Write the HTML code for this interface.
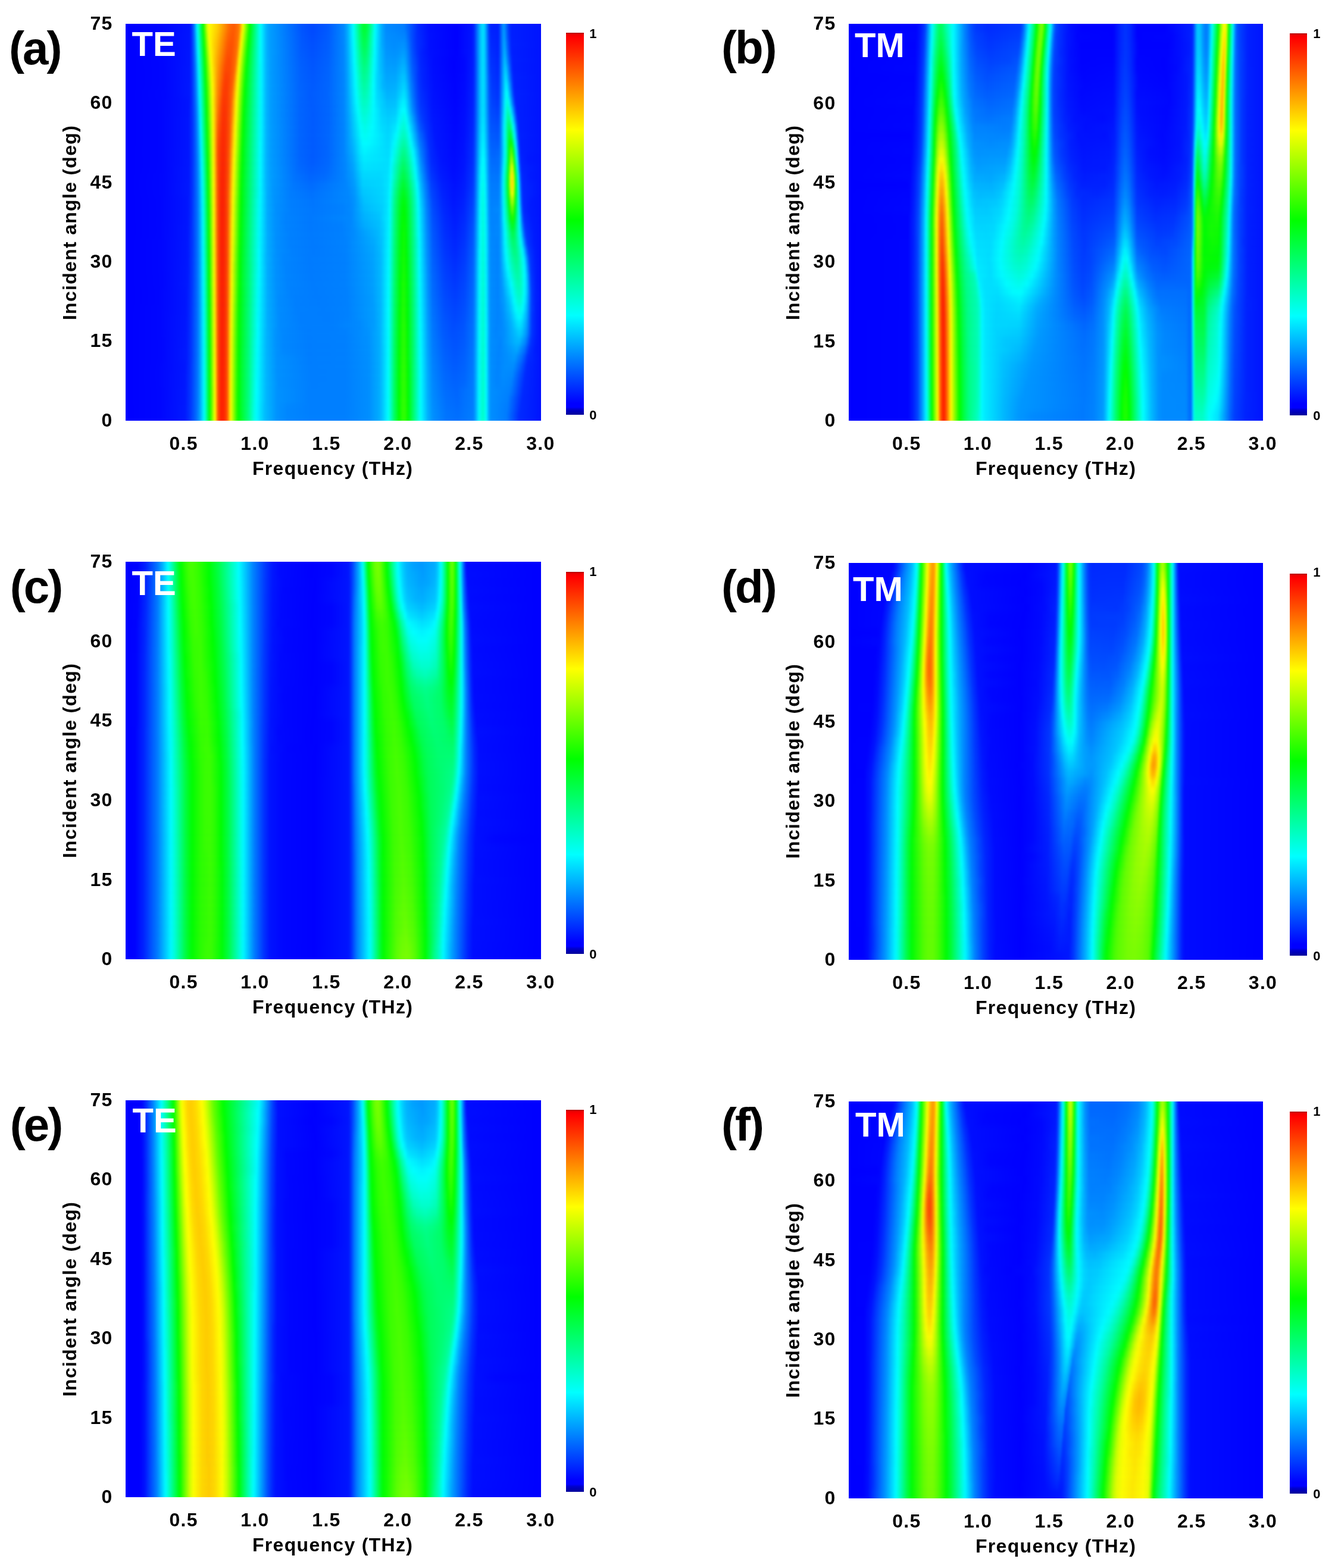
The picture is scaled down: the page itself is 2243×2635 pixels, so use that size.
<!DOCTYPE html>
<html lang="en"><head><meta charset="utf-8"><title>Absorption spectra versus incident angle</title>
<style>
html,body{margin:0;padding:0;background:#fff}
body{width:2243px;height:2635px;position:relative;overflow:hidden;font-family:"Liberation Sans",Arial,sans-serif;font-weight:bold;color:#000}
.p{position:absolute;left:0;top:0}
.h{position:absolute;width:696.8px;height:667.8px;overflow:hidden;background:#00f}
.g{position:absolute;left:0;width:697px;transform-origin:0 0;filter:url(#vb);}
.g i{display:block;width:697px;height:13.912px}
.t{position:absolute;white-space:nowrap;line-height:1;transform:translate(-50%,-50%)}
.yt,.xt,.xl,.yl{letter-spacing:1.3px}
.yt{position:absolute;white-space:nowrap;line-height:1;font-size:32px;transform:translate(-100%,-50%)}
.xt{position:absolute;white-space:nowrap;line-height:1;font-size:32px;transform:translate(-50%,-50%)}
.xl{position:absolute;white-space:nowrap;line-height:1;font-size:32px;transform:translate(-50%,-50%)}
.yl{position:absolute;white-space:nowrap;line-height:1;font-size:32px;transform:translate(-50%,-50%) rotate(-90deg)}
.pl{position:absolute;white-space:nowrap;line-height:1;letter-spacing:-3px;font-size:78px;transform:translate(0,-50%)}
.m{position:absolute;white-space:nowrap;line-height:1;font-size:58px;color:#fff;transform:translate(0,-50%)}
.cb{position:absolute;width:29.3px;height:641.5px;background:linear-gradient(180deg,#a00 0,#e00 3px,#f00 8px,#ff0 25.4%,#0f0 49%,#0ff 74%,#00f 97%,#00f 98%,#00c 98.6%,#009 100%)}
.ct{position:absolute;white-space:nowrap;line-height:1;font-size:22px;transform:translate(0,-50%)}
</style></head><body>
<svg width="0" height="0" style="position:absolute"><defs><filter id="vb" x="0" y="0" width="100%" height="100%" color-interpolation-filters="sRGB"><feGaussianBlur stdDeviation="1.5 5"/></filter></defs></svg>
<div class="h" style="left:211.1px;top:39.9px;width:697.7px;height:666.9px">
<div class="g" style="top:-27.8px;transform:scale(1.00129,0.99865)">
<i style="background:linear-gradient(90deg,#00f 0,#0005ff 62px,#0014ff 108px,#02f 110px,#0063ff 114px,#008dff 116px,#00f8ff 120px,#00ffd3 122px,#0f0 130px,#baff00 136px,#e9ff00 138px,#fffd00 140px,#ffcf00 154px,#ff6800 174px,#ff5a00 182px,#ff7800 190px,#ff9300 192px,#fff300 196px,#e0ff00 198px,#58ff00 204px,#07ff00 208px,#00ff1a 210px,#00ffe0 224px,#00fff7 226px,#00f4ff 228px,#00b4ff 236px,#009fff 242px,#0054ff 296px,#0049ff 314px,#005aff 340px,#08f 366px,#0af 372px,#00fffe 382px,#00ffcf 386px,#00ff60 394px,#00ff3a 398px,#00ff32 400px,#0f3 402px,#00ff4d 406px,#00ff7e 410px,#00fff2 418px,#00f4ff 420px,#00a9ff 430px,#008bff 437px,#007eff 467px,#0028ff 491px,#000fff 509px,#00f 555px,#0013ff 581px,#0029ff 585px,#00beff 595px,#00dfff 599px,#00dcff 601px,#00c4ff 603px,#004bff 609px,#002dff 611px,#0021ff 613px,#001fff 625px,#0030ff 627px,#008dff 633px,#09f 635px,#0036ff 643px,#001fff 647px,#0014ff 697px)"></i>
<i style="background:linear-gradient(90deg,#00f 0,#0005ff 62px,#0014ff 108px,#02f 110px,#0063ff 114px,#008dff 116px,#00f8ff 120px,#00ffd3 122px,#0f0 130px,#baff00 136px,#e9ff00 138px,#fffd00 140px,#ffcf00 154px,#ff6800 174px,#ff5a00 182px,#ff7800 190px,#ff9300 192px,#fff300 196px,#e0ff00 198px,#58ff00 204px,#07ff00 208px,#00ff1a 210px,#00ffe0 224px,#00fff7 226px,#00f4ff 228px,#00b4ff 236px,#009fff 242px,#0054ff 296px,#0049ff 314px,#005aff 340px,#08f 366px,#0af 372px,#00fffe 382px,#00ffcf 386px,#00ff60 394px,#00ff3a 398px,#00ff32 400px,#0f3 402px,#00ff4d 406px,#00ff7e 410px,#00fff2 418px,#00f4ff 420px,#00a9ff 430px,#008bff 437px,#007eff 467px,#0028ff 491px,#000fff 509px,#00f 555px,#0013ff 581px,#0029ff 585px,#00beff 595px,#00dfff 599px,#00dcff 601px,#00c4ff 603px,#004bff 609px,#002dff 611px,#0021ff 613px,#001fff 625px,#0030ff 627px,#008dff 633px,#09f 635px,#0036ff 643px,#001fff 647px,#0014ff 697px)"></i>
<i style="background:linear-gradient(90deg,#00f 0,#0005ff 62px,#0014ff 108px,#02f 110px,#0063ff 114px,#008dff 116px,#00f8ff 120px,#00ffd3 122px,#0f0 130px,#baff00 136px,#e9ff00 138px,#fffd00 140px,#ffcf00 154px,#ff6800 174px,#ff5a00 182px,#ff7800 190px,#ff9300 192px,#fff300 196px,#e0ff00 198px,#58ff00 204px,#07ff00 208px,#00ff1a 210px,#00ffe0 224px,#00fff7 226px,#00f4ff 228px,#00b4ff 236px,#009fff 242px,#0054ff 296px,#0049ff 314px,#005aff 340px,#08f 366px,#0af 372px,#00fffe 382px,#00ffcf 386px,#00ff60 394px,#00ff3a 398px,#00ff32 400px,#0f3 402px,#00ff4d 406px,#00ff7e 410px,#00fff2 418px,#00f4ff 420px,#00a9ff 430px,#008bff 437px,#007eff 467px,#0028ff 491px,#000fff 509px,#00f 555px,#0013ff 581px,#0029ff 585px,#00beff 595px,#00dfff 599px,#00dcff 601px,#00c4ff 603px,#004bff 609px,#002dff 611px,#0021ff 613px,#001fff 625px,#0030ff 627px,#008dff 633px,#09f 635px,#0036ff 643px,#001fff 647px,#0014ff 697px)"></i>
<i style="background:linear-gradient(90deg,#00f 0,#0005ff 62px,#0015ff 108px,#02f 110px,#005eff 114px,#0083ff 116px,#00eaff 120px,#00ffe2 122px,#00ff13 130px,#23ff00 132px,#d3ff00 138px,#f8ff00 140px,#fff500 142px,#ffc300 154px,#ff6300 172px,#f50 180px,#ff7100 188px,#ff8700 190px,#ffe500 194px,#ecff00 196px,#3aff00 204px,#14ff00 206px,#00ff0d 208px,#00ffe1 224px,#00fff7 226px,#00f4ff 228px,#00b4ff 236px,#009fff 242px,#0057ff 296px,#004cff 314px,#005cff 340px,#08f 366px,#00a9ff 372px,#00fcff 382px,#00ffd6 386px,#00ff6d 394px,#00ff4a 398px,#00ff42 400px,#00ff43 402px,#00ff5c 406px,#00fff8 418px,#00f0ff 420px,#0af 430px,#008fff 437px,#0085ff 469px,#0052ff 479px,#002eff 489px,#0010ff 509px,#00f 555px,#0014ff 581px,#0029ff 585px,#00beff 595px,#00dfff 599px,#00dcff 601px,#00c5ff 603px,#0050ff 609px,#0031ff 611px,#0025ff 613px,#0020ff 625px,#0030ff 627px,#008dff 633px,#009dff 635px,#008dff 637px,#006cff 639px,#003dff 643px,#001fff 647px,#0014ff 697px)"></i>
<i style="background:linear-gradient(90deg,#00f 0,#0005ff 62px,#0015ff 108px,#02f 110px,#0059ff 114px,#007bff 116px,#00dcff 120px,#00fff0 122px,#00ff26 130px,#0dff00 132px,#baff00 138px,#e7ff00 140px,#fffc00 142px,#ffde00 146px,#ffb800 154px,#ff5f00 170px,#ff5000 176px,#ff5400 180px,#ff6a00 186px,#ff7b00 188px,#f9ff00 194px,#48ff00 202px,#00ff01 206px,#00ffe2 224px,#00fff8 226px,#00f4ff 228px,#00b5ff 236px,#009fff 242px,#0059ff 296px,#0050ff 314px,#005eff 340px,#0087ff 366px,#00a7ff 372px,#00f7ff 382px,#00fff4 384px,#00ff7b 394px,#00ff5a 398px,#00ff53 400px,#00ff53 402px,#00ff6b 406px,#00fffd 418px,#00ecff 420px,#00acff 430px,#0093ff 437px,#008dff 451px,#0093ff 467px,#0087ff 471px,#004dff 481px,#0030ff 489px,#000eff 511px,#00f 555px,#0014ff 581px,#0029ff 585px,#00beff 595px,#00dfff 599px,#00dcff 601px,#00c6ff 603px,#0054ff 609px,#0036ff 611px,#0029ff 613px,#0021ff 625px,#0032ff 627px,#008fff 633px,#00a4ff 635px,#009bff 637px,#005eff 641px,#0021ff 647px,#0014ff 697px)"></i>
<i style="background:linear-gradient(90deg,#00f 0,#0005ff 62px,#0016ff 108px,#0039ff 112px,#0074ff 116px,#00fffd 122px,#00ff05 132px,#30ff00 134px,#a1ff00 138px,#d3ff00 140px,#f7ff00 142px,#fff100 144px,#ffaf00 154px,#ff5400 170px,#ff4f00 178px,#ff7100 186px,#ff9500 188px,#fff700 192px,#dcff00 194px,#2fff00 202px,#0cff00 204px,#00ff12 206px,#00ffe4 224px,#00fff8 226px,#00f5ff 228px,#00b5ff 236px,#00a0ff 242px,#005dff 294px,#0052ff 314px,#0060ff 340px,#0087ff 366px,#00a6ff 372px,#00f2ff 382px,#00fffa 384px,#00ff76 396px,#00ff63 400px,#00ff63 402px,#00ff79 406px,#00fcff 418px,#00c3ff 426px,#0097ff 437px,#0092ff 453px,#009eff 467px,#0091ff 471px,#0052ff 481px,#0032ff 489px,#001fff 497px,#000fff 511px,#0001ff 555px,#0015ff 581px,#002aff 585px,#00beff 595px,#00dfff 599px,#00dcff 601px,#00c7ff 603px,#0057ff 609px,#003aff 611px,#002dff 613px,#0023ff 625px,#03f 627px,#00abff 635px,#00abff 637px,#006cff 641px,#003aff 645px,#0026ff 647px,#001eff 649px,#0014ff 697px)"></i>
<i style="background:linear-gradient(90deg,#00f 0,#0005ff 62px,#0016ff 108px,#0038ff 112px,#006eff 116px,#0095ff 118px,#00f5ff 122px,#00ffda 124px,#00ff16 132px,#1cff00 134px,#beff00 140px,#e8ff00 142px,#fff900 144px,#ffd100 148px,#ffa600 154px,#ff5200 168px,#ff4800 172px,#ff4a00 176px,#ff6900 184px,#ff8700 186px,#ffe700 190px,#ecff00 192px,#3fff00 200px,#00ff05 204px,#00ffe5 224px,#00fff8 226px,#00f5ff 228px,#00b6ff 236px,#009cff 244px,#005fff 294px,#05f 314px,#0062ff 340px,#0087ff 366px,#00a4ff 372px,#00feff 384px,#00ff95 394px,#00ff72 400px,#00ff73 402px,#00ff87 406px,#00fff1 416px,#00f8ff 418px,#00c4ff 426px,#009cff 437px,#0098ff 453px,#0af 465px,#00a6ff 469px,#0058ff 481px,#0024ff 495px,#000dff 515px,#0001ff 551px,#0008ff 569px,#001bff 583px,#0043ff 587px,#00beff 595px,#00dfff 599px,#00dcff 601px,#00c8ff 603px,#005bff 609px,#003fff 611px,#0031ff 613px,#0026ff 625px,#0036ff 627px,#00b2ff 635px,#00bcff 637px,#0048ff 645px,#0020ff 649px,#0014ff 697px)"></i>
<i style="background:linear-gradient(90deg,#00f 0,#0005ff 64px,#0017ff 108px,#0036ff 112px,#0069ff 116px,#008cff 118px,#00e9ff 122px,#00ffe7 124px,#00ff25 132px,#0bff00 134px,#a9ff00 140px,#fbff00 144px,#ff9f00 154px,#ff5b00 164px,#ff4800 168px,#ff4a00 176px,#ff6300 182px,#ff7c00 184px,#fcff00 190px,#2aff00 200px,#08ff00 202px,#00ff13 204px,#00ffe5 224px,#00f5ff 228px,#00b6ff 236px,#009cff 244px,#0061ff 294px,#0057ff 314px,#0064ff 340px,#0087ff 366px,#00a3ff 372px,#00f8ff 384px,#00fff3 386px,#00ffa2 394px,#00ff82 400px,#00ff95 406px,#00fff6 416px,#00f5ff 418px,#00c5ff 426px,#00a1ff 437px,#00a0ff 453px,#00b7ff 465px,#00b3ff 469px,#005fff 481px,#0027ff 495px,#000eff 515px,#0001ff 551px,#0008ff 569px,#001cff 583px,#04f 587px,#00bfff 595px,#00dfff 599px,#0df 601px,#00c8ff 603px,#005fff 609px,#0043ff 611px,#0035ff 613px,#0029ff 625px,#0038ff 627px,#00baff 635px,#00cbff 637px,#00beff 639px,#003dff 647px,#0026ff 649px,#001eff 651px,#0014ff 697px)"></i>
<i style="background:linear-gradient(90deg,#00f 0,#0005ff 64px,#0017ff 108px,#0035ff 112px,#0065ff 116px,#0085ff 118px,#00deff 122px,#00fff2 124px,#00ff03 134px,#97ff00 140px,#efff00 144px,#fff100 146px,#f90 154px,#ff4500 166px,#ff3e00 170px,#ff4500 174px,#ff5e00 180px,#ff7300 182px,#fff000 188px,#e6ff00 190px,#3cff00 198px,#00ff05 202px,#00ffe6 224px,#00f5ff 228px,#00b6ff 236px,#009cff 244px,#0062ff 294px,#0059ff 314px,#0065ff 340px,#0086ff 366px,#00a1ff 372px,#00f2ff 384px,#00fffa 386px,#00ffa1 396px,#00ff91 400px,#00ffa2 406px,#00fffb 416px,#00d8ff 422px,#00a7ff 437px,#00a8ff 453px,#00c5ff 465px,#00c1ff 469px,#0067ff 481px,#0036ff 491px,#0025ff 497px,#000fff 515px,#0002ff 551px,#0009ff 569px,#001dff 583px,#0045ff 587px,#00bfff 595px,#00dfff 599px,#0df 601px,#00c9ff 603px,#0047ff 611px,#0036ff 615px,#002cff 625px,#003bff 627px,#00c0ff 635px,#00d9ff 637px,#00d8ff 639px,#004fff 647px,#0021ff 651px,#0014ff 697px)"></i>
<i style="background:linear-gradient(90deg,#00f 0,#0005ff 64px,#0018ff 108px,#0034ff 112px,#007eff 118px,#00fffd 124px,#00ff10 134px,#20ff00 136px,#e3ff00 144px,#fff900 146px,#ff9300 154px,#ff4500 164px,#ff3a00 168px,#ff4000 172px,#ff5900 178px,#ff6b00 180px,#faff00 188px,#2bff00 198px,#0aff00 200px,#00ff10 202px,#00ffe7 224px,#00f5ff 228px,#00b6ff 236px,#009dff 244px,#0065ff 292px,#005bff 314px,#06f 340px,#0086ff 366px,#00a0ff 372px,#00fdff 386px,#00ffbc 394px,#00ffa0 400px,#00ffb0 406px,#00fffe 416px,#00d9ff 422px,#00b6ff 432px,#00acff 439px,#00b0ff 453px,#00d4ff 467px,#00c3ff 471px,#007eff 479px,#004eff 487px,#0032ff 493px,#0024ff 499px,#000fff 517px,#0003ff 553px,#000aff 569px,#001eff 583px,#0046ff 587px,#00bfff 595px,#00dfff 599px,#0df 601px,#00caff 603px,#004bff 611px,#003aff 615px,#0030ff 625px,#003eff 627px,#00e4ff 637px,#00efff 639px,#00d8ff 641px,#04f 649px,#0029ff 651px,#001fff 653px,#0014ff 697px)"></i>
<i style="background:linear-gradient(90deg,#00f 0,#0006ff 66px,#0018ff 108px,#0034ff 112px,#0079ff 118px,#00f8ff 124px,#00ffda 126px,#00ff1b 134px,#14ff00 136px,#abff00 142px,#feff00 146px,#ff8e00 154px,#ff3c00 164px,#ff3b00 170px,#ff6200 178px,#ff7d00 180px,#fff000 186px,#e9ff00 188px,#41ff00 196px,#00ff01 200px,#00ffe7 224px,#00f5ff 228px,#00b7ff 236px,#009dff 244px,#0068ff 290px,#005cff 310px,#0065ff 338px,#0086ff 366px,#009eff 372px,#00f6ff 386px,#00fff8 388px,#00ffc9 394px,#00ffaf 400px,#00ffbd 406px,#00feff 416px,#0df 422px,#00b4ff 439px,#00b9ff 453px,#00e3ff 467px,#00d1ff 471px,#0079ff 481px,#0049ff 489px,#0030ff 495px,#0012ff 515px,#0003ff 553px,#000bff 569px,#0020ff 583px,#0048ff 587px,#00bfff 595px,#00dfff 599px,#0df 601px,#00caff 603px,#004fff 611px,#003eff 615px,#0034ff 625px,#0041ff 627px,#0ef 637px,#00fffc 639px,#00f8ff 641px,#005cff 649px,#0039ff 651px,#02f 653px,#0014ff 697px)"></i>
<i style="background:linear-gradient(90deg,#00f 0,#0005ff 60px,#0014ff 106px,#0023ff 110px,#005cff 116px,#0097ff 120px,#00efff 124px,#00ffe4 126px,#00ff25 134px,#0aff00 136px,#a1ff00 142px,#f8ff00 146px,#f80 154px,#ff4f00 160px,#ff3600 164px,#ff3b00 170px,#ff5700 176px,#ff6c00 178px,#fffe00 186px,#34ff00 196px,#12ff00 198px,#00ff09 200px,#00ffe8 224px,#00f5ff 228px,#00b7ff 236px,#009dff 244px,#06f 292px,#005cff 312px,#0067ff 340px,#0086ff 366px,#00a8ff 374px,#00fdff 388px,#00ffcb 396px,#00ffbf 400px,#00ffca 406px,#00fdff 416px,#00e1ff 422px,#00beff 439px,#00c2ff 453px,#00ecff 463px,#00f3ff 467px,#00e0ff 471px,#0084ff 481px,#004fff 489px,#0034ff 495px,#0013ff 515px,#0004ff 553px,#000cff 569px,#0021ff 583px,#0049ff 587px,#00c0ff 595px,#00dfff 599px,#0df 601px,#00cbff 603px,#0053ff 611px,#0043ff 615px,#0039ff 625px,#0046ff 627px,#0065ff 629px,#00f9ff 637px,#00ffe8 639px,#00ffe1 641px,#00fffd 643px,#0057ff 651px,#0034ff 653px,#0020ff 655px,#0014ff 697px)"></i>
<i style="background:linear-gradient(90deg,#00f 0,#0005ff 60px,#0014ff 106px,#0032ff 112px,#0070ff 118px,#0091ff 120px,#00e6ff 124px,#00ffed 126px,#02ff00 136px,#9f0 142px,#f4ff00 146px,#ffe500 148px,#ff8100 154px,#ff6900 156px,#ff3a00 162px,#ff3100 166px,#ff3b00 170px,#ff5b00 176px,#ff9700 180px,#ffe500 184px,#f4ff00 186px,#28ff00 196px,#09ff00 198px,#00ff10 200px,#00ffe8 224px,#00f5ff 228px,#00b7ff 236px,#009dff 244px,#06f 292px,#005cff 314px,#0067ff 340px,#0086ff 366px,#00a6ff 374px,#00fffb 390px,#00ffd8 396px,#00ffcd 400px,#00ffd6 406px,#00fcff 416px,#00d3ff 430px,#00c7ff 441px,#0cf 453px,#00fcff 463px,#0ff 469px,#0091ff 481px,#0058ff 489px,#003aff 495px,#0015ff 515px,#0005ff 553px,#000dff 569px,#0023ff 583px,#004bff 587px,#00c1ff 595px,#00e0ff 599px,#00deff 601px,#0cf 603px,#0057ff 611px,#004cff 613px,#0040ff 625px,#004dff 627px,#006bff 629px,#00fff8 637px,#00ffd2 639px,#00ffbc 641px,#00ffc6 643px,#00ffed 645px,#00e0ff 647px,#03f 655px,#001fff 657px,#0014ff 697px)"></i>
<i style="background:linear-gradient(90deg,#00f 0,#0005ff 60px,#0015ff 106px,#0032ff 112px,#006dff 118px,#008bff 120px,#0df 124px,#00fff6 126px,#00ff07 136px,#efff00 146px,#ffe700 148px,#ff7900 154px,#ff5f00 156px,#ff3500 162px,#ff3000 166px,#ff3b00 170px,#ff6100 176px,#ff7e00 178px,#fff100 184px,#e8ff00 186px,#1eff00 196px,#01ff00 198px,#00ff15 200px,#00ffe9 224px,#00f5ff 228px,#00b7ff 236px,#009dff 244px,#06f 292px,#005cff 314px,#0067ff 340px,#0086ff 366px,#00a3ff 374px,#00fff9 392px,#00ffde 398px,#00ffdb 402px,#00fbff 416px,#00d9ff 430px,#00cfff 441px,#00d9ff 453px,#00f7ff 459px,#00ffe6 467px,#00fff9 471px,#0067ff 489px,#004dff 493px,#0037ff 499px,#0017ff 515px,#0006ff 553px,#000eff 569px,#0025ff 583px,#004dff 587px,#00c3ff 595px,#00e3ff 599px,#00e0ff 601px,#00cfff 603px,#005cff 611px,#0051ff 613px,#0048ff 625px,#0054ff 627px,#0071ff 629px,#00e7ff 635px,#00ffed 637px,#00ff9b 641px,#00ff90 643px,#00ffa9 645px,#00ffda 647px,#00efff 649px,#005aff 655px,#0032ff 657px,#001fff 659px,#0014ff 697px)"></i>
<i style="background:linear-gradient(90deg,#00f 0,#0005ff 60px,#0015ff 106px,#0032ff 112px,#006aff 118px,#00abff 122px,#0ff 126px,#00ff0f 136px,#2f0 138px,#ebff00 146px,#ffe800 148px,#ff6f00 154px,#f50 156px,#ff3100 162px,#ff2e00 166px,#ff3b00 170px,#ff5100 174px,#ff6800 176px,#fffc00 184px,#38ff00 194px,#16ff00 196px,#00ff05 198px,#00ffea 224px,#00f5ff 228px,#00b7ff 236px,#009eff 244px,#06f 292px,#005cff 314px,#0067ff 340px,#0085ff 366px,#00a1ff 374px,#00fff9 394px,#00ffe7 402px,#00feff 414px,#00deff 430px,#00d5ff 441px,#00e8ff 453px,#00fdff 457px,#00ffdc 463px,#00ffd2 467px,#00fff4 473px,#00f6ff 475px,#006aff 491px,#0052ff 495px,#0035ff 503px,#0017ff 517px,#0007ff 553px,#000fff 569px,#0027ff 583px,#004fff 587px,#00c7ff 595px,#00e7ff 599px,#00e4ff 601px,#00d3ff 603px,#0061ff 611px,#0056ff 613px,#0050ff 625px,#005aff 627px,#0075ff 629px,#00efff 635px,#00ffe6 637px,#00ff82 641px,#00ff64 643px,#00ff68 645px,#00ff92 647px,#00ffcd 649px,#00faff 651px,#0053ff 657px,#002bff 659px,#001eff 661px,#0014ff 697px)"></i>
<i style="background:linear-gradient(90deg,#00f 0,#0005ff 60px,#0015ff 106px,#0032ff 112px,#0068ff 118px,#00a4ff 122px,#00f6ff 126px,#0fd 128px,#00ff17 136px,#1bff00 138px,#e7ff00 146px,#ffea00 148px,#ff6700 154px,#ff4c00 156px,#ff2d00 162px,#ff2d00 166px,#ff3b00 170px,#f50 174px,#ff6f00 176px,#ffe200 182px,#f7ff00 184px,#2eff00 194px,#0eff00 196px,#00ff0b 198px,#00ffeb 224px,#00f4ff 228px,#00b7ff 236px,#009eff 244px,#06f 292px,#005cff 314px,#0068ff 340px,#0085ff 366px,#009fff 374px,#00fffb 396px,#00fff3 402px,#00fdff 412px,#00d9ff 439px,#00dfff 445px,#00f9ff 453px,#00fffb 455px,#00ffc6 463px,#00ffbd 467px,#00ffcd 471px,#00ffef 475px,#00fbff 477px,#006eff 493px,#002fff 507px,#0017ff 519px,#0008ff 553px,#0010ff 569px,#0029ff 583px,#0052ff 587px,#00cbff 595px,#00ecff 599px,#00e9ff 601px,#00d8ff 603px,#0067ff 611px,#005cff 613px,#0056ff 625px,#005fff 627px,#0078ff 629px,#00efff 635px,#00ffe6 637px,#00ff40 643px,#00ff2b 645px,#00ff45 647px,#00ffcb 651px,#00f7ff 653px,#0075ff 657px,#003fff 659px,#0021ff 661px,#0014ff 697px)"></i>
<i style="background:linear-gradient(90deg,#00f 0,#0005ff 60px,#0015ff 106px,#0032ff 112px,#06f 118px,#009fff 122px,#0ef 126px,#00ffe7 128px,#00ff1f 136px,#13ff00 138px,#e3ff00 146px,#ffed00 148px,#ff6000 154px,#ff4500 156px,#ff2a00 162px,#ff2c00 166px,#ff3c00 170px,#ff5900 174px,#f70 176px,#ffec00 182px,#edff00 184px,#26ff00 194px,#08ff00 196px,#00ff10 198px,#00ffec 224px,#00fffc 226px,#00f3ff 228px,#00b7ff 236px,#009eff 244px,#06f 292px,#005cff 314px,#06f 338px,#0085ff 366px,#00b9ff 382px,#00feff 398px,#00feff 406px,#00dcff 439px,#00dfff 443px,#00f7ff 449px,#00fff4 453px,#00ffaf 463px,#00ffa5 467px,#00ffb4 471px,#00fffc 479px,#007fff 493px,#002eff 509px,#0017ff 521px,#0009ff 551px,#0010ff 567px,#002bff 583px,#05f 587px,#00d1ff 595px,#00f2ff 599px,#00efff 601px,#00deff 603px,#006cff 611px,#0062ff 613px,#005dff 625px,#0065ff 627px,#007aff 629px,#00ebff 635px,#00ffe9 637px,#00ffb4 639px,#00ff26 643px,#0bff00 645px,#12ff00 647px,#00ff23 649px,#00ffd1 653px,#00e8ff 655px,#0059ff 659px,#002aff 661px,#001eff 663px,#0014ff 697px)"></i>
<i style="background:linear-gradient(90deg,#00f 0,#0005ff 60px,#0016ff 106px,#0032ff 112px,#0064ff 118px,#009aff 122px,#00e6ff 126px,#00ffef 128px,#00ff27 136px,#0cff00 138px,#dfff00 146px,#ffef00 148px,#ff5d00 154px,#ff4100 156px,#ff2800 162px,#ff2b00 166px,#ff3d00 170px,#ff5f00 174px,#fff600 182px,#e3ff00 184px,#1eff00 194px,#02ff00 196px,#00ff14 198px,#00ffed 224px,#00fffd 226px,#00f2ff 228px,#00b7ff 236px,#009eff 244px,#06f 292px,#005cff 314px,#06f 338px,#0085ff 366px,#00b3ff 382px,#00e8ff 394px,#00f6ff 400px,#00deff 439px,#00e3ff 443px,#00f7ff 447px,#00ffe3 453px,#00ff96 463px,#00ff8b 467px,#00ff9b 471px,#00fff5 481px,#00f7ff 483px,#0080ff 495px,#002bff 511px,#0016ff 525px,#000aff 551px,#01f 567px,#002dff 583px,#0058ff 587px,#00d6ff 595px,#00f8ff 599px,#00f6ff 601px,#00e4ff 603px,#0072ff 611px,#0068ff 613px,#0064ff 619px,#006aff 627px,#009cff 631px,#00eaff 635px,#00ffe9 637px,#00ffb9 639px,#00ff17 643px,#3f0 645px,#59ff00 647px,#40ff00 649px,#00ff1b 651px,#00ff8a 653px,#00ffe3 655px,#00c9ff 657px,#0078ff 659px,#0039ff 661px,#001fff 663px,#0014ff 697px)"></i>
<i style="background:linear-gradient(90deg,#00f 0,#0005ff 60px,#0016ff 106px,#0032ff 112px,#0063ff 118px,#0095ff 122px,#00dfff 126px,#00fff8 128px,#00ff9a 132px,#00ff2f 136px,#05ff00 138px,#dcff00 146px,#fff100 148px,#ff5d00 154px,#ff4100 156px,#ff2600 162px,#ff2b00 166px,#ff3e00 170px,#ff6400 174px,#ff0 182px,#38ff00 192px,#00ff03 196px,#00ffef 224px,#00fffe 226px,#00f1ff 228px,#00b7ff 236px,#009eff 244px,#0067ff 292px,#005cff 314px,#0069ff 340px,#08f 368px,#00acff 382px,#00deff 394px,#00edff 400px,#00e1ff 441px,#0ff 447px,#00ff7e 463px,#00ff72 467px,#00ff92 473px,#00fff3 483px,#00f5ff 485px,#008eff 495px,#004dff 505px,#0029ff 513px,#0013ff 531px,#000bff 553px,#0015ff 569px,#002fff 583px,#005bff 587px,#00dcff 595px,#0ff 599px,#00fdff 601px,#00ebff 603px,#0078ff 611px,#006eff 613px,#006bff 619px,#0070ff 627px,#00a2ff 631px,#00f2ff 635px,#00ffdf 637px,#00ffb0 639px,#00ff63 641px,#00ff03 643px,#58ff00 645px,#92ff00 647px,#90ff00 649px,#3bff00 651px,#00ff42 653px,#00ffb3 655px,#00f5ff 657px,#009bff 659px,#0050ff 661px,#0024ff 663px,#0018ff 675px,#0014ff 697px)"></i>
<i style="background:linear-gradient(90deg,#00f 0,#0005ff 60px,#0017ff 106px,#0032ff 112px,#0076ff 120px,#00b3ff 124px,#0ff 128px,#00ffa2 132px,#00ff01 138px,#d9ff00 146px,#fff400 148px,#ff5f00 154px,#ff4100 156px,#ff2400 162px,#ff2a00 166px,#ff3e00 170px,#ff4e00 172px,#ff6a00 174px,#ffe200 180px,#f7ff00 182px,#31ff00 192px,#1f0 194px,#00ff07 196px,#0ff 226px,#00b7ff 236px,#009fff 244px,#006bff 290px,#0060ff 312px,#006aff 338px,#0087ff 368px,#00a5ff 382px,#00d6ff 394px,#00e4ff 400px,#00e0ff 434px,#00e4ff 441px,#00faff 445px,#00ff75 461px,#00ff5d 465px,#00ff5b 467px,#00ff7b 473px,#00fff4 485px,#00f2ff 487px,#009dff 495px,#0057ff 505px,#002fff 513px,#0018ff 529px,#000cff 551px,#0014ff 567px,#0032ff 583px,#005fff 587px,#00e3ff 595px,#00f9ff 597px,#00fff8 599px,#00fffb 601px,#00f1ff 603px,#0095ff 609px,#007dff 611px,#0073ff 613px,#0070ff 625px,#0078ff 627px,#008dff 629px,#00d7ff 633px,#00fff8 635px,#00ff94 639px,#00ff49 641px,#1eff00 643px,#86ff00 645px,#d1ff00 647px,#e4ff00 649px,#98ff00 651px,#10ff00 653px,#00ff75 655px,#00ffd4 657px,#00c8ff 659px,#0071ff 661px,#0034ff 663px,#0023ff 665px,#0014ff 697px)"></i>
<i style="background:linear-gradient(90deg,#00f 0,#0006ff 62px,#0017ff 106px,#03f 112px,#0074ff 120px,#00aeff 124px,#00f8ff 128px,#00ffdc 130px,#00ffab 132px,#00ff08 138px,#2fff00 140px,#d6ff00 146px,#fff600 148px,#ff6000 154px,#ff4100 156px,#ff2700 160px,#ff2400 164px,#ff3400 168px,#ff5100 172px,#ff7000 174px,#ffea00 180px,#efff00 182px,#2aff00 192px,#0cff00 194px,#00ff0b 196px,#00feff 226px,#00b7ff 236px,#009fff 244px,#0074ff 284px,#06f 310px,#006cff 334px,#0084ff 366px,#009fff 382px,#00d9ff 398px,#00daff 428px,#00e3ff 439px,#00f1ff 443px,#00fffc 445px,#00ff5f 461px,#00ff48 465px,#00ff45 467px,#00ff65 473px,#00fff8 487px,#00c0ff 493px,#008eff 499px,#05f 507px,#0037ff 513px,#001cff 529px,#000eff 551px,#0017ff 567px,#0035ff 583px,#0063ff 587px,#00caff 593px,#00fffe 597px,#00fff2 599px,#00f7ff 603px,#09f 609px,#0082ff 611px,#0078ff 613px,#07f 625px,#007fff 627px,#0096ff 629px,#00e5ff 633px,#00ffe6 635px,#00ff79 639px,#00ff30 641px,#3bff00 643px,#af0 645px,#fffd00 647px,#ffdb00 649px,#e2ff00 651px,#58ff00 653px,#00ff3a 655px,#00f5ff 659px,#0095ff 661px,#004cff 663px,#0028ff 665px,#001aff 679px,#0014ff 697px)"></i>
<i style="background:linear-gradient(90deg,#00f 0,#0006ff 62px,#0018ff 106px,#03f 112px,#0073ff 120px,#0af 124px,#00f2ff 128px,#00ffe3 130px,#00ffb3 132px,#00ff0e 138px,#29ff00 140px,#d3ff00 146px,#fff800 148px,#ff6100 154px,#ff4200 156px,#ff2600 160px,#ff2300 164px,#ff3400 168px,#f50 172px,#ff7500 174px,#fff100 180px,#e7ff00 182px,#25ff00 192px,#08ff00 194px,#00ff0f 196px,#00fcff 226px,#00b7ff 236px,#009bff 246px,#0079ff 282px,#006dff 312px,#0087ff 370px,#009eff 384px,#00d1ff 398px,#00d9ff 430px,#00e9ff 441px,#00f6ff 443px,#00fff4 445px,#0fa 451px,#00ff49 461px,#00ff31 465px,#00ff2f 467px,#00ff4f 473px,#00ffb4 483px,#00fffe 489px,#00bdff 495px,#008cff 501px,#0040ff 513px,#001fff 531px,#01f 553px,#001cff 569px,#0039ff 583px,#0067ff 587px,#0ef 595px,#00fff9 597px,#00ffec 599px,#0fe 601px,#00fdff 603px,#009eff 609px,#0086ff 611px,#007dff 613px,#007cff 625px,#0084ff 627px,#009bff 629px,#00ebff 633px,#00ffe0 635px,#00ff72 639px,#00ff2a 641px,#40ff00 643px,#b1ff00 645px,#fff400 647px,#ffd000 649px,#f6ff00 651px,#74ff00 653px,#00ff1d 655px,#00ffeb 659px,#00b2ff 661px,#0062ff 663px,#0031ff 665px,#0027ff 667px,#0014ff 697px)"></i>
<i style="background:linear-gradient(90deg,#00f 0,#0006ff 62px,#0018ff 106px,#0034ff 112px,#0072ff 120px,#00a7ff 124px,#00edff 128px,#00ffe9 130px,#00ffba 132px,#00ff13 138px,#24ff00 140px,#d0ff00 146px,#fffa00 148px,#ff6100 154px,#ff4200 156px,#ff2500 160px,#ff2300 164px,#ff3500 168px,#ff5800 172px,#fff800 180px,#e1ff00 182px,#1fff00 192px,#04ff00 194px,#00ff12 196px,#00fbff 226px,#00aeff 238px,#0098ff 248px,#007fff 276px,#0073ff 312px,#008aff 374px,#09f 384px,#00c8ff 398px,#00d7ff 430px,#00e5ff 439px,#00faff 443px,#00ffec 445px,#00ff9a 451px,#00ff46 459px,#00ff25 463px,#00ff1a 467px,#00ff3b 473px,#00ffa3 483px,#00ffef 489px,#00f6ff 491px,#00caff 495px,#08f 503px,#0048ff 513px,#0023ff 531px,#0014ff 551px,#001cff 567px,#003eff 583px,#006cff 587px,#00f3ff 595px,#00fff4 597px,#00ffe7 599px,#00ffea 601px,#00fffd 603px,#00a2ff 609px,#008aff 611px,#0080ff 613px,#0080ff 625px,#08f 627px,#009eff 629px,#00eaff 633px,#00ffe4 635px,#00ff7d 639px,#00ff3b 641px,#25ff00 643px,#8bff00 645px,#dbff00 647px,#fbff00 649px,#cdff00 651px,#60ff00 653px,#00ff1e 655px,#00ffdc 659px,#00c6ff 661px,#0074ff 663px,#003cff 665px,#0028ff 667px,#0014ff 697px)"></i>
<i style="background:linear-gradient(90deg,#00f 0,#0005ff 58px,#0015ff 104px,#0029ff 110px,#0071ff 120px,#00a4ff 124px,#00e9ff 128px,#00ffef 130px,#00ff8b 134px,#00ff18 138px,#1fff00 140px,#cdff00 146px,#fffc00 148px,#ff6200 154px,#ff4200 156px,#ff2400 160px,#f20 164px,#ff3500 168px,#ff5b00 172px,#fffe00 180px,#3bff00 190px,#0f0 194px,#00ffe7 222px,#00faff 226px,#00aeff 238px,#0095ff 250px,#0081ff 276px,#0078ff 314px,#008aff 376px,#0095ff 384px,#00c3ff 400px,#00d7ff 432px,#00edff 441px,#00feff 443px,#00ff8e 451px,#00ff37 459px,#00ff15 463px,#00ff09 467px,#00ff1a 471px,#00ff40 475px,#00ff96 483px,#00fffd 491px,#00d5ff 495px,#0081ff 505px,#0048ff 515px,#0025ff 533px,#0016ff 551px,#0020ff 567px,#0043ff 583px,#0071ff 587px,#00f7ff 595px,#00fff0 597px,#00ffe4 599px,#00ffe6 601px,#00fff9 603px,#00e7ff 605px,#00a4ff 609px,#008cff 611px,#0083ff 613px,#0083ff 625px,#008bff 627px,#00a0ff 629px,#00e6ff 633px,#00ffec 635px,#00ff8f 639px,#00ff57 641px,#00ff06 643px,#8fff00 647px,#a9ff00 649px,#87ff00 651px,#34ff00 653px,#00ff30 655px,#00ffd4 659px,#00d5ff 661px,#0086ff 663px,#0049ff 665px,#002aff 667px,#001aff 681px,#0014ff 697px)"></i>
<i style="background:linear-gradient(90deg,#00f 0,#0005ff 58px,#0015ff 104px,#0029ff 110px,#0071ff 120px,#00a3ff 124px,#00e5ff 128px,#00fff3 130px,#00ff90 134px,#00ff1d 138px,#1bff00 140px,#fffe00 148px,#ff6300 154px,#ff4200 156px,#ff2300 160px,#f20 164px,#ff3500 168px,#ff4300 170px,#ff5d00 172px,#fbff00 180px,#36ff00 190px,#00ff03 194px,#00ffe8 222px,#00f9ff 226px,#00aeff 238px,#0092ff 252px,#0081ff 278px,#007aff 316px,#0082ff 364px,#008dff 380px,#0bf 400px,#00d1ff 430px,#00e6ff 439px,#00fffd 443px,#0f8 451px,#00ff2e 459px,#00ff0c 463px,#0f0 467px,#00ff05 469px,#00ff23 473px,#00ff90 483px,#00fff8 491px,#00efff 493px,#0087ff 505px,#004eff 515px,#0029ff 533px,#0019ff 551px,#0023ff 567px,#0048ff 583px,#0076ff 587px,#00faff 595px,#0fe 597px,#00ffe1 599px,#00ffe4 601px,#00fff7 603px,#00e9ff 605px,#00a6ff 609px,#008eff 611px,#0085ff 613px,#008cff 627px,#009fff 629px,#00dfff 633px,#00fff6 635px,#00ffa3 639px,#00ff72 641px,#00ff30 643px,#15ff00 645px,#4aff00 647px,#60ff00 649px,#47ff00 651px,#0aff00 653px,#00ff43 655px,#00ffcd 659px,#00e6ff 661px,#005dff 665px,#03f 667px,#0028ff 669px,#001dff 677px,#0014ff 697px)"></i>
<i style="background:linear-gradient(90deg,#00f 0,#0005ff 58px,#0015ff 104px,#002aff 110px,#0070ff 120px,#00a1ff 124px,#00e2ff 128px,#00fff7 130px,#00ff95 134px,#00ff21 138px,#17ff00 140px,#fdff00 148px,#ff6400 154px,#ff4200 156px,#ff2300 160px,#f20 164px,#ff3600 168px,#f40 170px,#ff5f00 172px,#ffe000 178px,#f7ff00 180px,#32ff00 190px,#13ff00 192px,#00ff06 194px,#00ffea 222px,#00f8ff 226px,#00aeff 238px,#0095ff 250px,#0085ff 268px,#007bff 310px,#008aff 378px,#00b3ff 400px,#00c6ff 426px,#00f0ff 441px,#00fffb 443px,#00ff85 451px,#00ff2a 459px,#00ff07 463px,#03ff00 465px,#0f0 469px,#00ff1e 473px,#00ff8d 483px,#00fff4 491px,#00f2ff 493px,#008bff 505px,#0052ff 515px,#002aff 535px,#001cff 553px,#002aff 569px,#004dff 583px,#007aff 587px,#00fcff 595px,#00ffe0 599px,#00ffe2 601px,#00fff5 603px,#00ebff 605px,#00a8ff 609px,#0090ff 611px,#0086ff 613px,#0085ff 625px,#009dff 629px,#00feff 635px,#00ff8c 641px,#00ff1f 645px,#0bff00 647px,#1eff00 649px,#0fff00 651px,#00ff1c 653px,#00ff94 657px,#00f9ff 661px,#007aff 665px,#0049ff 667px,#002eff 669px,#001cff 681px,#0014ff 697px)"></i>
<i style="background:linear-gradient(90deg,#00f 0,#0005ff 58px,#0016ff 104px,#002bff 110px,#0070ff 120px,#00a0ff 124px,#00e0ff 128px,#00fffa 130px,#0f9 134px,#00ff25 138px,#14ff00 140px,#fbff00 148px,#ff6400 154px,#ff4200 156px,#ff2300 160px,#f20 164px,#ff3600 168px,#f40 170px,#ff6100 172px,#ffe400 178px,#f3ff00 180px,#2eff00 190px,#0fff00 192px,#00ff08 194px,#00ffeb 222px,#00f6ff 226px,#00aeff 238px,#0095ff 250px,#0085ff 268px,#007bff 310px,#0081ff 362px,#008cff 380px,#00acff 400px,#00c2ff 426px,#00d7ff 434px,#00f2ff 441px,#00fff8 443px,#00ff82 451px,#00ff26 459px,#00ff03 463px,#07ff00 465px,#04ff00 469px,#00ff1b 473px,#00ff89 483px,#00fff1 491px,#00f5ff 493px,#008eff 505px,#0056ff 515px,#002dff 535px,#001fff 553px,#002eff 569px,#0052ff 583px,#007fff 587px,#00feff 595px,#00ffdf 599px,#00ffe1 601px,#00fff4 603px,#00edff 605px,#0091ff 611px,#0087ff 613px,#0086ff 617px,#008bff 627px,#00b4ff 631px,#00f3ff 635px,#00ffeb 637px,#00ffcd 639px,#0f3 647px,#0f2 649px,#00ff27 651px,#00ff43 653px,#00fff7 661px,#0068ff 667px,#0043ff 669px,#0030ff 671px,#001cff 683px,#0014ff 697px)"></i>
<i style="background:linear-gradient(90deg,#00f 0,#0005ff 58px,#0016ff 104px,#0037ff 112px,#0070ff 120px,#009fff 124px,#00fffc 130px,#00ff9d 134px,#00ff29 138px,#10ff00 140px,#f8ff00 148px,#ff6500 154px,#ff4200 156px,#ff2300 160px,#ff1f00 162px,#ff2a00 166px,#ff4500 170px,#ff6200 172px,#ffe800 178px,#ef0 180px,#29ff00 190px,#0cff00 192px,#00ff0b 194px,#00ffed 222px,#00f5ff 226px,#00afff 238px,#0092ff 252px,#0083ff 274px,#007cff 312px,#0082ff 364px,#008dff 382px,#00baff 424px,#00ceff 432px,#00f4ff 441px,#00fff6 443px,#00ff7f 451px,#00ff23 459px,#0f0 463px,#0cff00 467px,#00ff06 471px,#00ff86 483px,#00ffef 491px,#00f8ff 493px,#0092ff 505px,#005aff 515px,#0030ff 535px,#02f 553px,#0031ff 569px,#0056ff 583px,#0083ff 587px,#00fffe 595px,#0fd 599px,#00ffe0 601px,#00fff2 603px,#0ef 605px,#0093ff 611px,#0087ff 615px,#008aff 627px,#00b1ff 631px,#00e9ff 635px,#00fff9 637px,#00ffdf 639px,#00ff62 647px,#00ff51 649px,#00ff50 651px,#00ff61 653px,#00ff7e 655px,#00ffec 661px,#00ebff 663px,#0060ff 669px,#0041ff 671px,#03f 673px,#001cff 685px,#0014ff 697px)"></i>
<i style="background:linear-gradient(90deg,#00f 0,#0006ff 60px,#0017ff 104px,#0037ff 112px,#0070ff 120px,#009eff 124px,#00fffe 130px,#00ffa0 134px,#00ff2c 138px,#0dff00 140px,#f6ff00 148px,#ffd100 150px,#ff6500 154px,#ff4200 156px,#ff2300 160px,#ff1f00 162px,#ff2b00 166px,#ff4500 170px,#ff6400 172px,#ffec00 178px,#eaff00 180px,#26ff00 190px,#09ff00 192px,#00ff0d 194px,#0fe 222px,#00f4ff 226px,#00afff 238px,#0092ff 252px,#0083ff 274px,#007cff 314px,#0084ff 370px,#00aeff 418px,#00c5ff 430px,#00f5ff 441px,#00fff4 443px,#00ff7c 451px,#00ff20 459px,#03ff00 463px,#0fff00 467px,#00ff03 471px,#00ff83 483px,#00fbff 493px,#0095ff 505px,#005dff 515px,#0034ff 535px,#0026ff 553px,#0035ff 569px,#005aff 583px,#0086ff 587px,#00fffc 595px,#00ffdc 599px,#00ffde 601px,#00fff1 603px,#00f0ff 605px,#0094ff 611px,#008aff 613px,#0085ff 625px,#09f 629px,#00fdff 637px,#00ff80 647px,#00ff68 651px,#00ff7f 655px,#00fff4 663px,#00e6ff 665px,#0063ff 671px,#0043ff 673px,#03f 675px,#001dff 685px,#0014ff 697px)"></i>
<i style="background:linear-gradient(90deg,#00f 0,#0006ff 60px,#0017ff 104px,#0038ff 112px,#0070ff 120px,#009dff 124px,#00fdff 130px,#00ffa4 134px,#00ff30 138px,#09ff00 140px,#f3ff00 148px,#ffd400 150px,#f60 154px,#ff4200 156px,#ff2300 160px,#ff1f00 162px,#ff2b00 166px,#ff4600 170px,#f60 172px,#fff000 178px,#e6ff00 180px,#6aff00 186px,#2f0 190px,#06ff00 192px,#00ff10 194px,#00fff0 222px,#00fffe 224px,#00f3ff 226px,#00afff 238px,#0090ff 254px,#0082ff 280px,#007cff 316px,#0083ff 368px,#00a8ff 416px,#00bdff 428px,#00f7ff 441px,#00fff2 443px,#00ff79 451px,#00ff1e 459px,#05ff00 463px,#1f0 467px,#00ff01 471px,#00ff81 483px,#00fdff 493px,#0098ff 505px,#0060ff 515px,#0037ff 535px,#0029ff 553px,#0039ff 569px,#005eff 583px,#0089ff 587px,#00e8ff 593px,#00fffa 595px,#00ffdb 599px,#0fd 601px,#00fff0 603px,#00f1ff 605px,#0096ff 611px,#008bff 613px,#0085ff 625px,#0098ff 629px,#00f5ff 637px,#00fff5 639px,#00ff8a 649px,#00ff7a 653px,#00ff8f 657px,#00fff2 665px,#0ef 667px,#0070ff 673px,#004dff 675px,#0037ff 677px,#001dff 687px,#0014ff 697px)"></i>
<i style="background:linear-gradient(90deg,#00f 0,#0006ff 60px,#0017ff 104px,#0039ff 112px,#0070ff 120px,#009cff 124px,#00fbff 130px,#00ffda 132px,#00ffa7 134px,#0f3 138px,#06ff00 140px,#f1ff00 148px,#ffd600 150px,#f60 154px,#ff4200 156px,#ff2300 160px,#f20 164px,#ff3600 168px,#ff4600 170px,#ff6700 172px,#fff400 178px,#e2ff00 180px,#65ff00 186px,#1eff00 190px,#03ff00 192px,#00ff12 194px,#0ff 224px,#00b7ff 236px,#0096ff 250px,#08f 264px,#007dff 308px,#0082ff 368px,#00a4ff 414px,#0bf 428px,#00f8ff 441px,#00fff0 443px,#0f7 451px,#00ff1b 459px,#08ff00 463px,#14ff00 467px,#01ff00 471px,#00ff10 473px,#00ff7e 483px,#00fffe 493px,#009aff 505px,#0063ff 515px,#003bff 535px,#002dff 553px,#003cff 569px,#0061ff 583px,#008cff 587px,#00eaff 593px,#00fff9 595px,#00ffd9 599px,#00ffdc 601px,#0fe 603px,#00f2ff 605px,#00b0ff 609px,#0097ff 611px,#008cff 613px,#0085ff 625px,#0096ff 629px,#0ff 639px,#00ffa2 649px,#00ff8a 655px,#00ff9d 659px,#00fff5 667px,#00efff 669px,#0074ff 675px,#004fff 677px,#0038ff 679px,#001fff 687px,#0014ff 697px)"></i>
<i style="background:linear-gradient(90deg,#00f 0,#0006ff 60px,#0018ff 104px,#0039ff 112px,#0070ff 120px,#009cff 124px,#00f9ff 130px,#0fd 132px,#00ffab 134px,#03ff00 140px,#ef0 148px,#ffd800 150px,#ff6700 154px,#ff4200 156px,#ff2300 160px,#f20 164px,#ff3700 168px,#ff4700 170px,#ff6900 172px,#fff800 178px,#3bff00 188px,#0f0 192px,#00ff26 196px,#00ff7d 208px,#00feff 224px,#00afff 238px,#0093ff 252px,#0085ff 270px,#007dff 310px,#0082ff 368px,#00a2ff 414px,#0bf 428px,#00f9ff 441px,#00ffef 443px,#00ff74 451px,#00ff19 459px,#00ff05 461px,#16ff00 467px,#04ff00 471px,#00ff0e 473px,#00ff7c 483px,#00fffc 493px,#0ef 495px,#008fff 507px,#06f 515px,#003fff 535px,#0031ff 553px,#0040ff 569px,#0063ff 583px,#008eff 587px,#00ebff 593px,#00fff8 595px,#00ffd8 599px,#00ffdb 601px,#00f3ff 605px,#00b1ff 609px,#0098ff 611px,#008cff 613px,#0085ff 625px,#0093ff 629px,#00fffe 641px,#00ffb9 649px,#00ff9a 655px,#00ff9a 657px,#00ffae 661px,#00ffeb 667px,#00fcff 669px,#00dfff 671px,#0062ff 677px,#0042ff 679px,#0032ff 681px,#0021ff 687px,#0014ff 697px)"></i>
<i style="background:linear-gradient(90deg,#00f 0,#0006ff 62px,#0018ff 104px,#003aff 112px,#0070ff 120px,#009bff 124px,#00f7ff 130px,#00ffe0 132px,#00ffae 134px,#0f0 140px,#ebff00 148px,#ffda00 150px,#ff6800 154px,#ff4200 156px,#ff2300 160px,#f20 164px,#ff3700 168px,#ff4800 170px,#ff6b00 172px,#fffb00 178px,#37ff00 188px,#00ff02 192px,#00ff28 196px,#00ff6f 206px,#00ffe5 220px,#00fcff 224px,#00afff 238px,#0093ff 252px,#0086ff 270px,#007dff 312px,#0082ff 368px,#00a1ff 414px,#00baff 428px,#00faff 441px,#00ffed 443px,#00ff72 451px,#00ff17 459px,#00ff03 461px,#18ff00 467px,#06ff00 471px,#00ff0c 473px,#00ff79 483px,#00fffa 493px,#00f0ff 495px,#0092ff 507px,#0069ff 515px,#0042ff 535px,#0035ff 553px,#0043ff 569px,#0065ff 583px,#0090ff 587px,#00ecff 593px,#00fff6 595px,#00ffd7 599px,#00ffd9 601px,#00f5ff 605px,#00b2ff 609px,#09f 611px,#008dff 613px,#0085ff 625px,#009cff 631px,#00faff 643px,#00ffb6 653px,#00ffa7 657px,#00ffa7 659px,#00ffbd 663px,#00fffc 669px,#00ebff 671px,#00caff 673px,#004eff 679px,#0036ff 681px,#001dff 689px,#0014ff 697px)"></i>
<i style="background:linear-gradient(90deg,#00f 0,#0006ff 62px,#0019ff 104px,#003aff 112px,#0070ff 120px,#009aff 124px,#00f5ff 130px,#00ffe2 132px,#00ffb1 134px,#00ff03 140px,#e9ff00 148px,#fd0 150px,#ff6800 154px,#ff4200 156px,#ff2300 160px,#f20 164px,#ff3700 168px,#ff4800 170px,#ff6c00 172px,#ff0 178px,#3f0 188px,#00ff05 192px,#00ff2a 196px,#00ff80 208px,#00ffe7 220px,#00fbff 224px,#00afff 238px,#0093ff 252px,#0085ff 272px,#007eff 314px,#0082ff 368px,#00a0ff 414px,#00baff 428px,#00fcff 441px,#00ffec 443px,#00ff70 451px,#00ff14 459px,#00ff01 461px,#18ff00 465px,#1aff00 467px,#08ff00 471px,#00ff09 473px,#0f7 483px,#00fff8 493px,#00f2ff 495px,#0094ff 507px,#006cff 515px,#0046ff 535px,#0039ff 553px,#0047ff 569px,#0067ff 583px,#0091ff 587px,#0ef 593px,#00fff5 595px,#00ffd6 599px,#00ffd8 601px,#00f6ff 605px,#00b3ff 609px,#09f 611px,#008eff 613px,#0085ff 625px,#0096ff 631px,#00fffe 647px,#00ffc0 655px,#00ffb2 659px,#00ffbe 663px,#00fff9 669px,#00d4ff 673px,#0059ff 679px,#003bff 681px,#001eff 689px,#0014ff 697px)"></i>
<i style="background:linear-gradient(90deg,#00f 0,#0005ff 56px,#0016ff 102px,#0030ff 110px,#0070ff 120px,#009aff 124px,#00f4ff 130px,#00ffe5 132px,#00ffb4 134px,#00ff06 140px,#3f0 142px,#e6ff00 148px,#ffdf00 150px,#ff6900 154px,#ff4200 156px,#ff2300 160px,#f20 164px,#ff3700 168px,#ff4900 170px,#ff6e00 172px,#fcff00 178px,#30ff00 188px,#1f0 190px,#00ff07 192px,#00ff81 208px,#00ffe9 220px,#00f9ff 224px,#00b0ff 238px,#0091ff 254px,#0083ff 278px,#007eff 318px,#0082ff 370px,#009fff 414px,#00b9ff 428px,#00fdff 441px,#00ffea 443px,#00ff6e 451px,#01ff00 461px,#1aff00 465px,#1cff00 467px,#00ff07 473px,#00ff75 483px,#00fff6 493px,#00f4ff 495px,#0096ff 507px,#006eff 515px,#0049ff 535px,#003dff 553px,#004aff 569px,#006aff 583px,#0093ff 587px,#00efff 593px,#00fff4 595px,#00ffd5 599px,#00ffd7 601px,#00f6ff 605px,#00b3ff 609px,#009aff 611px,#008eff 613px,#0085ff 625px,#009aff 633px,#00f9ff 649px,#00ffc9 657px,#00ffc0 661px,#00ffd3 665px,#00fffb 669px,#00d3ff 673px,#003fff 681px,#0024ff 687px,#0014ff 697px)"></i>
<i style="background:linear-gradient(90deg,#00f 0,#0005ff 56px,#0016ff 102px,#0031ff 110px,#0070ff 120px,#09f 124px,#00f2ff 130px,#00ffe7 132px,#00ffb7 134px,#00ff09 140px,#30ff00 142px,#e4ff00 148px,#ffe100 150px,#ff6a00 154px,#ff4300 156px,#ff2300 160px,#f20 164px,#ff3700 168px,#ff4900 170px,#ff7000 172px,#ffd800 176px,#f8ff00 178px,#2cff00 188px,#0eff00 190px,#00ff09 192px,#00ff82 208px,#00ffeb 220px,#00f8ff 224px,#00b0ff 238px,#008eff 256px,#0081ff 286px,#007eff 324px,#0082ff 370px,#009dff 414px,#00b9ff 428px,#00feff 441px,#00ffe9 443px,#00ff6c 451px,#03ff00 461px,#1cff00 465px,#1fff00 467px,#00ff05 473px,#00ff74 483px,#00fff4 493px,#00f6ff 495px,#09f 507px,#0071ff 515px,#004dff 535px,#0041ff 553px,#004dff 569px,#006cff 583px,#0095ff 587px,#00f0ff 593px,#00fff3 595px,#00ffd4 599px,#00ffd6 601px,#00f7ff 605px,#00b4ff 609px,#009aff 611px,#008fff 613px,#0085ff 625px,#009eff 635px,#00cdff 645px,#00f8ff 651px,#00fff6 653px,#00ffdb 657px,#00ffd0 661px,#00ffd4 663px,#00fff2 667px,#00f7ff 669px,#00c9ff 673px,#0040ff 681px,#0024ff 687px,#0014ff 697px)"></i>
<i style="background:linear-gradient(90deg,#00f 0,#0006ff 58px,#0016ff 102px,#0032ff 110px,#0070ff 120px,#09f 124px,#00f0ff 130px,#00ffe9 132px,#00ffb9 134px,#00ff0c 140px,#2dff00 142px,#e1ff00 148px,#ffe400 150px,#ff6a00 154px,#ff4300 156px,#ff2300 160px,#f20 164px,#ff3700 168px,#ff4a00 170px,#ff7100 172px,#ffdc00 176px,#f5ff00 178px,#74ff00 184px,#29ff00 188px,#0bff00 190px,#00ff0b 192px,#00ff84 208px,#00ffed 220px,#00f7ff 224px,#00b0ff 238px,#008fff 256px,#0081ff 288px,#007fff 332px,#0083ff 372px,#009fff 416px,#00b8ff 428px,#0ff 441px,#00ffe8 443px,#00ff6b 451px,#00ff0e 459px,#05ff00 461px,#1eff00 465px,#21ff00 467px,#00ff03 473px,#00ff72 483px,#00fff2 493px,#00f8ff 495px,#009bff 507px,#0074ff 515px,#0050ff 535px,#0045ff 553px,#0050ff 569px,#006eff 583px,#0096ff 587px,#00f1ff 593px,#00fff2 595px,#00ffd3 599px,#00ffd6 601px,#00f8ff 605px,#00b4ff 609px,#009bff 611px,#008fff 613px,#0085ff 625px,#0093ff 633px,#00c1ff 645px,#00fffc 655px,#00ffe7 661px,#00fff5 665px,#00f9ff 667px,#00bcff 673px,#003fff 681px,#001fff 689px,#0014ff 697px)"></i>
<i style="background:linear-gradient(90deg,#00f 0,#0006ff 58px,#0017ff 102px,#03f 110px,#0070ff 120px,#0098ff 124px,#00efff 130px,#00ffeb 132px,#00ffbc 134px,#00ff0f 140px,#2bff00 142px,#deff00 148px,#ffe600 150px,#ff6b00 154px,#ff4300 156px,#ff2300 160px,#f20 164px,#ff3700 168px,#ff4a00 170px,#ff7300 172px,#ffdf00 176px,#f2ff00 178px,#70ff00 184px,#26ff00 188px,#09ff00 190px,#00ff0d 192px,#00ff75 206px,#00ffef 220px,#00f5ff 224px,#00b0ff 238px,#008dff 258px,#0080ff 294px,#007fff 340px,#0083ff 372px,#009eff 416px,#00b8ff 428px,#00fffe 441px,#00ffe7 443px,#00ff69 451px,#00ff0c 459px,#07ff00 461px,#20ff00 465px,#23ff00 467px,#00ff01 473px,#00ff70 483px,#00fff1 493px,#00f9ff 495px,#009dff 507px,#0076ff 515px,#0054ff 535px,#0048ff 553px,#0053ff 569px,#0070ff 583px,#0098ff 587px,#00f2ff 593px,#00fff1 595px,#00ffd2 599px,#00ffd5 601px,#00f8ff 605px,#00b5ff 609px,#009bff 611px,#008fff 613px,#0085ff 625px,#0090ff 633px,#00b5ff 645px,#00f4ff 657px,#00fdff 661px,#00f0ff 665px,#00aeff 673px,#003eff 681px,#0031ff 683px,#001aff 691px,#0014ff 697px)"></i>
<i style="background:linear-gradient(90deg,#00f 0,#0006ff 58px,#0017ff 102px,#03f 110px,#0070ff 120px,#0098ff 124px,#0ef 130px,#00ffed 132px,#00ffbe 134px,#0f1 140px,#28ff00 142px,#dcff00 148px,#ffe800 150px,#ff6c00 154px,#ff4300 156px,#ff2300 160px,#ff1f00 162px,#ff2b00 166px,#ff4b00 170px,#ff7400 172px,#ffe200 176px,#efff00 178px,#6dff00 184px,#23ff00 188px,#07ff00 190px,#00ff0f 192px,#00ff76 206px,#00fff0 220px,#00fffe 222px,#00f4ff 224px,#00b0ff 238px,#008dff 258px,#0080ff 296px,#0080ff 348px,#008cff 394px,#00a0ff 418px,#00b8ff 428px,#00fffd 441px,#00ffe6 443px,#00ff68 451px,#00ff0b 459px,#09ff00 461px,#2f0 465px,#25ff00 467px,#1fff00 469px,#0f0 473px,#00ff6f 483px,#00ffef 493px,#00fbff 495px,#009fff 507px,#0079ff 515px,#0059ff 533px,#004cff 551px,#0054ff 567px,#0072ff 583px,#009aff 587px,#00f3ff 593px,#00fff0 595px,#00ffd1 599px,#00ffd4 601px,#00f9ff 605px,#009bff 611px,#008fff 613px,#0085ff 623px,#008aff 631px,#009bff 639px,#00b1ff 647px,#0df 657px,#00e4ff 661px,#00d9ff 665px,#00a1ff 673px,#003eff 681px,#0032ff 683px,#001aff 691px,#0014ff 697px)"></i>
<i style="background:linear-gradient(90deg,#00f 0,#0006ff 58px,#0018ff 102px,#0034ff 110px,#0070ff 120px,#0098ff 124px,#00edff 130px,#0fe 132px,#00ffc0 134px,#00ff13 140px,#26ff00 142px,#d9ff00 148px,#ffea00 150px,#ff6d00 154px,#ff4300 156px,#ff2300 160px,#ff1f00 162px,#ff2b00 166px,#ff4b00 170px,#ff7600 172px,#ffe500 176px,#ecff00 178px,#69ff00 184px,#20ff00 188px,#05ff00 190px,#0f1 192px,#0f7 206px,#00feff 222px,#00b7ff 236px,#0094ff 252px,#0089ff 264px,#007fff 306px,#0081ff 368px,#0094ff 408px,#00b0ff 426px,#00f2ff 439px,#00fffc 441px,#00ffe5 443px,#0f6 451px,#00ff09 459px,#0bff00 461px,#24ff00 465px,#26ff00 467px,#21ff00 469px,#02ff00 473px,#00ff6e 483px,#0fe 493px,#00fcff 495px,#00a1ff 507px,#007bff 515px,#005cff 533px,#0050ff 549px,#0057ff 567px,#0073ff 583px,#009bff 587px,#00f4ff 593px,#00ffef 595px,#00ffd1 599px,#00ffd3 601px,#00f9ff 605px,#009bff 611px,#008fff 613px,#0086ff 621px,#008fff 635px,#00cfff 661px,#00c5ff 665px,#0093ff 673px,#003bff 681px,#0031ff 683px,#001aff 691px,#0014ff 697px)"></i>
<i style="background:linear-gradient(90deg,#00f 0,#0006ff 60px,#0018ff 102px,#0035ff 110px,#0071ff 120px,#0098ff 124px,#00ecff 130px,#00fff0 132px,#00ffc2 134px,#00ff16 140px,#24ff00 142px,#d7ff00 148px,#ffed00 150px,#ff6d00 154px,#ff4300 156px,#ff2300 160px,#ff1f00 162px,#ff2b00 166px,#ff4c00 170px,#f70 172px,#ffe800 176px,#e9ff00 178px,#6f0 184px,#1eff00 188px,#03ff00 190px,#00ff12 192px,#00ff78 206px,#00ffe5 218px,#00fdff 222px,#00b7ff 236px,#0094ff 252px,#0089ff 264px,#007fff 306px,#0081ff 368px,#0093ff 408px,#00afff 426px,#00f2ff 439px,#00fffc 441px,#00ffe4 443px,#00ff65 451px,#00ff08 459px,#0cff00 461px,#26ff00 465px,#28ff00 467px,#2f0 469px,#04ff00 473px,#00ff6d 483px,#00ffd6 491px,#00fdff 495px,#00a3ff 507px,#007eff 515px,#005dff 535px,#0053ff 553px,#005cff 569px,#0075ff 583px,#009cff 587px,#00f5ff 593px,#00ffef 595px,#00ffd0 599px,#00ffd3 601px,#00ffe6 603px,#00faff 605px,#00b5ff 609px,#009bff 611px,#008fff 613px,#0086ff 629px,#00b7ff 655px,#00b8ff 661px,#0087ff 671px,#003cff 679px,#0031ff 681px,#001cff 689px,#0014ff 697px)"></i>
<i style="background:linear-gradient(90deg,#00f 0,#0006ff 60px,#0019ff 102px,#0036ff 110px,#0071ff 120px,#0098ff 124px,#00ebff 130px,#00fff1 132px,#00ffc4 134px,#00ff18 140px,#2f0 142px,#d5ff00 148px,#ffef00 150px,#ff6e00 154px,#ff4300 156px,#ff2300 160px,#ff1f00 162px,#ff2b00 166px,#ff4c00 170px,#ff7900 172px,#ffea00 176px,#e6ff00 178px,#3dff00 186px,#01ff00 190px,#00ff35 196px,#00ff79 206px,#00ffe7 218px,#00fbff 222px,#00b7ff 236px,#0095ff 252px,#0089ff 264px,#007fff 308px,#0081ff 368px,#0092ff 408px,#00afff 426px,#00cbff 432px,#00f3ff 439px,#00fffb 441px,#00ffe3 443px,#00ff64 451px,#00ff06 459px,#0eff00 461px,#27ff00 465px,#2aff00 467px,#24ff00 469px,#05ff00 473px,#00ff6c 483px,#00ffd5 491px,#00feff 495px,#00a5ff 507px,#0080ff 515px,#0060ff 535px,#0056ff 553px,#005fff 569px,#07f 583px,#009eff 587px,#00f6ff 593px,#0fe 595px,#00ffcf 599px,#00ffd2 601px,#00ffe5 603px,#00faff 605px,#00b5ff 609px,#009bff 611px,#008fff 613px,#0085ff 627px,#00a7ff 657px,#0072ff 669px,#03f 677px,#001cff 687px,#0014ff 697px)"></i>
<i style="background:linear-gradient(90deg,#00f 0,#0006ff 60px,#0019ff 102px,#0036ff 110px,#0071ff 120px,#0098ff 124px,#00eaff 130px,#00fff2 132px,#00ffc6 134px,#00ff19 140px,#20ff00 142px,#d2ff00 148px,#fff100 150px,#ff6f00 154px,#ff4300 156px,#ff2300 160px,#ff1f00 162px,#ff2b00 166px,#ff4d00 170px,#ff7a00 172px,#ffed00 176px,#e4ff00 178px,#3aff00 186px,#00ff01 190px,#00ff26 194px,#00ff7a 206px,#00ffe9 218px,#00faff 222px,#00b7ff 236px,#0092ff 254px,#007fff 308px,#0081ff 368px,#0091ff 408px,#00afff 426px,#00cbff 432px,#00f3ff 439px,#00fffa 441px,#00ffe2 443px,#00ff63 451px,#00ff1c 457px,#00ff05 459px,#0fff00 461px,#29ff00 465px,#2bff00 467px,#25ff00 469px,#06ff00 473px,#00ff6b 483px,#00ffd4 491px,#0ff 495px,#00a7ff 507px,#0083ff 515px,#0063ff 535px,#0059ff 553px,#0062ff 569px,#0078ff 583px,#009fff 587px,#00f7ff 593px,#00ffcf 599px,#00ffd2 601px,#00ffe5 603px,#00fbff 605px,#00b5ff 609px,#009bff 611px,#008fff 613px,#0085ff 625px,#09f 653px,#006bff 665px,#002cff 675px,#0014ff 697px)"></i>
<i style="background:linear-gradient(90deg,#00f 0,#0006ff 56px,#0016ff 100px,#002eff 108px,#0072ff 120px,#0098ff 124px,#00e9ff 130px,#00fff4 132px,#00ffc7 134px,#00ff1b 140px,#1eff00 142px,#d0ff00 148px,#fff300 150px,#ff7000 154px,#ff4300 156px,#ff2300 160px,#ff1f00 162px,#ff2b00 166px,#ff4d00 170px,#ff7b00 172px,#ffef00 176px,#e2ff00 178px,#38ff00 186px,#00ff02 190px,#00ff27 194px,#00ff7b 206px,#00ffeb 218px,#00f8ff 222px,#00b7ff 236px,#0092ff 254px,#007fff 310px,#0081ff 368px,#0090ff 408px,#00aeff 426px,#00cbff 432px,#00f4ff 439px,#00fffa 441px,#00ffe1 443px,#00ff63 451px,#00ff1b 457px,#00ff04 459px,#10ff00 461px,#2aff00 465px,#2dff00 467px,#27ff00 469px,#08ff00 473px,#00ff0e 475px,#00fffe 495px,#00a9ff 507px,#0085ff 515px,#06f 535px,#005cff 553px,#0064ff 569px,#0079ff 583px,#00a0ff 587px,#00f7ff 593px,#00ffce 599px,#00ffd1 601px,#00ffe4 603px,#00fbff 605px,#00b5ff 609px,#009bff 611px,#008fff 613px,#0085ff 625px,#008fff 637px,#008eff 651px,#0067ff 661px,#0029ff 673px,#0014ff 697px)"></i>
<i style="background:linear-gradient(90deg,#00f 0,#0006ff 56px,#0017ff 100px,#0038ff 110px,#0072ff 120px,#0098ff 124px,#00e9ff 130px,#00fff4 132px,#00ffc9 134px,#00ff1c 140px,#1dff00 142px,#ceff00 148px,#fff500 150px,#ff7000 154px,#ff4300 156px,#ff2300 160px,#ff1f00 162px,#ff2b00 166px,#ff4d00 170px,#ff7c00 172px,#fff100 176px,#e0ff00 178px,#36ff00 186px,#00ff03 190px,#00ff28 194px,#00ff7d 206px,#00ffed 218px,#00f7ff 222px,#00b7ff 236px,#0092ff 254px,#007fff 310px,#0080ff 368px,#0090ff 408px,#00aeff 426px,#00cbff 432px,#00f4ff 439px,#00fff9 441px,#00ffe1 443px,#00ff62 451px,#00ff1a 457px,#00ff03 459px,#12ff00 461px,#2cff00 465px,#2eff00 467px,#28ff00 469px,#09ff00 473px,#00ff0d 475px,#00fffd 495px,#00abff 507px,#0087ff 515px,#0069ff 535px,#0060ff 553px,#0067ff 569px,#007bff 583px,#00a0ff 587px,#00f8ff 593px,#00ffce 599px,#00ffd1 601px,#00ffe4 603px,#00fbff 605px,#00b5ff 609px,#009bff 611px,#008fff 613px,#0085ff 623px,#008cff 635px,#08f 649px,#0029ff 671px,#0014ff 697px)"></i>
<i style="background:linear-gradient(90deg,#00f 0,#0006ff 56px,#0017ff 100px,#0039ff 110px,#0073ff 120px,#0098ff 124px,#00e8ff 130px,#00fff5 132px,#00ffca 134px,#00ff1e 140px,#1bff00 142px,#cf0 148px,#fff700 150px,#ff7100 154px,#ff4300 156px,#ff2300 160px,#ff1f00 162px,#ff2b00 166px,#ff4e00 170px,#ff7d00 172px,#fff200 176px,#deff00 178px,#35ff00 186px,#00ff04 190px,#00ff29 194px,#00ff7d 206px,#00fff0 218px,#00fffe 220px,#00f5ff 222px,#00b7ff 236px,#0090ff 256px,#007fff 312px,#0080ff 368px,#008fff 408px,#00aeff 426px,#00cbff 432px,#00f5ff 439px,#00fff9 441px,#00ffe0 443px,#00ff62 451px,#00ff02 459px,#13ff00 461px,#2dff00 465px,#2fff00 467px,#29ff00 469px,#0aff00 473px,#00ff0d 475px,#00fffd 495px,#00acff 507px,#008aff 515px,#006cff 535px,#0063ff 553px,#0069ff 569px,#007cff 583px,#00a1ff 587px,#00f8ff 593px,#00ffce 599px,#00ffd0 601px,#00ffe4 603px,#00fbff 605px,#00b6ff 609px,#009bff 611px,#008fff 613px,#0085ff 623px,#008aff 635px,#0083ff 647px,#0029ff 669px,#0014ff 697px)"></i>
<i style="background:linear-gradient(90deg,#00f 0,#0006ff 58px,#0018ff 100px,#003aff 110px,#0074ff 120px,#09f 124px,#00e8ff 130px,#00fff6 132px,#00ffcb 134px,#00ff1f 140px,#1aff00 142px,#fff900 150px,#ff7200 154px,#ff4300 156px,#ff2300 160px,#ff1f00 162px,#ff2b00 166px,#ff4e00 170px,#ff7e00 172px,#fff400 176px,#df0 178px,#3f0 186px,#13ff00 188px,#00ff05 190px,#00ff2a 194px,#00ff7e 206px,#00ffe1 216px,#0ff 220px,#00b7ff 236px,#0093ff 254px,#0080ff 308px,#0080ff 368px,#008fff 408px,#00aeff 426px,#00cbff 432px,#00f5ff 439px,#00fff8 441px,#00ffe0 443px,#00ff61 451px,#00ff01 459px,#2eff00 465px,#2aff00 469px,#0aff00 473px,#00ff0c 475px,#00ffe9 493px,#00fffc 495px,#00f2ff 497px,#00aeff 507px,#008cff 515px,#006fff 535px,#06f 555px,#007cff 583px,#00a1ff 587px,#00f8ff 593px,#00ffcd 599px,#00ffd0 601px,#00ffe4 603px,#00fcff 605px,#00b6ff 609px,#009bff 611px,#008fff 613px,#0082ff 643px,#0079ff 647px,#0029ff 667px,#0014ff 697px)"></i>
<i style="background:linear-gradient(90deg,#00f 0,#0006ff 58px,#0018ff 100px,#003bff 110px,#0074ff 120px,#09f 124px,#00e8ff 130px,#00fff6 132px,#00ffcb 134px,#00ff1f 140px,#19ff00 142px,#fffb00 150px,#ff7300 154px,#ff4300 156px,#ff2300 160px,#ff1f00 162px,#ff2b00 166px,#ff4e00 170px,#ff7e00 172px,#fff500 176px,#dcff00 178px,#32ff00 186px,#12ff00 188px,#00ff06 190px,#00ff2a 194px,#00ff7f 206px,#00ffe3 216px,#00fdff 220px,#00b7ff 236px,#0093ff 254px,#0080ff 308px,#0080ff 368px,#008fff 408px,#00aeff 426px,#00cbff 432px,#00f5ff 439px,#00fff8 441px,#00ffe0 443px,#00ff61 451px,#0f0 459px,#14ff00 461px,#2fff00 465px,#31ff00 467px,#2bff00 469px,#0bff00 473px,#00ff0b 475px,#00ffe9 493px,#00fffc 495px,#00f2ff 497px,#00afff 507px,#008eff 515px,#0070ff 537px,#0069ff 557px,#007dff 583px,#00a2ff 587px,#00f9ff 593px,#00ffd8 597px,#00ffcd 599px,#00ffd0 601px,#00ffe3 603px,#00fcff 605px,#00b6ff 609px,#009bff 611px,#008fff 613px,#0080ff 641px,#0029ff 665px,#0014ff 697px)"></i>
<i style="background:linear-gradient(90deg,#00f 0,#0006ff 58px,#0019ff 100px,#003cff 110px,#0075ff 120px,#009aff 124px,#00e7ff 130px,#00fff7 132px,#0fc 134px,#00ff20 140px,#19ff00 142px,#fffd00 150px,#ff7300 154px,#ff4300 156px,#ff2300 160px,#ff1f00 162px,#ff2b00 166px,#ff4e00 170px,#ff7f00 172px,#fff500 176px,#dbff00 178px,#31ff00 186px,#12ff00 188px,#00ff07 190px,#00ff2b 194px,#00ff70 204px,#00ffe6 216px,#00fbff 220px,#00bdff 234px,#0093ff 254px,#0087ff 272px,#0080ff 310px,#0080ff 368px,#008fff 408px,#00aeff 426px,#00cbff 432px,#00f5ff 439px,#00fff8 441px,#00ffdf 443px,#00ff61 451px,#0f0 459px,#25ff00 463px,#32ff00 467px,#2cff00 469px,#0cff00 473px,#00ff0b 475px,#00ffe9 493px,#00fffc 495px,#00f3ff 497px,#00b1ff 507px,#0090ff 515px,#0073ff 537px,#006cff 557px,#007dff 583px,#00a2ff 587px,#00f9ff 593px,#00ffd8 597px,#00ffcd 599px,#00ffd0 601px,#00ffe3 603px,#00fcff 605px,#00b6ff 609px,#009bff 611px,#008fff 613px,#007cff 641px,#002aff 663px,#0014ff 697px)"></i>
<i style="background:linear-gradient(90deg,#00f 0,#0006ff 58px,#0019ff 100px,#03f 108px,#0068ff 118px,#009aff 124px,#00e7ff 130px,#00fff7 132px,#0fc 134px,#00ff20 140px,#19ff00 142px,#fffe00 150px,#ff7400 154px,#ff4300 156px,#ff2300 160px,#ff1f00 162px,#ff2b00 166px,#ff4e00 170px,#ff7f00 172px,#fff600 176px,#dbff00 178px,#31ff00 186px,#1f0 188px,#00ff07 190px,#00ff81 206px,#00ffe8 216px,#00faff 220px,#00bdff 234px,#0093ff 254px,#0087ff 272px,#0080ff 310px,#0080ff 368px,#008fff 408px,#00aeff 426px,#00cbff 432px,#00f5ff 439px,#00fff8 441px,#00ffdf 443px,#00ff61 451px,#01ff00 459px,#30ff00 465px,#2cff00 469px,#0cff00 473px,#00ff0b 475px,#00ffe9 493px,#00fffc 495px,#00f3ff 497px,#00b2ff 507px,#0092ff 515px,#0075ff 537px,#006fff 557px,#007eff 583px,#00a2ff 587px,#00f8ff 593px,#00ffd8 597px,#00ffcd 599px,#00ffd0 601px,#00ffe3 603px,#00fcff 605px,#00b6ff 609px,#009bff 611px,#008fff 613px,#007cff 639px,#002aff 661px,#0014ff 697px)"></i>
<i style="background:linear-gradient(90deg,#00f 0,#0006ff 58px,#0019ff 100px,#03f 108px,#0068ff 118px,#009aff 124px,#00e7ff 130px,#00fff7 132px,#0fc 134px,#00ff20 140px,#19ff00 142px,#fffe00 150px,#ff7400 154px,#ff4300 156px,#ff2300 160px,#ff1f00 162px,#ff2b00 166px,#ff4e00 170px,#ff7f00 172px,#fff600 176px,#dbff00 178px,#31ff00 186px,#1f0 188px,#00ff07 190px,#00ff81 206px,#00ffe8 216px,#00faff 220px,#00bdff 234px,#0093ff 254px,#0087ff 272px,#0080ff 310px,#0080ff 368px,#008fff 408px,#00aeff 426px,#00cbff 432px,#00f5ff 439px,#00fff8 441px,#00ffdf 443px,#00ff61 451px,#01ff00 459px,#30ff00 465px,#2cff00 469px,#0cff00 473px,#00ff0b 475px,#00ffe9 493px,#00fffc 495px,#00f3ff 497px,#00b2ff 507px,#0092ff 515px,#0075ff 537px,#006fff 557px,#007eff 583px,#00a2ff 587px,#00f8ff 593px,#00ffd8 597px,#00ffcd 599px,#00ffd0 601px,#00ffe3 603px,#00fcff 605px,#00b6ff 609px,#009bff 611px,#008fff 613px,#007cff 639px,#002aff 661px,#0014ff 697px)"></i>
<i style="background:linear-gradient(90deg,#00f 0,#0006ff 58px,#0019ff 100px,#03f 108px,#0068ff 118px,#009aff 124px,#00e7ff 130px,#00fff7 132px,#0fc 134px,#00ff20 140px,#19ff00 142px,#fffe00 150px,#ff7400 154px,#ff4300 156px,#ff2300 160px,#ff1f00 162px,#ff2b00 166px,#ff4e00 170px,#ff7f00 172px,#fff600 176px,#dbff00 178px,#31ff00 186px,#1f0 188px,#00ff07 190px,#00ff81 206px,#00ffe8 216px,#00faff 220px,#00bdff 234px,#0093ff 254px,#0087ff 272px,#0080ff 310px,#0080ff 368px,#008fff 408px,#00aeff 426px,#00cbff 432px,#00f5ff 439px,#00fff8 441px,#00ffdf 443px,#00ff61 451px,#01ff00 459px,#30ff00 465px,#2cff00 469px,#0cff00 473px,#00ff0b 475px,#00ffe9 493px,#00fffc 495px,#00f3ff 497px,#00b2ff 507px,#0092ff 515px,#0075ff 537px,#006fff 557px,#007eff 583px,#00a2ff 587px,#00f8ff 593px,#00ffd8 597px,#00ffcd 599px,#00ffd0 601px,#00ffe3 603px,#00fcff 605px,#00b6ff 609px,#009bff 611px,#008fff 613px,#007cff 639px,#002aff 661px,#0014ff 697px)"></i>
</div></div>
<div class="m" style="left:221.6px;top:74.4px">TE</div>
<div class="pl" style="left:15.1px;top:81.2px">(a)</div>
<div class="yt" style="left:189.6px;top:705.8px">0</div>
<div class="yt" style="left:189.6px;top:572.4px">15</div>
<div class="yt" style="left:189.6px;top:439px">30</div>
<div class="yt" style="left:189.6px;top:305.7px">45</div>
<div class="yt" style="left:189.6px;top:172.3px">60</div>
<div class="yt" style="left:189.6px;top:38.9px">75</div>
<div class="xt" style="left:308.6px;top:744.8px">0.5</div>
<div class="xt" style="left:428.5px;top:744.8px">1.0</div>
<div class="xt" style="left:548.5px;top:744.8px">1.5</div>
<div class="xt" style="left:668.5px;top:744.8px">2.0</div>
<div class="xt" style="left:788.4px;top:744.8px">2.5</div>
<div class="xt" style="left:908.4px;top:744.8px">3.0</div>
<div class="xl" style="left:559.1px;top:786.8px">Frequency (THz)</div>
<div class="yl" style="left:117.1px;top:373.7px">Incident angle (deg)</div>
<div class="cb" style="left:951.3px;top:55.2px"></div>
<div class="ct" style="left:990.3px;top:56.9px">1</div>
<div class="ct" style="left:990.3px;top:697.7px">0</div>
<div class="h" style="left:1426px;top:40.1px;width:696.1px;height:666.8px">
<div class="g" style="top:-27.8px;transform:scale(0.99900,0.99850)">
<i style="background:linear-gradient(90deg,#00f 0,#0003ff 114px,#001bff 122px,#003cff 128px,#05f 130px,#00fcff 140px,#00ff75 150px,#00ff57 154px,#00ff6d 158px,#00ffd8 170px,#00faff 176px,#08f 194px,#004dff 206px,#0038ff 214px,#002cff 234px,#0037ff 288px,#003fff 290px,#06f 294px,#00e8ff 302px,#00fff1 304px,#00ff89 310px,#00ff04 316px,#4fff00 320px,#6bff00 322px,#79ff00 324px,#72ff00 326px,#4bff00 328px,#0fff00 330px,#00ff35 332px,#00ff76 334px,#00ffa8 336px,#00ffda 338px,#00efff 340px,#008dff 344px,#004aff 348px,#002dff 356px,#000fff 372px,#00f 392px,#00f 445px,#0020ff 455px,#03f 465px,#0027ff 473px,#0001ff 485px,#00f 531px,#001fff 577px,#0031ff 579px,#00b0ff 585px,#00caff 587px,#00c0ff 591px,#008dff 597px,#007bff 601px,#0082ff 603px,#0096ff 605px,#00daff 609px,#00fff8 611px,#0f4 619px,#00ff0d 621px,#32ff00 623px,#acff00 627px,#dcff00 629px,#fdff00 631px,#fff600 633px,#deff00 635px,#81ff00 637px,#12ff00 639px,#00ff4f 641px,#00ffdb 645px,#00dfff 647px,#00a3ff 649px,#0074ff 651px,#0058ff 653px,#0043ff 657px,#0020ff 671px,#0014ff 697px)"></i>
<i style="background:linear-gradient(90deg,#00f 0,#0003ff 114px,#001bff 122px,#003cff 128px,#05f 130px,#00fcff 140px,#00ff75 150px,#00ff57 154px,#00ff6d 158px,#00ffd8 170px,#00faff 176px,#08f 194px,#004dff 206px,#0038ff 214px,#002cff 234px,#0037ff 288px,#003fff 290px,#06f 294px,#00e8ff 302px,#00fff1 304px,#00ff89 310px,#00ff04 316px,#4fff00 320px,#6bff00 322px,#79ff00 324px,#72ff00 326px,#4bff00 328px,#0fff00 330px,#00ff35 332px,#00ff76 334px,#00ffa8 336px,#00ffda 338px,#00efff 340px,#008dff 344px,#004aff 348px,#002dff 356px,#000fff 372px,#00f 392px,#00f 445px,#0020ff 455px,#03f 465px,#0027ff 473px,#0001ff 485px,#00f 531px,#001fff 577px,#0031ff 579px,#00b0ff 585px,#00caff 587px,#00c0ff 591px,#008dff 597px,#007bff 601px,#0082ff 603px,#0096ff 605px,#00daff 609px,#00fff8 611px,#0f4 619px,#00ff0d 621px,#32ff00 623px,#acff00 627px,#dcff00 629px,#fdff00 631px,#fff600 633px,#deff00 635px,#81ff00 637px,#12ff00 639px,#00ff4f 641px,#00ffdb 645px,#00dfff 647px,#00a3ff 649px,#0074ff 651px,#0058ff 653px,#0043ff 657px,#0020ff 671px,#0014ff 697px)"></i>
<i style="background:linear-gradient(90deg,#00f 0,#0003ff 114px,#001bff 122px,#003cff 128px,#05f 130px,#00fcff 140px,#00ff75 150px,#00ff57 154px,#00ff6d 158px,#00ffd8 170px,#00faff 176px,#08f 194px,#004dff 206px,#0038ff 214px,#002cff 234px,#0037ff 288px,#003fff 290px,#06f 294px,#00e8ff 302px,#00fff1 304px,#00ff89 310px,#00ff04 316px,#4fff00 320px,#6bff00 322px,#79ff00 324px,#72ff00 326px,#4bff00 328px,#0fff00 330px,#00ff35 332px,#00ff76 334px,#00ffa8 336px,#00ffda 338px,#00efff 340px,#008dff 344px,#004aff 348px,#002dff 356px,#000fff 372px,#00f 392px,#00f 445px,#0020ff 455px,#03f 465px,#0027ff 473px,#0001ff 485px,#00f 531px,#001fff 577px,#0031ff 579px,#00b0ff 585px,#00caff 587px,#00c0ff 591px,#008dff 597px,#007bff 601px,#0082ff 603px,#0096ff 605px,#00daff 609px,#00fff8 611px,#0f4 619px,#00ff0d 621px,#32ff00 623px,#acff00 627px,#dcff00 629px,#fdff00 631px,#fff600 633px,#deff00 635px,#81ff00 637px,#12ff00 639px,#00ff4f 641px,#00ffdb 645px,#00dfff 647px,#00a3ff 649px,#0074ff 651px,#0058ff 653px,#0043ff 657px,#0020ff 671px,#0014ff 697px)"></i>
<i style="background:linear-gradient(90deg,#00f 0,#0004ff 114px,#001eff 122px,#0043ff 128px,#00fffa 140px,#00ff81 148px,#00ff4b 154px,#00ff6f 160px,#00fff5 174px,#00faff 176px,#007eff 196px,#0059ff 204px,#0042ff 212px,#0031ff 236px,#003cff 286px,#0041ff 288px,#0062ff 292px,#0098ff 296px,#0ff 302px,#00ff73 310px,#00ff17 314px,#18ff00 316px,#63ff00 320px,#76ff00 322px,#76ff00 324px,#58ff00 326px,#2f0 328px,#00ff1f 330px,#00ff98 334px,#00fffa 338px,#07f 344px,#0056ff 346px,#0042ff 348px,#003aff 350px,#0017ff 366px,#0004ff 384px,#00f 445px,#0020ff 455px,#0034ff 465px,#0027ff 473px,#0001ff 485px,#0004ff 543px,#0020ff 577px,#0032ff 579px,#00b2ff 585px,#00cbff 587px,#00c1ff 591px,#008eff 597px,#007cff 601px,#0084ff 603px,#09f 605px,#00e1ff 609px,#00fff0 611px,#00ff34 619px,#08ff00 621px,#8bff00 625px,#c6ff00 627px,#f5ff00 629px,#ffed00 631px,#ffeb00 633px,#d5ff00 635px,#00ff05 639px,#00ff5c 641px,#00ffe8 645px,#00d5ff 647px,#009cff 649px,#0071ff 651px,#0058ff 653px,#003cff 659px,#0020ff 671px,#0014ff 697px)"></i>
<i style="background:linear-gradient(90deg,#00f 0,#0002ff 112px,#01f 118px,#0036ff 126px,#06f 130px,#00e9ff 138px,#00fff2 140px,#00ff73 148px,#00ff3e 154px,#00ff43 156px,#00ff5f 160px,#00fff3 174px,#00fbff 176px,#0095ff 192px,#0057ff 206px,#0042ff 216px,#0036ff 236px,#0045ff 286px,#004fff 288px,#07f 292px,#00f2ff 300px,#00ffe9 302px,#00ff84 308px,#06ff00 314px,#3f0 316px,#58ff00 318px,#71ff00 320px,#78ff00 322px,#63ff00 324px,#00ff09 328px,#00ff85 332px,#00ffe4 336px,#00e8ff 338px,#008bff 342px,#004bff 346px,#03f 352px,#0014ff 368px,#0001ff 390px,#0001ff 445px,#0021ff 455px,#0035ff 465px,#002dff 471px,#0001ff 487px,#0001ff 537px,#0018ff 571px,#0021ff 577px,#0034ff 579px,#00b4ff 585px,#00cdff 587px,#00c4ff 591px,#0091ff 597px,#0080ff 601px,#08f 603px,#009eff 605px,#00e9ff 609px,#00ffe6 611px,#0f2 619px,#1dff00 621px,#deff00 627px,#fff400 629px,#ffdc00 631px,#ffe900 633px,#c6ff00 635px,#54ff00 637px,#00ff1b 639px,#00fff4 645px,#00cbff 647px,#0095ff 649px,#006eff 651px,#0058ff 653px,#003dff 659px,#0020ff 671px,#0014ff 697px)"></i>
<i style="background:linear-gradient(90deg,#00f 0,#0003ff 112px,#0013ff 118px,#003bff 126px,#006dff 130px,#00f1ff 138px,#00ffea 140px,#00ffa0 144px,#00ff65 148px,#00ff30 154px,#00ff32 156px,#00ff61 162px,#00ffef 174px,#00fdff 176px,#00a1ff 190px,#0062ff 204px,#004aff 214px,#003cff 236px,#0049ff 284px,#0051ff 286px,#0073ff 290px,#00e7ff 298px,#00fff5 300px,#00ff94 306px,#00ff6e 308px,#00ff0f 312px,#21ff00 314px,#4aff00 316px,#68ff00 318px,#76ff00 320px,#6cff00 322px,#46ff00 324px,#0fff00 326px,#00ff31 328px,#00ff6e 330px,#00fffe 336px,#007aff 342px,#04f 346px,#0028ff 356px,#000eff 372px,#0002ff 392px,#0002ff 445px,#02f 455px,#0036ff 465px,#002fff 471px,#0002ff 487px,#0002ff 537px,#0018ff 571px,#02f 577px,#0036ff 579px,#00b7ff 585px,#00d1ff 587px,#00c8ff 591px,#0096ff 597px,#0085ff 601px,#008dff 603px,#00a4ff 605px,#00f3ff 609px,#00ffda 611px,#00ff10 619px,#3f0 621px,#bf0 625px,#f4ff00 627px,#ffd000 631px,#ffef00 633px,#b1ff00 635px,#3aff00 637px,#00ff2f 639px,#0ff 645px,#0090ff 649px,#006cff 651px,#0045ff 657px,#0020ff 671px,#0014ff 697px)"></i>
<i style="background:linear-gradient(90deg,#00f 0,#0004ff 112px,#001dff 120px,#0040ff 126px,#0093ff 132px,#00f8ff 138px,#00ff72 146px,#00ff40 150px,#00ff20 154px,#00ff21 156px,#00ff50 162px,#00ff7c 166px,#0ff 176px,#00a4ff 190px,#0067ff 204px,#004eff 216px,#0042ff 238px,#0048ff 270px,#0054ff 284px,#08f 290px,#00fdff 298px,#00ff7f 306px,#00ff24 310px,#0cff00 312px,#5bff00 316px,#70ff00 318px,#71ff00 320px,#56ff00 322px,#27ff00 324px,#00ff15 326px,#00ff89 330px,#00ffe3 334px,#00ebff 336px,#006dff 342px,#0040ff 346px,#01f 370px,#0002ff 392px,#0003ff 445px,#0029ff 457px,#0038ff 465px,#002bff 473px,#0004ff 485px,#0001ff 531px,#000dff 557px,#0024ff 577px,#0038ff 579px,#00bcff 585px,#00d5ff 587px,#00cdff 591px,#009cff 597px,#008bff 601px,#0094ff 603px,#00acff 605px,#00feff 609px,#03ff00 619px,#d1ff00 625px,#fff700 627px,#ffd300 629px,#ffc800 631px,#fffc00 633px,#98ff00 635px,#20ff00 637px,#00ff3e 639px,#00ffc8 643px,#00f5ff 645px,#008bff 649px,#006aff 651px,#0046ff 657px,#0020ff 671px,#0014ff 697px)"></i>
<i style="background:linear-gradient(90deg,#00f 0,#0005ff 112px,#0020ff 120px,#0045ff 126px,#009aff 132px,#00fffe 138px,#00ff85 144px,#00ff47 148px,#00ff1e 152px,#00ff10 154px,#00ff0f 156px,#00ff2b 160px,#00ff54 164px,#00fffc 176px,#00a6ff 190px,#006cff 204px,#0057ff 214px,#0049ff 236px,#0058ff 282px,#0085ff 288px,#00f3ff 296px,#00ffeb 298px,#00ff8f 304px,#00ff0a 310px,#24ff00 312px,#6f0 316px,#71ff00 318px,#63ff00 320px,#3eff00 322px,#09ff00 324px,#00ff6c 328px,#00fff4 334px,#00dbff 336px,#0086ff 340px,#004bff 344px,#003eff 346px,#002fff 352px,#000fff 372px,#0003ff 392px,#0005ff 445px,#0031ff 459px,#003bff 465px,#002dff 473px,#0005ff 485px,#0001ff 531px,#000aff 553px,#0026ff 577px,#003aff 579px,#00c1ff 585px,#00dbff 587px,#00d3ff 591px,#00a3ff 597px,#0092ff 601px,#009bff 603px,#00b5ff 605px,#00dbff 607px,#00fff5 609px,#00ff29 617px,#17ff00 619px,#e5ff00 625px,#ffe600 627px,#ffc800 629px,#ffc800 631px,#f0ff00 633px,#09ff00 637px,#00ff4b 639px,#00ffd3 643px,#00ecff 645px,#08f 649px,#0069ff 651px,#003eff 659px,#0021ff 671px,#0014ff 697px)"></i>
<i style="background:linear-gradient(90deg,#00f 0,#0002ff 110px,#0012ff 116px,#0038ff 124px,#0065ff 128px,#00e3ff 136px,#00fff6 138px,#0f7 144px,#00ff38 148px,#00ff0c 152px,#02ff00 154px,#00ff07 158px,#00ff2c 162px,#00ff78 168px,#00fff8 176px,#00f6ff 178px,#00a9ff 190px,#07f 202px,#005dff 214px,#0050ff 232px,#005dff 280px,#0084ff 286px,#00ebff 294px,#00fff5 296px,#00ff9b 302px,#00ff7a 304px,#0f2 308px,#0dff00 310px,#57ff00 314px,#6aff00 316px,#6aff00 318px,#51ff00 320px,#27ff00 322px,#00ff0f 324px,#00ff7d 328px,#00feff 334px,#007eff 340px,#0048ff 344px,#003dff 346px,#0014ff 368px,#0004ff 394px,#0007ff 445px,#03f 459px,#003dff 465px,#0035ff 471px,#0006ff 487px,#0002ff 535px,#0018ff 569px,#0028ff 577px,#003dff 579px,#00c7ff 585px,#00e2ff 587px,#00daff 591px,#0af 597px,#009aff 601px,#00a4ff 603px,#00bfff 605px,#00e6ff 607px,#00ffe8 609px,#00ff17 617px,#2bff00 619px,#f7ff00 625px,#ffd900 627px,#ffc000 629px,#ffcf00 631px,#dcff00 633px,#6f0 635px,#00ff0a 637px,#00ffdc 643px,#00e5ff 645px,#0085ff 649px,#0069ff 651px,#003eff 659px,#0021ff 671px,#0014ff 697px)"></i>
<i style="background:linear-gradient(90deg,#00f 0,#0003ff 110px,#0014ff 116px,#003bff 124px,#006bff 128px,#00eaff 136px,#0fe 138px,#00ff6a 144px,#00ff28 148px,#06ff00 152px,#14ff00 154px,#17ff00 156px,#00ff04 160px,#00ff18 162px,#00ff68 168px,#00fff2 176px,#00f9ff 178px,#00adff 190px,#007cff 202px,#0063ff 214px,#0057ff 234px,#0062ff 278px,#0083ff 284px,#00afff 288px,#00fffd 294px,#00ff8a 302px,#00ff0b 308px,#20ff00 310px,#5eff00 314px,#69ff00 316px,#5fff00 318px,#41ff00 320px,#14ff00 322px,#00ff20 324px,#00ff87 328px,#00f7ff 334px,#007aff 340px,#0046ff 344px,#003cff 346px,#0013ff 370px,#0006ff 396px,#0008ff 445px,#0036ff 459px,#0041ff 465px,#0038ff 471px,#0008ff 487px,#0003ff 535px,#0018ff 569px,#002aff 577px,#0040ff 579px,#00ceff 585px,#00e9ff 587px,#00e1ff 591px,#00b3ff 597px,#00a3ff 601px,#00adff 603px,#00c9ff 605px,#00f2ff 607px,#00ffda 609px,#00ff05 617px,#cbff00 623px,#fff800 625px,#ffcd00 627px,#fb0 629px,#ffda00 631px,#c6ff00 633px,#50ff00 635px,#00ff1a 637px,#00ffe4 643px,#00dfff 645px,#0083ff 649px,#0069ff 651px,#003fff 659px,#0021ff 671px,#0014ff 697px)"></i>
<i style="background:linear-gradient(90deg,#00f 0,#0004ff 110px,#001eff 118px,#003fff 124px,#00acff 132px,#00f1ff 136px,#00ffe5 138px,#00ff5c 144px,#00ff17 148px,#03ff00 150px,#28ff00 154px,#2bff00 156px,#2f0 158px,#00ff04 162px,#00ff57 168px,#00ffea 176px,#00fdff 178px,#00b1ff 190px,#007bff 204px,#0069ff 214px,#005eff 232px,#0067ff 276px,#0076ff 280px,#0096ff 284px,#00f9ff 292px,#00ff96 300px,#00ff76 302px,#00ff24 306px,#07ff00 308px,#2eff00 310px,#60ff00 314px,#64ff00 316px,#54ff00 318px,#08ff00 322px,#00ff89 328px,#00f7ff 334px,#0079ff 340px,#0045ff 344px,#002fff 352px,#0016ff 368px,#0007ff 392px,#000bff 445px,#0039ff 459px,#04f 465px,#003bff 471px,#000bff 485px,#0005ff 539px,#0017ff 567px,#002cff 577px,#0043ff 579px,#00d5ff 585px,#00f2ff 587px,#00eaff 591px,#00bdff 597px,#00adff 601px,#00b7ff 603px,#00d4ff 605px,#0ff 607px,#00ff2f 615px,#0dff00 617px,#df0 623px,#ffea00 625px,#ffc500 627px,#ffb900 629px,#ffe900 631px,#b2ff00 633px,#3dff00 635px,#00ff25 637px,#00ffea 643px,#00daff 645px,#0082ff 649px,#0069ff 651px,#003fff 659px,#0021ff 671px,#0014ff 697px)"></i>
<i style="background:linear-gradient(90deg,#00f 0,#0006ff 110px,#0020ff 118px,#0043ff 124px,#00b2ff 132px,#00f8ff 136px,#00ffdc 138px,#00ff4c 144px,#00ff05 148px,#2fff00 152px,#3eff00 154px,#42ff00 156px,#39ff00 158px,#00ff07 164px,#00ff65 170px,#00fff8 178px,#00a4ff 194px,#0074ff 210px,#0065ff 236px,#0070ff 276px,#0095ff 282px,#00f1ff 290px,#00fff2 292px,#0f8 300px,#00ff15 306px,#13ff00 308px,#35ff00 310px,#5dff00 314px,#5bff00 316px,#48ff00 318px,#00ff03 322px,#00ff8d 328px,#00f7ff 334px,#007aff 340px,#0047ff 344px,#0030ff 352px,#0018ff 368px,#0009ff 392px,#000cff 443px,#01f 447px,#0031ff 455px,#0048ff 465px,#003fff 471px,#000eff 485px,#0006ff 541px,#001aff 569px,#002eff 577px,#0046ff 579px,#00deff 585px,#00fbff 587px,#00f4ff 591px,#00c6ff 597px,#00b7ff 601px,#00c2ff 603px,#00e0ff 605px,#00fff2 607px,#00ff1f 615px,#1fff00 617px,#ecff00 623px,#ffde00 625px,#ffbf00 627px,#ffbd00 629px,#fff800 631px,#9fff00 633px,#2eff00 635px,#00ff2d 637px,#0fe 643px,#00d7ff 645px,#0081ff 649px,#0069ff 651px,#0038ff 661px,#0021ff 671px,#0014ff 697px)"></i>
<i style="background:linear-gradient(90deg,#00f 0,#0003ff 108px,#02f 118px,#0047ff 124px,#00b7ff 132px,#0ff 136px,#00ff3b 144px,#00ff13 146px,#1f0 148px,#48ff00 152px,#56ff00 154px,#52ff00 158px,#42ff00 160px,#10ff00 164px,#00ff0d 166px,#00ff6e 172px,#00ffe0 178px,#00fffd 180px,#00a3ff 196px,#007aff 210px,#006dff 236px,#0075ff 274px,#0095ff 280px,#00fffd 290px,#00ff7c 300px,#00ff0c 306px,#17ff00 308px,#4aff00 312px,#54ff00 314px,#4fff00 316px,#19ff00 320px,#00ff10 322px,#00ff93 328px,#00ffde 332px,#00f6ff 334px,#007dff 340px,#0049ff 344px,#003fff 346px,#0019ff 368px,#000aff 394px,#000fff 445px,#0040ff 459px,#004cff 465px,#0043ff 471px,#0010ff 485px,#000dff 491px,#0005ff 535px,#0019ff 567px,#0031ff 577px,#004aff 579px,#00e7ff 585px,#00fff9 587px,#00feff 591px,#00d1ff 597px,#00c1ff 601px,#00cdff 603px,#00ecff 605px,#00ffe4 607px,#00ff0e 615px,#32ff00 617px,#fbff00 623px,#ffd400 625px,#ffba00 627px,#ffc400 629px,#f7ff00 631px,#24ff00 635px,#00ff31 637px,#00fff0 643px,#00d6ff 645px,#0080ff 649px,#0069ff 651px,#0038ff 661px,#0021ff 671px,#0014ff 697px)"></i>
<i style="background:linear-gradient(90deg,#00f 0,#0004ff 108px,#0014ff 114px,#0038ff 122px,#0064ff 126px,#00e0ff 134px,#00fff8 136px,#00ff2a 144px,#01ff00 146px,#47ff00 150px,#62ff00 152px,#70ff00 154px,#74ff00 156px,#5eff00 160px,#0bff00 166px,#00ff15 168px,#00ff72 174px,#00ffe3 180px,#00fffe 182px,#00b5ff 194px,#0089ff 206px,#007bff 214px,#0075ff 234px,#007fff 274px,#00a4ff 280px,#00f7ff 288px,#00fff0 290px,#00ff92 298px,#00ff09 306px,#2fff00 310px,#47ff00 314px,#3fff00 316px,#09ff00 320px,#00ff1f 322px,#00ff75 326px,#00ffe2 332px,#00f3ff 334px,#0081ff 340px,#004eff 344px,#0042ff 346px,#0024ff 362px,#01f 380px,#000bff 428px,#0012ff 445px,#04f 459px,#0050ff 465px,#0047ff 471px,#0013ff 485px,#000eff 493px,#0006ff 535px,#0019ff 567px,#03f 577px,#004dff 579px,#00f0ff 585px,#0fe 587px,#00ffec 589px,#00fbff 593px,#00dbff 597px,#0cf 601px,#00d8ff 603px,#00f9ff 605px,#00ffd6 607px,#0f3 613px,#03ff00 615px,#ceff00 621px,#fff600 623px,#fc0 625px,#ffb800 627px,#ffcd00 629px,#e9ff00 631px,#1eff00 635px,#0f3 637px,#00ffef 643px,#00d6ff 645px,#0080ff 649px,#0069ff 651px,#0038ff 661px,#0021ff 671px,#0014ff 697px)"></i>
<i style="background:linear-gradient(90deg,#00f 0,#0005ff 108px,#001dff 116px,#003aff 122px,#0069ff 126px,#00e6ff 134px,#00fff0 136px,#00ff1a 144px,#14ff00 146px,#61ff00 150px,#7dff00 152px,#8bff00 154px,#8fff00 156px,#7aff00 160px,#01ff00 168px,#00ff75 176px,#00ffe3 182px,#00fffd 184px,#00f2ff 186px,#00adff 198px,#0087ff 210px,#007fff 260px,#0080ff 270px,#008bff 274px,#00b3ff 280px,#00fffb 288px,#00ff8c 298px,#00ff0b 306px,#27ff00 310px,#38ff00 314px,#2eff00 316px,#00ff09 320px,#00ffa5 328px,#00ffe8 332px,#00f1ff 334px,#0085ff 340px,#0053ff 344px,#0046ff 346px,#001cff 370px,#000eff 398px,#0015ff 445px,#0048ff 459px,#05f 465px,#004bff 471px,#0016ff 485px,#0010ff 493px,#0007ff 533px,#001aff 567px,#0036ff 577px,#0052ff 579px,#00fffc 585px,#00ffdc 587px,#00ffdb 589px,#00f8ff 595px,#00dcff 599px,#00d8ff 601px,#00e7ff 603px,#00fff4 605px,#00ff24 613px,#13ff00 615px,#d4ff00 621px,#fff600 623px,#ffd200 625px,#ffc400 627px,#ffe100 629px,#d4ff00 631px,#16ff00 635px,#00ff36 637px,#00ffef 643px,#00d7ff 645px,#0081ff 649px,#0069ff 651px,#0038ff 661px,#0021ff 671px,#0014ff 697px)"></i>
<i style="background:linear-gradient(90deg,#00f 0,#00f 102px,#0007ff 108px,#001fff 116px,#003dff 122px,#006eff 126px,#00edff 134px,#00ffe7 136px,#00ff0c 144px,#25ff00 146px,#7aff00 150px,#98ff00 152px,#a6ff00 154px,#abff00 156px,#96ff00 160px,#5cff00 164px,#16ff00 168px,#00ff0b 170px,#00ff79 178px,#00ffe4 184px,#00fffd 186px,#00f3ff 188px,#00adff 200px,#008aff 212px,#0086ff 262px,#0089ff 270px,#0097ff 274px,#00c1ff 280px,#00f9ff 286px,#00ffa1 296px,#00ff0f 306px,#09ff00 308px,#1cff00 310px,#27ff00 314px,#05ff00 318px,#00ff1b 320px,#00ffae 328px,#00ffed 332px,#0ef 334px,#0089ff 340px,#0059ff 344px,#004bff 346px,#0034ff 356px,#0012ff 386px,#0010ff 432px,#001cff 447px,#004dff 459px,#005aff 465px,#004fff 471px,#0019ff 485px,#0015ff 489px,#0007ff 527px,#0014ff 559px,#02f 571px,#0039ff 577px,#0059ff 579px,#00e1ff 583px,#00ffde 585px,#00ffbd 587px,#00ffbf 589px,#00fff5 595px,#00f7ff 597px,#00e9ff 601px,#00fcff 603px,#0fd 605px,#00ff16 613px,#1eff00 615px,#c9ff00 621px,#f4ff00 623px,#ffe700 627px,#f6ff00 629px,#b2ff00 631px,#08ff00 635px,#00ff3d 637px,#00fff0 643px,#00d6ff 645px,#0081ff 649px,#0069ff 651px,#0038ff 661px,#0021ff 671px,#0014ff 697px)"></i>
<i style="background:linear-gradient(90deg,#00f 0,#0004ff 106px,#0019ff 114px,#0041ff 122px,#00afff 130px,#00f5ff 134px,#0fd 136px,#00ff02 144px,#6aff00 148px,#92ff00 150px,#b2ff00 152px,#c1ff00 154px,#c6ff00 156px,#b2ff00 160px,#74ff00 164px,#04ff00 170px,#00ff83 180px,#00ffe8 186px,#0ff 188px,#00b6ff 200px,#0094ff 210px,#008dff 238px,#0093ff 270px,#00b0ff 276px,#00fffb 286px,#00ffb4 294px,#0f0 308px,#17ff00 312px,#08ff00 316px,#00ff0f 318px,#00ff2d 320px,#00ff98 326px,#00fff2 332px,#00ecff 334px,#0074ff 342px,#0051ff 346px,#001fff 372px,#0012ff 392px,#0015ff 439px,#001fff 447px,#0051ff 459px,#005eff 465px,#0054ff 471px,#001bff 485px,#0008ff 529px,#0013ff 557px,#002aff 573px,#003dff 577px,#0062ff 579px,#00fffe 583px,#00ffb8 585px,#00ff97 587px,#00ff9d 589px,#00ffaf 591px,#00fff8 597px,#00feff 601px,#00ffe8 603px,#00ffc1 605px,#00ff0a 613px,#24ff00 615px,#b1ff00 621px,#d3ff00 623px,#e7ff00 625px,#e7ff00 627px,#c5ff00 629px,#89ff00 631px,#40ff00 633px,#00ff0a 635px,#00fff2 643px,#00d6ff 645px,#0080ff 649px,#0069ff 651px,#0038ff 661px,#0021ff 671px,#0014ff 697px)"></i>
<i style="background:linear-gradient(90deg,#00f 0,#0005ff 106px,#0024ff 116px,#0047ff 122px,#00b7ff 130px,#0ff 134px,#00ffd3 136px,#00ff2f 142px,#08ff00 144px,#7eff00 148px,#af0 150px,#cbff00 152px,#dcff00 154px,#e1ff00 156px,#ceff00 160px,#8dff00 164px,#1f0 170px,#00ff10 172px,#00ff76 180px,#00fff1 188px,#00fcff 190px,#00adff 204px,#009aff 210px,#0094ff 216px,#0096ff 266px,#00b2ff 274px,#00fbff 284px,#00ffc2 292px,#00ff1b 306px,#03ff00 310px,#04ff00 314px,#00ff0b 316px,#00ff3f 320px,#00ffa2 326px,#00fff5 332px,#00ebff 334px,#007aff 342px,#0057ff 346px,#0038ff 358px,#0020ff 374px,#0014ff 394px,#0018ff 439px,#02f 447px,#0056ff 459px,#0063ff 465px,#0058ff 471px,#001eff 485px,#000eff 507px,#000aff 531px,#0016ff 559px,#002cff 573px,#0040ff 577px,#006cff 579px,#00c1ff 581px,#00ffdc 583px,#00ff8e 585px,#00ff70 587px,#00ff7b 589px,#00ffe7 597px,#00fff2 599px,#00ffe8 601px,#00ffcd 603px,#00ff4b 609px,#00ff01 613px,#4eff00 617px,#94ff00 621px,#acff00 623px,#b9ff00 625px,#b5ff00 627px,#94ff00 629px,#2f0 633px,#00ff1d 635px,#00fff4 643px,#00d4ff 645px,#0080ff 649px,#0069ff 651px,#0038ff 661px,#0021ff 671px,#0014ff 697px)"></i>
<i style="background:linear-gradient(90deg,#00f 0,#0003ff 104px,#0018ff 112px,#003cff 120px,#0068ff 124px,#00e3ff 132px,#00fff4 134px,#00ff91 138px,#00ff21 142px,#18ff00 144px,#95ff00 148px,#c3ff00 150px,#e7ff00 152px,#f8ff00 154px,#feff00 156px,#ebff00 160px,#a8ff00 164px,#21ff00 170px,#00ff04 172px,#00ff86 182px,#00ffe1 188px,#00fff8 190px,#00f7ff 192px,#00adff 206px,#009dff 212px,#009aff 218px,#009eff 264px,#00b7ff 272px,#00f8ff 282px,#00fff8 284px,#0fb 292px,#00ff21 306px,#00ff0a 310px,#00ff08 312px,#00ff0f 314px,#00ff34 318px,#00ffc5 328px,#00fff7 332px,#00ecff 334px,#0081ff 342px,#005eff 346px,#003dff 358px,#0023ff 374px,#0016ff 394px,#001aff 439px,#0025ff 447px,#005aff 459px,#0069ff 465px,#005dff 471px,#0021ff 485px,#01f 505px,#000bff 529px,#0016ff 557px,#02f 569px,#002eff 573px,#04f 577px,#0076ff 579px,#00d6ff 581px,#0fb 583px,#00ff67 585px,#00ff4c 587px,#00ff5a 589px,#00ffd5 597px,#0fd 599px,#00ffd0 601px,#00ffb3 603px,#00ff38 609px,#06ff00 613px,#78ff00 621px,#91ff00 625px,#8f0 627px,#6aff00 629px,#07ff00 633px,#00ff8d 639px,#00fff7 643px,#00d3ff 645px,#0080ff 649px,#0069ff 651px,#0038ff 661px,#0021ff 671px,#0014ff 697px)"></i>
<i style="background:linear-gradient(90deg,#00f 0,#0004ff 104px,#001cff 112px,#04f 120px,#008dff 126px,#0ef 132px,#00ffe7 134px,#00ff81 138px,#00ff10 142px,#2dff00 144px,#adff00 148px,#dcff00 150px,#fffc00 152px,#ffea00 154px,#ffe300 156px,#fff700 160px,#e8ff00 162px,#97ff00 166px,#0bff00 172px,#00ff16 174px,#00ffd2 188px,#00fffe 192px,#00b4ff 206px,#00a0ff 216px,#00a8ff 262px,#00beff 270px,#00f6ff 280px,#00fffb 282px,#00ffc7 290px,#00ff39 304px,#00ff1a 310px,#00ff1b 312px,#00ff34 316px,#00fff8 332px,#00edff 334px,#008cff 342px,#005eff 348px,#002dff 370px,#0018ff 394px,#0019ff 430px,#0023ff 445px,#0060ff 459px,#006fff 465px,#0063ff 471px,#0025ff 485px,#0019ff 497px,#000eff 533px,#02f 567px,#0031ff 573px,#0048ff 577px,#007dff 579px,#00e6ff 581px,#00ffa3 583px,#00ff48 585px,#00ff2d 587px,#00ff3d 589px,#00ffa6 595px,#00ffbf 597px,#00ffc6 599px,#00ffb9 601px,#00ff9c 603px,#00ff29 609px,#00ff0d 611px,#0cff00 613px,#6f0 621px,#76ff00 625px,#6aff00 627px,#23ff00 631px,#00ff0c 633px,#00ff93 639px,#00fffa 643px,#00a4ff 647px,#0080ff 649px,#0069ff 651px,#0048ff 657px,#0021ff 671px,#0014ff 697px)"></i>
<i style="background:linear-gradient(90deg,#00f 0,#0006ff 104px,#0020ff 112px,#004bff 120px,#00b1ff 128px,#00f9ff 132px,#00ffda 134px,#00ffa8 136px,#01ff00 142px,#c1ff00 148px,#f1ff00 150px,#ffe400 152px,#ffd000 154px,#ffc800 156px,#ffcf00 158px,#ffde00 160px,#fffd00 162px,#b0ff00 166px,#1cff00 172px,#00ff09 174px,#00ffde 190px,#00fcff 194px,#00c5ff 204px,#00acff 212px,#00a8ff 238px,#00b6ff 262px,#00cfff 270px,#00fffd 280px,#00ffc1 290px,#00ff41 304px,#00ff2b 310px,#00ff2f 312px,#00ff4a 316px,#00fff9 332px,#0ef 334px,#0097ff 342px,#006aff 348px,#003fff 364px,#0025ff 380px,#001cff 396px,#0023ff 441px,#002dff 447px,#06f 459px,#07f 465px,#006aff 471px,#0029ff 485px,#0018ff 505px,#01f 529px,#001cff 557px,#0029ff 569px,#0036ff 573px,#004dff 577px,#0085ff 579px,#00f5ff 581px,#00ff8c 583px,#00ff2b 585px,#00ff0e 587px,#00ff1e 589px,#0f8 595px,#00ffa2 597px,#00ffa9 599px,#00ff9c 601px,#00ff81 603px,#00ff1a 609px,#00ff03 611px,#12ff00 613px,#4cff00 619px,#61ff00 623px,#60ff00 625px,#50ff00 627px,#0cff00 631px,#00ff1f 633px,#00ff9d 639px,#00feff 643px,#00a0ff 647px,#007dff 649px,#0067ff 651px,#0048ff 657px,#0021ff 671px,#0014ff 697px)"></i>
<i style="background:linear-gradient(90deg,#00f 0,#00f 98px,#0007ff 104px,#02f 112px,#0051ff 120px,#009bff 126px,#00fffc 132px,#00ff9c 136px,#00ff2a 140px,#10ff00 142px,#d0ff00 148px,#fffc00 150px,#ffd300 152px,#ffbc00 154px,#ffb100 156px,#ffb900 158px,#ffca00 160px,#ffe900 162px,#ef0 164px,#04ff00 174px,#00ff1c 176px,#00ffe8 192px,#00fffa 194px,#00f8ff 196px,#00cfff 204px,#00b6ff 212px,#00b2ff 238px,#00c1ff 260px,#00fffd 278px,#00ffcb 288px,#00ff57 302px,#00ff3e 308px,#00ff46 312px,#00ff61 316px,#00fffb 332px,#0091ff 344px,#006dff 350px,#0037ff 372px,#0020ff 392px,#0021ff 430px,#002bff 445px,#006eff 459px,#007fff 465px,#0072ff 471px,#0034ff 483px,#002aff 487px,#0018ff 517px,#001cff 549px,#002bff 567px,#003bff 573px,#0053ff 577px,#008eff 579px,#00fff9 581px,#00ff74 583px,#00ff0d 585px,#12ff00 587px,#03ff00 589px,#00ff64 595px,#00ff7e 597px,#00ff85 599px,#00ff79 601px,#00ff61 603px,#00ff0b 609px,#06ff00 611px,#43ff00 619px,#50ff00 623px,#4aff00 625px,#19ff00 629px,#00ff0c 631px,#00ff80 637px,#00ffda 641px,#00f2ff 643px,#0098ff 647px,#0078ff 649px,#0065ff 651px,#0047ff 657px,#0021ff 671px,#0014ff 697px)"></i>
<i style="background:linear-gradient(90deg,#00f 0,#0004ff 102px,#001cff 110px,#04f 118px,#0086ff 124px,#00e3ff 130px,#00fff3 132px,#00ff8f 136px,#00ff1d 140px,#1fff00 142px,#deff00 148px,#ffed00 150px,#ffc300 152px,#ffa900 154px,#ff9b00 156px,#ffa500 158px,#ffb900 160px,#fffe00 164px,#d6ff00 166px,#1f0 174px,#0f1 176px,#00ffdb 192px,#00fffe 196px,#00c4ff 210px,#00bcff 220px,#00bdff 242px,#00c9ff 256px,#00fffd 276px,#00ffd2 286px,#00ff60 302px,#00ff51 308px,#00ff69 314px,#00fffe 332px,#009cff 344px,#0078ff 350px,#0046ff 368px,#002bff 384px,#0025ff 418px,#0030ff 445px,#07f 459px,#0089ff 465px,#007aff 471px,#0032ff 485px,#0021ff 505px,#001cff 529px,#02f 549px,#0035ff 569px,#0058ff 577px,#0097ff 579px,#00ffea 581px,#00ff5c 583px,#12ff00 585px,#3f0 587px,#24ff00 589px,#07ff00 591px,#00ff57 597px,#00ff5e 599px,#00ff54 601px,#01ff00 609px,#31ff00 617px,#3fff00 623px,#34ff00 625px,#0f0 629px,#00ff8f 637px,#00ffe9 641px,#00e4ff 643px,#008fff 647px,#0072ff 649px,#003dff 659px,#0021ff 671px,#0014ff 697px)"></i>
<i style="background:linear-gradient(90deg,#00f 0,#0005ff 102px,#001fff 110px,#0049ff 118px,#00a8ff 126px,#00ebff 130px,#00ffea 132px,#00ff83 136px,#00ff0f 140px,#2eff00 142px,#edff00 148px,#ffde00 150px,#ffb400 152px,#ff9700 154px,#ff8700 156px,#ff9100 158px,#ffc700 162px,#ffed00 164px,#e8ff00 166px,#20ff00 174px,#00ff06 176px,#00ffce 192px,#00fff6 196px,#00fcff 198px,#00d2ff 208px,#00c5ff 216px,#00cbff 248px,#00dbff 260px,#00fcff 272px,#00ffd8 284px,#00ff73 300px,#00ff62 306px,#00ff69 310px,#00ff7e 314px,#00feff 332px,#00a3ff 344px,#0079ff 352px,#003cff 376px,#0029ff 394px,#0036ff 445px,#0080ff 459px,#0094ff 465px,#0084ff 471px,#003fff 483px,#0034ff 487px,#0023ff 517px,#0028ff 549px,#0039ff 567px,#0047ff 573px,#005eff 577px,#009eff 579px,#00ffdc 581px,#00ff47 583px,#2dff00 585px,#50ff00 587px,#42ff00 589px,#05ff00 593px,#0f3 597px,#00ff39 599px,#00ff32 601px,#00ff01 607px,#24ff00 615px,#31ff00 621px,#2eff00 623px,#08ff00 627px,#00ff16 629px,#00ff9f 637px,#00fff8 641px,#00d6ff 643px,#0086ff 647px,#006cff 649px,#003cff 659px,#0020ff 671px,#0014ff 697px)"></i>
<i style="background:linear-gradient(90deg,#00f 0,#0006ff 102px,#0021ff 110px,#004dff 118px,#00aeff 126px,#00f2ff 130px,#00ffe1 132px,#00ffaf 134px,#00ff03 140px,#f9ff00 148px,#ffa700 152px,#f80 154px,#ff7500 156px,#ff7f00 158px,#ffb800 162px,#f9ff00 166px,#2fff00 174px,#06ff00 176px,#00ff19 178px,#00ffd7 194px,#00fffa 198px,#00faff 200px,#00cfff 212px,#0cf 232px,#00d9ff 254px,#00fdff 270px,#00ffdc 282px,#00ff82 298px,#00ff72 304px,#00ff86 312px,#00fff7 330px,#00f9ff 332px,#09f 346px,#007dff 352px,#0041ff 376px,#002dff 394px,#003bff 445px,#0095ff 461px,#00a0ff 465px,#008fff 471px,#003dff 485px,#0029ff 517px,#002fff 549px,#0040ff 567px,#004eff 573px,#0062ff 577px,#00a4ff 579px,#00ffd1 581px,#00ff36 583px,#43ff00 585px,#67ff00 587px,#5aff00 589px,#02ff00 595px,#00ff14 597px,#00ff1a 599px,#0f0 605px,#1f0 609px,#24ff00 619px,#1eff00 623px,#0dff00 625px,#00ff0b 627px,#00ff29 629px,#00ffad 637px,#00f8ff 641px,#00a0ff 645px,#007eff 647px,#0069ff 649px,#004bff 655px,#0023ff 669px,#0014ff 697px)"></i>
<i style="background:linear-gradient(90deg,#00f 0,#0003ff 100px,#0023ff 110px,#0050ff 118px,#00b2ff 126px,#00f7ff 130px,#00ffdb 132px,#00ff35 138px,#06ff00 140px,#c7ff00 146px,#fffd00 148px,#ff9c00 152px,#ff7b00 154px,#f60 156px,#ff6f00 158px,#ffab00 162px,#fff800 166px,#daff00 168px,#12ff00 176px,#00ff0f 178px,#00ffdf 196px,#00fffd 200px,#00f7ff 202px,#00d3ff 214px,#00d3ff 238px,#00e0ff 254px,#0ff 268px,#00ffdc 280px,#00ff95 294px,#00ff80 302px,#00ff91 310px,#0ff 330px,#00a5ff 344px,#0080ff 352px,#04f 376px,#0030ff 394px,#0042ff 445px,#00a1ff 461px,#00acff 465px,#009aff 471px,#0043ff 485px,#0030ff 515px,#0034ff 547px,#0053ff 573px,#0065ff 577px,#00a8ff 579px,#00ffcb 581px,#00ff2c 583px,#50ff00 585px,#76ff00 587px,#69ff00 589px,#0f0 597px,#1bff00 619px,#1aff00 621px,#00ff01 625px,#00ff97 635px,#00ffe4 639px,#00edff 641px,#09f 645px,#007aff 647px,#0067ff 649px,#0042ff 657px,#0020ff 671px,#0014ff 697px)"></i>
<i style="background:linear-gradient(90deg,#00f 0,#0003ff 100px,#0024ff 110px,#0052ff 118px,#00b4ff 126px,#00f9ff 130px,#00ffda 132px,#00ff31 138px,#0aff00 140px,#c9ff00 146px,#fffb00 148px,#ff9500 152px,#ff7200 154px,#ff5b00 156px,#ff6300 158px,#ffa000 162px,#ffed00 166px,#e6ff00 168px,#4dff00 174px,#20ff00 176px,#00ff04 178px,#00ff3a 182px,#00ffd2 196px,#0ff 202px,#00dbff 212px,#00d7ff 224px,#00dbff 244px,#00fdff 264px,#00ffe0 276px,#00ff95 294px,#00ff8d 300px,#00ffa6 310px,#00fffd 328px,#00a4ff 344px,#0082ff 352px,#0048ff 376px,#0034ff 394px,#0049ff 445px,#00adff 461px,#00baff 465px,#00a7ff 471px,#004aff 485px,#0035ff 521px,#0039ff 545px,#0054ff 571px,#06f 577px,#00a8ff 579px,#00ffca 581px,#00ff29 583px,#54ff00 585px,#7aff00 587px,#6eff00 589px,#06ff00 597px,#0f0 599px,#14ff00 609px,#12ff00 621px,#08ff00 623px,#00ff0b 625px,#00ff25 627px,#00ffa1 635px,#00ffec 639px,#00e6ff 641px,#0096ff 645px,#0078ff 647px,#06f 649px,#0042ff 657px,#0020ff 671px,#0014ff 697px)"></i>
<i style="background:linear-gradient(90deg,#00f 0,#0003ff 100px,#0024ff 110px,#0053ff 118px,#00b5ff 126px,#00f9ff 130px,#00ffda 132px,#00ff30 138px,#0bff00 140px,#fffb00 148px,#ff9000 152px,#ff6c00 154px,#ff5300 156px,#ff5900 158px,#ff9500 162px,#ffe200 166px,#f2ff00 168px,#2eff00 176px,#07ff00 178px,#00ff16 180px,#00ffd6 198px,#0ff 204px,#00deff 214px,#00daff 232px,#00dfff 244px,#00fcff 260px,#0fd 274px,#00ffa2 290px,#0f9 296px,#00ffab 306px,#00fffd 326px,#00a3ff 344px,#0084ff 352px,#004bff 376px,#0037ff 394px,#0052ff 445px,#0059ff 447px,#00bdff 461px,#00cbff 465px,#00b6ff 471px,#0053ff 485px,#003bff 521px,#003fff 543px,#005dff 573px,#006aff 577px,#00b8ff 579px,#00ffba 581px,#00ff20 583px,#5f0 585px,#78ff00 587px,#6cff00 589px,#06ff00 597px,#0f0 599px,#13ff00 609px,#0dff00 621px,#02ff00 623px,#00ff2d 627px,#0fa 635px,#00fff4 639px,#00e0ff 641px,#0094ff 645px,#07f 647px,#06f 649px,#0042ff 657px,#0020ff 671px,#0014ff 697px)"></i>
<i style="background:linear-gradient(90deg,#00f 0,#0004ff 100px,#001cff 108px,#04f 116px,#009aff 124px,#00f9ff 130px,#00ffda 132px,#00ff2f 138px,#0cff00 140px,#fffd00 148px,#ff8c00 152px,#ff6700 154px,#ff4c00 156px,#ff4e00 158px,#ff8a00 162px,#fdff00 168px,#3dff00 176px,#14ff00 178px,#00ff0b 180px,#00ff52 186px,#00ffc5 198px,#00fff3 204px,#00f8ff 208px,#00e1ff 216px,#0df 238px,#0ff 258px,#00ffae 286px,#00ffa5 294px,#00ffb7 304px,#0ff 324px,#00a2ff 344px,#0085ff 352px,#004aff 378px,#0039ff 396px,#005dff 445px,#0064ff 447px,#00d0ff 461px,#00dfff 465px,#00d5ff 469px,#009eff 477px,#006aff 483px,#005bff 487px,#0043ff 519px,#004dff 551px,#0064ff 575px,#0079ff 577px,#00d6ff 579px,#00ff9f 581px,#00ff13 583px,#56ff00 585px,#74ff00 587px,#68ff00 589px,#06ff00 597px,#0f0 599px,#0eff00 613px,#09ff00 621px,#00ff02 623px,#0f3 627px,#00fffd 639px,#00b3ff 643px,#07f 647px,#004aff 655px,#002fff 663px,#0020ff 671px,#0014ff 697px)"></i>
<i style="background:linear-gradient(90deg,#00f 0,#0004ff 100px,#001cff 108px,#04f 116px,#009bff 124px,#00f9ff 130px,#00ffda 132px,#00ff2e 138px,#0dff00 140px,#ff0 148px,#ff8900 152px,#ff6300 154px,#ff4600 156px,#f40 158px,#ffa100 164px,#fff600 168px,#df0 170px,#4dff00 176px,#0f0 180px,#00ff48 186px,#00ffa3 196px,#00ffe2 204px,#00faff 210px,#00e5ff 216px,#00dfff 238px,#00fffe 256px,#0fb 282px,#00ffb1 290px,#00ffbd 300px,#00fffb 320px,#0086ff 352px,#004cff 378px,#003bff 396px,#0069ff 445px,#0072ff 447px,#00e5ff 461px,#00f5ff 465px,#0df 471px,#006bff 485px,#005fff 493px,#004eff 511px,#0049ff 531px,#06f 575px,#008eff 577px,#00f3ff 579px,#00ff09 583px,#54ff00 585px,#6fff00 587px,#63ff00 589px,#18ff00 595px,#05ff00 597px,#0f0 599px,#09ff00 609px,#00ff06 623px,#00ff3a 627px,#00ffa3 633px,#00f8ff 639px,#00afff 643px,#0076ff 647px,#004aff 655px,#0020ff 671px,#0014ff 697px)"></i>
<i style="background:linear-gradient(90deg,#00f 0,#0004ff 100px,#001dff 108px,#0045ff 116px,#009cff 124px,#00f9ff 130px,#00ffda 132px,#00ff2d 138px,#0eff00 140px,#fcff00 148px,#f80 152px,#ff6000 154px,#ff4100 156px,#ff3b00 158px,#ff5100 160px,#ff9500 164px,#ffea00 168px,#eaff00 170px,#5cff00 176px,#0cff00 180px,#00ff10 182px,#00ff52 188px,#00ff96 196px,#00feff 212px,#00e9ff 216px,#00e0ff 236px,#00feff 254px,#00ffc6 280px,#00ffbe 288px,#00ffc9 298px,#0ff 318px,#0086ff 352px,#004eff 378px,#003eff 394px,#04f 406px,#0076ff 445px,#0080ff 447px,#00fbff 461px,#00fff7 463px,#00fff2 465px,#00fffe 469px,#0079ff 485px,#0059ff 507px,#0050ff 533px,#0068ff 575px,#009bff 577px,#00fffd 579px,#00ff07 583px,#4fff00 585px,#68ff00 587px,#5dff00 589px,#05ff00 597px,#01ff00 621px,#00ff23 625px,#00ffed 637px,#0ef 639px,#0af 643px,#0075ff 647px,#0042ff 657px,#0020ff 671px,#0014ff 697px)"></i>
<i style="background:linear-gradient(90deg,#00f 0,#0004ff 100px,#001dff 108px,#0045ff 116px,#009cff 124px,#00f9ff 130px,#00ffda 132px,#00ff2c 138px,#0eff00 140px,#f9ff00 148px,#ff8700 152px,#ff5e00 154px,#ff3d00 156px,#f30 158px,#ff4600 160px,#ff8900 164px,#ffde00 168px,#f5ff00 170px,#3fff00 178px,#19ff00 180px,#00ff05 182px,#00ff49 188px,#00ff8c 196px,#00fffb 214px,#00edff 216px,#00e0ff 238px,#00fffe 256px,#00ffd4 278px,#0fc 288px,#00ffd8 298px,#00feff 314px,#0086ff 352px,#0050ff 378px,#0040ff 394px,#0047ff 406px,#0085ff 445px,#0090ff 447px,#00fffd 459px,#00ffda 465px,#00ffdc 467px,#00f6ff 473px,#08f 485px,#005eff 511px,#0056ff 531px,#0068ff 575px,#009bff 577px,#00fffd 579px,#00ff0c 583px,#47ff00 585px,#5dff00 587px,#54ff00 589px,#15ff00 595px,#00ff02 599px,#00ff0c 621px,#00ff32 625px,#00ffbf 633px,#00fffb 637px,#00a4ff 643px,#0074ff 647px,#004aff 655px,#0020ff 671px,#0014ff 697px)"></i>
<i style="background:linear-gradient(90deg,#00f 0,#0004ff 100px,#001dff 108px,#0046ff 116px,#009dff 124px,#00f9ff 130px,#00ffda 132px,#00ff2b 138px,#0fff00 140px,#f6ff00 148px,#f80 152px,#ff5d00 154px,#ff3b00 156px,#ff2c00 158px,#ff3c00 160px,#ff7e00 164px,#fffe00 170px,#25ff00 180px,#05ff00 182px,#00ff15 184px,#00ff53 190px,#00ff83 196px,#00ffb3 210px,#00ffd5 214px,#00fff1 216px,#0ef 218px,#00e0ff 238px,#00fdff 258px,#00ffdb 286px,#00ffe2 294px,#00fdff 308px,#008bff 350px,#0053ff 378px,#0043ff 394px,#004dff 408px,#0091ff 443px,#00a5ff 447px,#00e5ff 453px,#00fff5 457px,#00ffd1 461px,#00ffbe 465px,#00ffcb 469px,#00feff 475px,#00aeff 483px,#0095ff 487px,#0076ff 501px,#0064ff 515px,#005eff 531px,#0068ff 575px,#009bff 577px,#00fffc 579px,#00ff0f 583px,#3cff00 585px,#49ff00 587px,#40ff00 589px,#0f0 597px,#00ff19 605px,#00ff2a 621px,#00ff51 625px,#00fff3 635px,#00efff 637px,#009bff 643px,#0070ff 647px,#0041ff 657px,#0020ff 671px,#0014ff 697px)"></i>
<i style="background:linear-gradient(90deg,#00f 0,#0004ff 100px,#001dff 108px,#0046ff 116px,#009dff 124px,#00f9ff 130px,#00ffda 132px,#00ff2b 138px,#0fff00 140px,#f2ff00 148px,#ffcb00 150px,#ff8900 152px,#ff5c00 154px,#ff3900 156px,#ff2800 158px,#f30 160px,#ff7400 164px,#fff400 170px,#dfff00 172px,#31ff00 180px,#0fff00 182px,#00ff0c 184px,#00ff4b 190px,#00ff7b 196px,#00ff91 200px,#00ffb3 212px,#00ffd3 216px,#00ffec 218px,#00f2ff 220px,#00e3ff 228px,#00e1ff 240px,#00e6ff 250px,#0ff 266px,#00ffec 286px,#00feff 300px,#008aff 350px,#05f 378px,#0046ff 394px,#0051ff 408px,#0096ff 439px,#00aeff 445px,#00fffd 453px,#00ffb3 461px,#00ffa0 465px,#00ffad 469px,#00fff6 477px,#00f5ff 479px,#00caff 483px,#00acff 487px,#0081ff 503px,#0069ff 519px,#0068ff 575px,#009dff 577px,#00fffa 579px,#00ff80 581px,#00ff14 583px,#2aff00 585px,#27ff00 589px,#02ff00 595px,#00ff39 607px,#00ff53 621px,#00ff7b 625px,#00fff3 633px,#00f3ff 635px,#007cff 645px,#0060ff 649px,#0047ff 655px,#0020ff 671px,#0014ff 697px)"></i>
<i style="background:linear-gradient(90deg,#00f 0,#0004ff 100px,#001dff 108px,#0047ff 116px,#009eff 124px,#00f9ff 130px,#00ffda 132px,#00ff2a 138px,#0fff00 140px,#efff00 148px,#ffcf00 150px,#ff8b00 152px,#ff5c00 154px,#ff3800 156px,#ff2400 158px,#ff2d00 160px,#ff9200 166px,#ffeb00 170px,#e9ff00 172px,#3bff00 180px,#00ff04 184px,#00ff45 190px,#00ff83 198px,#00ffb5 214px,#00ffec 220px,#00f4ff 222px,#00e3ff 230px,#00e0ff 250px,#00feff 276px,#0ff 290px,#0093ff 344px,#0059ff 378px,#004aff 394px,#0059ff 410px,#0096ff 434px,#00c6ff 445px,#00f1ff 449px,#00fff5 451px,#00ff95 461px,#00ff83 465px,#00ff90 469px,#00feff 481px,#00d4ff 485px,#0bf 489px,#008bff 505px,#0072ff 519px,#0070ff 567px,#0068ff 575px,#009eff 577px,#00fff7 579px,#00ff80 581px,#00ff1c 583px,#10ff00 585px,#00ff04 593px,#0f2 599px,#00ff59 607px,#00ff7f 621px,#00ffa6 625px,#00fff6 631px,#00f1ff 633px,#0074ff 645px,#0045ff 655px,#0020ff 671px,#0014ff 697px)"></i>
<i style="background:linear-gradient(90deg,#00f 0,#0004ff 100px,#001dff 108px,#0047ff 116px,#009eff 124px,#00f9ff 130px,#00ffda 132px,#00ff2a 138px,#0fff00 140px,#ecff00 148px,#ffd200 150px,#ff8d00 152px,#ff5d00 154px,#ff3800 156px,#f20 158px,#ff2700 160px,#ff8a00 166px,#ffe400 170px,#f0ff00 172px,#6dff00 178px,#20ff00 182px,#02ff00 184px,#00ff16 186px,#00ff51 192px,#00ff7d 198px,#00ff91 202px,#00ffae 214px,#00ffc7 218px,#00fff3 222px,#00f4ff 224px,#00e5ff 230px,#00dbff 250px,#00f1ff 288px,#00afff 322px,#005bff 380px,#0050ff 396px,#005eff 410px,#0091ff 430px,#00c0ff 441px,#00f2ff 447px,#00fff3 449px,#00ff8b 459px,#00ff68 465px,#00ff75 469px,#00fffb 483px,#00efff 485px,#00d0ff 489px,#00a4ff 501px,#0085ff 513px,#07f 523px,#0073ff 567px,#0068ff 575px,#009fff 577px,#00fff6 579px,#00ff82 581px,#00ff28 583px,#00ff0d 585px,#00ff23 597px,#00ff6e 605px,#00ffa8 621px,#00fff9 629px,#0ef 631px,#006dff 645px,#0049ff 653px,#0023ff 669px,#0014ff 697px)"></i>
<i style="background:linear-gradient(90deg,#00f 0,#0004ff 100px,#001dff 108px,#0047ff 116px,#009eff 124px,#00f9ff 130px,#00ffda 132px,#00ff2a 138px,#0fff00 140px,#e9ff00 148px,#ffd600 150px,#ff8f00 152px,#ff5e00 154px,#ff3900 156px,#ff2100 158px,#ff2400 160px,#ff8500 166px,#ffdf00 170px,#f5ff00 172px,#26ff00 182px,#08ff00 184px,#0f1 186px,#00ff4c 192px,#00ff79 198px,#00ff8f 202px,#00ffb4 216px,#00ffd1 220px,#00f9ff 224px,#00e6ff 230px,#00d8ff 250px,#00e6ff 286px,#00adff 316px,#0062ff 380px,#0058ff 396px,#0065ff 410px,#008fff 428px,#00b4ff 437px,#00efff 445px,#00fff7 447px,#00ffc5 451px,#00ff74 459px,#00ff53 465px,#0f5 467px,#00ff6e 471px,#00fffa 485px,#00f1ff 487px,#00d8ff 491px,#00a4ff 505px,#007eff 525px,#0076ff 567px,#0068ff 575px,#009fff 577px,#00fff8 579px,#00ff89 581px,#00ff38 583px,#00ff26 585px,#00ff2e 597px,#00ff3e 599px,#0f8 605px,#0fb 619px,#00ffd4 623px,#00fffa 627px,#00f0ff 629px,#0076ff 643px,#005cff 647px,#0046ff 653px,#0023ff 669px,#0014ff 697px)"></i>
<i style="background:linear-gradient(90deg,#00f 0,#0004ff 100px,#001dff 108px,#0047ff 116px,#009eff 124px,#00f9ff 130px,#00ffda 132px,#00ff2a 138px,#0fff00 140px,#e7ff00 148px,#ffd800 150px,#ff9100 152px,#ff5f00 154px,#ff3a00 156px,#f20 158px,#ff2300 160px,#ff3d00 162px,#ff8200 166px,#ffdc00 170px,#f7ff00 172px,#2aff00 182px,#0bff00 184px,#00ff0d 186px,#00ff49 192px,#00ff84 200px,#00ffb3 216px,#00ffcf 220px,#00faff 224px,#00e7ff 230px,#00d7ff 248px,#0df 286px,#00a5ff 318px,#0068ff 380px,#0060ff 396px,#006bff 410px,#0092ff 428px,#00b9ff 437px,#00fbff 445px,#00ffb6 451px,#00ff65 459px,#0f4 465px,#00ff46 467px,#00ff5f 471px,#00fdff 487px,#00e1ff 491px,#00b9ff 501px,#008bff 519px,#0081ff 531px,#0078ff 567px,#0068ff 575px,#009dff 577px,#00fffe 579px,#00ff93 581px,#00ff47 583px,#00ff37 585px,#00ff36 595px,#00ff38 597px,#00ff48 599px,#00ff97 605px,#00ffc9 619px,#00faff 627px,#0081ff 641px,#0051ff 649px,#02f 669px,#0014ff 697px)"></i>
<i style="background:linear-gradient(90deg,#00f 0,#0004ff 100px,#001dff 108px,#0047ff 116px,#009eff 124px,#00f9ff 130px,#00ffda 132px,#00ff2a 138px,#0fff00 140px,#e5ff00 148px,#ffda00 150px,#ff9300 152px,#ff6000 154px,#ff3b00 156px,#f20 158px,#f20 160px,#ff3b00 162px,#ff8100 166px,#f9ff00 172px,#2eff00 182px,#0fff00 184px,#00ff0a 186px,#00ff47 192px,#00ff82 200px,#00ffb2 216px,#00ffcf 220px,#00faff 224px,#00e7ff 230px,#00d8ff 246px,#00d5ff 286px,#00a1ff 318px,#0067ff 396px,#0073ff 412px,#0093ff 428px,#00b0ff 434px,#0ef 443px,#00fff9 445px,#0fa 451px,#00ff58 459px,#00ff37 465px,#00ff3a 467px,#00ff53 471px,#00fff7 487px,#00f4ff 489px,#00b8ff 503px,#0091ff 519px,#0085ff 531px,#007bff 567px,#0068ff 575px,#009bff 577px,#00faff 579px,#00ff9e 581px,#00ff54 583px,#0f4 585px,#00ff40 595px,#00ff42 597px,#00ff52 599px,#00ffa1 605px,#00ffd0 619px,#00fff7 625px,#00f5ff 627px,#007eff 641px,#004fff 649px,#02f 669px,#0014ff 697px)"></i>
<i style="background:linear-gradient(90deg,#00f 0,#0004ff 100px,#001dff 108px,#0047ff 116px,#009eff 124px,#00f8ff 130px,#00ffda 132px,#00ff2a 138px,#0fff00 140px,#e3ff00 148px,#fd0 150px,#ff9500 152px,#ff6100 154px,#ff2300 158px,#f20 160px,#ff3a00 162px,#ff7f00 166px,#fbff00 172px,#31ff00 182px,#12ff00 184px,#00ff08 186px,#0f4 192px,#00ff80 200px,#00ff93 204px,#00ffb2 216px,#00ffce 220px,#00faff 224px,#00e7ff 230px,#00d5ff 248px,#0cf 286px,#009bff 320px,#006dff 396px,#0078ff 412px,#0094ff 428px,#00b3ff 434px,#00f6ff 443px,#00ffef 445px,#00ff9f 451px,#00ff4c 459px,#00ff2b 465px,#00ff2d 467px,#00ff47 471px,#00fdff 489px,#00e4ff 493px,#00bdff 503px,#0094ff 519px,#08f 531px,#007dff 567px,#0068ff 575px,#09f 577px,#00f4ff 579px,#00ffa6 581px,#00ff5f 583px,#00ff4f 585px,#00ff4b 595px,#00ff4c 597px,#00ff5c 599px,#0fa 605px,#00ffd5 619px,#00fffb 625px,#00f1ff 627px,#007cff 641px,#004dff 649px,#02f 669px,#0014ff 697px)"></i>
<i style="background:linear-gradient(90deg,#00f 0,#0004ff 100px,#001dff 108px,#0047ff 116px,#009eff 124px,#00f8ff 130px,#00ffdb 132px,#00ff2a 138px,#0eff00 140px,#e2ff00 148px,#ffdf00 150px,#ff9700 152px,#ff6200 154px,#ff2300 158px,#ff2100 160px,#ff3800 162px,#ff7d00 166px,#fdff00 172px,#35ff00 182px,#00ff05 186px,#00ff42 192px,#00ff7e 200px,#00ff92 204px,#00ffb1 216px,#00ffce 220px,#00faff 224px,#00e8ff 230px,#00d6ff 246px,#00c9ff 262px,#00c4ff 286px,#009bff 316px,#0070ff 396px,#007aff 412px,#0095ff 428px,#00b7ff 434px,#0ff 443px,#00ffad 449px,#00ff54 457px,#00ff30 461px,#00ff1f 465px,#0f2 467px,#00ff3b 471px,#00fff9 489px,#00f5ff 491px,#00baff 505px,#0095ff 519px,#0089ff 531px,#007fff 567px,#0068ff 575px,#0097ff 577px,#00f0ff 579px,#00ffae 581px,#00ff69 583px,#00ff5a 585px,#00ff56 595px,#00ff57 597px,#00ff67 599px,#00ffb1 605px,#00ffd9 619px,#00fffe 625px,#007aff 641px,#004cff 649px,#02f 669px,#0014ff 697px)"></i>
<i style="background:linear-gradient(90deg,#00f 0,#0004ff 100px,#001dff 108px,#0047ff 116px,#009eff 124px,#00f8ff 130px,#00ffdb 132px,#00ff2b 138px,#0eff00 140px,#e0ff00 148px,#ffe100 150px,#f90 152px,#ff6300 154px,#ff2400 158px,#ff2100 160px,#ff3700 162px,#ff7c00 166px,#ff0 172px,#5cff00 180px,#18ff00 184px,#00ff03 186px,#00ff40 192px,#00ff7d 200px,#00ff91 204px,#00ffb1 216px,#00ffce 220px,#00faff 224px,#00e8ff 230px,#00d3ff 248px,#00bcff 286px,#009bff 312px,#0072ff 394px,#0079ff 410px,#0097ff 428px,#00abff 432px,#00f1ff 441px,#00fff7 443px,#00ffa2 449px,#00ff35 459px,#00ff14 465px,#00ff17 467px,#00ff30 471px,#00fff0 489px,#00fcff 491px,#00bdff 505px,#0095ff 519px,#008aff 529px,#0081ff 567px,#0068ff 575px,#0096ff 577px,#00ecff 579px,#00ffb5 581px,#00ff72 583px,#00ff64 585px,#00ff61 595px,#00ff63 597px,#00ff72 599px,#00ffb9 605px,#0fd 619px,#00fdff 625px,#0078ff 641px,#004bff 649px,#02f 669px,#0014ff 697px)"></i>
<i style="background:linear-gradient(90deg,#00f 0,#0004ff 100px,#001dff 108px,#0047ff 116px,#009eff 124px,#00f7ff 130px,#00ffdc 132px,#00ff2c 138px,#0dff00 140px,#deff00 148px,#ffe300 150px,#ff9b00 152px,#ff6400 154px,#ff2500 158px,#ff2000 160px,#ff3600 162px,#ff7a00 166px,#fffe00 172px,#5eff00 180px,#0f0 186px,#00ff3e 192px,#00ff7b 200px,#00ff90 204px,#00ffb1 216px,#00ffce 220px,#00faff 224px,#00e8ff 230px,#00c6ff 258px,#00b4ff 286px,#09f 310px,#0074ff 396px,#007dff 412px,#0098ff 428px,#00aeff 432px,#00f8ff 441px,#0fe 443px,#00ff98 449px,#00ff3f 457px,#00ff1b 461px,#00ff0a 465px,#00ff0d 467px,#00ff26 471px,#00ffe8 489px,#00fffb 491px,#00f5ff 493px,#00b8ff 507px,#0092ff 521px,#0083ff 567px,#0068ff 575px,#0094ff 577px,#00e8ff 579px,#00ffbc 581px,#00ff7b 583px,#00ff6e 585px,#00ff6f 597px,#00ff7d 599px,#00ffc0 605px,#00ffe1 619px,#00fff4 623px,#00faff 625px,#0068ff 643px,#0049ff 649px,#02f 669px,#0014ff 697px)"></i>
<i style="background:linear-gradient(90deg,#00f 0,#0004ff 100px,#001dff 108px,#0047ff 116px,#009eff 124px,#00f6ff 130px,#0fd 132px,#00ff2d 138px,#0cff00 140px,#df0 148px,#ffe500 150px,#ff9d00 152px,#ff6500 154px,#ff2500 158px,#ff2000 160px,#ff3500 162px,#ff7900 166px,#fffd00 172px,#61ff00 180px,#1dff00 184px,#02ff00 186px,#00ff15 188px,#00ff4d 194px,#00ff86 202px,#00ffa8 214px,#00ffbd 218px,#00faff 224px,#00e8ff 230px,#00c1ff 260px,#0097ff 308px,#0075ff 396px,#007eff 412px,#0098ff 428px,#00b0ff 432px,#0ff 441px,#00ff8f 449px,#00ff36 457px,#0f1 461px,#00ff01 465px,#00ff03 467px,#00ff1c 471px,#00ffe1 489px,#00faff 493px,#00baff 507px,#0092ff 521px,#0085ff 567px,#0067ff 575px,#0093ff 577px,#00e4ff 579px,#00ffc4 581px,#00ff86 583px,#00ff79 585px,#00ff7b 597px,#00ffc7 605px,#00ffe6 619px,#00fff9 623px,#00f6ff 625px,#0065ff 643px,#0048ff 649px,#02f 669px,#0014ff 697px)"></i>
<i style="background:linear-gradient(90deg,#00f 0,#0004ff 100px,#001dff 108px,#0047ff 116px,#009eff 124px,#00f6ff 130px,#00ffde 132px,#00ff2e 138px,#0bff00 140px,#dbff00 148px,#ffe700 150px,#ff9e00 152px,#ff6500 154px,#ff2600 158px,#ff2000 160px,#ff3400 162px,#ff7800 166px,#fffc00 172px,#63ff00 180px,#1fff00 184px,#04ff00 186px,#00ff13 188px,#00ff4b 194px,#00ff85 202px,#00ffa8 214px,#00ffbd 218px,#00faff 224px,#00e8ff 230px,#00bdff 262px,#0095ff 306px,#07f 394px,#007fff 412px,#09f 428px,#00b3ff 432px,#00f0ff 439px,#00fff8 441px,#00ff87 449px,#00ff19 459px,#02ff00 463px,#05ff00 467px,#00ff05 469px,#00ff27 473px,#00ffda 489px,#0ff 493px,#00bcff 507px,#0092ff 521px,#008aff 529px,#0086ff 567px,#0067ff 575px,#0091ff 577px,#00dfff 579px,#0fc 581px,#00ff90 583px,#00ff85 585px,#00ff87 597px,#00ffcf 605px,#00ffed 619px,#00fffe 623px,#0071ff 641px,#0046ff 649px,#02f 669px,#0014ff 697px)"></i>
<i style="background:linear-gradient(90deg,#00f 0,#0004ff 100px,#001dff 108px,#0047ff 116px,#009eff 124px,#00f5ff 130px,#00ffe0 132px,#00ff30 138px,#09ff00 140px,#d9ff00 148px,#ffe900 150px,#ffa000 152px,#f60 154px,#ff2600 158px,#ff2000 160px,#ff3400 162px,#f70 166px,#fffb00 172px,#65ff00 180px,#21ff00 184px,#05ff00 186px,#00ff12 188px,#00ff4a 194px,#00ff84 202px,#00ffa9 214px,#00ffbe 218px,#00faff 224px,#00e8ff 230px,#00baff 262px,#0096ff 300px,#0078ff 396px,#0080ff 412px,#009aff 428px,#00b5ff 432px,#00f6ff 439px,#00fff1 441px,#00ff80 449px,#00ff12 459px,#00ff02 461px,#0fff00 465px,#0cff00 467px,#03ff00 469px,#00ff0d 471px,#00ffe9 491px,#00fffa 493px,#00f7ff 495px,#00b5ff 509px,#0092ff 521px,#008aff 529px,#0087ff 567px,#0067ff 575px,#0090ff 577px,#00dcff 579px,#00ffd2 581px,#00ff9b 583px,#00ff92 585px,#00ff92 595px,#00ffa0 599px,#00ffd8 605px,#00fffa 621px,#00f9ff 623px,#0061ff 643px,#04f 649px,#02f 669px,#0014ff 697px)"></i>
<i style="background:linear-gradient(90deg,#00f 0,#0004ff 100px,#001dff 108px,#0047ff 116px,#009eff 124px,#00f4ff 130px,#00ffe1 132px,#00ff31 138px,#08ff00 140px,#d8ff00 148px,#ffeb00 150px,#ffa100 152px,#ff6700 154px,#ff2600 158px,#ff1f00 160px,#f30 162px,#ff7600 166px,#fffa00 172px,#2f0 184px,#07ff00 186px,#00ff10 188px,#00ff49 194px,#00ff84 202px,#00ffa9 214px,#00ffbf 218px,#00faff 224px,#00ecff 228px,#00b9ff 262px,#0096ff 296px,#0079ff 396px,#0081ff 412px,#009bff 428px,#00b8ff 432px,#00fbff 439px,#00ffeb 441px,#00ff7a 449px,#00ff0c 459px,#04ff00 461px,#15ff00 465px,#12ff00 467px,#00ff06 471px,#00ffe4 491px,#00fbff 495px,#00b7ff 509px,#0092ff 521px,#008aff 529px,#08f 567px,#0067ff 575px,#008fff 577px,#00d9ff 579px,#00ffd7 581px,#00ffa4 583px,#00ff9e 595px,#00ffae 599px,#00ffe0 605px,#00fffb 619px,#00f2ff 623px,#006cff 641px,#0043ff 649px,#02f 669px,#0014ff 697px)"></i>
<i style="background:linear-gradient(90deg,#00f 0,#0004ff 100px,#001dff 108px,#0047ff 116px,#009eff 124px,#00f3ff 130px,#00ffe2 132px,#0f3 138px,#07ff00 140px,#d6ff00 148px,#ffec00 150px,#ffa200 152px,#ff6700 154px,#ff2700 158px,#ff1f00 160px,#ff3200 162px,#ff7600 166px,#fff900 172px,#23ff00 184px,#08ff00 186px,#00ff0f 188px,#00ff48 194px,#00ff83 202px,#0fa 214px,#00ffc0 218px,#00fbff 224px,#00ecff 228px,#00b7ff 262px,#0097ff 290px,#007aff 396px,#0081ff 412px,#009bff 428px,#00baff 432px,#00fffd 439px,#00ff75 449px,#00ff07 459px,#14ff00 463px,#17ff00 467px,#00ff02 471px,#00ff81 483px,#00ffe0 491px,#00fdff 495px,#00b8ff 509px,#0092ff 521px,#008aff 529px,#0089ff 567px,#0067ff 575px,#008fff 577px,#00d7ff 579px,#00ffdc 581px,#00ffaf 583px,#00ffab 595px,#0fb 599px,#00ffe8 605px,#0ff 617px,#00eaff 623px,#0069ff 641px,#0041ff 649px,#0024ff 667px,#0014ff 697px)"></i>
<i style="background:linear-gradient(90deg,#00f 0,#0004ff 100px,#001dff 108px,#0047ff 116px,#009eff 124px,#00f2ff 130px,#00ffe4 132px,#00ff35 138px,#05ff00 140px,#d5ff00 148px,#fe0 150px,#ffa300 152px,#ff6700 154px,#ff2700 158px,#ff1f00 160px,#ff3200 162px,#ff7500 166px,#fff900 172px,#24ff00 184px,#08ff00 186px,#00ff0f 188px,#00ff47 194px,#00ff82 202px,#00ffb6 216px,#00ffd4 220px,#00fbff 224px,#00ecff 228px,#00b6ff 262px,#0097ff 288px,#007aff 394px,#0082ff 412px,#009bff 428px,#00bdff 432px,#0ef 437px,#00fff8 439px,#00ff71 449px,#00ff04 459px,#17ff00 463px,#1aff00 467px,#02ff00 471px,#0f1 473px,#0fd 491px,#0ff 495px,#00b9ff 509px,#0092ff 521px,#008aff 529px,#0089ff 567px,#0067ff 575px,#008fff 577px,#00d6ff 579px,#00ffe1 581px,#00ffb9 583px,#00ffb8 595px,#00fff0 605px,#00fdff 613px,#00e2ff 623px,#06f 641px,#0040ff 649px,#0023ff 667px,#0014ff 697px)"></i>
<i style="background:linear-gradient(90deg,#00f 0,#0004ff 100px,#001dff 108px,#0047ff 116px,#009eff 124px,#00f1ff 130px,#00ffe5 132px,#03ff00 140px,#d4ff00 148px,#ffef00 150px,#ffa400 152px,#ff6800 154px,#ff2700 158px,#ff1f00 160px,#ff3200 162px,#ff7500 166px,#fff900 172px,#24ff00 184px,#09ff00 186px,#00ff0e 188px,#00ff47 194px,#00ff82 202px,#00ffbe 216px,#00fbff 224px,#00edff 228px,#00b6ff 262px,#0097ff 286px,#008aff 310px,#007aff 394px,#0082ff 412px,#009cff 428px,#00bfff 432px,#00f3ff 437px,#00fff3 439px,#00ff6f 449px,#00ff02 459px,#19ff00 463px,#1cff00 467px,#03ff00 471px,#00ff10 473px,#00ffda 491px,#00fffd 495px,#00baff 509px,#0092ff 521px,#008aff 529px,#008aff 567px,#0067ff 575px,#008fff 577px,#00d4ff 579px,#00ffe6 581px,#00ffc5 583px,#00ffc6 595px,#00fffe 607px,#00e2ff 621px,#0057ff 643px,#003eff 649px,#0023ff 667px,#0014ff 697px)"></i>
<i style="background:linear-gradient(90deg,#00f 0,#0004ff 100px,#001dff 108px,#0047ff 116px,#009eff 124px,#00f1ff 130px,#00ffe5 132px,#03ff00 140px,#d4ff00 148px,#ffef00 150px,#ffa400 152px,#ff6800 154px,#ff2700 158px,#ff1f00 160px,#ff3200 162px,#ff7500 166px,#fff900 172px,#24ff00 184px,#09ff00 186px,#00ff0e 188px,#00ff47 194px,#00ff82 202px,#00ffbe 216px,#00fbff 224px,#00edff 228px,#00b6ff 262px,#0097ff 286px,#008aff 310px,#007aff 394px,#0082ff 412px,#009cff 428px,#00bfff 432px,#00f3ff 437px,#00fff3 439px,#00ff6f 449px,#00ff02 459px,#19ff00 463px,#1cff00 467px,#03ff00 471px,#00ff10 473px,#00ffda 491px,#00fffd 495px,#00baff 509px,#0092ff 521px,#008aff 529px,#008aff 567px,#0067ff 575px,#008fff 577px,#00d4ff 579px,#00ffe6 581px,#00ffc5 583px,#00ffc6 595px,#00fffe 607px,#00e2ff 621px,#0057ff 643px,#003eff 649px,#0023ff 667px,#0014ff 697px)"></i>
<i style="background:linear-gradient(90deg,#00f 0,#0004ff 100px,#001dff 108px,#0047ff 116px,#009eff 124px,#00f1ff 130px,#00ffe5 132px,#03ff00 140px,#d4ff00 148px,#ffef00 150px,#ffa400 152px,#ff6800 154px,#ff2700 158px,#ff1f00 160px,#ff3200 162px,#ff7500 166px,#fff900 172px,#24ff00 184px,#09ff00 186px,#00ff0e 188px,#00ff47 194px,#00ff82 202px,#00ffbe 216px,#00fbff 224px,#00edff 228px,#00b6ff 262px,#0097ff 286px,#008aff 310px,#007aff 394px,#0082ff 412px,#009cff 428px,#00bfff 432px,#00f3ff 437px,#00fff3 439px,#00ff6f 449px,#00ff02 459px,#19ff00 463px,#1cff00 467px,#03ff00 471px,#00ff10 473px,#00ffda 491px,#00fffd 495px,#00baff 509px,#0092ff 521px,#008aff 529px,#008aff 567px,#0067ff 575px,#008fff 577px,#00d4ff 579px,#00ffe6 581px,#00ffc5 583px,#00ffc6 595px,#00fffe 607px,#00e2ff 621px,#0057ff 643px,#003eff 649px,#0023ff 667px,#0014ff 697px)"></i>
</div></div>
<div class="m" style="left:1436px;top:75.9px">TM</div>
<div class="pl" style="left:1212px;top:80.3px">(b)</div>
<div class="yt" style="left:1404.5px;top:705.9px">0</div>
<div class="yt" style="left:1404.5px;top:572.5px">15</div>
<div class="yt" style="left:1404.5px;top:439.2px">30</div>
<div class="yt" style="left:1404.5px;top:305.8px">45</div>
<div class="yt" style="left:1404.5px;top:172.5px">60</div>
<div class="yt" style="left:1404.5px;top:39.1px">75</div>
<div class="xt" style="left:1523.3px;top:744.9px">0.5</div>
<div class="xt" style="left:1642.9px;top:744.9px">1.0</div>
<div class="xt" style="left:1762.6px;top:744.9px">1.5</div>
<div class="xt" style="left:1882.3px;top:744.9px">2.0</div>
<div class="xt" style="left:2002px;top:744.9px">2.5</div>
<div class="xt" style="left:2121.7px;top:744.9px">3.0</div>
<div class="xl" style="left:1774px;top:786.9px">Frequency (THz)</div>
<div class="yl" style="left:1332px;top:373.9px">Incident angle (deg)</div>
<div class="cb" style="left:2167.2px;top:56px"></div>
<div class="ct" style="left:2206.2px;top:57px">1</div>
<div class="ct" style="left:2206.2px;top:698.5px">0</div>
<div class="h" style="left:211.1px;top:944.2px;width:697.7px;height:668px">
<div class="g" style="top:-27.8px;transform:scale(1.00129,1.00030)">
<i style="background:linear-gradient(90deg,#00f 0,#0002ff 20px,#02f 34px,#0079ff 54px,#00b1ff 62px,#00f5ff 70px,#00fff7 72px,#00ffe1 74px,#0f4 86px,#00ff17 90px,#07ff00 94px,#20ff00 98px,#4f0 106px,#45ff00 112px,#38ff00 120px,#00ff05 140px,#00ff49 156px,#00fdff 190px,#0082ff 214px,#0039ff 234px,#0018ff 246px,#000aff 258px,#00f 314px,#0005ff 346px,#0015ff 374px,#003aff 380px,#00b5ff 392px,#00e8ff 396px,#00fff7 398px,#00ffc8 400px,#00ff1d 406px,#04ff00 408px,#3f0 412px,#69ff00 418px,#79ff00 424px,#63ff00 428px,#0bff00 437px,#00ff0b 439px,#0fb 451px,#00fffe 457px,#00cdff 465px,#00b4ff 471px,#00a1ff 483px,#09f 497px,#00adff 519px,#00c2ff 523px,#0ff 529px,#0fb 533px,#06ff00 541px,#4fff00 545px,#61ff00 547px,#61ff00 549px,#47ff00 551px,#16ff00 553px,#00ff2a 555px,#00fff7 561px,#00d0ff 563px,#003aff 569px,#0015ff 571px,#000aff 573px,#00f 697px)"></i>
<i style="background:linear-gradient(90deg,#00f 0,#0002ff 20px,#02f 34px,#0079ff 54px,#00b1ff 62px,#00f5ff 70px,#00fff7 72px,#00ffe1 74px,#0f4 86px,#00ff17 90px,#07ff00 94px,#20ff00 98px,#4f0 106px,#45ff00 112px,#38ff00 120px,#00ff05 140px,#00ff49 156px,#00fdff 190px,#0082ff 214px,#0039ff 234px,#0018ff 246px,#000aff 258px,#00f 314px,#0005ff 346px,#0015ff 374px,#003aff 380px,#00b5ff 392px,#00e8ff 396px,#00fff7 398px,#00ffc8 400px,#00ff1d 406px,#04ff00 408px,#3f0 412px,#69ff00 418px,#79ff00 424px,#63ff00 428px,#0bff00 437px,#00ff0b 439px,#0fb 451px,#00fffe 457px,#00cdff 465px,#00b4ff 471px,#00a1ff 483px,#09f 497px,#00adff 519px,#00c2ff 523px,#0ff 529px,#0fb 533px,#06ff00 541px,#4fff00 545px,#61ff00 547px,#61ff00 549px,#47ff00 551px,#16ff00 553px,#00ff2a 555px,#00fff7 561px,#00d0ff 563px,#003aff 569px,#0015ff 571px,#000aff 573px,#00f 697px)"></i>
<i style="background:linear-gradient(90deg,#00f 0,#0002ff 20px,#02f 34px,#0079ff 54px,#00b1ff 62px,#00f5ff 70px,#00fff7 72px,#00ffe1 74px,#0f4 86px,#00ff17 90px,#07ff00 94px,#20ff00 98px,#4f0 106px,#45ff00 112px,#38ff00 120px,#00ff05 140px,#00ff49 156px,#00fdff 190px,#0082ff 214px,#0039ff 234px,#0018ff 246px,#000aff 258px,#00f 314px,#0005ff 346px,#0015ff 374px,#003aff 380px,#00b5ff 392px,#00e8ff 396px,#00fff7 398px,#00ffc8 400px,#00ff1d 406px,#04ff00 408px,#3f0 412px,#69ff00 418px,#79ff00 424px,#63ff00 428px,#0bff00 437px,#00ff0b 439px,#0fb 451px,#00fffe 457px,#00cdff 465px,#00b4ff 471px,#00a1ff 483px,#09f 497px,#00adff 519px,#00c2ff 523px,#0ff 529px,#0fb 533px,#06ff00 541px,#4fff00 545px,#61ff00 547px,#61ff00 549px,#47ff00 551px,#16ff00 553px,#00ff2a 555px,#00fff7 561px,#00d0ff 563px,#003aff 569px,#0015ff 571px,#000aff 573px,#00f 697px)"></i>
<i style="background:linear-gradient(90deg,#00f 0,#0002ff 20px,#0024ff 34px,#007aff 54px,#00b1ff 62px,#00f4ff 70px,#00fff8 72px,#00ffe3 74px,#00ff1c 90px,#03ff00 94px,#1bff00 98px,#40ff00 106px,#45ff00 112px,#35ff00 122px,#00ff02 140px,#00ff46 156px,#00feff 190px,#0082ff 214px,#0039ff 234px,#0017ff 246px,#000aff 258px,#00f 312px,#0005ff 346px,#0015ff 374px,#003cff 380px,#00b3ff 392px,#00fdff 398px,#00ffd9 400px,#00ff2d 406px,#00ff05 408px,#2bff00 412px,#62ff00 418px,#76ff00 424px,#65ff00 428px,#00ff03 439px,#00ff36 443px,#00ffce 453px,#00fff9 457px,#00f7ff 459px,#00c7ff 467px,#00b2ff 473px,#009cff 499px,#00b1ff 519px,#00c6ff 523px,#00fffc 529px,#00ffba 533px,#04ff00 541px,#4bff00 545px,#5dff00 547px,#5dff00 549px,#4f0 551px,#16ff00 553px,#00ff27 555px,#0fe 561px,#00d7ff 563px,#009dff 565px,#04f 569px,#0020ff 571px,#000cff 573px,#00f 697px)"></i>
<i style="background:linear-gradient(90deg,#00f 0,#0002ff 20px,#0025ff 34px,#007bff 54px,#00f3ff 70px,#00fff9 72px,#00ffe5 74px,#00ff21 90px,#00ff01 94px,#17ff00 98px,#3cff00 106px,#4f0 114px,#32ff00 124px,#0f0 140px,#00ff38 154px,#00fff3 188px,#00f6ff 192px,#0082ff 214px,#0038ff 234px,#0017ff 246px,#0008ff 264px,#00f 318px,#0015ff 374px,#002aff 378px,#00c5ff 394px,#00f5ff 398px,#00ffe7 400px,#00ff3e 406px,#00ff10 408px,#0bff00 410px,#37ff00 414px,#6f0 420px,#6fff00 426px,#59ff00 430px,#08ff00 439px,#00ff0d 441px,#00ff26 443px,#00ffda 455px,#0ff 459px,#0cf 467px,#00b6ff 473px,#00a1ff 495px,#00a5ff 507px,#00b6ff 519px,#0cf 523px,#00f1ff 527px,#00fff8 529px,#0fd 531px,#00ffb7 533px,#04ff00 541px,#48ff00 545px,#59ff00 547px,#58ff00 549px,#40ff00 551px,#14ff00 553px,#00ff25 555px,#00ffe5 561px,#00e1ff 563px,#00a4ff 565px,#004eff 569px,#0012ff 573px,#000aff 575px,#00f 697px)"></i>
<i style="background:linear-gradient(90deg,#00f 0,#0003ff 20px,#0026ff 34px,#007cff 54px,#00fffb 72px,#00ff26 90px,#00ff04 94px,#12ff00 98px,#38ff00 106px,#4f0 114px,#34ff00 124px,#00ff03 142px,#00ff3e 156px,#00fff1 188px,#00f8ff 192px,#0082ff 214px,#0038ff 234px,#0016ff 246px,#0007ff 264px,#00f 318px,#0015ff 374px,#002cff 378px,#00efff 398px,#00fff1 400px,#00ffc3 402px,#00ff1d 408px,#03ff00 410px,#2dff00 414px,#5dff00 420px,#6cff00 426px,#4dff00 432px,#01ff00 441px,#00ff2f 445px,#00ffca 455px,#00fff4 459px,#00fbff 461px,#00d4ff 467px,#00bcff 473px,#00a7ff 497px,#00bdff 519px,#00d3ff 523px,#00f8ff 527px,#00fff2 529px,#00ffd7 531px,#00ffb2 533px,#04ff00 541px,#46ff00 545px,#5f0 547px,#53ff00 549px,#3bff00 551px,#12ff00 553px,#00ff24 555px,#00ffdc 561px,#00ebff 563px,#007bff 567px,#0035ff 571px,#000cff 575px,#00f 697px)"></i>
<i style="background:linear-gradient(90deg,#00f 0,#0003ff 20px,#0027ff 34px,#007dff 54px,#00fffc 72px,#00ffd4 76px,#00ff2b 90px,#00ff08 94px,#0eff00 98px,#3aff00 108px,#43ff00 114px,#36ff00 124px,#0f0 142px,#00ff45 158px,#00ffef 188px,#00f9ff 192px,#0082ff 214px,#0037ff 234px,#0016ff 246px,#0008ff 262px,#00f 316px,#0015ff 374px,#002dff 378px,#006fff 384px,#00ebff 398px,#00fff9 400px,#00ffd0 402px,#00ff2a 408px,#00ff05 410px,#24ff00 414px,#5dff00 422px,#63ff00 428px,#43ff00 434px,#00ff03 443px,#00ff36 447px,#00ffd2 457px,#00fff7 461px,#00f8ff 463px,#00d2ff 469px,#00c4ff 473px,#00b2ff 487px,#00aeff 499px,#00c4ff 519px,#00dbff 523px,#0ff 527px,#00ffd0 531px,#00ffac 533px,#04ff00 541px,#43ff00 545px,#50ff00 547px,#4dff00 549px,#36ff00 551px,#0fff00 553px,#00ff23 555px,#00ffd4 561px,#00f5ff 563px,#0082ff 567px,#005fff 569px,#0024ff 573px,#000aff 577px,#00f 697px)"></i>
<i style="background:linear-gradient(90deg,#00f 0,#0004ff 20px,#0028ff 34px,#007eff 54px,#00fffe 72px,#00ffc0 78px,#00ff30 90px,#0f0 96px,#0aff00 98px,#37ff00 108px,#42ff00 116px,#3f0 126px,#00ff04 144px,#00ff41 158px,#00fbff 192px,#0083ff 214px,#0037ff 234px,#0015ff 246px,#0008ff 262px,#00f 314px,#0005ff 346px,#0015ff 374px,#002fff 378px,#0072ff 384px,#00d3ff 396px,#0ff 400px,#00ffdb 402px,#00ff37 408px,#00ff0e 410px,#09ff00 412px,#1bff00 414px,#50ff00 422px,#5bff00 428px,#46ff00 434px,#00ff02 445px,#00ff32 449px,#00ffcb 459px,#0ff 465px,#00d1ff 473px,#00baff 497px,#00d1ff 519px,#00fcff 525px,#00ffbf 531px,#00ff1d 539px,#0aff00 541px,#42ff00 545px,#4cff00 547px,#46ff00 549px,#2fff00 551px,#0bff00 553px,#00ff24 555px,#00fffe 563px,#008eff 567px,#0069ff 569px,#002fff 573px,#000dff 577px,#00f 697px)"></i>
<i style="background:linear-gradient(90deg,#00f 0,#0004ff 20px,#002aff 34px,#007eff 54px,#0ff 72px,#00ffc3 78px,#00ff35 90px,#00ff03 96px,#07ff00 98px,#3f0 108px,#41ff00 116px,#35ff00 126px,#00ff02 144px,#00ff48 160px,#00fdff 192px,#0083ff 214px,#0036ff 234px,#0015ff 246px,#0008ff 262px,#00f 314px,#0005ff 346px,#0015ff 374px,#0031ff 378px,#0076ff 384px,#00d1ff 396px,#00faff 400px,#00ffe4 402px,#0f4 408px,#00ff17 410px,#02ff00 412px,#12ff00 414px,#40ff00 422px,#4cff00 430px,#3cff00 437px,#03ff00 447px,#00ff24 451px,#00ffb4 461px,#00fffe 469px,#00e9ff 473px,#00dfff 477px,#0cf 497px,#00e1ff 517px,#00fffd 523px,#00ffa2 531px,#00ff0e 539px,#14ff00 541px,#42ff00 545px,#48ff00 547px,#3eff00 549px,#04ff00 553px,#00ff27 555px,#00fff3 563px,#00d8ff 565px,#009fff 567px,#0057ff 571px,#0025ff 575px,#000bff 579px,#00f 697px)"></i>
<i style="background:linear-gradient(90deg,#00f 0,#0002ff 18px,#002bff 34px,#007fff 54px,#00feff 72px,#00ffc6 78px,#00ff26 92px,#03ff00 98px,#35ff00 110px,#41ff00 118px,#32ff00 128px,#01ff00 144px,#0f4 160px,#00feff 192px,#0083ff 214px,#003dff 232px,#0019ff 244px,#000aff 256px,#00f 312px,#0005ff 346px,#0015ff 374px,#0032ff 378px,#0079ff 384px,#00d0ff 396px,#00f7ff 400px,#00ffeb 402px,#00ff20 410px,#00ff02 412px,#0bff00 414px,#3f0 422px,#41ff00 430px,#3f0 439px,#00ff05 451px,#00ff30 455px,#00ff9d 463px,#00ffec 471px,#00fbff 475px,#00e1ff 497px,#00e9ff 509px,#00fcff 519px,#00ffe3 523px,#00ff86 531px,#00ff02 539px,#31ff00 543px,#3fff00 545px,#42ff00 547px,#36ff00 549px,#00ff03 553px,#00ffeb 563px,#00e5ff 565px,#0080ff 569px,#0063ff 571px,#001cff 577px,#000aff 581px,#00f 697px)"></i>
<i style="background:linear-gradient(90deg,#00f 0,#0003ff 18px,#0024ff 32px,#0080ff 54px,#00fcff 72px,#00ffc9 78px,#00ff2b 92px,#0f0 98px,#32ff00 110px,#40ff00 118px,#34ff00 128px,#00ff03 146px,#00ff41 160px,#00fffe 192px,#00f5ff 194px,#0083ff 214px,#0035ff 234px,#0014ff 246px,#0006ff 266px,#00f 318px,#0015ff 374px,#03f 378px,#007aff 384px,#00d1ff 396px,#00f6ff 400px,#00ffed 402px,#00ffc2 404px,#00ff29 410px,#00ff08 412px,#07ff00 414px,#38ff00 426px,#3dff00 432px,#35ff00 439px,#00ff03 453px,#00ff2b 457px,#00ff7d 463px,#00ffd0 471px,#00ffed 475px,#0ff 483px,#00f3ff 497px,#00fdff 511px,#00ffef 519px,#00ffd0 523px,#00ff75 531px,#01ff00 539px,#2eff00 543px,#3aff00 545px,#3bff00 547px,#18ff00 551px,#00ff09 553px,#00ffe9 563px,#00eaff 565px,#0089ff 569px,#006bff 571px,#0023ff 577px,#000bff 581px,#00f 697px)"></i>
<i style="background:linear-gradient(90deg,#00f 0,#0003ff 18px,#0025ff 32px,#0080ff 54px,#00fbff 72px,#0fc 78px,#00ff30 92px,#00ff03 98px,#39ff00 114px,#3aff00 126px,#0f0 146px,#00ff07 148px,#00ff3d 160px,#00fff1 190px,#00f7ff 194px,#0083ff 214px,#0035ff 234px,#0014ff 246px,#0006ff 268px,#00f 318px,#0015ff 374px,#03f 378px,#007aff 384px,#00d1ff 396px,#00f6ff 400px,#0fe 402px,#00ffc5 404px,#00ff31 410px,#00ff0e 412px,#03ff00 414px,#36ff00 426px,#3dff00 432px,#38ff00 439px,#00ff04 455px,#00ff2c 459px,#00ff7a 465px,#00ffd6 475px,#00ffe6 479px,#00fff9 491px,#00fffa 505px,#00ffe2 519px,#00ffc5 523px,#00ff6e 531px,#00ff02 539px,#28ff00 543px,#32ff00 545px,#3f0 547px,#1f0 551px,#00ff0f 553px,#00ffea 563px,#00ebff 565px,#008eff 569px,#006fff 571px,#0028ff 577px,#000dff 581px,#00f 697px)"></i>
<i style="background:linear-gradient(90deg,#00f 0,#0003ff 18px,#0026ff 32px,#0081ff 54px,#00faff 72px,#00ffce 78px,#00ff35 92px,#00ff07 98px,#36ff00 114px,#3bff00 126px,#03ff00 146px,#00ff0b 150px,#0f4 162px,#00ffef 190px,#00f8ff 194px,#0083ff 214px,#0034ff 234px,#0013ff 246px,#0006ff 266px,#00f 316px,#0015ff 374px,#03f 378px,#007aff 384px,#00f6ff 400px,#0fe 402px,#00ffc7 404px,#00ff38 410px,#00ff14 412px,#0f0 414px,#3f0 426px,#3dff00 432px,#3aff00 439px,#00ff06 457px,#00ff75 467px,#00ffca 477px,#00ffd9 481px,#00ffec 493px,#00ffed 505px,#00ffd7 519px,#0fa 525px,#0f5 533px,#00ff08 539px,#2aff00 545px,#2bff00 547px,#09ff00 551px,#00ff16 553px,#00ff3c 555px,#00ffeb 563px,#00ebff 565px,#0092ff 569px,#0059ff 573px,#001bff 579px,#000aff 583px,#00f 697px)"></i>
<i style="background:linear-gradient(90deg,#00f 0,#0004ff 18px,#0027ff 32px,#0081ff 54px,#00f9ff 72px,#00fff6 74px,#00ffd1 78px,#00ff28 94px,#0f0 100px,#34ff00 114px,#3cff00 126px,#05ff00 146px,#00ff08 150px,#00ff4c 164px,#00faff 194px,#0083ff 214px,#003aff 232px,#0017ff 244px,#0008ff 260px,#00f 316px,#0015ff 374px,#03f 378px,#007aff 384px,#00f6ff 400px,#00ffef 402px,#00ffca 404px,#00ff40 410px,#00ff1b 412px,#00ff03 414px,#35ff00 428px,#3cff00 439px,#2aff00 447px,#02ff00 457px,#00ff1a 461px,#00ff81 471px,#00ffbc 479px,#00ffcb 483px,#00ffde 495px,#00ffdc 509px,#00ffc3 521px,#00ff6a 531px,#06ff00 541px,#20ff00 545px,#21ff00 547px,#0f0 551px,#00ff43 555px,#00ffeb 563px,#00ecff 565px,#0095ff 569px,#005dff 573px,#001eff 579px,#000bff 583px,#00f 697px)"></i>
<i style="background:linear-gradient(90deg,#00f 0,#0004ff 18px,#0027ff 32px,#0081ff 54px,#00f7ff 72px,#00fff8 74px,#00ffd4 78px,#00ff2d 94px,#00ff03 100px,#36ff00 116px,#3dff00 126px,#00ff05 150px,#00ff48 164px,#00fcff 194px,#0083ff 214px,#003aff 232px,#0016ff 244px,#0009ff 258px,#00f 314px,#0005ff 346px,#0015ff 374px,#03f 378px,#007aff 384px,#00f6ff 400px,#00ffef 402px,#0fc 404px,#00ff47 410px,#00ff08 414px,#05ff00 416px,#3f0 428px,#3dff00 439px,#2eff00 447px,#0f0 459px,#00ff1c 463px,#00ff6b 471px,#00ffad 481px,#00ffbc 485px,#00ffcf 497px,#00ffce 509px,#00ffb7 521px,#00ff58 533px,#00ff03 541px,#16ff00 545px,#0cff00 549px,#00ff09 551px,#00ff26 553px,#00ffec 563px,#00edff 565px,#09f 569px,#0079ff 571px,#03f 577px,#000cff 583px,#00f 697px)"></i>
<i style="background:linear-gradient(90deg,#00f 0,#0004ff 18px,#0028ff 32px,#0081ff 54px,#00f6ff 72px,#00ffe9 76px,#0f4 92px,#00ff07 100px,#3f0 116px,#3dff00 126px,#30ff00 134px,#04ff00 148px,#00ff0a 152px,#00ff50 166px,#00fdff 194px,#0083ff 214px,#0039ff 232px,#0016ff 244px,#0008ff 260px,#00f 314px,#0005ff 346px,#0015ff 374px,#03f 378px,#007aff 384px,#00f7ff 400px,#00fff0 402px,#00ffce 404px,#00ff2a 412px,#00ff0e 414px,#02ff00 416px,#30ff00 428px,#3dff00 439px,#32ff00 447px,#00ff03 461px,#00ff67 473px,#00ff94 481px,#00ffad 489px,#00ffbc 503px,#00ffa4 521px,#00ff58 533px,#00ff0c 541px,#02ff00 543px,#0bff00 547px,#01ff00 549px,#00ff30 553px,#00ffed 563px,#0ef 565px,#007eff 571px,#0025ff 579px,#000dff 583px,#00f 697px)"></i>
<i style="background:linear-gradient(90deg,#00f 0,#0004ff 18px,#0028ff 32px,#0082ff 54px,#00f5ff 72px,#00fffb 74px,#00ffd9 78px,#00ff36 94px,#0f0 102px,#30ff00 116px,#3dff00 126px,#3f0 134px,#0f0 150px,#00ff07 152px,#00ff4c 166px,#0ff 194px,#0083ff 214px,#0039ff 232px,#0015ff 244px,#0008ff 260px,#00f 312px,#0005ff 346px,#0015ff 374px,#03f 378px,#007aff 384px,#00f7ff 400px,#00fff0 402px,#0f3 412px,#00ff02 416px,#2cff00 428px,#3dff00 439px,#31ff00 449px,#04ff00 461px,#00ff12 465px,#00ff61 475px,#00ff75 479px,#00ff91 489px,#00ffa0 503px,#0f9 513px,#00ff84 523px,#00ff61 531px,#00ff08 543px,#00ff02 547px,#00ff0d 549px,#00ff3c 553px,#0fe 563px,#00efff 565px,#0084ff 571px,#0054ff 575px,#0019ff 581px,#000aff 585px,#00f 697px)"></i>
<i style="background:linear-gradient(90deg,#00f 0,#0004ff 18px,#0028ff 32px,#0081ff 54px,#00fffc 74px,#00ffc8 80px,#00ff3b 94px,#00ff04 102px,#2eff00 116px,#3dff00 126px,#30ff00 136px,#00ff04 152px,#00ff3d 164px,#00fffd 194px,#00f4ff 196px,#0084ff 214px,#0038ff 232px,#0014ff 244px,#0006ff 266px,#00f 320px,#0015ff 374px,#03f 378px,#007aff 384px,#00f7ff 400px,#00fff1 402px,#00ffd2 404px,#00ff1e 414px,#00ff08 416px,#0cff00 420px,#32ff00 432px,#3dff00 443px,#30ff00 451px,#01ff00 463px,#0f6 479px,#00ff7b 489px,#00ff8a 503px,#00ff7e 517px,#0f6 529px,#00ff1d 541px,#00ff10 547px,#00ff1b 549px,#00ff47 553px,#00ffef 563px,#00f0ff 565px,#0089ff 571px,#0042ff 577px,#001cff 581px,#000aff 585px,#00f 697px)"></i>
<i style="background:linear-gradient(90deg,#00f 0,#0004ff 18px,#0028ff 32px,#0081ff 54px,#00fffd 74px,#00ffcb 80px,#00ff40 94px,#00ff07 102px,#02ff00 104px,#30ff00 118px,#3dff00 126px,#3f0 136px,#00ff01 152px,#00ff3a 164px,#00fffc 194px,#00f6ff 196px,#0084ff 214px,#0038ff 232px,#0014ff 244px,#0006ff 264px,#00f 318px,#0015ff 374px,#03f 378px,#007aff 384px,#00f7ff 400px,#00fff1 402px,#00ffd4 404px,#00ff25 414px,#0f0 418px,#09ff00 420px,#2fff00 432px,#3dff00 445px,#2fff00 453px,#01ff00 465px,#00ff60 481px,#00ff82 505px,#0f6 529px,#00ff28 541px,#00ff1d 547px,#00ff27 549px,#00ff51 553px,#00fff0 563px,#00f0ff 565px,#008aff 571px,#005bff 575px,#001fff 581px,#000bff 585px,#00f 697px)"></i>
<i style="background:linear-gradient(90deg,#00f 0,#0004ff 18px,#0028ff 32px,#0081ff 54px,#0ff 74px,#00ffce 80px,#00ff46 94px,#00ff0b 102px,#06ff00 106px,#2dff00 118px,#3cff00 126px,#35ff00 136px,#00ff06 154px,#00ff41 166px,#00fffa 194px,#00f8ff 196px,#0084ff 214px,#0037ff 232px,#0013ff 244px,#0006ff 266px,#00f 318px,#0015ff 374px,#03f 378px,#007aff 384px,#00f7ff 400px,#00fff1 402px,#00ffd6 404px,#00ff2d 414px,#00ff04 418px,#05ff00 420px,#32ff00 434px,#3eff00 447px,#2fff00 455px,#02ff00 467px,#00ff60 485px,#00ff7e 507px,#00ff68 529px,#00ff2d 543px,#00ff29 547px,#0f3 549px,#00ff5a 553px,#00fff3 563px,#0ef 565px,#0089ff 571px,#0048ff 577px,#0017ff 583px,#000aff 587px,#00f 697px)"></i>
<i style="background:linear-gradient(90deg,#00f 0,#0004ff 18px,#0028ff 32px,#0081ff 54px,#00fdff 74px,#00ffd2 80px,#00ff3b 96px,#00ff06 104px,#3aff00 126px,#38ff00 136px,#00ff02 154px,#00ff3d 166px,#00faff 196px,#0084ff 214px,#0037ff 232px,#0013ff 244px,#0006ff 266px,#00f 316px,#0015ff 374px,#03f 378px,#007aff 384px,#00f7ff 400px,#00fff2 402px,#00ffd7 404px,#00ff34 414px,#00ff08 418px,#02ff00 420px,#30ff00 434px,#3fff00 447px,#35ff00 455px,#05ff00 469px,#00ff0c 473px,#00ff58 487px,#00ff7a 511px,#00ff68 531px,#00ff3b 543px,#00ff37 547px,#00ff3e 549px,#00ff64 553px,#00fff7 563px,#00eaff 565px,#00a6ff 569px,#0073ff 573px,#002aff 581px,#000cff 587px,#00f 697px)"></i>
<i style="background:linear-gradient(90deg,#00f 0,#0004ff 18px,#0028ff 32px,#0081ff 54px,#00fcff 74px,#00ffd5 80px,#00ff42 96px,#00ff0b 104px,#06ff00 108px,#39ff00 126px,#37ff00 138px,#00ff06 156px,#00ff45 168px,#00fcff 196px,#007bff 216px,#0036ff 232px,#0012ff 244px,#0006ff 266px,#00f 314px,#0005ff 346px,#0015ff 374px,#03f 378px,#007aff 384px,#00f7ff 400px,#00fff2 402px,#00ffd8 404px,#00ff3b 414px,#00ff0d 418px,#00ff01 420px,#16ff00 426px,#37ff00 439px,#3fff00 451px,#31ff00 459px,#01ff00 473px,#00ff57 491px,#00ff76 513px,#00ff6a 533px,#0f4 547px,#00ff4a 549px,#00ff6e 553px,#00fffd 563px,#0087ff 571px,#0073ff 573px,#0023ff 583px,#000bff 589px,#00f 697px)"></i>
<i style="background:linear-gradient(90deg,#00f 0,#0002ff 16px,#02f 30px,#0081ff 54px,#00faff 74px,#00ffd8 80px,#00ff38 98px,#00ff06 106px,#36ff00 126px,#39ff00 138px,#00ff03 156px,#00ff4d 170px,#00feff 196px,#0086ff 214px,#003dff 230px,#0016ff 242px,#0008ff 256px,#00f 312px,#0005ff 346px,#0015ff 374px,#03f 378px,#007aff 384px,#00f7ff 400px,#00fff2 402px,#00ffd9 404px,#00ff42 414px,#00ff13 418px,#00ff04 420px,#14ff00 426px,#36ff00 439px,#42ff00 451px,#32ff00 461px,#04ff00 475px,#00ff0b 479px,#00ff56 495px,#00ff74 517px,#00ff6c 535px,#00ff52 547px,#00ff56 549px,#00ff78 553px,#00ffe9 561px,#00fbff 563px,#00a0ff 569px,#0074ff 573px,#0029ff 583px,#000fff 589px,#00f 697px)"></i>
<i style="background:linear-gradient(90deg,#00f 0,#0002ff 16px,#02f 30px,#0080ff 54px,#00f8ff 74px,#00ffeb 78px,#00ff3f 98px,#00ff0b 106px,#05ff00 110px,#34ff00 126px,#3bff00 138px,#01ff00 156px,#00ff07 158px,#00ff49 170px,#00fffe 196px,#0086ff 214px,#0035ff 232px,#0015ff 242px,#0008ff 258px,#00f 312px,#0005ff 346px,#0015ff 374px,#03f 378px,#007aff 384px,#00f8ff 400px,#00ffdb 404px,#00ff2f 416px,#00ff08 420px,#02ff00 422px,#30ff00 437px,#43ff00 451px,#38ff00 461px,#0f0 479px,#00ff49 495px,#00ff60 505px,#00ff72 523px,#00ff61 549px,#00ff82 553px,#00fff1 561px,#00f4ff 563px,#009dff 569px,#0074ff 573px,#002eff 583px,#000dff 591px,#00f 697px)"></i>
<i style="background:linear-gradient(90deg,#00f 0,#0002ff 16px,#02f 30px,#0080ff 54px,#00f7ff 74px,#00ffed 78px,#0f4 98px,#00ff0f 106px,#02ff00 110px,#32ff00 126px,#3dff00 134px,#3aff00 140px,#00ff04 158px,#00ff38 168px,#00fffc 196px,#00f4ff 198px,#007dff 216px,#0034ff 232px,#0010ff 244px,#0004ff 272px,#00f 320px,#0015ff 374px,#03f 378px,#007aff 384px,#00f8ff 400px,#00ffdc 404px,#00ff4f 414px,#00ff1f 418px,#00ff01 422px,#07ff00 424px,#34ff00 439px,#45ff00 453px,#38ff00 463px,#00ff04 483px,#00ff4c 499px,#00ff5d 507px,#00ff71 525px,#00ff6c 549px,#00ff8c 553px,#00fffa 561px,#009bff 569px,#0074ff 573px,#0027ff 585px,#000cff 593px,#00f 697px)"></i>
<i style="background:linear-gradient(90deg,#00f 0,#0002ff 16px,#02f 30px,#0080ff 54px,#00fffc 76px,#00ff49 98px,#00ff13 106px,#00ff01 110px,#2fff00 126px,#3cff00 140px,#2eff00 146px,#00ff01 158px,#00ff41 170px,#00fffb 196px,#00f6ff 198px,#007dff 216px,#0034ff 232px,#0014ff 242px,#0006ff 264px,#00f 318px,#0015ff 374px,#03f 378px,#007aff 384px,#00f8ff 400px,#00ffdc 404px,#00ff25 418px,#00ff05 422px,#04ff00 424px,#37ff00 441px,#46ff00 453px,#39ff00 465px,#00ff02 485px,#00ff42 499px,#00ff59 507px,#00ff6f 525px,#00ff75 549px,#00ff95 553px,#00fcff 561px,#0098ff 569px,#0075ff 573px,#0029ff 585px,#000dff 593px,#00f 697px)"></i>
<i style="background:linear-gradient(90deg,#00f 0,#0002ff 16px,#02f 30px,#0080ff 54px,#00fffe 76px,#00ff3e 100px,#00ff0d 108px,#03ff00 112px,#2dff00 126px,#3bff00 134px,#3aff00 142px,#00ff06 160px,#00ff3e 170px,#00ffec 194px,#00f7ff 198px,#007dff 216px,#03f 232px,#0013ff 242px,#0006ff 264px,#00f 318px,#0015ff 374px,#03f 378px,#007aff 384px,#00f8ff 400px,#0fd 404px,#00ff2b 418px,#01ff00 424px,#36ff00 441px,#48ff00 455px,#38ff00 467px,#00ff03 487px,#0f4 501px,#00ff5a 509px,#00ff6d 523px,#00ff7e 549px,#00ffa0 553px,#00fff2 559px,#00f4ff 561px,#0096ff 569px,#0075ff 573px,#002aff 585px,#000eff 593px,#00f 697px)"></i>
<i style="background:linear-gradient(90deg,#00f 0,#0002ff 16px,#02f 30px,#0080ff 54px,#0ff 76px,#00ff41 100px,#00ff0f 108px,#01ff00 112px,#2cff00 126px,#3aff00 134px,#3bff00 142px,#00ff04 160px,#00ff3b 170px,#00ffeb 194px,#00f8ff 198px,#007eff 216px,#03f 232px,#0013ff 242px,#0006ff 264px,#00f 318px,#0015ff 374px,#03f 378px,#007aff 384px,#00f6ff 400px,#00ffe0 404px,#00ff49 416px,#00ff1f 420px,#00ff02 424px,#06ff00 426px,#39ff00 443px,#49ff00 455px,#3cff00 467px,#02ff00 487px,#00ff47 503px,#00ff58 509px,#00ff87 549px,#00ffae 553px,#00fffe 559px,#0081ff 571px,#0034ff 583px,#000eff 593px,#00f 697px)"></i>
<i style="background:linear-gradient(90deg,#00f 0,#0002ff 16px,#02f 30px,#0080ff 54px,#0ff 76px,#00ff43 100px,#00ff10 108px,#01ff00 112px,#2bff00 126px,#3aff00 134px,#3cff00 142px,#00ff03 160px,#00ff47 172px,#00ffea 194px,#00f8ff 198px,#007eff 216px,#03f 232px,#0013ff 242px,#0006ff 264px,#00f 316px,#0015ff 374px,#0032ff 378px,#0079ff 384px,#00f3ff 400px,#00fff9 402px,#00ffe5 404px,#00ff26 420px,#02ff00 426px,#38ff00 443px,#49ff00 457px,#3bff00 469px,#01ff00 489px,#00ff56 509px,#0f8 547px,#00ffa8 551px,#00fff7 557px,#00f1ff 559px,#009cff 567px,#007bff 571px,#0032ff 583px,#000dff 593px,#00f 697px)"></i>
<i style="background:linear-gradient(90deg,#00f 0,#0002ff 16px,#02f 30px,#0080ff 54px,#00feff 76px,#00ffd6 82px,#00ff43 100px,#00ff10 108px,#01ff00 112px,#2bff00 126px,#3aff00 134px,#3cff00 142px,#2eff00 148px,#00ff02 160px,#00ff46 172px,#00ffea 194px,#00f8ff 198px,#007eff 216px,#03f 232px,#0013ff 242px,#0006ff 264px,#00f 316px,#0015ff 374px,#0031ff 378px,#0087ff 386px,#0ff 402px,#00ff2f 420px,#00ff0d 424px,#06ff00 428px,#3bff00 445px,#4aff00 459px,#3aff00 471px,#0f0 491px,#00ff45 505px,#00ff59 511px,#00ff73 533px,#00ff8b 545px,#00ffa6 549px,#00fff3 555px,#00f5ff 557px,#00a3ff 565px,#0075ff 571px,#002eff 583px,#000cff 593px,#00f 697px)"></i>
<i style="background:linear-gradient(90deg,#00f 0,#0002ff 16px,#02f 30px,#0080ff 54px,#00feff 76px,#00ffd6 82px,#00ff43 100px,#00ff10 108px,#01ff00 112px,#2bff00 126px,#3aff00 134px,#3cff00 142px,#2eff00 148px,#00ff02 160px,#00ff45 172px,#00ffea 194px,#00f8ff 198px,#007eff 216px,#03f 232px,#0013ff 242px,#0006ff 264px,#00f 316px,#0015ff 374px,#0030ff 378px,#0085ff 386px,#00f9ff 402px,#00ffdf 406px,#00ff25 422px,#02ff00 428px,#39ff00 445px,#4bff00 459px,#39ff00 473px,#00ff02 493px,#00ff57 511px,#0f7 533px,#00ff8f 543px,#00ffa7 547px,#00fff2 553px,#00f7ff 555px,#00a7ff 563px,#0079ff 569px,#0034ff 581px,#000fff 591px,#00f 697px)"></i>
<i style="background:linear-gradient(90deg,#00f 0,#0002ff 16px,#02f 30px,#0080ff 54px,#00feff 76px,#00ffd7 82px,#00ff43 100px,#00ff10 108px,#01ff00 112px,#2bff00 126px,#3aff00 134px,#3cff00 142px,#2eff00 148px,#00ff01 160px,#00ff45 172px,#00ffea 194px,#00f8ff 198px,#007eff 216px,#03f 232px,#0013ff 242px,#0006ff 264px,#00f 316px,#0015ff 374px,#002fff 378px,#0083ff 386px,#00fffb 404px,#00ff2e 422px,#00ff0d 426px,#06ff00 430px,#3cff00 447px,#4cff00 459px,#3cff00 473px,#02ff00 493px,#0f5 511px,#0f7 531px,#00ff92 541px,#0fa 545px,#00fff2 551px,#00f7ff 553px,#0af 561px,#007dff 567px,#002fff 581px,#000eff 591px,#00f 697px)"></i>
<i style="background:linear-gradient(90deg,#00f 0,#0002ff 16px,#02f 30px,#0080ff 54px,#00fdff 76px,#00ffd7 82px,#00ff43 100px,#00ff10 108px,#01ff00 112px,#2bff00 126px,#3aff00 134px,#3cff00 142px,#2fff00 148px,#00ff01 160px,#0f4 172px,#00ffea 194px,#00f8ff 198px,#007eff 216px,#03f 232px,#0013ff 242px,#0006ff 264px,#00f 316px,#0015ff 374px,#002eff 378px,#0080ff 386px,#00fcff 404px,#00ffdc 408px,#00ff38 422px,#00ff14 426px,#03ff00 430px,#3bff00 447px,#4dff00 461px,#3aff00 475px,#0f0 495px,#00ff53 511px,#00ff7b 531px,#00ff94 539px,#00ffad 543px,#00fff3 549px,#00f7ff 551px,#00acff 559px,#007fff 565px,#002bff 581px,#000dff 591px,#00f 697px)"></i>
<i style="background:linear-gradient(90deg,#00f 0,#0002ff 16px,#02f 30px,#0080ff 54px,#00fdff 76px,#00ffd8 82px,#00ff43 100px,#00ff10 108px,#01ff00 112px,#2aff00 126px,#39ff00 134px,#3cff00 142px,#2fff00 148px,#0f0 160px,#0f4 172px,#00ffea 194px,#00f8ff 198px,#007eff 216px,#03f 232px,#0013ff 242px,#0006ff 264px,#00f 316px,#0015ff 374px,#002dff 378px,#007eff 386px,#00f6ff 404px,#00ffe5 408px,#00ff2d 424px,#00ff0c 428px,#08ff00 432px,#3eff00 449px,#4dff00 461px,#3dff00 475px,#00ff03 497px,#00ff51 511px,#00ff7b 529px,#00ff96 537px,#00ffb0 541px,#00fff4 547px,#00f7ff 549px,#0082ff 563px,#002fff 579px,#000fff 589px,#00f 697px)"></i>
<i style="background:linear-gradient(90deg,#00f 0,#0002ff 16px,#02f 30px,#0080ff 54px,#00fdff 76px,#00ffd8 82px,#00ff43 100px,#00ff10 108px,#01ff00 112px,#2aff00 126px,#39ff00 134px,#3cff00 142px,#29ff00 150px,#0f0 160px,#00ff43 172px,#00ffea 194px,#00f8ff 198px,#007eff 216px,#03f 232px,#0013ff 242px,#0006ff 264px,#00f 316px,#0015ff 374px,#002cff 378px,#007bff 386px,#00fffe 406px,#00ffc2 412px,#00ff34 424px,#0f1 428px,#05ff00 432px,#3dff00 449px,#4eff00 461px,#3cff00 477px,#0f0 497px,#00ff4f 511px,#00ff98 535px,#00ffb2 539px,#00fff3 545px,#00f8ff 547px,#00a1ff 557px,#007aff 563px,#002bff 579px,#000eff 589px,#00f 697px)"></i>
<i style="background:linear-gradient(90deg,#00f 0,#0002ff 16px,#02f 30px,#007fff 54px,#00fcff 76px,#00ffd8 82px,#0f4 100px,#00ff10 108px,#01ff00 112px,#2aff00 126px,#39ff00 134px,#3cff00 142px,#29ff00 150px,#01ff00 160px,#00ff43 172px,#00ffea 194px,#00f8ff 198px,#007eff 216px,#03f 232px,#0013ff 242px,#0006ff 264px,#00f 316px,#0015ff 374px,#002bff 378px,#007aff 386px,#00fbff 406px,#00ffdf 410px,#00ff27 426px,#02ff00 432px,#3cff00 449px,#4fff00 463px,#3eff00 477px,#00ff04 499px,#00ff4d 511px,#00ff97 533px,#00ffb2 537px,#00fbff 545px,#00a6ff 555px,#007eff 561px,#002fff 577px,#0010ff 587px,#0005ff 621px,#00f 697px)"></i>
<i style="background:linear-gradient(90deg,#00f 0,#0002ff 16px,#02f 30px,#007fff 54px,#00fcff 76px,#00ffd9 82px,#0f4 100px,#00ff10 108px,#01ff00 112px,#2aff00 126px,#39ff00 134px,#3cff00 142px,#29ff00 150px,#01ff00 160px,#00ff35 170px,#00ffea 194px,#00f8ff 198px,#007eff 216px,#03f 232px,#0013ff 242px,#0006ff 264px,#00f 316px,#0015ff 374px,#002bff 378px,#0078ff 386px,#00f7ff 406px,#00ffe4 410px,#00ff2b 426px,#01ff00 432px,#3cff00 449px,#51ff00 463px,#3cff00 479px,#00ff01 499px,#00ff4c 511px,#00ff95 531px,#00ffaf 535px,#0ff 543px,#0084ff 559px,#0035ff 575px,#000fff 587px,#00f 697px)"></i>
<i style="background:linear-gradient(90deg,#00f 0,#0002ff 16px,#02f 30px,#007fff 54px,#00fcff 76px,#00ffd9 82px,#0f4 100px,#00ff10 108px,#01ff00 112px,#2aff00 126px,#3cff00 142px,#2aff00 150px,#01ff00 160px,#00ff34 170px,#00ffea 194px,#00f8ff 198px,#007eff 216px,#03f 232px,#0013ff 242px,#0006ff 264px,#00f 316px,#0015ff 374px,#002aff 378px,#0085ff 388px,#00f5ff 406px,#00fffa 408px,#00ffe7 410px,#00ff42 424px,#00ff1a 428px,#0f0 432px,#08ff00 434px,#41ff00 451px,#52ff00 465px,#3fff00 479px,#01ff00 499px,#00ff4c 511px,#00ff90 529px,#0fb 535px,#00fff7 541px,#00f6ff 543px,#00a6ff 553px,#0080ff 559px,#0032ff 575px,#000eff 587px,#00f 697px)"></i>
<i style="background:linear-gradient(90deg,#00f 0,#0002ff 16px,#02f 30px,#007fff 54px,#00fbff 76px,#00ffd9 82px,#0f4 100px,#00ff10 108px,#01ff00 112px,#2aff00 126px,#3cff00 142px,#2aff00 150px,#02ff00 160px,#00ff07 162px,#00ff41 172px,#00ffe9 194px,#00f8ff 198px,#007eff 216px,#03f 232px,#0013ff 242px,#0006ff 264px,#00f 316px,#0015ff 374px,#002aff 378px,#0084ff 388px,#00fffc 408px,#00ffd5 412px,#00ff2e 426px,#00ff0c 430px,#08ff00 434px,#41ff00 451px,#54ff00 465px,#42ff00 479px,#02ff00 499px,#00ff13 503px,#00ff4c 511px,#00ff96 529px,#00feff 541px,#00afff 551px,#007dff 559px,#0031ff 575px,#000dff 587px,#00f 697px)"></i>
<i style="background:linear-gradient(90deg,#00f 0,#0002ff 16px,#02f 30px,#007fff 54px,#00fbff 76px,#00ffda 82px,#0f4 100px,#00ff10 108px,#01ff00 112px,#2aff00 126px,#3cff00 142px,#30ff00 148px,#00ff07 162px,#00ff41 172px,#00ffe9 194px,#00f8ff 198px,#007eff 216px,#03f 232px,#0013ff 242px,#0006ff 264px,#00f 316px,#0015ff 374px,#002aff 378px,#0084ff 388px,#00fffe 408px,#00ffc1 414px,#00ff2f 426px,#00ff0d 430px,#08ff00 434px,#42ff00 451px,#56ff00 465px,#45ff00 479px,#00ff04 501px,#00ff4b 511px,#00ff9d 529px,#00fff8 539px,#00f5ff 541px,#00a9ff 551px,#007aff 559px,#002fff 575px,#000dff 587px,#00f 697px)"></i>
<i style="background:linear-gradient(90deg,#00f 0,#0002ff 16px,#02f 30px,#007fff 54px,#00fbff 76px,#00ffda 82px,#0f4 100px,#00ff10 108px,#01ff00 112px,#2aff00 126px,#3cff00 142px,#31ff00 148px,#00ff06 162px,#00ff41 172px,#00ffe9 194px,#00f8ff 198px,#007eff 216px,#03f 232px,#0013ff 242px,#0006ff 264px,#00f 316px,#0015ff 374px,#0029ff 378px,#0083ff 388px,#0ff 408px,#00ffc3 414px,#00ff31 426px,#00ff0d 430px,#07ff00 434px,#48ff00 453px,#58ff00 467px,#43ff00 481px,#00ff02 501px,#00ff4b 511px,#00ff96 527px,#00feff 539px,#00b2ff 549px,#0081ff 557px,#002dff 575px,#000fff 585px,#00f 697px)"></i>
<i style="background:linear-gradient(90deg,#00f 0,#0002ff 16px,#02f 30px,#007fff 54px,#00fbff 76px,#00ffda 82px,#0f4 100px,#00ff10 108px,#01ff00 112px,#2aff00 126px,#3cff00 142px,#31ff00 148px,#00ff06 162px,#00ff40 172px,#00ffe9 194px,#00f8ff 198px,#007eff 216px,#03f 232px,#0013ff 242px,#0006ff 264px,#00f 316px,#0015ff 374px,#0029ff 378px,#0082ff 388px,#00fdff 408px,#00ffdc 412px,#00ff1e 428px,#00ff02 432px,#07ff00 434px,#49ff00 453px,#5bff00 467px,#47ff00 481px,#00ff01 501px,#00ff4b 511px,#00ff9d 527px,#00fff8 537px,#00f6ff 539px,#00adff 549px,#007fff 557px,#002bff 575px,#000eff 585px,#00f 697px)"></i>
<i style="background:linear-gradient(90deg,#00f 0,#0002ff 16px,#02f 30px,#007fff 54px,#00fbff 76px,#00ffda 82px,#0f4 100px,#00ff10 108px,#01ff00 112px,#2aff00 126px,#3dff00 142px,#31ff00 148px,#00ff06 162px,#00ff40 172px,#00ffe9 194px,#00f8ff 198px,#007eff 216px,#03f 232px,#0013ff 242px,#0006ff 264px,#00f 316px,#0015ff 374px,#0029ff 378px,#0081ff 388px,#00fcff 408px,#00ffde 412px,#00ff1f 428px,#00ff02 432px,#07ff00 434px,#4aff00 453px,#5eff00 467px,#4aff00 481px,#01ff00 501px,#00ff4a 511px,#00ff70 519px,#00ffa3 527px,#0ff 537px,#0086ff 555px,#0031ff 573px,#000eff 585px,#00f 697px)"></i>
<i style="background:linear-gradient(90deg,#00f 0,#0002ff 16px,#02f 30px,#007fff 54px,#00fbff 76px,#00ffda 82px,#0f4 100px,#00ff10 108px,#01ff00 112px,#2aff00 126px,#3dff00 142px,#31ff00 148px,#00ff06 162px,#00ff40 172px,#00ffe9 194px,#00f8ff 198px,#007eff 216px,#03f 232px,#0013ff 242px,#0006ff 264px,#00f 316px,#0015ff 374px,#0029ff 378px,#0081ff 388px,#00faff 408px,#00ffe0 412px,#00ff20 428px,#00ff03 432px,#07ff00 434px,#4bff00 453px,#61ff00 467px,#4eff00 481px,#02ff00 501px,#00ff08 503px,#00ff4a 511px,#00ff9b 525px,#00fff6 535px,#00f8ff 537px,#0084ff 555px,#0030ff 573px,#000dff 585px,#00f 697px)"></i>
<i style="background:linear-gradient(90deg,#00f 0,#0002ff 16px,#02f 30px,#007fff 54px,#00faff 76px,#00ffdb 82px,#0f4 100px,#00ff10 108px,#01ff00 112px,#2aff00 126px,#3dff00 142px,#31ff00 148px,#00ff06 162px,#00ff40 172px,#00ffe9 194px,#00f8ff 198px,#007eff 216px,#03f 232px,#0013ff 242px,#0006ff 264px,#00f 316px,#0015ff 374px,#0028ff 378px,#0080ff 388px,#00f9ff 408px,#00ffe1 412px,#00ff21 428px,#00ff03 432px,#07ff00 434px,#4dff00 453px,#5fff00 461px,#64ff00 469px,#4cff00 483px,#04ff00 501px,#00ff07 503px,#00ff49 511px,#00ffa0 525px,#00fffc 535px,#00f2ff 537px,#0082ff 555px,#002eff 573px,#000dff 585px,#00f 697px)"></i>
<i style="background:linear-gradient(90deg,#00f 0,#0002ff 16px,#02f 30px,#007fff 54px,#00faff 76px,#00ffdb 82px,#0f4 100px,#00ff10 108px,#01ff00 112px,#2aff00 126px,#3dff00 142px,#31ff00 148px,#00ff05 162px,#00ff40 172px,#00ffe9 194px,#00f8ff 198px,#007eff 216px,#03f 232px,#0013ff 242px,#0006ff 264px,#00f 316px,#0015ff 374px,#0028ff 378px,#0080ff 388px,#00f8ff 408px,#00ffe3 412px,#0f2 428px,#00ff03 432px,#07ff00 434px,#4fff00 453px,#68ff00 469px,#50ff00 483px,#05ff00 501px,#00ff05 503px,#00ff49 511px,#00ffa6 525px,#00fcff 535px,#008aff 553px,#002dff 573px,#000fff 583px,#00f 697px)"></i>
<i style="background:linear-gradient(90deg,#00f 0,#0002ff 16px,#02f 30px,#007fff 54px,#00faff 76px,#00ffdb 82px,#0f4 100px,#00ff10 108px,#01ff00 112px,#2aff00 126px,#3dff00 142px,#31ff00 148px,#00ff05 162px,#00ff3f 172px,#00ffe9 194px,#00f8ff 198px,#007eff 216px,#03f 232px,#0013ff 242px,#0006ff 264px,#00f 316px,#0015ff 374px,#0028ff 378px,#007fff 388px,#00f7ff 408px,#00fff7 410px,#00ffce 414px,#00ff23 428px,#00ff04 432px,#07ff00 434px,#50ff00 453px,#6cff00 469px,#5f0 483px,#00ff04 503px,#00ff48 511px,#00ffac 525px,#00fff7 533px,#00f7ff 535px,#08f 553px,#002bff 573px,#000eff 583px,#00f 697px)"></i>
<i style="background:linear-gradient(90deg,#00f 0,#0002ff 16px,#02f 30px,#007fff 54px,#00faff 76px,#00ffdb 82px,#0f4 100px,#00ff10 108px,#01ff00 112px,#2aff00 126px,#3dff00 142px,#31ff00 148px,#00ff05 162px,#00ff3f 172px,#00ffe9 194px,#00f8ff 198px,#007eff 216px,#03f 232px,#0013ff 242px,#0006ff 264px,#00f 316px,#0015ff 374px,#0028ff 378px,#007fff 388px,#00f7ff 408px,#00fff8 410px,#00ffcf 414px,#00ff23 428px,#00ff04 432px,#06ff00 434px,#58ff00 455px,#6aff00 463px,#70ff00 471px,#52ff00 485px,#00ff03 503px,#00ffb2 525px,#00fffc 533px,#00f3ff 535px,#0087ff 553px,#002aff 573px,#000eff 583px,#00f 697px)"></i>
<i style="background:linear-gradient(90deg,#00f 0,#0002ff 16px,#02f 30px,#007fff 54px,#00faff 76px,#00ffdb 82px,#0f4 100px,#00ff10 108px,#01ff00 112px,#2aff00 126px,#3bff00 136px,#3aff00 144px,#00ff05 162px,#00ff3f 172px,#00ffe9 194px,#00f8ff 198px,#007eff 216px,#03f 232px,#0013ff 242px,#0006ff 264px,#00f 316px,#0015ff 374px,#0028ff 378px,#007fff 388px,#00f6ff 408px,#00fff8 410px,#00ffcf 414px,#00ff24 428px,#00ff04 432px,#07ff00 434px,#5bff00 455px,#6dff00 463px,#74ff00 471px,#6dff00 477px,#56ff00 485px,#00ff03 503px,#00feff 533px,#00bcff 543px,#0086ff 553px,#0029ff 573px,#000dff 583px,#00f 697px)"></i>
<i style="background:linear-gradient(90deg,#00f 0,#0002ff 16px,#02f 30px,#007fff 54px,#00faff 76px,#00ffdb 82px,#0f4 100px,#00ff10 108px,#01ff00 112px,#2aff00 126px,#3bff00 136px,#3aff00 144px,#00ff05 162px,#00ff3f 172px,#00ffe9 194px,#00f8ff 198px,#007eff 216px,#03f 232px,#0013ff 242px,#0006ff 264px,#00f 316px,#0015ff 374px,#0028ff 378px,#007fff 388px,#00f6ff 408px,#00fff8 410px,#00ffd0 414px,#00ff24 428px,#00ff04 432px,#07ff00 434px,#5dff00 455px,#71ff00 463px,#78ff00 471px,#72ff00 477px,#5aff00 485px,#00ff02 503px,#00ff93 519px,#00ffab 523px,#00fbff 533px,#00a4ff 547px,#0042ff 567px,#0020ff 575px,#000cff 583px,#00f 697px)"></i>
<i style="background:linear-gradient(90deg,#00f 0,#0002ff 16px,#02f 30px,#007fff 54px,#00faff 76px,#00ffdb 82px,#0f4 100px,#00ff10 108px,#01ff00 112px,#2aff00 126px,#3bff00 136px,#3aff00 144px,#00ff05 162px,#00ff3f 172px,#00ffe9 194px,#00f8ff 198px,#007eff 216px,#03f 232px,#0013ff 242px,#0006ff 264px,#00f 316px,#0015ff 374px,#0028ff 378px,#007fff 388px,#00f6ff 408px,#00fff8 410px,#00ffd0 414px,#00ff24 428px,#00ff04 432px,#07ff00 434px,#5dff00 455px,#71ff00 463px,#78ff00 471px,#72ff00 477px,#5aff00 485px,#00ff02 503px,#00ff93 519px,#00ffab 523px,#00fbff 533px,#00a4ff 547px,#0042ff 567px,#0020ff 575px,#000cff 583px,#00f 697px)"></i>
<i style="background:linear-gradient(90deg,#00f 0,#0002ff 16px,#02f 30px,#007fff 54px,#00faff 76px,#00ffdb 82px,#0f4 100px,#00ff10 108px,#01ff00 112px,#2aff00 126px,#3bff00 136px,#3aff00 144px,#00ff05 162px,#00ff3f 172px,#00ffe9 194px,#00f8ff 198px,#007eff 216px,#03f 232px,#0013ff 242px,#0006ff 264px,#00f 316px,#0015ff 374px,#0028ff 378px,#007fff 388px,#00f6ff 408px,#00fff8 410px,#00ffd0 414px,#00ff24 428px,#00ff04 432px,#07ff00 434px,#5dff00 455px,#71ff00 463px,#78ff00 471px,#72ff00 477px,#5aff00 485px,#00ff02 503px,#00ff93 519px,#00ffab 523px,#00fbff 533px,#00a4ff 547px,#0042ff 567px,#0020ff 575px,#000cff 583px,#00f 697px)"></i>
</div></div>
<div class="m" style="left:221.6px;top:979.9px">TE</div>
<div class="pl" style="left:16.8px;top:985.9px">(c)</div>
<div class="yt" style="left:189.6px;top:1611.2px">0</div>
<div class="yt" style="left:189.6px;top:1477.6px">15</div>
<div class="yt" style="left:189.6px;top:1344px">30</div>
<div class="yt" style="left:189.6px;top:1210.4px">45</div>
<div class="yt" style="left:189.6px;top:1076.8px">60</div>
<div class="yt" style="left:189.6px;top:943.2px">75</div>
<div class="xt" style="left:308.6px;top:1650.2px">0.5</div>
<div class="xt" style="left:428.5px;top:1650.2px">1.0</div>
<div class="xt" style="left:548.5px;top:1650.2px">1.5</div>
<div class="xt" style="left:668.5px;top:1650.2px">2.0</div>
<div class="xt" style="left:788.4px;top:1650.2px">2.5</div>
<div class="xt" style="left:908.4px;top:1650.2px">3.0</div>
<div class="xl" style="left:559.1px;top:1692.2px">Frequency (THz)</div>
<div class="yl" style="left:117.1px;top:1278px">Incident angle (deg)</div>
<div class="cb" style="left:951.3px;top:961px"></div>
<div class="ct" style="left:990.3px;top:961px">1</div>
<div class="ct" style="left:990.3px;top:1603.5px">0</div>
<div class="h" style="left:1426.1px;top:945.6px;width:696.3px;height:667.6px">
<div class="g" style="top:-27.8px;transform:scale(0.99928,0.99970)">
<i style="background:linear-gradient(90deg,#00f 0,#0006ff 74px,#001eff 80px,#07f 94px,#00b7ff 106px,#00feff 114px,#00ffd6 116px,#00ff05 122px,#5eff00 126px,#ef0 132px,#ffe800 134px,#ffad00 138px,#ff9800 142px,#ffa600 144px,#ffca00 146px,#fffe00 148px,#00ff01 156px,#00ffcd 162px,#00fffc 164px,#00e5ff 166px,#00a8ff 172px,#0041ff 186px,#001cff 192px,#000dff 196px,#0001ff 304px,#0015ff 348px,#02f 350px,#0040ff 352px,#00fffc 360px,#00ffc1 362px,#00ff2b 366px,#1cff00 368px,#54ff00 370px,#71ff00 372px,#6dff00 374px,#4cff00 376px,#18ff00 378px,#00ff29 380px,#00ffb0 384px,#00ffe5 386px,#00f5ff 388px,#009dff 394px,#0054ff 400px,#0035ff 404px,#0029ff 408px,#002bff 465px,#004aff 493px,#0071ff 501px,#0097ff 505px,#00e5ff 511px,#00fff8 513px,#00ffb8 515px,#00ff0d 519px,#30ff00 521px,#63ff00 523px,#a7ff00 527px,#a3ff00 529px,#5eff00 533px,#28ff00 535px,#00ff13 537px,#00ffd6 543px,#00edff 545px,#0084ff 549px,#0028ff 553px,#000cff 555px,#00f 697px)"></i>
<i style="background:linear-gradient(90deg,#00f 0,#0006ff 74px,#001eff 80px,#07f 94px,#00b7ff 106px,#00feff 114px,#00ffd6 116px,#00ff05 122px,#5eff00 126px,#ef0 132px,#ffe800 134px,#ffad00 138px,#ff9800 142px,#ffa600 144px,#ffca00 146px,#fffe00 148px,#00ff01 156px,#00ffcd 162px,#00fffc 164px,#00e5ff 166px,#00a8ff 172px,#0041ff 186px,#001cff 192px,#000dff 196px,#0001ff 304px,#0015ff 348px,#02f 350px,#0040ff 352px,#00fffc 360px,#00ffc1 362px,#00ff2b 366px,#1cff00 368px,#54ff00 370px,#71ff00 372px,#6dff00 374px,#4cff00 376px,#18ff00 378px,#00ff29 380px,#00ffb0 384px,#00ffe5 386px,#00f5ff 388px,#009dff 394px,#0054ff 400px,#0035ff 404px,#0029ff 408px,#002bff 465px,#004aff 493px,#0071ff 501px,#0097ff 505px,#00e5ff 511px,#00fff8 513px,#00ffb8 515px,#00ff0d 519px,#30ff00 521px,#63ff00 523px,#a7ff00 527px,#a3ff00 529px,#5eff00 533px,#28ff00 535px,#00ff13 537px,#00ffd6 543px,#00edff 545px,#0084ff 549px,#0028ff 553px,#000cff 555px,#00f 697px)"></i>
<i style="background:linear-gradient(90deg,#00f 0,#0006ff 74px,#001eff 80px,#07f 94px,#00b7ff 106px,#00feff 114px,#00ffd6 116px,#00ff05 122px,#5eff00 126px,#ef0 132px,#ffe800 134px,#ffad00 138px,#ff9800 142px,#ffa600 144px,#ffca00 146px,#fffe00 148px,#00ff01 156px,#00ffcd 162px,#00fffc 164px,#00e5ff 166px,#00a8ff 172px,#0041ff 186px,#001cff 192px,#000dff 196px,#0001ff 304px,#0015ff 348px,#02f 350px,#0040ff 352px,#00fffc 360px,#00ffc1 362px,#00ff2b 366px,#1cff00 368px,#54ff00 370px,#71ff00 372px,#6dff00 374px,#4cff00 376px,#18ff00 378px,#00ff29 380px,#00ffb0 384px,#00ffe5 386px,#00f5ff 388px,#009dff 394px,#0054ff 400px,#0035ff 404px,#0029ff 408px,#002bff 465px,#004aff 493px,#0071ff 501px,#0097ff 505px,#00e5ff 511px,#00fff8 513px,#00ffb8 515px,#00ff0d 519px,#30ff00 521px,#63ff00 523px,#a7ff00 527px,#a3ff00 529px,#5eff00 533px,#28ff00 535px,#00ff13 537px,#00ffd6 543px,#00edff 545px,#0084ff 549px,#0028ff 553px,#000cff 555px,#00f 697px)"></i>
<i style="background:linear-gradient(90deg,#00f 0,#0005ff 70px,#001cff 76px,#007cff 92px,#00b5ff 104px,#00f1ff 112px,#00fff5 114px,#00ffc2 116px,#00ff35 120px,#04ff00 122px,#68ff00 126px,#f8ff00 132px,#ffbd00 136px,#ff9700 140px,#ff9600 142px,#fa0 144px,#ffd200 146px,#f7ff00 148px,#36ff00 154px,#00ff03 156px,#0fb 162px,#00ffec 164px,#00f2ff 166px,#00c4ff 170px,#0092ff 176px,#03f 190px,#000fff 198px,#0004ff 232px,#00f 296px,#0017ff 348px,#0026ff 350px,#0046ff 352px,#00d9ff 358px,#00fff5 360px,#00ffba 362px,#00ff2c 366px,#16ff00 368px,#49ff00 370px,#63ff00 372px,#5eff00 374px,#3fff00 376px,#0cff00 378px,#00ff32 380px,#00ffb2 384px,#00ffe6 386px,#00f6ff 388px,#0083ff 396px,#0056ff 400px,#0036ff 404px,#002bff 408px,#002cff 463px,#004bff 491px,#005fff 497px,#0079ff 501px,#00b4ff 507px,#00e9ff 511px,#00fff4 513px,#00ffb3 515px,#00ff0a 519px,#3aff00 521px,#76ff00 523px,#a2ff00 525px,#c4ff00 527px,#c4ff00 529px,#7f0 533px,#37ff00 535px,#00ff0d 537px,#00ffd6 543px,#00edff 545px,#0085ff 549px,#002fff 553px,#0010ff 555px,#000aff 557px,#00f 697px)"></i>
<i style="background:linear-gradient(90deg,#00f 0,#0004ff 66px,#0018ff 72px,#0074ff 88px,#00bdff 104px,#00faff 112px,#00ffe5 114px,#00ffac 116px,#00ff26 120px,#0eff00 122px,#72ff00 126px,#fffb00 132px,#ffb400 136px,#ff9200 140px,#ff9500 142px,#ffae00 144px,#ffd900 146px,#efff00 148px,#32ff00 154px,#00ff04 156px,#00ffac 162px,#00ffdc 164px,#00feff 166px,#0bf 172px,#008bff 178px,#0032ff 192px,#0010ff 200px,#0005ff 226px,#00f 288px,#0006ff 322px,#0018ff 348px,#002aff 350px,#004cff 352px,#00e0ff 358px,#0fe 360px,#00ffb4 362px,#00ff2d 366px,#10ff00 368px,#3eff00 370px,#5f0 372px,#4fff00 374px,#31ff00 376px,#0f0 378px,#00ffb5 384px,#00ffe7 386px,#00f6ff 388px,#0085ff 396px,#0058ff 400px,#0038ff 404px,#002dff 408px,#002eff 461px,#0051ff 491px,#0067ff 497px,#0082ff 501px,#00bcff 507px,#00f0ff 511px,#00ffec 513px,#00ffa9 515px,#00ff05 519px,#45ff00 521px,#8f0 523px,#b8ff00 525px,#df0 527px,#e1ff00 529px,#bfff00 531px,#8fff00 533px,#00ff06 537px,#00ffd6 543px,#00edff 545px,#0087ff 549px,#0035ff 553px,#0015ff 555px,#000aff 557px,#00f 697px)"></i>
<i style="background:linear-gradient(90deg,#00f 0,#0006ff 64px,#0027ff 72px,#0080ff 88px,#00baff 102px,#00f1ff 110px,#00fffa 112px,#00ffd1 114px,#00ff17 120px,#19ff00 122px,#7eff00 126px,#e2ff00 130px,#fff000 132px,#fa0 136px,#ff8d00 140px,#ff9600 142px,#ffb300 144px,#ffdf00 146px,#e7ff00 148px,#2fff00 154px,#00ff05 156px,#00ffcf 164px,#00fff4 166px,#00efff 168px,#00b2ff 174px,#0085ff 180px,#0031ff 194px,#000dff 204px,#00f 298px,#0008ff 326px,#001bff 348px,#002fff 350px,#0053ff 352px,#00e8ff 358px,#00ffe8 360px,#00ff2f 366px,#0aff00 368px,#3f0 370px,#47ff00 372px,#40ff00 374px,#00ff0c 378px,#00ffb8 384px,#00ffe7 386px,#00f6ff 388px,#0087ff 396px,#005aff 400px,#003aff 404px,#002fff 408px,#0031ff 461px,#0053ff 489px,#06f 495px,#008cff 501px,#00c5ff 507px,#00f8ff 511px,#00ffdf 513px,#00ff9b 515px,#04ff00 519px,#9f0 523px,#cbff00 525px,#f3ff00 527px,#f9ff00 529px,#d7ff00 531px,#a5ff00 533px,#0f0 537px,#00ffd6 543px,#00edff 545px,#0089ff 549px,#003bff 553px,#001bff 555px,#000bff 557px,#00f 697px)"></i>
<i style="background:linear-gradient(90deg,#00f 0,#0004ff 60px,#0020ff 68px,#0081ff 86px,#00b8ff 100px,#00faff 110px,#00ffeb 112px,#00ffbc 114px,#00ff0a 120px,#25ff00 122px,#8aff00 126px,#ef0 130px,#ffe400 132px,#ffa100 136px,#ff8f00 138px,#ff8a00 140px,#ff9700 142px,#ffb700 144px,#ffe500 146px,#e1ff00 148px,#2cff00 154px,#00ff05 156px,#00ffc3 164px,#00ffe9 166px,#00f9ff 168px,#00baff 174px,#0080ff 182px,#0030ff 196px,#000dff 206px,#00f 292px,#0008ff 324px,#001eff 348px,#0035ff 350px,#005bff 352px,#00efff 358px,#00ffe1 360px,#00ff31 366px,#02ff00 368px,#28ff00 370px,#39ff00 372px,#31ff00 374px,#14ff00 376px,#00ff18 378px,#0fb 384px,#00ffe8 386px,#00f6ff 388px,#0089ff 396px,#005cff 400px,#003dff 404px,#0031ff 408px,#0034ff 459px,#0056ff 487px,#0067ff 493px,#08f 499px,#0bf 505px,#00fffd 511px,#00ffce 513px,#00ff3b 517px,#0fff00 519px,#a8ff00 523px,#dcff00 525px,#fff900 527px,#fff000 529px,#ecff00 531px,#b6ff00 533px,#6f0 535px,#06ff00 537px,#00ff48 539px,#00ffd6 543px,#00edff 545px,#008cff 549px,#0040ff 553px,#0020ff 555px,#000dff 557px,#00f 697px)"></i>
<i style="background:linear-gradient(90deg,#00f 0,#0005ff 58px,#02f 66px,#0080ff 84px,#00beff 100px,#00f1ff 108px,#00fffb 110px,#00ffd8 112px,#02ff00 120px,#97ff00 126px,#fbff00 130px,#ffb400 134px,#ff8900 138px,#ff8700 140px,#f90 142px,#fb0 144px,#ffeb00 146px,#dbff00 148px,#2bff00 154px,#00ff05 156px,#00ff8f 162px,#00ffdf 166px,#00fffd 168px,#00eaff 170px,#00b1ff 176px,#007bff 184px,#002eff 198px,#000dff 208px,#00f 298px,#000cff 330px,#02f 348px,#003cff 350px,#0064ff 352px,#00f6ff 358px,#00ffdb 360px,#00ff35 366px,#00ff05 368px,#1cff00 370px,#2aff00 372px,#2f0 374px,#05ff00 376px,#00ff24 378px,#00ffbe 384px,#00ffe9 386px,#00f6ff 388px,#0074ff 398px,#004dff 402px,#0037ff 406px,#0034ff 451px,#0040ff 469px,#0062ff 489px,#0093ff 499px,#00f2ff 509px,#00ffef 511px,#0fb 513px,#00ff2c 517px,#1cff00 519px,#b5ff00 523px,#e9ff00 525px,#ffea00 527px,#ffe100 529px,#fcff00 531px,#c4ff00 533px,#72ff00 535px,#0cff00 537px,#00ff46 539px,#00ffd6 543px,#00edff 545px,#008eff 549px,#0046ff 553px,#0010ff 557px,#000aff 559px,#00f 697px)"></i>
<i style="background:linear-gradient(90deg,#00f 0,#0005ff 56px,#02f 64px,#007eff 82px,#0bf 98px,#00faff 108px,#00ffec 110px,#00ffc3 112px,#00ff20 118px,#0eff00 120px,#a5ff00 126px,#fff600 130px,#ffa900 134px,#ff9000 136px,#ff8300 138px,#ff8500 140px,#ff9b00 142px,#fff000 146px,#d6ff00 148px,#29ff00 154px,#00ff05 156px,#00ffd7 166px,#00fff5 168px,#00f1ff 170px,#00b8ff 176px,#0081ff 184px,#0035ff 198px,#01f 208px,#0005ff 236px,#00f 294px,#0008ff 322px,#001cff 346px,#0026ff 348px,#0043ff 350px,#00fcff 358px,#00ffd6 360px,#00ff39 366px,#00ff0e 368px,#10ff00 370px,#1cff00 372px,#00ff09 376px,#00ff31 378px,#00ffc2 384px,#00ffea 386px,#00f7ff 388px,#0076ff 398px,#0050ff 402px,#003aff 406px,#003dff 461px,#0058ff 481px,#0073ff 491px,#00aeff 501px,#00fdff 509px,#00ffde 511px,#00ffa6 513px,#00ff1c 517px,#2bff00 519px,#c0ff00 523px,#f4ff00 525px,#ffe000 527px,#ffd600 529px,#fff700 531px,#ceff00 533px,#7aff00 535px,#0fff00 537px,#0f4 539px,#00ffd7 543px,#0ef 545px,#0091ff 549px,#004bff 553px,#0014ff 557px,#000aff 559px,#00f 697px)"></i>
<i style="background:linear-gradient(90deg,#00f 0,#0005ff 54px,#0020ff 62px,#007bff 80px,#00b7ff 96px,#00f3ff 106px,#00fffa 108px,#00ffda 110px,#00ff12 118px,#1bff00 120px,#b2ff00 126px,#e5ff00 128px,#ffe900 130px,#ff9f00 134px,#f80 136px,#ff7e00 138px,#ff8400 140px,#ff9d00 142px,#fff500 146px,#d2ff00 148px,#28ff00 154px,#00ff05 156px,#00ffd0 166px,#00ffef 168px,#00f7ff 170px,#00beff 176px,#0087ff 184px,#03f 200px,#0010ff 210px,#0004ff 238px,#00f 292px,#0008ff 322px,#001eff 346px,#002cff 348px,#004bff 350px,#00fffc 358px,#00ff3e 366px,#00ff17 368px,#03ff00 370px,#0cff00 372px,#02ff00 374px,#00ff18 376px,#00ffc5 384px,#00ffeb 386px,#00f7ff 388px,#0079ff 398px,#0046ff 404px,#003aff 408px,#003bff 449px,#04f 463px,#0060ff 481px,#0075ff 489px,#00abff 499px,#00f2ff 507px,#00fff4 509px,#00ffca 511px,#00ff0c 517px,#3aff00 519px,#87ff00 521px,#c8ff00 523px,#fbff00 525px,#ffda00 527px,#ffcf00 529px,#fff100 531px,#d4ff00 533px,#7fff00 535px,#12ff00 537px,#00ff43 539px,#00ffd7 543px,#0ef 545px,#0093ff 549px,#0050ff 553px,#0018ff 557px,#000bff 559px,#00f 697px)"></i>
<i style="background:linear-gradient(90deg,#00f 0,#00f 48px,#0008ff 54px,#0026ff 62px,#007eff 80px,#00bcff 96px,#00fcff 106px,#00ffeb 108px,#00ffc6 110px,#00ff04 118px,#28ff00 120px,#c1ff00 126px,#f3ff00 128px,#ffdc00 130px,#ff9500 134px,#ff8000 136px,#ff7a00 138px,#ff8400 140px,#ff9f00 142px,#fff900 146px,#27ff00 154px,#00ff05 156px,#00ffa7 164px,#00ffe9 168px,#00fcff 170px,#00c4ff 176px,#008dff 184px,#0030ff 202px,#000fff 212px,#00f 288px,#0008ff 320px,#0020ff 346px,#0032ff 348px,#0054ff 350px,#00e0ff 356px,#00fff6 358px,#0f4 366px,#00ff21 368px,#00ff0a 370px,#00ff03 372px,#00ff0e 374px,#00ff27 376px,#00ffc8 384px,#00ffec 386px,#00f7ff 388px,#0068ff 400px,#0041ff 406px,#003eff 445px,#004cff 465px,#0071ff 485px,#00a9ff 497px,#00fdff 507px,#00ffe4 509px,#00ffb5 511px,#03ff00 517px,#91ff00 521px,#feff00 525px,#ffd800 527px,#ffce00 529px,#ffef00 531px,#d6ff00 533px,#81ff00 535px,#12ff00 537px,#00ff43 539px,#00ffd7 543px,#0ef 545px,#0096ff 549px,#0036ff 555px,#000dff 559px,#000aff 561px,#00f 697px)"></i>
<i style="background:linear-gradient(90deg,#00f 0,#0006ff 52px,#0021ff 60px,#0079ff 78px,#00b8ff 94px,#00f5ff 104px,#00fff6 106px,#00ffd9 108px,#0f2 116px,#09ff00 118px,#d1ff00 126px,#fffa00 128px,#ffa600 132px,#ff8900 134px,#ff7800 136px,#ff7500 138px,#ff8400 140px,#ffa100 142px,#fffc00 146px,#5bff00 152px,#00ff03 156px,#00ffc6 166px,#00fffe 170px,#00ecff 172px,#00baff 178px,#08f 186px,#0035ff 202px,#0012ff 212px,#0006ff 234px,#00f 290px,#0009ff 322px,#0024ff 346px,#003aff 348px,#005eff 350px,#00e7ff 356px,#00fff1 358px,#00ff71 364px,#00ff2a 368px,#00ff17 370px,#00ff12 372px,#00ff1e 374px,#00ff37 376px,#00ffd0 384px,#00fff1 386px,#00f4ff 388px,#006aff 400px,#0045ff 406px,#0042ff 443px,#004eff 461px,#0076ff 483px,#0af 495px,#00f7ff 505px,#00fff1 507px,#00ffca 509px,#00ff23 515px,#17ff00 517px,#9aff00 521px,#fdff00 525px,#fd0 527px,#ffd400 529px,#fff600 531px,#d0ff00 533px,#7cff00 535px,#10ff00 537px,#0f4 539px,#00ffd8 543px,#00efff 545px,#009aff 549px,#003dff 555px,#01f 559px,#000aff 561px,#00f 697px)"></i>
<i style="background:linear-gradient(90deg,#00f 0,#00f 46px,#0008ff 52px,#0024ff 60px,#00b4ff 92px,#00fffe 104px,#00ffc3 108px,#00ff12 116px,#17ff00 118px,#e4ff00 126px,#ffe900 128px,#ff9800 132px,#ff7d00 134px,#ff7000 136px,#ff7100 138px,#ff8300 140px,#ffa300 142px,#fffe00 146px,#5dff00 152px,#0f0 156px,#00ffc2 166px,#00fffa 170px,#00f0ff 172px,#00beff 178px,#008dff 186px,#0032ff 204px,#0010ff 214px,#00f 292px,#0009ff 320px,#0021ff 344px,#0029ff 346px,#0042ff 348px,#00edff 356px,#00ffed 358px,#00ff73 364px,#00ff34 368px,#00ff24 370px,#0f2 372px,#00ff4a 376px,#00fffa 386px,#00edff 388px,#007eff 398px,#005cff 402px,#0049ff 406px,#0046ff 443px,#05f 461px,#007cff 481px,#00aeff 493px,#00f6ff 503px,#00fff5 505px,#00ffd3 507px,#00ffa6 509px,#00ff07 515px,#2fff00 517px,#a0ff00 521px,#f6ff00 525px,#ffe800 527px,#ffe300 529px,#faff00 531px,#c3ff00 533px,#71ff00 535px,#0cff00 537px,#00ff47 539px,#00ffd9 543px,#00efff 545px,#009eff 549px,#04f 555px,#0015ff 559px,#000bff 561px,#00f 697px)"></i>
<i style="background:linear-gradient(90deg,#00f 0,#00f 44px,#000aff 52px,#0027ff 60px,#00afff 90px,#00fbff 102px,#00ffef 104px,#00ffd1 106px,#00ff03 116px,#57ff00 120px,#f5ff00 126px,#ffd800 128px,#ff8b00 132px,#ff7400 134px,#ff6900 136px,#ff6f00 138px,#ff8300 140px,#ffa300 142px,#fffe00 146px,#60ff00 152px,#04ff00 156px,#00ffbe 166px,#00fff7 170px,#00f3ff 172px,#00c2ff 178px,#0092ff 186px,#0037ff 204px,#0012ff 214px,#0006ff 236px,#00f 290px,#0009ff 320px,#0023ff 344px,#0030ff 346px,#004cff 348px,#00f2ff 356px,#00ffea 358px,#00ff56 366px,#00ff31 370px,#0f3 372px,#00ff43 374px,#00ff5e 376px,#00ffeb 384px,#00f9ff 386px,#007dff 398px,#05f 404px,#004cff 408px,#004bff 432px,#0052ff 453px,#007dff 477px,#00a9ff 489px,#00f7ff 501px,#00fff4 503px,#00ffd4 505px,#00ff19 513px,#15ff00 515px,#a2ff00 521px,#edff00 525px,#fff700 527px,#fff600 529px,#e6ff00 531px,#b2ff00 533px,#64ff00 535px,#06ff00 537px,#00ff4a 539px,#00ffda 543px,#00f0ff 545px,#00a3ff 549px,#004bff 555px,#001aff 559px,#000dff 561px,#00f 697px)"></i>
<i style="background:linear-gradient(90deg,#00f 0,#00f 44px,#0008ff 50px,#002aff 60px,#0af 88px,#00f5ff 100px,#00fff7 102px,#0fd 104px,#00ff97 108px,#00ff1b 114px,#0bff00 116px,#fffc00 126px,#ffa400 130px,#ff8400 132px,#ff6e00 134px,#f60 136px,#ff6d00 138px,#ff8200 140px,#ffa300 142px,#fffc00 146px,#64ff00 152px,#08ff00 156px,#00ff1e 158px,#00ff95 164px,#00ffda 168px,#00fff4 170px,#00f6ff 172px,#00c6ff 178px,#0097ff 186px,#0032ff 206px,#0010ff 216px,#00f 288px,#0009ff 318px,#0026ff 344px,#0037ff 346px,#0056ff 348px,#00f4ff 356px,#00ffe9 358px,#00ff5e 366px,#00ff40 370px,#0f4 372px,#00ff56 374px,#00fffa 384px,#008eff 396px,#005aff 404px,#0051ff 408px,#0050ff 428px,#05f 449px,#007fff 473px,#00b0ff 487px,#00fbff 499px,#00fff0 501px,#00ffd1 503px,#00ff24 511px,#05ff00 513px,#a1ff00 521px,#e1ff00 525px,#f6ff00 527px,#f2ff00 529px,#d0ff00 531px,#a0ff00 533px,#00ff01 537px,#0f9 541px,#00ffdb 543px,#00f1ff 545px,#00a7ff 549px,#0037ff 557px,#0010ff 561px,#000aff 563px,#00f 697px)"></i>
<i style="background:linear-gradient(90deg,#00f 0,#00f 42px,#000aff 50px,#002dff 60px,#00a5ff 86px,#00d2ff 94px,#00fffe 100px,#00ffe8 102px,#00ffa8 106px,#00ff0c 114px,#1aff00 116px,#daff00 124px,#fff400 126px,#ffa200 130px,#ff8400 132px,#ff7000 134px,#ff6800 136px,#ff6f00 138px,#ff8300 140px,#ffa300 142px,#fffa00 146px,#0cff00 156px,#00ff1a 158px,#00ffb5 166px,#00fff0 170px,#00f9ff 172px,#00a5ff 184px,#0037ff 206px,#0012ff 216px,#0006ff 236px,#00f 288px,#000bff 320px,#002bff 344px,#0060ff 348px,#00f4ff 356px,#00ffea 358px,#00ff68 366px,#00ff4f 370px,#00ff56 372px,#00ff6a 374px,#00ffed 382px,#00f7ff 384px,#008cff 396px,#005eff 404px,#0057ff 408px,#0056ff 437px,#0063ff 453px,#008bff 473px,#00b7ff 485px,#0ff 497px,#0fc 501px,#00ff04 511px,#82ff00 519px,#d5ff00 525px,#e4ff00 527px,#df0 529px,#8dff00 533px,#00ff08 537px,#00ffdc 543px,#00f1ff 545px,#0af 549px,#003eff 557px,#0014ff 561px,#000bff 563px,#00f 697px)"></i>
<i style="background:linear-gradient(90deg,#00f 0,#00f 42px,#000cff 50px,#0030ff 60px,#00a0ff 84px,#0cf 92px,#00f9ff 98px,#00fff1 100px,#00ffd6 102px,#00ff1f 112px,#05ff00 114px,#56ff00 118px,#e0ff00 124px,#fff200 126px,#ffa700 130px,#ff8c00 132px,#ff7100 136px,#ff7500 138px,#ff8700 140px,#ffa500 142px,#fff900 146px,#1f0 156px,#00ff14 158px,#00ffaf 166px,#00ffec 170px,#00fcff 172px,#00cdff 178px,#009fff 186px,#03f 208px,#0010ff 218px,#00f 288px,#0009ff 316px,#0027ff 342px,#0049ff 346px,#00d4ff 354px,#00f2ff 356px,#0fe 358px,#00ff75 366px,#00ff60 370px,#00ff7e 374px,#00fffb 382px,#0af 392px,#0074ff 400px,#005fff 406px,#005dff 416px,#005eff 441px,#0080ff 463px,#00adff 479px,#00f6ff 493px,#00fffa 495px,#00ffe4 497px,#00ffa3 501px,#00ff0b 509px,#13ff00 511px,#6bff00 517px,#b7ff00 523px,#d6ff00 527px,#caff00 529px,#a7ff00 531px,#7cff00 533px,#38ff00 535px,#00ff0f 537px,#0fd 543px,#00f2ff 545px,#00adff 549px,#0043ff 557px,#0018ff 561px,#000cff 563px,#00f 697px)"></i>
<i style="background:linear-gradient(90deg,#00f 0,#00f 40px,#0009ff 48px,#002bff 58px,#009aff 82px,#00c7ff 90px,#00f3ff 96px,#00fff9 98px,#00ffc3 102px,#00ff0c 112px,#16ff00 114px,#e2ff00 124px,#fff500 126px,#ff9a00 132px,#ff7f00 136px,#ff8100 138px,#ff9000 140px,#fa0 142px,#fff900 146px,#17ff00 156px,#00ff0f 158px,#00ffa9 166px,#00ffe8 170px,#00fffe 172px,#00adff 184px,#002fff 210px,#0013ff 218px,#0006ff 236px,#00f 288px,#000bff 318px,#002bff 342px,#0051ff 346px,#00d3ff 354px,#00fff4 358px,#00ff83 366px,#00ff71 370px,#00ff90 374px,#00ffea 380px,#00f8ff 382px,#00a7ff 392px,#07f 400px,#0065ff 406px,#0063ff 414px,#0064ff 439px,#0087ff 461px,#00b4ff 477px,#00faff 491px,#00fff6 493px,#00ffdf 495px,#0f1 507px,#0cff00 509px,#5bff00 515px,#b6ff00 523px,#cdff00 527px,#bcff00 529px,#9aff00 531px,#6eff00 533px,#2dff00 535px,#00ff16 537px,#00ffde 543px,#00f2ff 545px,#00aeff 549px,#002fff 559px,#000eff 563px,#000aff 565px,#00f 697px)"></i>
<i style="background:linear-gradient(90deg,#00f 0,#00f 40px,#000cff 48px,#002eff 58px,#009fff 82px,#00cfff 90px,#00feff 96px,#00ffce 100px,#04ff00 112px,#fffc00 126px,#fa0 132px,#ff9000 136px,#ff9000 138px,#ffb300 142px,#fffb00 146px,#1cff00 156px,#00ff09 158px,#00ffc6 168px,#00fffb 172px,#00f2ff 174px,#00a6ff 186px,#0034ff 210px,#01f 220px,#0005ff 242px,#00f 290px,#000eff 320px,#0030ff 342px,#0059ff 346px,#00cfff 354px,#00fffc 358px,#00ff95 366px,#00ff84 370px,#00ffa0 374px,#00fff3 380px,#00f1ff 382px,#00b4ff 390px,#0084ff 398px,#006eff 404px,#0069ff 408px,#006dff 437px,#008bff 457px,#00baff 475px,#00fcff 489px,#00fff3 491px,#00ffc1 495px,#00ff17 505px,#05ff00 507px,#53ff00 513px,#af0 521px,#caff00 525px,#caff00 527px,#b4ff00 529px,#91ff00 531px,#64ff00 533px,#23ff00 535px,#00ff1d 537px,#00ffdf 543px,#00f2ff 545px,#0093ff 551px,#0032ff 559px,#0010ff 563px,#000aff 565px,#00f 697px)"></i>
<i style="background:linear-gradient(90deg,#00f 0,#0001ff 40px,#000eff 48px,#0032ff 58px,#09f 80px,#00c9ff 88px,#00f8ff 94px,#00fff3 96px,#00ffda 98px,#00ff0f 110px,#0fff00 112px,#f9ff00 126px,#fb0 132px,#ffa200 136px,#ffa000 138px,#ffbd00 142px,#feff00 146px,#4aff00 154px,#00ff05 158px,#00ffc0 168px,#00fff7 172px,#00f5ff 174px,#00a9ff 186px,#002fff 212px,#000fff 222px,#00f 290px,#000cff 316px,#002eff 340px,#004bff 344px,#00f7ff 358px,#0fe 360px,#0fa 366px,#0f9 370px,#00ffad 374px,#00fff6 380px,#00f0ff 382px,#00cfff 386px,#0093ff 396px,#0079ff 402px,#006fff 408px,#007aff 434px,#0096ff 455px,#00c2ff 473px,#00feff 487px,#00fff1 489px,#00ffc2 493px,#0f0 505px,#1bff00 507px,#6dff00 513px,#aeff00 519px,#ceff00 523px,#d1ff00 525px,#c4ff00 527px,#86ff00 531px,#54ff00 533px,#16ff00 535px,#00ff26 537px,#00ffe0 543px,#00f2ff 545px,#00aeff 549px,#004bff 557px,#0021ff 561px,#000bff 565px,#00f 697px)"></i>
<i style="background:linear-gradient(90deg,#00f 0,#00f 38px,#01f 48px,#0036ff 58px,#0094ff 78px,#00fffb 94px,#00ffc9 98px,#00ff07 110px,#15ff00 112px,#f0ff00 126px,#fff400 128px,#fb0 134px,#ffaf00 138px,#ffc800 142px,#f8ff00 146px,#4bff00 154px,#00ff02 158px,#00ffba 168px,#00fff3 172px,#00f8ff 174px,#00cdff 180px,#00a1ff 188px,#0032ff 212px,#01f 222px,#0006ff 242px,#00f 288px,#000cff 314px,#002fff 338px,#05f 344px,#00fffd 360px,#00ffc2 366px,#00ffaf 370px,#00ffbc 374px,#00fff7 380px,#00f1ff 382px,#00ceff 386px,#0097ff 396px,#007eff 402px,#0075ff 408px,#008dff 437px,#00abff 457px,#00d0ff 473px,#00fffe 485px,#00ffc3 491px,#00ff05 503px,#1aff00 505px,#92ff00 513px,#cf0 519px,#daff00 523px,#ceff00 525px,#9aff00 529px,#76ff00 531px,#08ff00 535px,#00ff30 537px,#00ffe1 543px,#00f3ff 545px,#00aeff 549px,#007aff 553px,#0024ff 561px,#000cff 565px,#00f 697px)"></i>
<i style="background:linear-gradient(90deg,#00f 0,#00f 36px,#000fff 46px,#0032ff 56px,#008fff 76px,#00bfff 84px,#00fdff 92px,#00ffba 98px,#00ff05 110px,#32ff00 114px,#e7ff00 126px,#fffe00 128px,#ffc700 134px,#fb0 138px,#ffc100 140px,#ffed00 144px,#f0ff00 146px,#4aff00 154px,#00ff01 158px,#00ffb5 168px,#0fe 172px,#00fcff 174px,#00cfff 180px,#00a2ff 188px,#0035ff 212px,#0013ff 222px,#0006ff 240px,#00f 288px,#000eff 314px,#0034ff 338px,#005cff 344px,#00abff 352px,#00fffa 362px,#00ffce 368px,#00ffc6 372px,#00ffd9 376px,#00fffc 380px,#0cf 386px,#00a4ff 394px,#0084ff 402px,#007bff 408px,#00beff 459px,#00d8ff 471px,#00f9ff 481px,#00fffb 483px,#00ffda 487px,#00ffa6 491px,#00ff06 501px,#1bff00 503px,#8aff00 509px,#a4ff00 511px,#dcff00 517px,#e5ff00 521px,#c5ff00 525px,#8eff00 529px,#00ff05 535px,#00ffe2 543px,#00f3ff 545px,#0092ff 551px,#004eff 557px,#0018ff 563px,#000aff 567px,#00f 697px)"></i>
<i style="background:linear-gradient(90deg,#00f 0,#00f 34px,#000eff 44px,#0030ff 54px,#008cff 74px,#00bcff 82px,#00f8ff 90px,#00fff4 92px,#00ffc7 96px,#00ff05 110px,#30ff00 114px,#e0ff00 126px,#f9ff00 128px,#ffef00 130px,#ffd000 134px,#ffc500 138px,#ffcb00 140px,#fff600 144px,#e7ff00 146px,#47ff00 154px,#00ff02 158px,#00ffb0 168px,#00fffe 174px,#00c4ff 182px,#09f 190px,#0037ff 212px,#0015ff 222px,#0008ff 236px,#00f 288px,#000fff 314px,#0038ff 338px,#0050ff 342px,#00a6ff 352px,#00fffd 364px,#00ffe5 368px,#0fd 372px,#00fff7 378px,#00f8ff 380px,#00beff 388px,#008eff 400px,#0081ff 408px,#00cdff 461px,#00feff 479px,#00ffe7 483px,#0fb 487px,#00ff04 499px,#1fff00 501px,#9aff00 507px,#df0 513px,#f4ff00 517px,#e8ff00 521px,#a2ff00 527px,#80ff00 529px,#1eff00 533px,#00ff14 535px,#00ffe3 543px,#00f3ff 545px,#0092ff 551px,#004fff 557px,#0019ff 563px,#000aff 567px,#00f 697px)"></i>
<i style="background:linear-gradient(90deg,#00f 0,#0001ff 34px,#0013ff 44px,#0038ff 54px,#008bff 72px,#00f5ff 88px,#00fff9 90px,#00ffd0 94px,#00ff05 110px,#2eff00 114px,#dbff00 126px,#f3ff00 128px,#fff600 130px,#ffd700 134px,#ffce00 138px,#ffd600 140px,#fdff00 144px,#00ff02 158px,#00ffc9 170px,#00fffa 174px,#00f2ff 176px,#00baff 184px,#0090ff 192px,#0038ff 212px,#0013ff 224px,#0007ff 242px,#00f 288px,#000fff 314px,#0039ff 338px,#004fff 342px,#00e1ff 362px,#00fffb 368px,#00fff3 372px,#00fffe 376px,#00b9ff 388px,#0092ff 400px,#0087ff 408px,#00cdff 457px,#00fdff 475px,#00ffeb 479px,#00ffc4 483px,#03ff00 497px,#a3ff00 505px,#bfff00 507px,#fcff00 513px,#fff700 517px,#fdff00 519px,#b9ff00 525px,#9bff00 527px,#72ff00 529px,#0cff00 533px,#00ff23 535px,#00ffe5 543px,#00f3ff 545px,#0092ff 551px,#004fff 557px,#0019ff 563px,#000aff 567px,#00f 697px)"></i>
<i style="background:linear-gradient(90deg,#00f 0,#0001ff 32px,#0013ff 42px,#008bff 70px,#00fffd 88px,#00ffac 96px,#00ff04 110px,#2dff00 114px,#d6ff00 126px,#fffb00 130px,#ffde00 134px,#ffd700 138px,#fff200 142px,#f3ff00 144px,#00ff03 158px,#00ffc4 170px,#00fff6 174px,#00f6ff 176px,#00bcff 184px,#0090ff 192px,#003aff 212px,#0015ff 224px,#0008ff 238px,#00f 288px,#0010ff 314px,#0039ff 338px,#00cfff 362px,#00f1ff 370px,#00ebff 376px,#00bdff 386px,#00a5ff 394px,#0090ff 408px,#00c6ff 449px,#00faff 469px,#00fff0 473px,#00ffd0 477px,#00ff8e 483px,#00ff07 493px,#17ff00 495px,#af0 503px,#ff0 509px,#ffd500 513px,#ffd000 515px,#ffe900 519px,#fcff00 521px,#c0ff00 525px,#97ff00 527px,#28ff00 531px,#00ff0b 533px,#00ffc3 541px,#00ffeb 543px,#00efff 545px,#0092ff 551px,#004fff 557px,#0019ff 563px,#000aff 567px,#00f 697px)"></i>
<i style="background:linear-gradient(90deg,#00f 0,#0001ff 30px,#0013ff 40px,#008aff 68px,#00b8ff 76px,#00feff 86px,#00ffb7 94px,#00ff04 110px,#2bff00 114px,#d2ff00 126px,#feff00 130px,#ffdf00 136px,#ffe000 138px,#fffc00 142px,#cbff00 146px,#3dff00 154px,#00ff03 158px,#00ffbe 170px,#00fff1 174px,#00faff 176px,#00beff 184px,#0087ff 194px,#003cff 212px,#0017ff 224px,#0009ff 236px,#00f 288px,#000cff 310px,#03f 336px,#004aff 342px,#00c6ff 364px,#00daff 370px,#00d7ff 376px,#00b2ff 388px,#009fff 398px,#0097ff 408px,#00c0ff 441px,#00fbff 463px,#00fff0 467px,#00ffc2 473px,#00ff84 479px,#00ff0a 489px,#0fff00 491px,#ecff00 505px,#fff100 507px,#ffb500 511px,#ffa800 513px,#ffab00 515px,#fb0 517px,#fff500 521px,#e6ff00 523px,#bfff00 525px,#0aff00 531px,#00ff26 533px,#00ffcf 541px,#00fff3 543px,#00eaff 545px,#0091ff 551px,#003bff 559px,#001aff 563px,#000aff 567px,#00f 697px)"></i>
<i style="background:linear-gradient(90deg,#00f 0,#0001ff 28px,#0013ff 38px,#0089ff 66px,#00f9ff 84px,#00fff6 86px,#00ffc1 92px,#00ff04 110px,#2aff00 114px,#ceff00 126px,#f8ff00 130px,#fff600 132px,#ffe700 136px,#f7ff00 142px,#c1ff00 146px,#39ff00 154px,#00ff04 158px,#00ffb8 170px,#0ff 176px,#00c1ff 184px,#0087ff 194px,#003dff 212px,#0019ff 224px,#000aff 234px,#00f 284px,#000aff 308px,#03f 336px,#0048ff 342px,#00b5ff 364px,#00c7ff 370px,#00c6ff 376px,#009cff 400px,#009bff 412px,#00c9ff 441px,#00fffd 459px,#00ffb9 469px,#00ff10 485px,#07ff00 487px,#20ff00 489px,#eaff00 503px,#fff300 505px,#ffb300 509px,#ff9f00 511px,#ff9a00 513px,#ffba00 517px,#fffc00 521px,#df0 523px,#a9ff00 525px,#2f0 529px,#00ff12 531px,#00ff6a 535px,#00ffd9 541px,#00fffa 543px,#00e5ff 545px,#0091ff 551px,#003bff 559px,#001aff 563px,#000aff 567px,#00f 697px)"></i>
<i style="background:linear-gradient(90deg,#00f 0,#00f 26px,#0017ff 38px,#0091ff 66px,#00fffd 84px,#00ffa7 94px,#00ff04 110px,#29ff00 114px,#c9ff00 126px,#fffe00 132px,#fff000 136px,#ff0 140px,#b9ff00 146px,#36ff00 154px,#00ff04 158px,#0fc 172px,#00fff9 176px,#00f3ff 178px,#00b6ff 186px,#0087ff 194px,#003eff 212px,#001bff 224px,#000aff 236px,#00f 288px,#000cff 310px,#0032ff 336px,#00a8ff 364px,#00b8ff 370px,#0094ff 408px,#00c4ff 434px,#00feff 453px,#00ffc3 463px,#00ff7c 471px,#00ff03 483px,#12ff00 485px,#f4ff00 503px,#fe0 505px,#ffbf00 509px,#ffb400 511px,#ffb400 513px,#ffc200 515px,#fff800 519px,#bdff00 523px,#0f0 529px,#00ff7c 535px,#00feff 543px,#0090ff 551px,#003aff 559px,#0018ff 563px,#000aff 567px,#00f 697px)"></i>
<i style="background:linear-gradient(90deg,#00f 0,#0001ff 26px,#0014ff 36px,#008cff 64px,#00f8ff 82px,#00fff8 84px,#00ffc7 90px,#00ff04 110px,#28ff00 114px,#c2ff00 126px,#e9ff00 130px,#fffe00 134px,#fffe00 138px,#f4ff00 140px,#b0ff00 146px,#34ff00 154px,#00ff04 158px,#00ffc5 172px,#00fff3 176px,#00f9ff 178px,#00b9ff 186px,#0087ff 194px,#0047ff 210px,#001cff 224px,#000bff 236px,#00f 288px,#000bff 310px,#002fff 336px,#00a8ff 368px,#00a8ff 374px,#0087ff 398px,#008eff 408px,#00c7ff 432px,#00f9ff 447px,#00fff2 451px,#00ffbd 459px,#00ff0c 479px,#07ff00 481px,#ff0 505px,#ffdc00 511px,#fe0 515px,#f9ff00 517px,#bdff00 521px,#92ff00 523px,#13ff00 527px,#00ff1b 529px,#00ff8b 535px,#00ffe8 541px,#00f9ff 543px,#00a8ff 549px,#0038ff 559px,#000cff 565px,#00f 697px)"></i>
<i style="background:linear-gradient(90deg,#00f 0,#0001ff 26px,#0014ff 36px,#008eff 64px,#00fbff 82px,#00ffb2 92px,#00ff03 110px,#27ff00 114px,#b9ff00 126px,#deff00 130px,#f4ff00 134px,#f3ff00 138px,#e9ff00 140px,#a8ff00 146px,#32ff00 154px,#00ff03 158px,#00ffd4 174px,#00fffe 178px,#00efff 180px,#00aeff 188px,#007eff 196px,#0041ff 212px,#001aff 226px,#000aff 238px,#00f 290px,#000cff 312px,#002cff 336px,#008fff 362px,#009dff 368px,#007cff 394px,#007fff 402px,#00beff 426px,#00fbff 443px,#00ffc8 453px,#00ff02 477px,#0fff00 479px,#80ff00 491px,#deff00 503px,#f6ff00 507px,#ff0 511px,#eaff00 515px,#9dff00 521px,#6aff00 523px,#2bff00 525px,#00ff08 527px,#00ff97 535px,#0fe 541px,#00f4ff 543px,#00a7ff 549px,#0037ff 559px,#0014ff 563px,#000bff 565px,#00f 697px)"></i>
<i style="background:linear-gradient(90deg,#00f 0,#0001ff 26px,#0015ff 36px,#0091ff 64px,#00fdff 82px,#00ffc0 90px,#0f0 110px,#aeff00 126px,#cfff00 130px,#e3ff00 134px,#e4ff00 138px,#daff00 140px,#a1ff00 146px,#01ff00 158px,#00ffc7 174px,#00f9ff 180px,#00a6ff 190px,#0081ff 196px,#004aff 210px,#0021ff 224px,#000aff 240px,#00f 288px,#000aff 310px,#0029ff 336px,#0091ff 366px,#0073ff 390px,#0075ff 398px,#00b9ff 422px,#00fbff 439px,#00ffc8 449px,#00ff09 473px,#07ff00 475px,#8eff00 491px,#d8ff00 503px,#eaff00 509px,#e0ff00 513px,#a3ff00 519px,#82ff00 521px,#0eff00 525px,#00ff1c 527px,#00ffa0 535px,#00fff3 541px,#00f1ff 543px,#0037ff 559px,#0014ff 563px,#000bff 565px,#00f 697px)"></i>
<i style="background:linear-gradient(90deg,#00f 0,#0001ff 26px,#0015ff 36px,#0092ff 64px,#0ff 82px,#00ffce 88px,#00ff1f 106px,#04ff00 110px,#a1ff00 126px,#d0ff00 134px,#caff00 140px,#98ff00 146px,#06ff00 158px,#00ff26 162px,#00ffe3 178px,#00f5ff 182px,#00a1ff 192px,#007dff 198px,#0047ff 212px,#001fff 226px,#000bff 240px,#00f 288px,#0009ff 310px,#0027ff 336px,#0086ff 364px,#0087ff 368px,#0069ff 388px,#006dff 396px,#00b2ff 418px,#00faff 434px,#0fe 439px,#00ffba 447px,#0f0 471px,#63ff00 483px,#8cff00 489px,#c7ff00 501px,#d8ff00 509px,#c8ff00 513px,#8eff00 519px,#65ff00 521px,#29ff00 523px,#00ff07 525px,#00ff4f 529px,#00ffa8 535px,#00fff6 541px,#0ef 543px,#0037ff 559px,#0014ff 563px,#000bff 565px,#00f 697px)"></i>
<i style="background:linear-gradient(90deg,#00f 0,#0001ff 26px,#0016ff 36px,#0094ff 64px,#00fffd 82px,#00ffcb 88px,#00ff07 108px,#09ff00 110px,#93ff00 126px,#bf0 134px,#b8ff00 140px,#8eff00 146px,#0cff00 158px,#00ff08 160px,#00ffd2 178px,#00fffa 182px,#00f2ff 184px,#00adff 192px,#0084ff 198px,#004cff 212px,#02f 226px,#000bff 242px,#00f 290px,#000aff 312px,#0026ff 336px,#007eff 364px,#005fff 386px,#0062ff 392px,#00a9ff 414px,#00fffc 432px,#00ffae 445px,#00ff06 467px,#08ff00 469px,#59ff00 479px,#80ff00 485px,#baff00 499px,#c8ff00 507px,#bfff00 511px,#91ff00 517px,#7aff00 519px,#10ff00 523px,#00ff18 525px,#0f7 531px,#00ffc8 537px,#00fffa 541px,#00ebff 543px,#0037ff 559px,#0014ff 563px,#000bff 565px,#00f 697px)"></i>
<i style="background:linear-gradient(90deg,#00f 0,#0001ff 26px,#0010ff 34px,#0095ff 64px,#00fffc 82px,#00ff01 108px,#85ff00 126px,#a7ff00 134px,#a6ff00 140px,#84ff00 146px,#0f0 160px,#00ffea 182px,#00fffc 184px,#00f0ff 186px,#0af 194px,#0082ff 200px,#004aff 214px,#0021ff 228px,#000aff 244px,#00f 290px,#000aff 312px,#0024ff 336px,#0073ff 362px,#006aff 376px,#0056ff 384px,#005aff 390px,#00a7ff 412px,#00fcff 428px,#00ffc1 439px,#01ff00 465px,#76ff00 481px,#abff00 495px,#bcff00 505px,#aeff00 511px,#81ff00 517px,#63ff00 519px,#00ff02 523px,#00ff7f 531px,#00fffd 541px,#0038ff 559px,#0014ff 563px,#000bff 565px,#00f 697px)"></i>
<i style="background:linear-gradient(90deg,#00f 0,#0001ff 26px,#0010ff 34px,#0096ff 64px,#00f5ff 80px,#00fffa 82px,#00ffd8 86px,#00ff42 100px,#00ff0b 106px,#03ff00 108px,#78ff00 126px,#95ff00 134px,#98ff00 138px,#8fff00 142px,#6bff00 148px,#05ff00 160px,#00ff30 166px,#0ff 186px,#00a7ff 196px,#007fff 202px,#0048ff 216px,#0024ff 228px,#000bff 244px,#00f 288px,#0008ff 310px,#02f 336px,#006bff 362px,#0064ff 374px,#004fff 382px,#0053ff 388px,#006aff 396px,#00a5ff 410px,#0ff 426px,#00ff08 461px,#07ff00 463px,#53ff00 473px,#76ff00 479px,#a4ff00 493px,#b4ff00 503px,#a9ff00 509px,#84ff00 515px,#73ff00 517px,#18ff00 521px,#00ff0e 523px,#00ff85 531px,#00fdff 541px,#0038ff 559px,#0014ff 563px,#000bff 565px,#00f 697px)"></i>
<i style="background:linear-gradient(90deg,#00f 0,#0001ff 26px,#0010ff 34px,#0097ff 64px,#00f7ff 80px,#00fff9 82px,#00ffd5 86px,#00ff3b 100px,#00ff06 106px,#6dff00 126px,#86ff00 134px,#82ff00 142px,#64ff00 148px,#00ff05 162px,#00ff4d 170px,#00ffdf 184px,#00fbff 188px,#00a3ff 198px,#007dff 204px,#0027ff 228px,#000cff 244px,#00f 288px,#0008ff 310px,#0021ff 336px,#0061ff 360px,#005fff 372px,#0047ff 380px,#004bff 386px,#09f 406px,#00fffd 424px,#00ff02 459px,#0cff00 461px,#6dff00 475px,#9bff00 489px,#aeff00 501px,#a5ff00 507px,#7f0 515px,#5fff00 517px,#09ff00 521px,#00ff17 523px,#00ffa3 533px,#00f9ff 541px,#0036ff 559px,#000bff 565px,#00f 697px)"></i>
<i style="background:linear-gradient(90deg,#00f 0,#0001ff 26px,#0010ff 34px,#0098ff 64px,#00f8ff 80px,#00ffe6 84px,#00ff36 100px,#00ff04 106px,#65ff00 126px,#7bff00 134px,#78ff00 142px,#52ff00 150px,#00ff01 162px,#00ff45 170px,#00ffe7 186px,#00f4ff 190px,#00adff 198px,#0083ff 204px,#004aff 218px,#0025ff 230px,#000bff 246px,#00f 290px,#001dff 334px,#005bff 362px,#0057ff 372px,#0041ff 378px,#04f 384px,#0056ff 390px,#0096ff 404px,#00f6ff 420px,#00fffb 422px,#00ffe0 426px,#03ff00 457px,#4dff00 467px,#6eff00 473px,#98ff00 487px,#a8ff00 499px,#98ff00 507px,#69ff00 515px,#00ff01 521px,#00ffa7 533px,#00fff1 539px,#00f5ff 541px,#0034ff 559px,#000bff 565px,#00f 697px)"></i>
<i style="background:linear-gradient(90deg,#00f 0,#0001ff 26px,#01f 34px,#09f 64px,#00f9ff 80px,#00ffe5 84px,#00ff35 100px,#00ff03 106px,#62ff00 126px,#7f0 134px,#74ff00 142px,#50ff00 150px,#0f0 162px,#00ff40 170px,#00ffdf 186px,#00fbff 190px,#00a5ff 200px,#007dff 206px,#0026ff 230px,#000bff 246px,#00f 288px,#0007ff 310px,#001cff 334px,#0054ff 362px,#0052ff 370px,#0038ff 378px,#003cff 382px,#004fff 388px,#0093ff 402px,#00f6ff 418px,#00ffed 422px,#00ff24 449px,#08ff00 455px,#50ff00 465px,#6dff00 471px,#95ff00 485px,#a4ff00 497px,#95ff00 505px,#6dff00 513px,#58ff00 515px,#16ff00 519px,#00ff08 521px,#0fd 537px,#00fff5 539px,#00f1ff 541px,#0031ff 559px,#000bff 565px,#00f 697px)"></i>
<i style="background:linear-gradient(90deg,#00f 0,#0001ff 26px,#01f 34px,#009aff 64px,#00faff 80px,#00ffe3 84px,#00ff34 100px,#00ff03 106px,#60ff00 126px,#74ff00 134px,#71ff00 142px,#4fff00 150px,#02ff00 162px,#00ff3c 170px,#00fffc 190px,#00f1ff 192px,#00abff 200px,#0081ff 206px,#0047ff 220px,#02f 232px,#000bff 246px,#00f 290px,#001bff 334px,#004eff 362px,#004dff 368px,#0032ff 376px,#0035ff 380px,#0048ff 386px,#008fff 400px,#00fffd 418px,#00ff20 447px,#00ff03 451px,#0bff00 453px,#65ff00 467px,#93ff00 483px,#a0ff00 495px,#92ff00 503px,#6eff00 511px,#49ff00 515px,#0cff00 519px,#00ff0f 521px,#00fffa 539px,#00ecff 541px,#0092ff 549px,#002fff 559px,#000bff 565px,#00f 697px)"></i>
<i style="background:linear-gradient(90deg,#00f 0,#0001ff 26px,#01f 34px,#009cff 64px,#00fcff 80px,#00ffce 86px,#0f3 100px,#00ff03 106px,#5eff00 126px,#71ff00 134px,#6fff00 142px,#4eff00 150px,#03ff00 162px,#00ff39 170px,#00ffe5 188px,#00f7ff 192px,#0085ff 206px,#0049ff 220px,#02f 232px,#000bff 246px,#00f 290px,#001aff 334px,#0048ff 360px,#0046ff 368px,#002eff 374px,#002fff 378px,#004aff 386px,#0096ff 400px,#00fdff 416px,#00ff1e 445px,#00ff01 449px,#0dff00 451px,#45ff00 459px,#64ff00 465px,#90ff00 481px,#9cff00 493px,#8fff00 501px,#6f0 511px,#5f0 513px,#03ff00 519px,#0ff 539px,#00a2ff 547px,#003fff 557px,#001dff 561px,#000bff 565px,#00f 697px)"></i>
<i style="background:linear-gradient(90deg,#00f 0,#0001ff 26px,#01f 34px,#009dff 64px,#00fdff 80px,#0fc 86px,#0f3 100px,#00ff03 106px,#5cff00 126px,#6fff00 134px,#6dff00 142px,#4dff00 150px,#04ff00 162px,#00ff36 170px,#00fcff 192px,#00a7ff 202px,#007fff 208px,#0023ff 232px,#000bff 246px,#00f 288px,#0017ff 332px,#0042ff 360px,#0042ff 366px,#0029ff 374px,#002dff 378px,#0043ff 384px,#0090ff 398px,#00f7ff 414px,#00ffda 420px,#00ff10 445px,#00ff01 447px,#0cff00 449px,#4f0 457px,#62ff00 463px,#8dff00 479px,#9f0 491px,#8dff00 499px,#69ff00 509px,#4aff00 513px,#00ff05 519px,#00ffd4 535px,#00faff 539px,#009dff 547px,#003dff 557px,#001cff 561px,#000bff 565px,#00f 697px)"></i>
<i style="background:linear-gradient(90deg,#00f 0,#0001ff 26px,#0012ff 34px,#009eff 64px,#00feff 80px,#00ffcb 86px,#00ff32 100px,#00ff03 106px,#5aff00 126px,#6dff00 134px,#6bff00 142px,#56ff00 148px,#05ff00 162px,#00ff07 164px,#0f4 172px,#00fffc 192px,#00f1ff 194px,#0082ff 208px,#0046ff 222px,#001fff 234px,#000bff 246px,#00f 290px,#0016ff 332px,#003cff 358px,#003bff 366px,#0027ff 372px,#0028ff 376px,#0051ff 386px,#00acff 402px,#00feff 414px,#00ff21 441px,#00ff03 445px,#0bff00 447px,#42ff00 455px,#60ff00 461px,#89ff00 477px,#95ff00 489px,#87ff00 499px,#63ff00 509px,#3fff00 513px,#0bff00 517px,#00ff0d 519px,#00fff3 537px,#00f4ff 539px,#009aff 547px,#003bff 557px,#001bff 561px,#000bff 565px,#00f 697px)"></i>
<i style="background:linear-gradient(90deg,#00f 0,#0001ff 26px,#0012ff 34px,#009fff 64px,#0ff 80px,#00ffca 86px,#00ff32 100px,#00ff03 106px,#58ff00 126px,#6bff00 134px,#69ff00 142px,#4bff00 150px,#00ff06 164px,#00ff41 172px,#00fff7 192px,#00f6ff 194px,#0086ff 208px,#0048ff 222px,#0020ff 234px,#000bff 246px,#00f 290px,#0015ff 332px,#0028ff 352px,#0036ff 358px,#0037ff 364px,#02f 372px,#0027ff 376px,#003eff 382px,#09f 398px,#00f6ff 412px,#00fff9 414px,#00ffd9 418px,#00ff23 439px,#00ff04 443px,#09ff00 445px,#5dff00 459px,#85ff00 475px,#91ff00 487px,#85ff00 497px,#5dff00 509px,#02ff00 517px,#00fff9 537px,#0ef 539px,#0096ff 547px,#003aff 557px,#001bff 561px,#000bff 565px,#00f 697px)"></i>
<i style="background:linear-gradient(90deg,#00f 0,#0001ff 26px,#0012ff 34px,#00a0ff 64px,#00fffe 80px,#00ffc8 86px,#00ff31 100px,#00ff03 106px,#57ff00 126px,#69ff00 134px,#67ff00 142px,#4aff00 150px,#00ff05 164px,#00ff3f 172px,#00fbff 194px,#00a7ff 204px,#007fff 210px,#0020ff 234px,#000bff 246px,#00f 288px,#0013ff 332px,#02f 350px,#0031ff 358px,#02f 374px,#004cff 384px,#0af 400px,#00fcff 412px,#00ffd0 418px,#00ff26 437px,#00ff07 441px,#07ff00 443px,#48ff00 453px,#61ff00 459px,#82ff00 473px,#8dff00 485px,#84ff00 495px,#61ff00 507px,#42ff00 511px,#1f0 515px,#00ff07 517px,#0ff 537px,#0093ff 547px,#0038ff 557px,#001aff 561px,#000bff 565px,#00f 697px)"></i>
<i style="background:linear-gradient(90deg,#00f 0,#0001ff 26px,#0012ff 34px,#00a1ff 64px,#00fffd 80px,#00ffc7 86px,#00ff30 100px,#00ff03 106px,#56ff00 126px,#67ff00 134px,#6f0 142px,#4aff00 150px,#00ff04 164px,#00ff4d 174px,#0ff 194px,#0082ff 210px,#0021ff 234px,#000bff 246px,#00f 288px,#001bff 346px,#002dff 358px,#002bff 364px,#001dff 370px,#0021ff 374px,#04f 382px,#00afff 400px,#00f3ff 410px,#00fffc 412px,#00ffeb 414px,#00ff2a 434px,#05ff00 441px,#45ff00 451px,#5eff00 457px,#7eff00 471px,#8aff00 483px,#7fff00 495px,#5dff00 507px,#4eff00 509px,#07ff00 515px,#00ff27 519px,#00fff0 535px,#00f8ff 537px,#00a3ff 545px,#0037ff 557px,#001aff 561px,#000bff 565px,#00f 697px)"></i>
<i style="background:linear-gradient(90deg,#00f 0,#0001ff 26px,#0013ff 34px,#00a2ff 64px,#00fffb 80px,#00ffc6 86px,#00ff30 100px,#00ff03 106px,#5f0 126px,#6f0 134px,#65ff00 142px,#49ff00 150px,#00ff03 164px,#00ff4b 174px,#00fffc 194px,#00f2ff 196px,#0085ff 210px,#0045ff 224px,#001cff 236px,#000aff 248px,#00f 290px,#0018ff 346px,#0028ff 358px,#001cff 372px,#0047ff 382px,#00b3ff 400px,#00f9ff 410px,#00ffe5 414px,#00ff42 430px,#01ff00 439px,#41ff00 449px,#5bff00 455px,#7dff00 471px,#87ff00 483px,#7eff00 493px,#60ff00 505px,#45ff00 509px,#00ff02 515px,#00ffe1 533px,#00fff7 535px,#00f1ff 537px,#009fff 545px,#0036ff 557px,#001aff 561px,#000bff 565px,#00f 697px)"></i>
<i style="background:linear-gradient(90deg,#00f 0,#00f 24px,#000cff 32px,#002cff 40px,#09f 62px,#00f6ff 78px,#00ffea 82px,#00ff43 98px,#00ff03 106px,#54ff00 126px,#65ff00 134px,#64ff00 142px,#48ff00 150px,#00ff03 164px,#00ff49 174px,#00fff9 194px,#00f5ff 196px,#00a3ff 206px,#007dff 212px,#003eff 226px,#001dff 236px,#000aff 248px,#00f 290px,#0013ff 344px,#0023ff 356px,#001bff 372px,#003eff 380px,#00b7ff 400px,#00fdff 410px,#00ffcb 416px,#00ff23 432px,#00ff03 437px,#0bff00 439px,#3dff00 447px,#58ff00 453px,#7aff00 469px,#84ff00 481px,#7aff00 493px,#5dff00 505px,#3cff00 509px,#0bff00 513px,#00ff0c 515px,#0ff 535px,#009cff 545px,#0035ff 557px,#0019ff 561px,#000bff 565px,#00f 697px)"></i>
<i style="background:linear-gradient(90deg,#00f 0,#00f 24px,#000dff 32px,#002cff 40px,#09f 62px,#00f6ff 78px,#00ffe9 82px,#00ff42 98px,#00ff03 106px,#53ff00 126px,#64ff00 134px,#63ff00 142px,#48ff00 150px,#00ff02 164px,#00ff38 172px,#00ffe6 192px,#00f8ff 196px,#00a6ff 206px,#007fff 212px,#003fff 226px,#001dff 236px,#000aff 248px,#00f 288px,#0010ff 342px,#001eff 356px,#001bff 372px,#0040ff 380px,#00adff 398px,#00fffd 410px,#00ff19 432px,#05ff00 437px,#13ff00 439px,#42ff00 447px,#5aff00 453px,#79ff00 469px,#81ff00 481px,#76ff00 493px,#59ff00 505px,#49ff00 507px,#01ff00 513px,#00ffdb 531px,#00f8ff 535px,#0af 543px,#0034ff 557px,#0019ff 561px,#000bff 565px,#00f 697px)"></i>
<i style="background:linear-gradient(90deg,#00f 0,#00f 24px,#000dff 32px,#002cff 40px,#009aff 62px,#00f7ff 78px,#00ffe8 82px,#00ff42 98px,#00ff03 106px,#53ff00 126px,#64ff00 134px,#62ff00 142px,#48ff00 150px,#00ff02 164px,#00ff37 172px,#00ffe5 192px,#00f9ff 196px,#0081ff 212px,#0040ff 226px,#001dff 236px,#000bff 246px,#00f 288px,#000dff 340px,#001aff 354px,#0017ff 370px,#0037ff 378px,#00afff 398px,#00f4ff 408px,#00fffa 410px,#00ffe8 412px,#00ff4b 426px,#00ff10 432px,#00ff01 434px,#1aff00 439px,#47ff00 447px,#5cff00 453px,#78ff00 469px,#7eff00 481px,#73ff00 493px,#5dff00 503px,#41ff00 507px,#0eff00 511px,#00ff09 513px,#00fff9 533px,#00f0ff 535px,#0034ff 557px,#0019ff 561px,#000bff 565px,#00f 697px)"></i>
<i style="background:linear-gradient(90deg,#00f 0,#00f 24px,#000dff 32px,#009bff 62px,#00f8ff 78px,#00ffe8 82px,#00ff42 98px,#00ff03 106px,#53ff00 126px,#64ff00 134px,#62ff00 142px,#48ff00 150px,#00ff02 164px,#00ff37 172px,#00ffe4 192px,#00faff 196px,#0082ff 212px,#0041ff 226px,#001eff 236px,#000bff 246px,#00f 288px,#0017ff 370px,#0038ff 378px,#00b0ff 398px,#00f5ff 408px,#00fff9 410px,#00ffd1 414px,#00ff19 430px,#06ff00 434px,#20ff00 439px,#4aff00 447px,#5dff00 453px,#7f0 469px,#7bff00 481px,#70ff00 493px,#5bff00 503px,#4fff00 505px,#03ff00 511px,#00ffc0 527px,#00fdff 533px,#03f 557px,#0018ff 561px,#000bff 565px,#00f 697px)"></i>
<i style="background:linear-gradient(90deg,#00f 0,#00f 24px,#000dff 32px,#009bff 62px,#00f8ff 78px,#00ffe8 82px,#00ff42 98px,#00ff03 106px,#53ff00 126px,#64ff00 134px,#62ff00 142px,#48ff00 150px,#00ff02 164px,#00ff37 172px,#00ffe4 192px,#00faff 196px,#0082ff 212px,#0041ff 226px,#001eff 236px,#000bff 246px,#00f 288px,#0017ff 370px,#0038ff 378px,#00b0ff 398px,#00f5ff 408px,#00fff9 410px,#00ffd1 414px,#00ff19 430px,#06ff00 434px,#20ff00 439px,#4aff00 447px,#5dff00 453px,#7f0 469px,#7bff00 481px,#70ff00 493px,#5bff00 503px,#4fff00 505px,#03ff00 511px,#00ffc0 527px,#00fdff 533px,#03f 557px,#0018ff 561px,#000bff 565px,#00f 697px)"></i>
<i style="background:linear-gradient(90deg,#00f 0,#00f 24px,#000dff 32px,#009bff 62px,#00f8ff 78px,#00ffe8 82px,#00ff42 98px,#00ff03 106px,#53ff00 126px,#64ff00 134px,#62ff00 142px,#48ff00 150px,#00ff02 164px,#00ff37 172px,#00ffe4 192px,#00faff 196px,#0082ff 212px,#0041ff 226px,#001eff 236px,#000bff 246px,#00f 288px,#0017ff 370px,#0038ff 378px,#00b0ff 398px,#00f5ff 408px,#00fff9 410px,#00ffd1 414px,#00ff19 430px,#06ff00 434px,#20ff00 439px,#4aff00 447px,#5dff00 453px,#7f0 469px,#7bff00 481px,#70ff00 493px,#5bff00 503px,#4fff00 505px,#03ff00 511px,#00ffc0 527px,#00fdff 533px,#03f 557px,#0018ff 561px,#000bff 565px,#00f 697px)"></i>
</div></div>
<div class="m" style="left:1433.1px;top:989.7px">TM</div>
<div class="pl" style="left:1212.1px;top:985.9px">(d)</div>
<div class="yt" style="left:1404.6px;top:1612.2px">0</div>
<div class="yt" style="left:1404.6px;top:1478.7px">15</div>
<div class="yt" style="left:1404.6px;top:1345.2px">30</div>
<div class="yt" style="left:1404.6px;top:1211.6px">45</div>
<div class="yt" style="left:1404.6px;top:1078.1px">60</div>
<div class="yt" style="left:1404.6px;top:944.6px">75</div>
<div class="xt" style="left:1523.4px;top:1651.2px">0.5</div>
<div class="xt" style="left:1643.1px;top:1651.2px">1.0</div>
<div class="xt" style="left:1762.8px;top:1651.2px">1.5</div>
<div class="xt" style="left:1882.6px;top:1651.2px">2.0</div>
<div class="xt" style="left:2002.3px;top:1651.2px">2.5</div>
<div class="xt" style="left:2122px;top:1651.2px">3.0</div>
<div class="xl" style="left:1774.1px;top:1693.2px">Frequency (THz)</div>
<div class="yl" style="left:1332.1px;top:1279.4px">Incident angle (deg)</div>
<div class="cb" style="left:2167.2px;top:964px"></div>
<div class="ct" style="left:2206.2px;top:961.6px">1</div>
<div class="ct" style="left:2206.2px;top:1606.5px">0</div>
<div class="h" style="left:211.1px;top:1848.7px;width:697.7px;height:667.7px">
<div class="g" style="top:-27.8px;transform:scale(1.00129,0.99985)">
<i style="background:linear-gradient(90deg,#00f 0,#00f 24px,#0008ff 28px,#002aff 34px,#0082ff 46px,#0ff 60px,#00ff8d 70px,#00ff04 80px,#1cff00 82px,#df0 92px,#f6ff00 94px,#fe0 98px,#ffd300 104px,#ffcd00 110px,#ffdb00 118px,#fffe00 128px,#daff00 134px,#5fff00 148px,#00ff02 164px,#00f9ff 224px,#00ceff 230px,#0045ff 246px,#001fff 252px,#000fff 256px,#00f 316px,#0015ff 374px,#003aff 380px,#00b5ff 392px,#00e8ff 396px,#00fff7 398px,#00ffc8 400px,#00ff1d 406px,#04ff00 408px,#5aff00 416px,#73ff00 420px,#79ff00 424px,#63ff00 428px,#0bff00 437px,#00ff0b 439px,#0fb 451px,#00fffe 457px,#00cdff 465px,#00b4ff 471px,#00a1ff 483px,#09f 497px,#00adff 519px,#00c2ff 523px,#0ff 529px,#0fb 533px,#06ff00 541px,#4fff00 545px,#61ff00 547px,#61ff00 549px,#47ff00 551px,#16ff00 553px,#00ff2a 555px,#00fff7 561px,#00d0ff 563px,#003aff 569px,#0015ff 571px,#000aff 573px,#00f 697px)"></i>
<i style="background:linear-gradient(90deg,#00f 0,#00f 24px,#0008ff 28px,#002aff 34px,#0082ff 46px,#0ff 60px,#00ff8d 70px,#00ff04 80px,#1cff00 82px,#df0 92px,#f6ff00 94px,#fe0 98px,#ffd300 104px,#ffcd00 110px,#ffdb00 118px,#fffe00 128px,#daff00 134px,#5fff00 148px,#00ff02 164px,#00f9ff 224px,#00ceff 230px,#0045ff 246px,#001fff 252px,#000fff 256px,#00f 316px,#0015ff 374px,#003aff 380px,#00b5ff 392px,#00e8ff 396px,#00fff7 398px,#00ffc8 400px,#00ff1d 406px,#04ff00 408px,#5aff00 416px,#73ff00 420px,#79ff00 424px,#63ff00 428px,#0bff00 437px,#00ff0b 439px,#0fb 451px,#00fffe 457px,#00cdff 465px,#00b4ff 471px,#00a1ff 483px,#09f 497px,#00adff 519px,#00c2ff 523px,#0ff 529px,#0fb 533px,#06ff00 541px,#4fff00 545px,#61ff00 547px,#61ff00 549px,#47ff00 551px,#16ff00 553px,#00ff2a 555px,#00fff7 561px,#00d0ff 563px,#003aff 569px,#0015ff 571px,#000aff 573px,#00f 697px)"></i>
<i style="background:linear-gradient(90deg,#00f 0,#00f 24px,#0008ff 28px,#002aff 34px,#0082ff 46px,#0ff 60px,#00ff8d 70px,#00ff04 80px,#1cff00 82px,#df0 92px,#f6ff00 94px,#fe0 98px,#ffd300 104px,#ffcd00 110px,#ffdb00 118px,#fffe00 128px,#daff00 134px,#5fff00 148px,#00ff02 164px,#00f9ff 224px,#00ceff 230px,#0045ff 246px,#001fff 252px,#000fff 256px,#00f 316px,#0015ff 374px,#003aff 380px,#00b5ff 392px,#00e8ff 396px,#00fff7 398px,#00ffc8 400px,#00ff1d 406px,#04ff00 408px,#5aff00 416px,#73ff00 420px,#79ff00 424px,#63ff00 428px,#0bff00 437px,#00ff0b 439px,#0fb 451px,#00fffe 457px,#00cdff 465px,#00b4ff 471px,#00a1ff 483px,#09f 497px,#00adff 519px,#00c2ff 523px,#0ff 529px,#0fb 533px,#06ff00 541px,#4fff00 545px,#61ff00 547px,#61ff00 549px,#47ff00 551px,#16ff00 553px,#00ff2a 555px,#00fff7 561px,#00d0ff 563px,#003aff 569px,#0015ff 571px,#000aff 573px,#00f 697px)"></i>
<i style="background:linear-gradient(90deg,#00f 0,#00f 24px,#0008ff 28px,#002aff 34px,#0082ff 46px,#00feff 60px,#00ff8e 70px,#00ff07 80px,#18ff00 82px,#d4ff00 92px,#fffe00 96px,#fff200 98px,#ffd500 104px,#fc0 110px,#ffd900 118px,#fcff00 130px,#d2ff00 136px,#67ff00 148px,#0eff00 162px,#00ff07 166px,#00fffd 222px,#00f5ff 224px,#0043ff 246px,#000fff 256px,#00f 318px,#0015ff 374px,#003cff 380px,#00b3ff 392px,#00fdff 398px,#00ffd9 400px,#00ff2d 406px,#00ff05 408px,#62ff00 418px,#76ff00 424px,#65ff00 428px,#00ff03 439px,#00ff36 443px,#00ffce 453px,#00fff9 457px,#00f7ff 459px,#00c7ff 467px,#00b2ff 473px,#009cff 499px,#00b1ff 519px,#00c6ff 523px,#00fffc 529px,#00ffba 533px,#04ff00 541px,#4bff00 545px,#5dff00 547px,#5dff00 549px,#4f0 551px,#16ff00 553px,#00ff27 555px,#0fe 561px,#00d7ff 563px,#009dff 565px,#04f 569px,#0020ff 571px,#000cff 573px,#00f 697px)"></i>
<i style="background:linear-gradient(90deg,#00f 0,#00f 24px,#0008ff 28px,#002aff 34px,#0081ff 46px,#00fdff 60px,#00ffa8 68px,#00ff0a 80px,#14ff00 82px,#cf0 92px,#fcff00 96px,#fff600 98px,#ffd800 104px,#fc0 110px,#ffd600 118px,#fffe00 130px,#dbff00 136px,#60ff00 150px,#00ff03 166px,#00feff 222px,#00d6ff 228px,#0041ff 246px,#000eff 256px,#00f 312px,#0005ff 346px,#0015ff 374px,#002aff 378px,#00c5ff 394px,#00f5ff 398px,#00ffe7 400px,#00ff3e 406px,#00ff10 408px,#0bff00 410px,#4aff00 416px,#6eff00 422px,#6fff00 426px,#59ff00 430px,#08ff00 439px,#00ff0d 441px,#00ff26 443px,#00ffda 455px,#0ff 459px,#0cf 467px,#00b6ff 473px,#00a1ff 495px,#00a5ff 507px,#00b6ff 519px,#0cf 523px,#00f1ff 527px,#00fff8 529px,#0fd 531px,#00ffb7 533px,#04ff00 541px,#48ff00 545px,#59ff00 547px,#58ff00 549px,#40ff00 551px,#14ff00 553px,#00ff25 555px,#00ffe5 561px,#00e1ff 563px,#00a4ff 565px,#004eff 569px,#0012ff 573px,#000aff 575px,#00f 697px)"></i>
<i style="background:linear-gradient(90deg,#00f 0,#00f 24px,#0008ff 28px,#0029ff 34px,#0080ff 46px,#00fcff 60px,#0fa 68px,#00ff0d 80px,#10ff00 82px,#a1ff00 90px,#e0ff00 94px,#f6ff00 96px,#fffa00 98px,#ffd400 106px,#fc0 112px,#ffd900 120px,#fcff00 132px,#d4ff00 138px,#5aff00 152px,#02ff00 166px,#00ff09 168px,#00fbff 222px,#003fff 246px,#000eff 256px,#00f 316px,#0015ff 374px,#002cff 378px,#00efff 398px,#00fff1 400px,#00ffc3 402px,#00ff1d 408px,#03ff00 410px,#40ff00 416px,#6f0 422px,#6cff00 426px,#4dff00 432px,#01ff00 441px,#00ff2f 445px,#00ffca 455px,#00fff4 459px,#00fbff 461px,#00d4ff 467px,#00bcff 473px,#00a7ff 497px,#00bdff 519px,#00d3ff 523px,#00f8ff 527px,#00fff2 529px,#00ffd7 531px,#00ffb2 533px,#04ff00 541px,#46ff00 545px,#5f0 547px,#53ff00 549px,#3bff00 551px,#12ff00 553px,#00ff24 555px,#00ffdc 561px,#00ebff 563px,#007bff 567px,#0035ff 571px,#000cff 575px,#00f 697px)"></i>
<i style="background:linear-gradient(90deg,#00f 0,#00f 24px,#0008ff 28px,#0029ff 34px,#007fff 46px,#00fbff 60px,#00ffab 68px,#00ff10 80px,#0cff00 82px,#d9ff00 94px,#fffe00 98px,#ffd700 106px,#fc0 112px,#ffd700 120px,#fffe00 132px,#dcff00 138px,#62ff00 152px,#00ff04 168px,#00fffb 220px,#00f8ff 222px,#003dff 246px,#000eff 256px,#00f 318px,#0015ff 374px,#002dff 378px,#006fff 384px,#00ebff 398px,#00fff9 400px,#00ffd0 402px,#00ff2a 408px,#00ff05 410px,#36ff00 416px,#5dff00 422px,#63ff00 428px,#43ff00 434px,#00ff03 443px,#00ff36 447px,#00ffd2 457px,#00fff7 461px,#00f8ff 463px,#00d2ff 469px,#00c4ff 473px,#00b2ff 487px,#00aeff 499px,#00c4ff 519px,#00dbff 523px,#0ff 527px,#00ffd0 531px,#00ffac 533px,#04ff00 541px,#43ff00 545px,#50ff00 547px,#4dff00 549px,#36ff00 551px,#0fff00 553px,#00ff23 555px,#00ffd4 561px,#00f5ff 563px,#0082ff 567px,#005fff 569px,#0024ff 573px,#000aff 577px,#00f 697px)"></i>
<i style="background:linear-gradient(90deg,#00f 0,#00f 24px,#0008ff 28px,#0028ff 34px,#007eff 46px,#00faff 60px,#00ffad 68px,#00ff13 80px,#08ff00 82px,#b3ff00 92px,#eaff00 96px,#fcff00 98px,#ffd900 106px,#fc0 112px,#ffd400 120px,#fdff00 134px,#d5ff00 140px,#5cff00 154px,#01ff00 168px,#00ff0a 170px,#00fffe 220px,#00f5ff 222px,#003bff 246px,#000eff 256px,#00f 320px,#0015ff 374px,#002fff 378px,#0072ff 384px,#00d3ff 396px,#0ff 400px,#00ffdb 402px,#00ff37 408px,#00ff0e 410px,#09ff00 412px,#2bff00 416px,#50ff00 422px,#5bff00 428px,#46ff00 434px,#00ff02 445px,#00ff32 449px,#00ffcb 459px,#0ff 465px,#00d1ff 473px,#00baff 497px,#00d1ff 519px,#00fcff 525px,#00ffbf 531px,#00ff1d 539px,#0aff00 541px,#42ff00 545px,#4cff00 547px,#46ff00 549px,#2fff00 551px,#0bff00 553px,#00ff24 555px,#00fffe 563px,#008eff 567px,#0069ff 569px,#002fff 573px,#000dff 577px,#00f 697px)"></i>
<i style="background:linear-gradient(90deg,#00f 0,#00f 24px,#0008ff 28px,#0028ff 34px,#007eff 46px,#00f9ff 60px,#00ffc6 66px,#05ff00 82px,#c9ff00 94px,#f7ff00 98px,#fffa00 100px,#ffd500 108px,#fc0 114px,#ffd700 122px,#f8ff00 136px,#deff00 140px,#63ff00 154px,#13ff00 166px,#00ff05 170px,#00feff 220px,#0047ff 244px,#0012ff 254px,#0006ff 270px,#00f 314px,#0005ff 346px,#0015ff 374px,#0031ff 378px,#0076ff 384px,#00d1ff 396px,#00faff 400px,#00ffe4 402px,#0f4 408px,#00ff17 410px,#02ff00 412px,#37ff00 420px,#4dff00 428px,#3cff00 437px,#03ff00 447px,#00ff24 451px,#00ffb4 461px,#00fffe 469px,#00e9ff 473px,#00dfff 477px,#0cf 497px,#00e1ff 517px,#00fffd 523px,#00ffa2 531px,#00ff0e 539px,#14ff00 541px,#42ff00 545px,#48ff00 547px,#3eff00 549px,#04ff00 553px,#00ff27 555px,#00fff3 563px,#00d8ff 565px,#009fff 567px,#0057ff 571px,#0025ff 575px,#000bff 579px,#00f 697px)"></i>
<i style="background:linear-gradient(90deg,#00f 0,#00f 24px,#0007ff 28px,#0027ff 34px,#007dff 46px,#00f8ff 60px,#00fff2 62px,#00ffb0 68px,#01ff00 82px,#c2ff00 94px,#f2ff00 98px,#fffe00 100px,#ffd800 108px,#fc0 114px,#ffd900 124px,#fdff00 136px,#d7ff00 142px,#6bff00 154px,#0f0 170px,#00fbff 220px,#0045ff 244px,#0012ff 254px,#0006ff 272px,#00f 316px,#0015ff 374px,#0032ff 378px,#0079ff 384px,#00d0ff 396px,#00f7ff 400px,#00ffeb 402px,#00ff20 410px,#00ff02 412px,#0bff00 414px,#3f0 422px,#41ff00 430px,#3f0 439px,#00ff05 451px,#00ff30 455px,#00ff9d 463px,#00ffec 471px,#00fbff 475px,#00e1ff 497px,#00e9ff 509px,#00fcff 519px,#00ffe3 523px,#00ff86 531px,#00ff02 539px,#31ff00 543px,#3fff00 545px,#42ff00 547px,#36ff00 549px,#00ff03 553px,#00ffeb 563px,#00e5ff 565px,#0080ff 569px,#0063ff 571px,#001cff 577px,#000aff 581px,#00f 697px)"></i>
<i style="background:linear-gradient(90deg,#00f 0,#00f 24px,#0007ff 28px,#0027ff 34px,#007cff 46px,#00f6ff 60px,#00fff4 62px,#00ffb2 68px,#00ff02 82px,#baff00 94px,#ecff00 98px,#fcff00 100px,#fff700 102px,#ffd400 110px,#fc0 116px,#ffd700 124px,#f9ff00 138px,#cfff00 144px,#65ff00 156px,#05ff00 170px,#00ff07 172px,#00f9ff 220px,#04f 244px,#0012ff 254px,#0006ff 272px,#00f 316px,#0015ff 374px,#03f 378px,#007aff 384px,#00d1ff 396px,#00f6ff 400px,#00ffed 402px,#00ffc2 404px,#00ff29 410px,#00ff08 412px,#07ff00 414px,#3f0 424px,#3dff00 432px,#2fff00 441px,#00ff03 453px,#00ff2b 457px,#00ff7d 463px,#00ffd0 471px,#00ffed 475px,#0ff 483px,#00f3ff 497px,#00fdff 511px,#00ffef 519px,#00ffd0 523px,#00ff75 531px,#01ff00 539px,#2eff00 543px,#3aff00 545px,#3bff00 547px,#18ff00 551px,#00ff09 553px,#00ffe9 563px,#00eaff 565px,#0089ff 569px,#006bff 571px,#0023ff 577px,#000bff 581px,#00f 697px)"></i>
<i style="background:linear-gradient(90deg,#00f 0,#00f 24px,#0007ff 28px,#0026ff 34px,#007bff 46px,#00f5ff 60px,#00fff5 62px,#00ffca 66px,#00ff05 82px,#15ff00 84px,#b3ff00 94px,#e6ff00 98px,#fffa00 102px,#ffd700 110px,#fc0 116px,#ffd900 126px,#feff00 138px,#d8ff00 144px,#5eff00 158px,#00ff02 172px,#00fffb 218px,#00f7ff 220px,#0043ff 244px,#0012ff 254px,#0005ff 274px,#00f 318px,#0015ff 374px,#03f 378px,#007aff 384px,#00d1ff 396px,#00f6ff 400px,#0fe 402px,#00ffc5 404px,#00ff31 410px,#00ff0e 412px,#03ff00 414px,#30ff00 424px,#3dff00 432px,#2eff00 443px,#00ff04 455px,#00ff2c 459px,#00ff7a 465px,#00ffd6 475px,#00ffe6 479px,#00fff9 491px,#00fffa 505px,#00ffe2 519px,#00ffc5 523px,#00ff6e 531px,#00ff02 539px,#28ff00 543px,#32ff00 545px,#3f0 547px,#1f0 551px,#00ff0f 553px,#00ffea 563px,#00ebff 565px,#008eff 569px,#006fff 571px,#0028ff 577px,#000dff 581px,#00f 697px)"></i>
<i style="background:linear-gradient(90deg,#00f 0,#00f 24px,#0007ff 28px,#0026ff 34px,#007aff 46px,#00f4ff 60px,#00fff6 62px,#0fc 66px,#00ff09 82px,#1f0 84px,#acff00 94px,#e0ff00 98px,#fffe00 102px,#ffda00 110px,#fc0 118px,#ffd700 126px,#faff00 140px,#d1ff00 146px,#6f0 158px,#03ff00 172px,#00fffc 218px,#00f6ff 220px,#0042ff 244px,#01f 254px,#0005ff 276px,#00f 320px,#0015ff 374px,#03f 378px,#007aff 384px,#00f6ff 400px,#0fe 402px,#00ffc7 404px,#00ff38 410px,#00ff14 412px,#0f0 414px,#2dff00 424px,#3dff00 434px,#2cff00 445px,#04ff00 455px,#00ff17 459px,#00ff75 467px,#00ffca 477px,#00ffd9 481px,#00ffec 493px,#00ffed 505px,#00ffd7 519px,#0fa 525px,#0f5 533px,#00ff08 539px,#2aff00 545px,#2bff00 547px,#09ff00 551px,#00ff16 553px,#00ff3c 555px,#00ffeb 563px,#00ebff 565px,#0092ff 569px,#0059ff 573px,#001bff 579px,#000aff 583px,#00f 697px)"></i>
<i style="background:linear-gradient(90deg,#00f 0,#00f 24px,#000fff 30px,#08f 48px,#00f2ff 60px,#00fff8 62px,#00ffce 66px,#00ff0c 82px,#0dff00 84px,#daff00 98px,#fdff00 102px,#ffd600 112px,#fc0 118px,#ffd900 128px,#ff0 140px,#daff00 146px,#6eff00 158px,#09ff00 172px,#00ff04 174px,#00fffd 218px,#00f5ff 220px,#0041ff 244px,#01f 254px,#0005ff 276px,#00f 320px,#0015ff 374px,#03f 378px,#007aff 384px,#00f6ff 400px,#00ffef 402px,#00ffca 404px,#00ff40 410px,#00ff1b 412px,#00ff03 414px,#08ff00 416px,#30ff00 426px,#3dff00 437px,#30ff00 445px,#02ff00 457px,#00ff1a 461px,#00ff81 471px,#00ffbc 479px,#00ffcb 483px,#00ffde 495px,#00ffdc 509px,#00ffc3 521px,#00ff6a 531px,#06ff00 541px,#20ff00 545px,#21ff00 547px,#0f0 551px,#00ff43 555px,#00ffeb 563px,#00ecff 565px,#0095ff 569px,#005dff 573px,#001eff 579px,#000bff 583px,#00f 697px)"></i>
<i style="background:linear-gradient(90deg,#00f 0,#00f 24px,#000fff 30px,#0087ff 48px,#00fffa 62px,#00ffa2 70px,#00ff10 82px,#09ff00 84px,#d3ff00 98px,#f9ff00 102px,#fffb00 104px,#ffd900 112px,#fc0 120px,#ffd600 128px,#fbff00 142px,#e3ff00 146px,#68ff00 160px,#01ff00 174px,#00fffe 218px,#0041ff 244px,#01f 254px,#0006ff 270px,#00f 312px,#0005ff 346px,#0015ff 374px,#03f 378px,#007aff 384px,#00f6ff 400px,#00ffef 402px,#0fc 404px,#0f2 412px,#00ff08 414px,#05ff00 416px,#2dff00 426px,#3dff00 437px,#2eff00 447px,#0f0 459px,#00ff1c 463px,#00ff7b 473px,#00ffb6 483px,#00ffcf 497px,#00ffce 509px,#00ffb7 521px,#00ff58 533px,#00ff03 541px,#16ff00 545px,#0cff00 549px,#00ff09 551px,#00ff26 553px,#00ffec 563px,#00edff 565px,#09f 569px,#0079ff 571px,#03f 577px,#000cff 583px,#00f 697px)"></i>
<i style="background:linear-gradient(90deg,#00f 0,#00f 24px,#000fff 30px,#0086ff 48px,#00fffb 62px,#00ffa5 70px,#00ff14 82px,#05ff00 84px,#cf0 98px,#fffe00 104px,#ffdc00 112px,#fc0 120px,#ffd800 130px,#fffe00 142px,#deff00 148px,#72ff00 160px,#07ff00 174px,#00ff06 176px,#0ff 218px,#004dff 242px,#0029ff 248px,#01f 254px,#0006ff 270px,#00f 312px,#0005ff 346px,#0015ff 374px,#03f 378px,#007aff 384px,#00f7ff 400px,#00fff0 402px,#00ffce 404px,#00ff2a 412px,#00ff0e 414px,#02ff00 416px,#0bff00 418px,#30ff00 428px,#3dff00 439px,#32ff00 447px,#00ff03 461px,#00ff67 473px,#00ff94 481px,#00ffad 489px,#00ffbc 503px,#00ffa4 521px,#00ff58 533px,#00ff0c 541px,#02ff00 543px,#0bff00 547px,#01ff00 549px,#00ff30 553px,#00ffed 563px,#0ef 565px,#009eff 569px,#06f 573px,#0025ff 579px,#000dff 583px,#00f 697px)"></i>
<i style="background:linear-gradient(90deg,#00f 0,#00f 24px,#000eff 30px,#0084ff 48px,#00fffd 62px,#00ffa7 70px,#0f0 84px,#c5ff00 98px,#fcff00 104px,#ffd900 114px,#fc0 122px,#ffd900 132px,#feff00 144px,#d8ff00 150px,#6bff00 162px,#0f0 176px,#00feff 218px,#004dff 242px,#0029ff 248px,#01f 254px,#0006ff 270px,#00f 312px,#0005ff 346px,#0015ff 374px,#03f 378px,#007aff 384px,#00f7ff 400px,#00fff0 402px,#00ffd0 404px,#00ff58 410px,#00ff15 414px,#00ff02 416px,#07ff00 418px,#31ff00 430px,#3dff00 441px,#31ff00 449px,#04ff00 461px,#00ff12 465px,#00ff61 475px,#00ff75 479px,#00ff91 489px,#00ffa0 503px,#0f9 513px,#00ff84 523px,#00ff61 531px,#00ff08 543px,#00ff02 547px,#00ff0d 549px,#00ff3c 553px,#0fe 563px,#00efff 565px,#0084ff 571px,#003dff 577px,#0019ff 581px,#000aff 585px,#00f 697px)"></i>
<i style="background:linear-gradient(90deg,#00f 0,#00f 24px,#000eff 30px,#0083ff 48px,#0ff 62px,#0fa 70px,#00ff04 84px,#30ff00 88px,#bdff00 98px,#e9ff00 102px,#fffc00 106px,#ffd600 116px,#fc0 124px,#ffd600 132px,#fbff00 146px,#d3ff00 152px,#76ff00 162px,#06ff00 176px,#00fdff 218px,#004cff 242px,#0028ff 248px,#01f 254px,#0006ff 272px,#00f 314px,#0005ff 346px,#0015ff 374px,#03f 378px,#007aff 384px,#00f7ff 400px,#00fff1 402px,#00ffd2 404px,#00ff1e 414px,#00ff08 416px,#03ff00 418px,#2eff00 430px,#3dff00 443px,#30ff00 451px,#01ff00 463px,#0f6 479px,#00ff7b 489px,#00ff8a 503px,#00ff7e 517px,#0f6 529px,#00ff1d 541px,#00ff10 547px,#00ff1b 549px,#00ff47 553px,#00ffef 563px,#00f0ff 565px,#0089ff 571px,#0042ff 577px,#001cff 581px,#000aff 585px,#00f 697px)"></i>
<i style="background:linear-gradient(90deg,#00f 0,#00f 24px,#000eff 30px,#0082ff 48px,#00fdff 62px,#00ffad 70px,#00ff08 84px,#10ff00 86px,#b6ff00 98px,#e3ff00 102px,#ff0 106px,#ffd900 116px,#fc0 124px,#ffd800 134px,#fffd00 146px,#deff00 152px,#70ff00 164px,#00ff02 178px,#00ff6e 194px,#00fdff 218px,#004bff 242px,#0028ff 248px,#01f 254px,#0006ff 272px,#00f 314px,#0005ff 346px,#0015ff 374px,#03f 378px,#007aff 384px,#00f7ff 400px,#00fff1 402px,#00ffd4 404px,#00ff25 414px,#0f0 418px,#2fff00 432px,#3dff00 445px,#2fff00 453px,#01ff00 465px,#00ff60 481px,#00ff82 505px,#0f6 529px,#00ff28 541px,#00ff1d 547px,#00ff27 549px,#00ff51 553px,#00fff0 563px,#00f0ff 565px,#008aff 571px,#005bff 575px,#001fff 581px,#000bff 585px,#00f 697px)"></i>
<i style="background:linear-gradient(90deg,#00f 0,#00f 24px,#000eff 30px,#0080ff 48px,#00fbff 62px,#00ffb0 70px,#00ff0d 84px,#0bff00 86px,#afff00 98px,#ef0 104px,#fffa00 108px,#ffd700 118px,#fc0 126px,#ffd900 136px,#ff0 148px,#d9ff00 154px,#05ff00 178px,#00fcff 218px,#004bff 242px,#0028ff 248px,#01f 254px,#0006ff 272px,#00f 314px,#0005ff 346px,#0015ff 374px,#03f 378px,#007aff 384px,#00f7ff 400px,#00fff1 402px,#00ffd6 404px,#00ff2d 414px,#00ff04 418px,#05ff00 420px,#32ff00 434px,#3eff00 447px,#2fff00 455px,#02ff00 467px,#00ff60 485px,#00ff7e 507px,#00ff68 529px,#00ff2d 543px,#00ff29 547px,#0f3 549px,#00ff5a 553px,#00fff3 563px,#0ef 565px,#0089ff 571px,#0048ff 577px,#0017ff 583px,#000aff 587px,#00f 697px)"></i>
<i style="background:linear-gradient(90deg,#00f 0,#00f 24px,#000eff 30px,#007fff 48px,#00f9ff 62px,#00ffc8 68px,#06ff00 86px,#a7ff00 98px,#e9ff00 104px,#fffd00 108px,#ffd500 120px,#fc0 128px,#ffd600 136px,#fcff00 150px,#d4ff00 156px,#75ff00 166px,#00ff03 180px,#00ff83 198px,#00fbff 218px,#004aff 242px,#01f 254px,#0005ff 274px,#00f 316px,#0015ff 374px,#03f 378px,#007aff 384px,#00f7ff 400px,#00fff2 402px,#00ffd7 404px,#00ff34 414px,#00ff08 418px,#02ff00 420px,#30ff00 434px,#3fff00 447px,#35ff00 455px,#05ff00 469px,#00ff0c 473px,#00ff58 487px,#00ff7a 511px,#00ff68 531px,#00ff3b 543px,#00ff37 547px,#00ff3e 549px,#00ff64 553px,#00fff7 563px,#00eaff 565px,#00a6ff 569px,#0073ff 573px,#002aff 581px,#000cff 587px,#00f 697px)"></i>
<i style="background:linear-gradient(90deg,#00f 0,#00f 24px,#000dff 30px,#007eff 48px,#00f7ff 62px,#00fff4 64px,#00ffcb 68px,#02ff00 86px,#a0ff00 98px,#e3ff00 104px,#feff00 108px,#ffd700 120px,#fc0 128px,#ffd700 138px,#fffd00 150px,#edff00 154px,#ceff00 158px,#03ff00 180px,#00ff8e 200px,#00fbff 218px,#004aff 242px,#01f 254px,#0005ff 274px,#00f 316px,#0015ff 374px,#03f 378px,#007aff 384px,#00f7ff 400px,#00fff2 402px,#00ffd8 404px,#0f2 416px,#00ff01 420px,#08ff00 422px,#3f0 437px,#40ff00 449px,#31ff00 459px,#01ff00 473px,#00ff57 491px,#00ff76 513px,#00ff6a 533px,#0f4 547px,#00ff4a 549px,#00ff6e 553px,#00fffd 563px,#0087ff 571px,#0073ff 573px,#0023ff 583px,#000bff 589px,#00f 697px)"></i>
<i style="background:linear-gradient(90deg,#00f 0,#00f 24px,#000dff 30px,#007dff 48px,#00f5ff 62px,#00fff6 64px,#00ffce 68px,#00ff03 86px,#9aff00 98px,#deff00 104px,#fbff00 108px,#fffb00 110px,#ffda00 120px,#fc0 130px,#ffd900 140px,#feff00 152px,#d9ff00 158px,#0aff00 180px,#00ff06 182px,#00ff8c 200px,#00faff 218px,#0049ff 242px,#01f 254px,#0005ff 274px,#00f 316px,#0015ff 374px,#03f 378px,#007aff 384px,#00f7ff 400px,#00fff2 402px,#00ffd9 404px,#00ff28 416px,#00ff04 420px,#05ff00 422px,#32ff00 437px,#42ff00 451px,#32ff00 461px,#00ff03 477px,#00ff56 495px,#00ff72 515px,#00ff6e 533px,#00ff52 547px,#00ff56 549px,#00ff78 553px,#00ffe9 561px,#00fbff 563px,#00a0ff 569px,#0074ff 573px,#0029ff 583px,#000fff 589px,#00f 697px)"></i>
<i style="background:linear-gradient(90deg,#00f 0,#00f 24px,#000dff 30px,#007bff 48px,#00f3ff 62px,#00fff8 64px,#00ffd0 68px,#00ff06 86px,#10ff00 88px,#93ff00 98px,#d9ff00 104px,#fffd00 110px,#ffd700 122px,#fc0 132px,#ffd600 140px,#fffb00 152px,#f0ff00 156px,#d2ff00 160px,#0f0 182px,#00ff8b 200px,#00faff 218px,#0048ff 242px,#01f 254px,#0005ff 274px,#00f 316px,#0015ff 374px,#03f 378px,#007aff 384px,#00f8ff 400px,#00ffdb 404px,#00ff2f 416px,#00ff08 420px,#02ff00 422px,#30ff00 437px,#43ff00 451px,#38ff00 461px,#0f0 479px,#00ff49 495px,#00ff60 505px,#00ff72 523px,#00ff61 549px,#00ff82 553px,#00fff1 561px,#00f4ff 563px,#009dff 569px,#0074ff 573px,#002eff 583px,#000dff 591px,#00f 697px)"></i>
<i style="background:linear-gradient(90deg,#00f 0,#00f 24px,#000dff 30px,#007aff 48px,#00fffa 64px,#00ff0a 86px,#0cff00 88px,#8eff00 98px,#d4ff00 104px,#ff0 110px,#ffd900 122px,#fc0 132px,#ffd800 142px,#fffe00 154px,#c9ff00 162px,#06ff00 182px,#00ffa6 204px,#00f9ff 218px,#0048ff 242px,#01f 254px,#0005ff 274px,#00f 316px,#0015ff 374px,#03f 378px,#007aff 384px,#00f8ff 400px,#00ffdc 404px,#00ff4f 414px,#00ff1f 418px,#00ff01 422px,#07ff00 424px,#34ff00 439px,#45ff00 453px,#38ff00 463px,#00ff04 483px,#00ff4c 499px,#00ff5d 507px,#00ff71 525px,#00ff6c 549px,#00ff8c 553px,#00fffa 561px,#009bff 569px,#0074ff 573px,#0027ff 585px,#000cff 593px,#00f 697px)"></i>
<i style="background:linear-gradient(90deg,#00f 0,#00f 24px,#000dff 30px,#0079ff 48px,#00fffc 64px,#00ff0e 86px,#08ff00 88px,#89ff00 98px,#cfff00 104px,#fcff00 110px,#ffd600 124px,#fc0 134px,#ffd600 142px,#fffb00 154px,#f1ff00 158px,#d2ff00 162px,#0dff00 182px,#00ff06 184px,#00ff96 202px,#00fff8 216px,#00f8ff 218px,#0047ff 242px,#01f 254px,#0005ff 276px,#00f 318px,#0015ff 374px,#03f 378px,#007aff 384px,#00f8ff 400px,#00ffdc 404px,#00ff25 418px,#00ff05 422px,#04ff00 424px,#37ff00 441px,#46ff00 453px,#39ff00 465px,#00ff02 485px,#00ff42 499px,#00ff59 507px,#00ff6f 525px,#00ff75 549px,#00ff95 553px,#00fcff 561px,#0098ff 569px,#0075ff 573px,#0029ff 585px,#000dff 593px,#00f 697px)"></i>
<i style="background:linear-gradient(90deg,#00f 0,#00f 24px,#000cff 30px,#0078ff 48px,#00fffe 64px,#05ff00 88px,#84ff00 98px,#deff00 106px,#faff00 110px,#fffc00 112px,#ffd800 124px,#fc0 134px,#ffd800 144px,#ff0 156px,#c8ff00 164px,#0f0 184px,#00ffa4 204px,#00fff9 216px,#00f8ff 218px,#0047ff 242px,#01f 254px,#0005ff 276px,#00f 318px,#0015ff 374px,#03f 378px,#007aff 384px,#00f8ff 400px,#0fd 404px,#00ff2b 418px,#01ff00 424px,#36ff00 441px,#48ff00 455px,#38ff00 467px,#00ff03 487px,#0f4 501px,#00ff5a 509px,#00ff6d 523px,#00ff7e 549px,#00ffa0 553px,#00fff2 559px,#00f4ff 561px,#0096ff 569px,#0075ff 573px,#002aff 585px,#000eff 593px,#00f 697px)"></i>
<i style="background:linear-gradient(90deg,#00f 0,#00f 24px,#000cff 30px,#07f 48px,#00feff 64px,#02ff00 88px,#80ff00 98px,#dbff00 106px,#fffd00 112px,#ffd900 124px,#fc0 134px,#ffd700 144px,#fffc00 156px,#ef0 160px,#ceff00 164px,#04ff00 184px,#00ffb2 206px,#00fff9 216px,#00f7ff 218px,#0047ff 242px,#01f 254px,#0005ff 276px,#00f 318px,#0015ff 374px,#03f 378px,#007aff 384px,#00f6ff 400px,#00ffe0 404px,#00ff49 416px,#00ff1f 420px,#00ff02 424px,#06ff00 426px,#39ff00 443px,#49ff00 455px,#3cff00 467px,#02ff00 487px,#00ff47 503px,#00ff58 509px,#00ff87 549px,#00ffae 553px,#00fffe 559px,#0081ff 571px,#0034ff 583px,#000eff 593px,#00f 697px)"></i>
<i style="background:linear-gradient(90deg,#00f 0,#00f 24px,#000cff 30px,#0076ff 48px,#00fdff 64px,#00ffb1 72px,#0f0 88px,#7dff00 98px,#d9ff00 106px,#fffe00 112px,#ffd600 126px,#fc0 136px,#ffd600 144px,#fffa00 156px,#f1ff00 160px,#d3ff00 164px,#09ff00 184px,#00ff0a 186px,#00ffb1 206px,#00fffa 216px,#00f6ff 218px,#0046ff 242px,#01f 254px,#0005ff 276px,#00f 318px,#0015ff 374px,#0032ff 378px,#0079ff 384px,#00f3ff 400px,#00fff9 402px,#00ffe5 404px,#00ff26 420px,#02ff00 426px,#38ff00 443px,#49ff00 457px,#3bff00 469px,#01ff00 489px,#00ff56 509px,#0f8 547px,#00ffa8 551px,#00fff7 557px,#00f1ff 559px,#009cff 567px,#007bff 571px,#0032ff 583px,#000dff 593px,#00f 697px)"></i>
<i style="background:linear-gradient(90deg,#00f 0,#00f 24px,#000cff 30px,#0075ff 48px,#00fbff 64px,#00ffc8 70px,#00ff02 88px,#7aff00 98px,#d7ff00 106px,#ff0 112px,#ffd600 126px,#fc0 136px,#ffd900 146px,#feff00 158px,#c5ff00 166px,#0cff00 184px,#00ff07 186px,#00ffb1 206px,#00fffa 216px,#00f6ff 218px,#0052ff 240px,#0025ff 248px,#0010ff 254px,#0005ff 276px,#00f 318px,#0015ff 374px,#0031ff 378px,#0087ff 386px,#0ff 402px,#00ff2f 420px,#00ff0d 424px,#06ff00 428px,#3bff00 445px,#4aff00 459px,#3aff00 471px,#0f0 491px,#00ff45 505px,#00ff59 511px,#00ff73 533px,#00ff8b 545px,#00ffa6 549px,#00fff3 555px,#00f5ff 557px,#00a3ff 565px,#0075ff 571px,#002eff 583px,#000cff 593px,#00f 697px)"></i>
<i style="background:linear-gradient(90deg,#00f 0,#00f 24px,#000cff 30px,#0074ff 48px,#00faff 64px,#00ffca 70px,#00ff04 88px,#78ff00 98px,#d5ff00 106px,#feff00 112px,#ffd700 126px,#fc0 136px,#ffd900 146px,#ff0 158px,#c8ff00 166px,#00ff04 186px,#00ffb1 206px,#00fffb 216px,#00f5ff 218px,#0052ff 240px,#0025ff 248px,#0010ff 254px,#0004ff 278px,#00f 320px,#0015ff 374px,#0030ff 378px,#0085ff 386px,#00f9ff 402px,#00ffdf 406px,#00ff25 422px,#02ff00 428px,#39ff00 445px,#4bff00 459px,#39ff00 473px,#00ff02 493px,#00ff57 511px,#0f7 533px,#00ff8f 543px,#00ffa7 547px,#00fff2 553px,#00f7ff 555px,#00a7ff 563px,#0079ff 569px,#0034ff 581px,#000fff 591px,#00f 697px)"></i>
<i style="background:linear-gradient(90deg,#00f 0,#00f 24px,#000cff 30px,#0028ff 36px,#0081ff 50px,#00f8ff 64px,#00ffcb 70px,#00ff06 88px,#10ff00 90px,#75ff00 98px,#d3ff00 106px,#feff00 112px,#ffd700 126px,#fc0 136px,#ffd800 146px,#fffe00 158px,#ecff00 162px,#cbff00 166px,#00ff01 186px,#00ffb1 206px,#00fffc 216px,#00f4ff 218px,#0051ff 240px,#0025ff 248px,#0010ff 254px,#0004ff 278px,#00f 320px,#0015ff 374px,#002fff 378px,#0083ff 386px,#00fffb 404px,#00ff2e 422px,#00ff0d 426px,#06ff00 430px,#3cff00 447px,#4cff00 459px,#3cff00 473px,#02ff00 493px,#0f5 511px,#0f7 531px,#00ff92 541px,#0fa 545px,#00fff2 551px,#00f7ff 553px,#0af 561px,#007dff 567px,#002fff 581px,#000eff 591px,#00f 697px)"></i>
<i style="background:linear-gradient(90deg,#00f 0,#00f 24px,#000bff 30px,#0028ff 36px,#0080ff 50px,#00f7ff 64px,#00fff5 66px,#00ffcd 70px,#00ff08 88px,#0eff00 90px,#73ff00 98px,#d1ff00 106px,#fdff00 112px,#ffd800 126px,#fc0 136px,#ffd700 146px,#fffc00 158px,#ef0 162px,#cfff00 166px,#02ff00 186px,#00ffc0 208px,#00fffc 216px,#00f3ff 218px,#0051ff 240px,#0025ff 248px,#0010ff 254px,#0004ff 278px,#00f 320px,#0015ff 374px,#002eff 378px,#0080ff 386px,#00fcff 404px,#00ffdc 408px,#00ff38 422px,#00ff14 426px,#03ff00 430px,#3bff00 447px,#4dff00 461px,#3aff00 475px,#0f0 495px,#00ff53 511px,#00ff7b 531px,#00ff94 539px,#00ffad 543px,#00fff3 549px,#00f7ff 551px,#00acff 559px,#007fff 565px,#002bff 581px,#000dff 591px,#00f 697px)"></i>
<i style="background:linear-gradient(90deg,#00f 0,#00f 24px,#000bff 30px,#0028ff 36px,#007fff 50px,#00f5ff 64px,#00fff6 66px,#00ffcf 70px,#00ff0a 88px,#0cff00 90px,#70ff00 98px,#cfff00 106px,#fcff00 112px,#ffd800 126px,#fc0 136px,#ffd700 146px,#fffb00 158px,#f0ff00 162px,#d2ff00 166px,#06ff00 186px,#00ffc0 208px,#00fffd 216px,#00f3ff 218px,#0050ff 240px,#0024ff 248px,#0010ff 254px,#0004ff 278px,#00f 320px,#0015ff 374px,#002dff 378px,#007eff 386px,#00f6ff 404px,#00ffe5 408px,#00ff41 422px,#00ff1b 426px,#00ff01 430px,#10ff00 434px,#43ff00 451px,#4dff00 463px,#39ff00 477px,#00ff03 497px,#00ff51 511px,#00ff7b 529px,#00ff96 537px,#00ffb0 541px,#00fff4 547px,#00f7ff 549px,#0082ff 563px,#002fff 579px,#000fff 589px,#00f 697px)"></i>
<i style="background:linear-gradient(90deg,#00f 0,#00f 24px,#000bff 30px,#0027ff 36px,#007eff 50px,#00f4ff 64px,#00fff8 66px,#00ffd0 70px,#00ff0c 88px,#0aff00 90px,#6eff00 98px,#ceff00 106px,#fbff00 112px,#ffd900 126px,#fc0 136px,#ffd600 146px,#fffa00 158px,#f2ff00 162px,#d4ff00 166px,#09ff00 186px,#00ff0b 188px,#00ffc0 208px,#00fffe 216px,#00f2ff 218px,#004fff 240px,#0024ff 248px,#0010ff 254px,#0004ff 278px,#00f 320px,#0015ff 374px,#002cff 378px,#007bff 386px,#00fffe 406px,#00ffd8 410px,#00ff21 426px,#00ff04 430px,#0dff00 434px,#42ff00 451px,#4eff00 463px,#3cff00 477px,#0f0 497px,#00ff4f 511px,#00ff98 535px,#00ffb2 539px,#00fff3 545px,#00f8ff 547px,#00a1ff 557px,#007aff 563px,#002bff 579px,#000eff 589px,#00f 697px)"></i>
<i style="background:linear-gradient(90deg,#00f 0,#00f 24px,#000bff 30px,#0027ff 36px,#007dff 50px,#00f3ff 64px,#00fff9 66px,#00ffd2 70px,#00ff0e 88px,#08ff00 90px,#6cff00 98px,#cf0 106px,#faff00 112px,#ffd500 128px,#fc0 138px,#ffda00 148px,#feff00 160px,#c5ff00 168px,#0cff00 186px,#00ff08 188px,#00ff9e 204px,#00fffe 216px,#004fff 240px,#0015ff 252px,#0009ff 262px,#00f 312px,#0005ff 346px,#0015ff 374px,#002bff 378px,#007aff 386px,#00fbff 406px,#00ffdf 410px,#00ff27 426px,#02ff00 432px,#3cff00 449px,#4fff00 463px,#3eff00 477px,#03ff00 497px,#00ff0e 501px,#00ff4d 511px,#00ff97 533px,#00ffb2 537px,#00fbff 545px,#00a6ff 555px,#007eff 561px,#002fff 577px,#0010ff 587px,#0005ff 621px,#00f 697px)"></i>
<i style="background:linear-gradient(90deg,#00f 0,#00f 24px,#0013ff 32px,#007cff 50px,#00fffa 66px,#06ff00 90px,#6aff00 98px,#df0 108px,#fffd00 114px,#ffd600 128px,#fc0 138px,#ffd900 148px,#ff0 160px,#c8ff00 168px,#00ff05 188px,#00ff9e 204px,#0ff 216px,#005bff 238px,#002cff 246px,#0015ff 252px,#0008ff 264px,#00f 312px,#0005ff 346px,#0015ff 374px,#002bff 378px,#0078ff 386px,#00f7ff 406px,#00ffe4 410px,#00ff3f 424px,#00ff19 428px,#01ff00 432px,#1f0 437px,#46ff00 453px,#50ff00 465px,#3cff00 479px,#00ff01 499px,#00ff4c 511px,#00ff95 531px,#00ffaf 535px,#0ff 543px,#0084ff 559px,#0035ff 575px,#000fff 587px,#00f 697px)"></i>
<i style="background:linear-gradient(90deg,#00f 0,#00f 24px,#0012ff 32px,#007bff 50px,#00fffc 66px,#05ff00 90px,#68ff00 98px,#dcff00 108px,#fffd00 114px,#ffd600 128px,#fc0 138px,#ffd900 148px,#fffe00 160px,#ebff00 164px,#cbff00 168px,#00ff03 188px,#00ff9d 204px,#00feff 216px,#005aff 238px,#002cff 246px,#0014ff 252px,#0008ff 264px,#00f 312px,#0005ff 346px,#0015ff 374px,#002aff 378px,#0085ff 388px,#00f5ff 406px,#00fffa 408px,#00ffe7 410px,#00ff42 424px,#00ff1a 428px,#0f0 432px,#1f0 437px,#46ff00 453px,#52ff00 465px,#3fff00 479px,#01ff00 499px,#00ff4c 511px,#00ff90 529px,#0fb 535px,#00fff7 541px,#00f6ff 543px,#00a6ff 553px,#0080ff 559px,#0032ff 575px,#000eff 587px,#00f 697px)"></i>
<i style="background:linear-gradient(90deg,#00f 0,#00f 24px,#0012ff 32px,#007aff 50px,#00fffd 66px,#03ff00 90px,#6f0 98px,#dbff00 108px,#fffe00 114px,#ffd600 128px,#fc0 138px,#ffd800 148px,#fffd00 160px,#edff00 164px,#cdff00 168px,#0f0 188px,#00ffaf 206px,#00feff 216px,#0059ff 238px,#002bff 246px,#0014ff 252px,#0008ff 264px,#00f 312px,#0005ff 346px,#0015ff 374px,#002aff 378px,#0084ff 388px,#00fffc 408px,#00ffd5 412px,#00ff43 424px,#00ff1b 428px,#00ff01 432px,#10ff00 437px,#46ff00 453px,#54ff00 465px,#42ff00 479px,#02ff00 499px,#00ff13 503px,#00ff4c 511px,#00ff96 529px,#00feff 541px,#00afff 551px,#007dff 559px,#0031ff 575px,#000dff 587px,#00f 697px)"></i>
<i style="background:linear-gradient(90deg,#00f 0,#00f 24px,#0012ff 32px,#007aff 50px,#00fffe 66px,#01ff00 90px,#64ff00 98px,#d9ff00 108px,#fffe00 114px,#ffd700 128px,#fc0 138px,#ffd800 148px,#fffc00 160px,#ef0 164px,#cfff00 168px,#02ff00 188px,#00ffaf 206px,#00fdff 216px,#0059ff 238px,#002bff 246px,#0014ff 252px,#0007ff 266px,#00f 314px,#0015ff 374px,#002aff 378px,#0084ff 388px,#00fffe 408px,#00ffd7 412px,#00ff45 424px,#00ff1c 428px,#00ff01 432px,#10ff00 437px,#47ff00 453px,#5f0 467px,#40ff00 481px,#00ff04 501px,#00ff4b 511px,#00ff9d 529px,#00fff8 539px,#00f5ff 541px,#00a9ff 551px,#007aff 559px,#002fff 575px,#000dff 587px,#00f 697px)"></i>
<i style="background:linear-gradient(90deg,#00f 0,#00f 24px,#0012ff 32px,#0079ff 50px,#00feff 66px,#0f0 90px,#62ff00 98px,#d8ff00 108px,#ff0 114px,#ffd700 128px,#fc0 138px,#ffd700 148px,#fffc00 160px,#f0ff00 164px,#d1ff00 168px,#05ff00 188px,#00ffaf 206px,#00fcff 216px,#0058ff 238px,#002aff 246px,#0014ff 252px,#0007ff 266px,#00f 314px,#0015ff 374px,#0029ff 378px,#0083ff 388px,#0ff 408px,#00ffda 412px,#00ff1d 428px,#00ff01 432px,#10ff00 437px,#48ff00 453px,#58ff00 467px,#43ff00 481px,#00ff02 501px,#00ff4b 511px,#00ff96 527px,#00feff 539px,#00b2ff 549px,#0081ff 557px,#002dff 575px,#000fff 585px,#00f 697px)"></i>
<i style="background:linear-gradient(90deg,#00f 0,#00f 24px,#0012ff 32px,#0078ff 50px,#00fdff 66px,#00ffb1 74px,#00ff01 90px,#61ff00 98px,#d7ff00 108px,#ff0 114px,#ffd700 128px,#fc0 138px,#ffd700 148px,#fffb00 160px,#f1ff00 164px,#d3ff00 168px,#07ff00 188px,#00ff0d 190px,#00ffc1 208px,#00fcff 216px,#0057ff 238px,#002aff 246px,#0013ff 252px,#0007ff 268px,#00f 314px,#0015ff 374px,#0029ff 378px,#0082ff 388px,#00fdff 408px,#00ffdc 412px,#00ff1e 428px,#00ff02 432px,#10ff00 437px,#49ff00 453px,#5bff00 467px,#47ff00 481px,#00ff01 501px,#00ff4b 511px,#00ff9d 527px,#00fff8 537px,#00f6ff 539px,#00adff 549px,#007fff 557px,#002bff 575px,#000eff 585px,#00f 697px)"></i>
<i style="background:linear-gradient(90deg,#00f 0,#00f 24px,#0012ff 32px,#07f 50px,#00fcff 66px,#00ffb3 74px,#00ff03 90px,#5fff00 98px,#d6ff00 108px,#ff0 114px,#ffd700 128px,#fc0 138px,#ffd700 148px,#fffa00 160px,#f2ff00 164px,#d5ff00 168px,#09ff00 188px,#00ff0b 190px,#00ffc1 208px,#00fbff 216px,#0056ff 238px,#0029ff 246px,#0013ff 252px,#0007ff 268px,#00f 314px,#0015ff 374px,#0029ff 378px,#0081ff 388px,#00fcff 408px,#00ffde 412px,#00ff1f 428px,#00ff02 432px,#10ff00 437px,#4fff00 455px,#5dff00 469px,#45ff00 483px,#01ff00 501px,#00ff4a 511px,#00ff70 519px,#00ffa3 527px,#0ff 537px,#0086ff 555px,#0031ff 573px,#000eff 585px,#00f 697px)"></i>
<i style="background:linear-gradient(90deg,#00f 0,#00f 24px,#01f 32px,#0076ff 50px,#00fbff 66px,#00ffb4 74px,#00ff04 90px,#5eff00 98px,#d5ff00 108px,#feff00 114px,#ffd800 128px,#fc0 138px,#ffd600 148px,#fffa00 160px,#f3ff00 164px,#d6ff00 168px,#0bff00 188px,#00ff0a 190px,#00ffc1 208px,#00faff 216px,#05f 238px,#0029ff 246px,#0013ff 252px,#0006ff 270px,#00f 316px,#0015ff 374px,#0029ff 378px,#0081ff 388px,#00faff 408px,#00ffe0 412px,#00ff20 428px,#00ff03 432px,#10ff00 437px,#50ff00 455px,#61ff00 469px,#48ff00 483px,#02ff00 501px,#00ff08 503px,#00ff4a 511px,#00ff9b 525px,#00fff6 535px,#00f8ff 537px,#0084ff 555px,#0030ff 573px,#000dff 585px,#00f 697px)"></i>
<i style="background:linear-gradient(90deg,#00f 0,#00f 24px,#01f 32px,#0076ff 50px,#00faff 66px,#00ffca 72px,#00ff05 90px,#5dff00 98px,#d5ff00 108px,#feff00 114px,#ffd800 128px,#fc0 138px,#ffd600 148px,#feff00 162px,#c6ff00 170px,#0dff00 188px,#00ff08 190px,#00ffc1 208px,#00faff 216px,#05f 238px,#0028ff 246px,#0012ff 252px,#0006ff 270px,#00f 316px,#0015ff 374px,#0028ff 378px,#0080ff 388px,#00f9ff 408px,#00ffe1 412px,#00ff21 428px,#00ff03 432px,#10ff00 437px,#52ff00 455px,#64ff00 469px,#4cff00 483px,#04ff00 501px,#00ff07 503px,#00ff49 511px,#00ffa0 525px,#00fffc 535px,#00f2ff 537px,#0082ff 555px,#002eff 573px,#000dff 585px,#00f 697px)"></i>
<i style="background:linear-gradient(90deg,#00f 0,#00f 24px,#01f 32px,#0075ff 50px,#00f9ff 66px,#00ffcb 72px,#00ff06 90px,#10ff00 92px,#5cff00 98px,#d4ff00 108px,#feff00 114px,#ffd800 128px,#fc0 138px,#ffd600 148px,#feff00 162px,#c7ff00 170px,#0eff00 188px,#00ff07 190px,#00ffc2 208px,#00fff6 214px,#00f9ff 216px,#0054ff 238px,#0027ff 246px,#0012ff 252px,#0006ff 270px,#00f 316px,#0015ff 374px,#0028ff 378px,#0080ff 388px,#00f8ff 408px,#00ffe3 412px,#0f2 428px,#00ff03 432px,#10ff00 437px,#54ff00 455px,#68ff00 469px,#50ff00 483px,#05ff00 501px,#00ff05 503px,#00ff49 511px,#00ffa6 525px,#00fcff 535px,#008aff 553px,#002dff 573px,#000fff 583px,#00f 697px)"></i>
<i style="background:linear-gradient(90deg,#00f 0,#00f 24px,#01f 32px,#0082ff 52px,#00f8ff 66px,#00ffcd 72px,#00ff06 90px,#10ff00 92px,#5bff00 98px,#d3ff00 108px,#feff00 114px,#ffd800 128px,#fc0 140px,#ffda00 150px,#feff00 162px,#c8ff00 170px,#00ff06 190px,#00ffc2 208px,#00fff7 214px,#00f8ff 216px,#0053ff 238px,#0027ff 246px,#0012ff 252px,#0005ff 272px,#00f 316px,#0015ff 374px,#0028ff 378px,#007fff 388px,#00f7ff 408px,#00fff7 410px,#00ffce 414px,#00ff23 428px,#00ff04 432px,#10ff00 437px,#56ff00 455px,#67ff00 463px,#6bff00 471px,#4eff00 485px,#00ff04 503px,#00ff48 511px,#00ffac 525px,#00fff7 533px,#00f7ff 535px,#08f 553px,#002bff 573px,#000eff 583px,#00f 697px)"></i>
<i style="background:linear-gradient(90deg,#00f 0,#00f 24px,#01f 32px,#0081ff 52px,#00f7ff 66px,#00fff5 68px,#00ffce 72px,#00ff07 90px,#0fff00 92px,#5aff00 98px,#d3ff00 108px,#fdff00 114px,#ffd800 128px,#fc0 140px,#ffda00 150px,#ff0 162px,#c8ff00 170px,#00ff05 190px,#00ffc3 208px,#00fff7 214px,#00f8ff 216px,#0052ff 238px,#0026ff 246px,#0012ff 252px,#0005ff 272px,#00f 316px,#0015ff 374px,#0028ff 378px,#007fff 388px,#00f7ff 408px,#00fff8 410px,#00ffcf 414px,#00ff23 428px,#00ff04 432px,#10ff00 437px,#58ff00 455px,#6aff00 463px,#70ff00 471px,#52ff00 485px,#00ff03 503px,#00ffb2 525px,#00fffc 533px,#00f3ff 535px,#0087ff 553px,#002aff 573px,#000eff 583px,#00f 697px)"></i>
<i style="background:linear-gradient(90deg,#00f 0,#00f 24px,#01f 32px,#0080ff 52px,#00f6ff 66px,#00fff6 68px,#00ffcf 72px,#00ff07 90px,#0fff00 92px,#5aff00 98px,#d3ff00 108px,#fdff00 114px,#ffd800 128px,#fc0 140px,#ffda00 150px,#ff0 162px,#c9ff00 170px,#00ff04 190px,#00ffc3 208px,#00fff8 214px,#00f7ff 216px,#0052ff 238px,#0026ff 246px,#01f 252px,#0005ff 274px,#00f 318px,#0015ff 374px,#0028ff 378px,#007fff 388px,#00f6ff 408px,#00fff8 410px,#00ffcf 414px,#00ff24 428px,#00ff04 432px,#10ff00 437px,#5bff00 455px,#6dff00 463px,#74ff00 471px,#6dff00 477px,#56ff00 485px,#00ff03 503px,#00feff 533px,#00bcff 543px,#0086ff 553px,#0029ff 573px,#000dff 583px,#00f 697px)"></i>
<i style="background:linear-gradient(90deg,#00f 0,#00f 24px,#01f 32px,#0080ff 52px,#00f5ff 66px,#00fff7 68px,#00ffd0 72px,#00ff08 90px,#0eff00 92px,#5aff00 98px,#d2ff00 108px,#fdff00 114px,#ffd800 128px,#fc0 140px,#ffda00 150px,#ff0 162px,#c9ff00 170px,#00ff04 190px,#00ffc4 208px,#00fff9 214px,#00f6ff 216px,#0051ff 238px,#0025ff 246px,#01f 252px,#0005ff 274px,#00f 318px,#0015ff 374px,#0028ff 378px,#007fff 388px,#00f6ff 408px,#00fff8 410px,#00ffd0 414px,#00ff24 428px,#00ff04 432px,#1f0 437px,#5dff00 455px,#71ff00 463px,#78ff00 471px,#72ff00 477px,#5aff00 485px,#00ff02 503px,#00ff93 519px,#00ffab 523px,#00fbff 533px,#00a4ff 547px,#0042ff 567px,#0020ff 575px,#000cff 583px,#00f 697px)"></i>
<i style="background:linear-gradient(90deg,#00f 0,#00f 24px,#01f 32px,#0080ff 52px,#00f5ff 66px,#00fff7 68px,#00ffd0 72px,#00ff08 90px,#0eff00 92px,#5aff00 98px,#d2ff00 108px,#fdff00 114px,#ffd800 128px,#fc0 140px,#ffda00 150px,#ff0 162px,#c9ff00 170px,#00ff04 190px,#00ffc4 208px,#00fff9 214px,#00f6ff 216px,#0051ff 238px,#0025ff 246px,#01f 252px,#0005ff 274px,#00f 318px,#0015ff 374px,#0028ff 378px,#007fff 388px,#00f6ff 408px,#00fff8 410px,#00ffd0 414px,#00ff24 428px,#00ff04 432px,#1f0 437px,#5dff00 455px,#71ff00 463px,#78ff00 471px,#72ff00 477px,#5aff00 485px,#00ff02 503px,#00ff93 519px,#00ffab 523px,#00fbff 533px,#00a4ff 547px,#0042ff 567px,#0020ff 575px,#000cff 583px,#00f 697px)"></i>
<i style="background:linear-gradient(90deg,#00f 0,#00f 24px,#01f 32px,#0080ff 52px,#00f5ff 66px,#00fff7 68px,#00ffd0 72px,#00ff08 90px,#0eff00 92px,#5aff00 98px,#d2ff00 108px,#fdff00 114px,#ffd800 128px,#fc0 140px,#ffda00 150px,#ff0 162px,#c9ff00 170px,#00ff04 190px,#00ffc4 208px,#00fff9 214px,#00f6ff 216px,#0051ff 238px,#0025ff 246px,#01f 252px,#0005ff 274px,#00f 318px,#0015ff 374px,#0028ff 378px,#007fff 388px,#00f6ff 408px,#00fff8 410px,#00ffd0 414px,#00ff24 428px,#00ff04 432px,#1f0 437px,#5dff00 455px,#71ff00 463px,#78ff00 471px,#72ff00 477px,#5aff00 485px,#00ff02 503px,#00ff93 519px,#00ffab 523px,#00fbff 533px,#00a4ff 547px,#0042ff 567px,#0020ff 575px,#000cff 583px,#00f 697px)"></i>
</div></div>
<div class="m" style="left:222.6px;top:1882.9px">TE</div>
<div class="pl" style="left:16.8px;top:1889.7px">(e)</div>
<div class="yt" style="left:189.6px;top:2515.4px">0</div>
<div class="yt" style="left:189.6px;top:2381.9px">15</div>
<div class="yt" style="left:189.6px;top:2248.3px">30</div>
<div class="yt" style="left:189.6px;top:2114.8px">45</div>
<div class="yt" style="left:189.6px;top:1981.2px">60</div>
<div class="yt" style="left:189.6px;top:1847.7px">75</div>
<div class="xt" style="left:308.6px;top:2554.4px">0.5</div>
<div class="xt" style="left:428.5px;top:2554.4px">1.0</div>
<div class="xt" style="left:548.5px;top:2554.4px">1.5</div>
<div class="xt" style="left:668.5px;top:2554.4px">2.0</div>
<div class="xt" style="left:788.4px;top:2554.4px">2.5</div>
<div class="xt" style="left:908.4px;top:2554.4px">3.0</div>
<div class="xl" style="left:559.1px;top:2596.4px">Frequency (THz)</div>
<div class="yl" style="left:117.1px;top:2182.5px">Incident angle (deg)</div>
<div class="cb" style="left:951.3px;top:1865px"></div>
<div class="ct" style="left:990.3px;top:1865px">1</div>
<div class="ct" style="left:990.3px;top:2507.5px">0</div>
<div class="h" style="left:1426.1px;top:1851px;width:696.3px;height:666.6px">
<div class="g" style="top:-27.8px;transform:scale(0.99928,0.99820)">
<i style="background:linear-gradient(90deg,#00f 0,#0006ff 74px,#001eff 80px,#07f 94px,#00b7ff 106px,#00feff 114px,#00ffd6 116px,#00ff05 122px,#5eff00 126px,#edff00 132px,#ffe900 134px,#ffae00 138px,#f90 142px,#ffa800 144px,#fc0 146px,#ff0 148px,#00ff01 156px,#00ffcd 162px,#00fffc 164px,#00e5ff 166px,#00a8ff 172px,#0041ff 186px,#001cff 192px,#000dff 196px,#0001ff 304px,#0015ff 348px,#0021ff 350px,#003eff 352px,#0068ff 354px,#00fffc 360px,#00ffba 362px,#00ff02 366px,#57ff00 368px,#9dff00 370px,#c3ff00 372px,#bcff00 374px,#8bff00 376px,#3fff00 378px,#00ff1d 380px,#00ff78 382px,#00ffc6 384px,#00fff9 386px,#00ecff 388px,#008cff 398px,#0068ff 406px,#0067ff 447px,#0071ff 469px,#0087ff 487px,#00b5ff 499px,#00f9ff 509px,#00ffed 511px,#00ffbf 513px,#00ff07 519px,#30ff00 521px,#64ff00 523px,#a8ff00 527px,#a0ff00 529px,#80ff00 531px,#59ff00 533px,#26ff00 535px,#00ff13 537px,#00ffd6 543px,#00edff 545px,#0084ff 549px,#002aff 553px,#000eff 555px,#000aff 557px,#00f 697px)"></i>
<i style="background:linear-gradient(90deg,#00f 0,#0006ff 74px,#001eff 80px,#07f 94px,#00b7ff 106px,#00feff 114px,#00ffd6 116px,#00ff05 122px,#5eff00 126px,#edff00 132px,#ffe900 134px,#ffae00 138px,#f90 142px,#ffa800 144px,#fc0 146px,#ff0 148px,#00ff01 156px,#00ffcd 162px,#00fffc 164px,#00e5ff 166px,#00a8ff 172px,#0041ff 186px,#001cff 192px,#000dff 196px,#0001ff 304px,#0015ff 348px,#0021ff 350px,#003eff 352px,#0068ff 354px,#00fffc 360px,#00ffba 362px,#00ff02 366px,#57ff00 368px,#9dff00 370px,#c3ff00 372px,#bcff00 374px,#8bff00 376px,#3fff00 378px,#00ff1d 380px,#00ff78 382px,#00ffc6 384px,#00fff9 386px,#00ecff 388px,#008cff 398px,#0068ff 406px,#0067ff 447px,#0071ff 469px,#0087ff 487px,#00b5ff 499px,#00f9ff 509px,#00ffed 511px,#00ffbf 513px,#00ff07 519px,#30ff00 521px,#64ff00 523px,#a8ff00 527px,#a0ff00 529px,#80ff00 531px,#59ff00 533px,#26ff00 535px,#00ff13 537px,#00ffd6 543px,#00edff 545px,#0084ff 549px,#002aff 553px,#000eff 555px,#000aff 557px,#00f 697px)"></i>
<i style="background:linear-gradient(90deg,#00f 0,#0006ff 74px,#001eff 80px,#07f 94px,#00b7ff 106px,#00feff 114px,#00ffd6 116px,#00ff05 122px,#5eff00 126px,#edff00 132px,#ffe900 134px,#ffae00 138px,#f90 142px,#ffa800 144px,#fc0 146px,#ff0 148px,#00ff01 156px,#00ffcd 162px,#00fffc 164px,#00e5ff 166px,#00a8ff 172px,#0041ff 186px,#001cff 192px,#000dff 196px,#0001ff 304px,#0015ff 348px,#0021ff 350px,#003eff 352px,#0068ff 354px,#00fffc 360px,#00ffba 362px,#00ff02 366px,#57ff00 368px,#9dff00 370px,#c3ff00 372px,#bcff00 374px,#8bff00 376px,#3fff00 378px,#00ff1d 380px,#00ff78 382px,#00ffc6 384px,#00fff9 386px,#00ecff 388px,#008cff 398px,#0068ff 406px,#0067ff 447px,#0071ff 469px,#0087ff 487px,#00b5ff 499px,#00f9ff 509px,#00ffed 511px,#00ffbf 513px,#00ff07 519px,#30ff00 521px,#64ff00 523px,#a8ff00 527px,#a0ff00 529px,#80ff00 531px,#59ff00 533px,#26ff00 535px,#00ff13 537px,#00ffd6 543px,#00edff 545px,#0084ff 549px,#002aff 553px,#000eff 555px,#000aff 557px,#00f 697px)"></i>
<i style="background:linear-gradient(90deg,#00f 0,#0005ff 70px,#001cff 76px,#007cff 92px,#00b5ff 104px,#00f1ff 112px,#00fff5 114px,#00ffc2 116px,#00ff35 120px,#04ff00 122px,#67ff00 126px,#f6ff00 132px,#ffc000 136px,#ff9a00 140px,#f90 142px,#ffad00 144px,#ffd400 146px,#f5ff00 148px,#36ff00 154px,#00ff03 156px,#00ffba 162px,#00ffec 164px,#00f2ff 166px,#00c4ff 170px,#0092ff 176px,#03f 190px,#000fff 198px,#0004ff 232px,#00f 296px,#0017ff 348px,#0025ff 350px,#0043ff 352px,#00d4ff 358px,#00fff7 360px,#00ffb3 362px,#00ff02 366px,#53ff00 368px,#95ff00 370px,#b8ff00 372px,#b0ff00 374px,#80ff00 376px,#35ff00 378px,#00ff23 380px,#00ff7c 382px,#00ffc8 384px,#00fff9 386px,#00ecff 388px,#008eff 398px,#006aff 406px,#0069ff 447px,#0075ff 469px,#008dff 487px,#00baff 499px,#00fdff 509px,#00ffe6 511px,#00ffb6 513px,#02ff00 519px,#7cff00 523px,#af0 525px,#c9ff00 527px,#beff00 529px,#96ff00 531px,#6aff00 533px,#31ff00 535px,#00ff0c 537px,#00ffd6 543px,#00edff 545px,#0085ff 549px,#0034ff 553px,#0015ff 555px,#000aff 557px,#00f 697px)"></i>
<i style="background:linear-gradient(90deg,#00f 0,#0004ff 66px,#0018ff 72px,#0074ff 88px,#00bdff 104px,#00faff 112px,#00ffe5 114px,#00ffac 116px,#00ff26 120px,#0eff00 122px,#71ff00 126px,#fffe00 132px,#ffb800 136px,#ff9600 140px,#ff9a00 142px,#ffb200 144px,#ffdc00 146px,#ecff00 148px,#32ff00 154px,#00ff04 156px,#00ffac 162px,#00ffdc 164px,#00feff 166px,#0bf 172px,#008bff 178px,#0032ff 192px,#0010ff 200px,#0005ff 226px,#00f 288px,#0006ff 322px,#0018ff 348px,#0029ff 350px,#0049ff 352px,#00dbff 358px,#00fff0 360px,#00ffac 362px,#0f0 366px,#50ff00 368px,#8dff00 370px,#adff00 372px,#a3ff00 374px,#74ff00 376px,#2bff00 378px,#00ff2b 380px,#00ff80 382px,#00ffc9 384px,#00fff9 386px,#00edff 388px,#009eff 396px,#0071ff 404px,#006bff 443px,#0076ff 465px,#008fff 485px,#00b7ff 497px,#00f3ff 507px,#00fffb 509px,#00ffdb 511px,#00ffa9 513px,#00ff2e 517px,#10ff00 519px,#96ff00 523px,#c8ff00 525px,#e8ff00 527px,#daff00 529px,#acff00 531px,#79ff00 533px,#00ff06 537px,#00ffd5 543px,#00edff 545px,#0087ff 549px,#0061ff 551px,#001dff 555px,#000cff 557px,#00f 697px)"></i>
<i style="background:linear-gradient(90deg,#00f 0,#0006ff 64px,#0027ff 72px,#0080ff 88px,#00baff 102px,#00f1ff 110px,#00fffa 112px,#00ffd1 114px,#00ff17 120px,#19ff00 122px,#7dff00 126px,#dfff00 130px,#fff300 132px,#ffaf00 136px,#ff9200 140px,#ff9b00 142px,#ffb700 144px,#ffe300 146px,#e5ff00 148px,#2fff00 154px,#00ff05 156px,#00ffce 164px,#00fff4 166px,#00efff 168px,#00b2ff 174px,#0085ff 180px,#0031ff 194px,#000dff 204px,#00f 298px,#0008ff 326px,#001bff 348px,#002dff 350px,#0050ff 352px,#00e2ff 358px,#00ffe9 360px,#00ffa4 362px,#01ff00 366px,#4dff00 368px,#85ff00 370px,#a1ff00 372px,#96ff00 374px,#67ff00 376px,#20ff00 378px,#00ff32 380px,#00ff85 382px,#00ffcb 384px,#00fffa 386px,#0091ff 398px,#006fff 406px,#0070ff 451px,#0085ff 475px,#009aff 487px,#00beff 497px,#00f9ff 507px,#00fff2 509px,#0fc 511px,#0f9 513px,#00ff1e 517px,#23ff00 519px,#71ff00 521px,#e6ff00 525px,#fff900 527px,#f3ff00 529px,#8f0 533px,#0f0 537px,#00ffd5 543px,#00edff 545px,#08f 549px,#0042ff 553px,#0010ff 557px,#000aff 559px,#00f 697px)"></i>
<i style="background:linear-gradient(90deg,#00f 0,#0004ff 60px,#0020ff 68px,#0081ff 86px,#00b8ff 100px,#00faff 110px,#00ffeb 112px,#00ffbc 114px,#00ff0a 120px,#24ff00 122px,#89ff00 126px,#ebff00 130px,#ffe700 132px,#ffa600 136px,#ff9400 138px,#ff8e00 140px,#ff9c00 142px,#fb0 144px,#ffe900 146px,#deff00 148px,#2cff00 154px,#00ff05 156px,#00ffc3 164px,#00ffe9 166px,#00f9ff 168px,#00baff 174px,#0080ff 182px,#0030ff 196px,#000dff 206px,#00f 292px,#0008ff 324px,#001eff 348px,#03f 350px,#0057ff 352px,#00eaff 358px,#00ffe1 360px,#00ff9c 362px,#02ff00 366px,#49ff00 368px,#7dff00 370px,#95ff00 372px,#8f0 374px,#5aff00 376px,#15ff00 378px,#00ff3a 380px,#00ffcd 384px,#00fffa 386px,#00a2ff 396px,#0076ff 404px,#0070ff 443px,#007fff 465px,#009cff 485px,#00c5ff 497px,#00fffe 507px,#00ffe4 509px,#0fb 511px,#00ff0b 517px,#3bff00 519px,#8dff00 521px,#fffb00 525px,#ffde00 527px,#fff500 529px,#d0ff00 531px,#95ff00 533px,#06ff00 537px,#00ff43 539px,#00ffd5 543px,#00edff 545px,#008bff 549px,#0048ff 553px,#0016ff 557px,#000bff 559px,#00f 697px)"></i>
<i style="background:linear-gradient(90deg,#00f 0,#0005ff 58px,#02f 66px,#0080ff 84px,#00beff 100px,#00f1ff 108px,#00fffb 110px,#00ffd8 112px,#00ff30 118px,#02ff00 120px,#96ff00 126px,#f8ff00 130px,#ffb700 134px,#ff9c00 136px,#ff8d00 138px,#ff8b00 140px,#ff9c00 142px,#ffbf00 144px,#fe0 146px,#d9ff00 148px,#2aff00 154px,#00ff05 156px,#00ff8f 162px,#00ffdf 166px,#00fffd 168px,#00eaff 170px,#00b1ff 176px,#007bff 184px,#002eff 198px,#000dff 208px,#00f 298px,#000bff 328px,#0021ff 348px,#0039ff 350px,#005fff 352px,#00f2ff 358px,#00ffd8 360px,#03ff00 366px,#45ff00 368px,#75ff00 370px,#89ff00 372px,#7aff00 374px,#4cff00 376px,#0aff00 378px,#00ff42 380px,#00ffcf 384px,#00fffa 386px,#0095ff 398px,#0074ff 406px,#0074ff 445px,#0090ff 475px,#00b4ff 491px,#00f9ff 505px,#00fff4 507px,#00ffd4 509px,#00ffa6 511px,#00ff34 515px,#09ff00 517px,#a9ff00 521px,#e6ff00 523px,#ffe100 525px,#ffc700 527px,#ffe200 529px,#e0ff00 531px,#a1ff00 533px,#0aff00 537px,#00ff41 539px,#00ffd5 543px,#00edff 545px,#008dff 549px,#006cff 551px,#0032ff 555px,#000dff 559px,#00f 697px)"></i>
<i style="background:linear-gradient(90deg,#00f 0,#0005ff 56px,#02f 64px,#007eff 82px,#0bf 98px,#00faff 108px,#00ffec 110px,#00ffc3 112px,#00ff20 118px,#0eff00 120px,#a4ff00 126px,#fff800 130px,#ffac00 134px,#ff8600 138px,#f80 140px,#ff9d00 142px,#fff200 146px,#d5ff00 148px,#29ff00 154px,#00ff05 156px,#00ffd7 166px,#00fff5 168px,#00f1ff 170px,#00b8ff 176px,#0081ff 184px,#0035ff 198px,#01f 208px,#0005ff 236px,#00f 294px,#0008ff 322px,#001cff 346px,#0026ff 348px,#0041ff 350px,#0068ff 352px,#00faff 358px,#00ffd0 360px,#04ff00 366px,#41ff00 368px,#6cff00 370px,#7dff00 372px,#6cff00 374px,#3fff00 376px,#00ff01 378px,#00ff93 382px,#00ffd1 384px,#00fffa 386px,#0ef 388px,#00a6ff 396px,#007bff 404px,#0075ff 439px,#0083ff 459px,#00a0ff 481px,#00c3ff 493px,#00fffd 505px,#00ffe6 507px,#00ffc0 509px,#00ff1e 515px,#2f0 517px,#c4ff00 521px,#fffe00 523px,#ffc900 525px,#ffb300 527px,#ffd300 529px,#edff00 531px,#acff00 533px,#0dff00 537px,#00ff40 539px,#00ffd5 543px,#0ef 545px,#008fff 549px,#0052ff 553px,#0021ff 557px,#000aff 561px,#00f 697px)"></i>
<i style="background:linear-gradient(90deg,#00f 0,#0005ff 54px,#0020ff 62px,#007bff 80px,#00b7ff 96px,#00f3ff 106px,#00fffa 108px,#00ffda 110px,#00ff12 118px,#1bff00 120px,#b2ff00 126px,#e5ff00 128px,#ffea00 130px,#ffa000 134px,#ff8900 136px,#ff7f00 138px,#ff8600 140px,#ff9e00 142px,#fff500 146px,#d1ff00 148px,#28ff00 154px,#00ff05 156px,#00ffd0 166px,#00ffef 168px,#00f7ff 170px,#00beff 176px,#0087ff 184px,#03f 200px,#0010ff 210px,#0004ff 238px,#00f 292px,#0008ff 322px,#001eff 346px,#002bff 348px,#0048ff 350px,#00fffd 358px,#00ffc7 360px,#03ff00 366px,#3cff00 368px,#63ff00 370px,#70ff00 372px,#5eff00 374px,#31ff00 376px,#00ff0d 378px,#00ff98 382px,#00ffd3 384px,#00fffa 386px,#00efff 388px,#00a8ff 396px,#007eff 404px,#0078ff 437px,#0086ff 457px,#00a7ff 481px,#00caff 493px,#00fbff 503px,#00fff2 505px,#00ffd4 507px,#00ff78 511px,#00ff07 515px,#3fff00 517px,#93ff00 519px,#dbff00 521px,#ffe700 523px,#ffb500 525px,#ffa400 527px,#ffc700 529px,#f7ff00 531px,#b4ff00 533px,#0fff00 537px,#00ff3f 539px,#00ffd6 543px,#0ef 545px,#0092ff 549px,#0073ff 551px,#0026ff 557px,#000bff 561px,#00f 697px)"></i>
<i style="background:linear-gradient(90deg,#00f 0,#00f 48px,#0008ff 54px,#0026ff 62px,#007eff 80px,#00bcff 96px,#00fcff 106px,#00ffeb 108px,#00ffc6 110px,#00ff04 118px,#28ff00 120px,#c1ff00 126px,#f4ff00 128px,#ffdc00 130px,#ff9400 134px,#ff8000 136px,#ff7900 138px,#ff8400 140px,#ff9f00 142px,#fff900 146px,#27ff00 154px,#00ff05 156px,#00ffa7 164px,#00ffe9 168px,#00fcff 170px,#00c4ff 176px,#008dff 184px,#0030ff 202px,#000fff 212px,#00f 290px,#0008ff 320px,#0020ff 346px,#0031ff 348px,#0051ff 350px,#00dcff 356px,#00fff5 358px,#00ffbf 360px,#02ff00 366px,#37ff00 368px,#59ff00 370px,#63ff00 372px,#50ff00 374px,#24ff00 376px,#00ff18 378px,#00ff9d 382px,#00ffd5 384px,#00fffa 386px,#0af 396px,#0081ff 404px,#007cff 437px,#0089ff 455px,#0af 479px,#00caff 491px,#00fffb 503px,#00ffbf 507px,#00ff29 513px,#10ff00 515px,#afff00 519px,#efff00 521px,#ffd400 523px,#ffa500 525px,#f90 527px,#ffbf00 529px,#feff00 531px,#baff00 533px,#10ff00 537px,#00ff3f 539px,#00ffd6 543px,#0ef 545px,#0094ff 549px,#0041ff 555px,#0019ff 559px,#000aff 563px,#00f 697px)"></i>
<i style="background:linear-gradient(90deg,#00f 0,#0006ff 52px,#0021ff 60px,#0079ff 78px,#00b8ff 94px,#00f5ff 104px,#00fff6 106px,#00ffd9 108px,#0f2 116px,#09ff00 118px,#d4ff00 126px,#fff600 128px,#ffa100 132px,#ff8300 134px,#ff7200 136px,#ff6f00 138px,#ff7e00 140px,#ff9c00 142px,#fff800 146px,#28ff00 154px,#00ff03 156px,#00ffc6 166px,#00fffe 170px,#00ecff 172px,#00acff 180px,#007dff 188px,#002cff 204px,#000eff 214px,#00f 296px,#000bff 324px,#0024ff 346px,#0038ff 348px,#005cff 350px,#00e8ff 356px,#00ffea 358px,#03ff00 366px,#32ff00 368px,#50ff00 370px,#56ff00 372px,#40ff00 374px,#14ff00 376px,#00ff26 378px,#00ffa5 382px,#00ffda 384px,#00fffc 386px,#0ef 388px,#00abff 396px,#0083ff 404px,#007eff 432px,#008aff 451px,#00adff 477px,#00caff 489px,#0ff 501px,#00ffed 503px,#00ffa7 507px,#00ff10 513px,#2dff00 515px,#c7ff00 519px,#fffb00 521px,#ffc200 523px,#ff9700 525px,#ff9000 527px,#ffb900 529px,#fffb00 531px,#beff00 533px,#0eff00 537px,#00ff41 539px,#00ffd7 543px,#00efff 545px,#0097ff 549px,#005fff 553px,#001dff 559px,#000aff 563px,#00f 697px)"></i>
<i style="background:linear-gradient(90deg,#00f 0,#00f 46px,#0008ff 52px,#0024ff 60px,#00b4ff 92px,#00fffe 104px,#00ffc3 108px,#00ff12 116px,#18ff00 118px,#ebff00 126px,#ffdf00 128px,#ff8a00 132px,#ff6e00 134px,#ff6000 136px,#ff6200 138px,#ff7500 140px,#ff9500 142px,#fff500 146px,#d1ff00 148px,#5fff00 152px,#0f0 156px,#00ffc2 166px,#00fffa 170px,#00f0ff 172px,#00beff 178px,#008dff 186px,#0032ff 204px,#0010ff 214px,#0004ff 242px,#00f 294px,#0009ff 320px,#0021ff 344px,#0029ff 346px,#0042ff 348px,#0069ff 350px,#00f5ff 356px,#0fd 358px,#00ff30 364px,#06ff00 366px,#2fff00 368px,#47ff00 370px,#49ff00 372px,#30ff00 374px,#02ff00 376px,#00ffb1 382px,#00ffe2 384px,#00feff 386px,#009fff 398px,#0086ff 404px,#0081ff 408px,#0084ff 439px,#00a4ff 467px,#00c6ff 485px,#00fdff 499px,#00fff3 501px,#00ffb6 505px,#00ff29 511px,#0aff00 513px,#deff00 519px,#ffe800 521px,#ffb100 523px,#ff8b00 525px,#ff8900 527px,#ffb600 529px,#fff900 531px,#beff00 533px,#0bff00 537px,#00ff45 539px,#00ffd8 543px,#00efff 545px,#009aff 549px,#007cff 551px,#0021ff 559px,#000bff 563px,#00f 697px)"></i>
<i style="background:linear-gradient(90deg,#00f 0,#00f 44px,#000aff 52px,#0027ff 60px,#00afff 90px,#00fbff 102px,#00ffef 104px,#00ffd2 106px,#00ff03 116px,#5bff00 120px,#fffc00 126px,#ff9a00 130px,#ff7500 132px,#ff5c00 134px,#ff5000 136px,#ff5600 138px,#ff6c00 140px,#ff8f00 142px,#ffef00 146px,#d6ff00 148px,#64ff00 152px,#04ff00 156px,#00ff23 158px,#00ffbe 166px,#00fff7 170px,#00f3ff 172px,#00c2ff 178px,#0092ff 186px,#0037ff 204px,#0012ff 214px,#0006ff 234px,#00f 286px,#0008ff 318px,#0023ff 344px,#0030ff 346px,#004eff 348px,#00fffc 356px,#00ffce 358px,#00ff29 364px,#07ff00 366px,#2bff00 368px,#3eff00 370px,#3aff00 372px,#1eff00 374px,#0f1 376px,#00ffbf 382px,#00ffea 384px,#00faff 386px,#00b9ff 394px,#008eff 402px,#0085ff 406px,#0085ff 428px,#0090ff 447px,#00b6ff 475px,#00d3ff 487px,#00fcff 497px,#00fff6 499px,#00ffbf 503px,#00ff6c 507px,#00ff0d 511px,#29ff00 513px,#b5ff00 517px,#f1ff00 519px,#ffd600 521px,#ffa100 523px,#ff7f00 525px,#ff8300 527px,#ffb500 529px,#fff900 531px,#bf0 533px,#06ff00 537px,#00ff49 539px,#00ffd9 543px,#00f0ff 545px,#009eff 549px,#0080ff 551px,#0026ff 559px,#000dff 563px,#00f 697px)"></i>
<i style="background:linear-gradient(90deg,#00f 0,#00f 44px,#0008ff 50px,#002aff 60px,#0af 88px,#00f5ff 100px,#00fff7 102px,#00ffbe 106px,#00ff1c 114px,#0cff00 116px,#6dff00 120px,#dcff00 124px,#ffeb00 126px,#ff8b00 130px,#ff6800 132px,#ff5100 134px,#ff4800 136px,#ff5000 138px,#ff6700 140px,#ff8a00 142px,#ffeb00 146px,#dbff00 148px,#69ff00 152px,#08ff00 156px,#00ff1f 158px,#00ffba 166px,#00fff4 170px,#00f6ff 172px,#00c6ff 178px,#0097ff 186px,#0032ff 206px,#0010ff 216px,#00f 284px,#0009ff 318px,#0026ff 344px,#003aff 346px,#005cff 348px,#00e5ff 354px,#00fff0 356px,#00ff24 364px,#06ff00 366px,#25ff00 368px,#3f0 370px,#2aff00 372px,#0bff00 374px,#00ff25 376px,#0fc 382px,#00fff3 384px,#00f7ff 386px,#00b8ff 394px,#0090ff 402px,#0089ff 406px,#08f 426px,#0094ff 445px,#00baff 473px,#00d5ff 485px,#00fcff 495px,#00fff6 497px,#00ffc4 501px,#00ff78 505px,#00ff1e 509px,#1f0 511px,#ceff00 517px,#fffa00 519px,#ff9200 523px,#ff7500 525px,#ff8000 527px,#ffb700 529px,#fffc00 531px,#b5ff00 533px,#00ff01 537px,#0f9 541px,#00ffdb 543px,#00f0ff 545px,#00a1ff 549px,#0054ff 555px,#001aff 561px,#000aff 565px,#00f 697px)"></i>
<i style="background:linear-gradient(90deg,#00f 0,#00f 42px,#000aff 50px,#002dff 60px,#00a5ff 86px,#00d2ff 94px,#00fffe 100px,#00ffe8 102px,#00ffa9 106px,#00ff0c 114px,#1bff00 116px,#49ff00 118px,#e8ff00 124px,#ffe200 126px,#ff8900 130px,#ff6800 132px,#ff5200 134px,#ff4900 136px,#ff5100 138px,#ff6700 140px,#ff8900 142px,#ffe900 146px,#deff00 148px,#6eff00 152px,#0cff00 156px,#00ff1b 158px,#00ffb5 166px,#00fff0 170px,#00f9ff 172px,#00a5ff 184px,#0037ff 206px,#0012ff 216px,#0007ff 234px,#00f 286px,#0008ff 316px,#0024ff 342px,#002cff 344px,#0045ff 346px,#00f1ff 354px,#00ffe5 356px,#00ff24 364px,#02ff00 366px,#1cff00 368px,#26ff00 370px,#1aff00 372px,#00ff08 374px,#00ffd7 382px,#00fff9 384px,#00f3ff 386px,#00b8ff 394px,#0093ff 402px,#008dff 426px,#0098ff 443px,#00beff 471px,#00d8ff 483px,#00fdff 493px,#00fff5 495px,#00ffc6 499px,#00ff7e 503px,#01ff00 509px,#3f0 511px,#e6ff00 517px,#ffe600 519px,#ff8400 523px,#ff6d00 525px,#ff8100 527px,#fcff00 531px,#acff00 533px,#4dff00 535px,#00ff09 537px,#00ff9d 541px,#00ffdc 543px,#00f1ff 545px,#00a5ff 549px,#0070ff 553px,#002fff 559px,#000bff 565px,#00f 697px)"></i>
<i style="background:linear-gradient(90deg,#00f 0,#00f 42px,#000cff 50px,#0030ff 60px,#00a0ff 84px,#0cf 92px,#00f9ff 98px,#00fff1 100px,#00ffb7 104px,#00ff1f 112px,#05ff00 114px,#5aff00 118px,#efff00 124px,#ffe000 126px,#ff8e00 130px,#ff7000 132px,#ff5200 136px,#ff5700 138px,#ff6b00 140px,#ff8b00 142px,#ffe700 146px,#e2ff00 148px,#73ff00 152px,#12ff00 156px,#00ff15 158px,#00ffb0 166px,#00ffed 170px,#00fcff 172px,#00cdff 178px,#009fff 186px,#03f 208px,#0010ff 218px,#00f 288px,#000aff 318px,#0027ff 342px,#0034ff 344px,#0051ff 346px,#00faff 354px,#0fd 356px,#00ff52 362px,#00ff05 366px,#18ff00 370px,#09ff00 372px,#00ff1a 374px,#00ffb4 380px,#00ffe0 382px,#00fffd 384px,#00c5ff 392px,#00a4ff 398px,#0096ff 402px,#0091ff 408px,#0093ff 430px,#00a6ff 449px,#00cdff 475px,#0ff 491px,#00fff3 493px,#00ffc4 497px,#00ff81 501px,#00ff0a 507px,#2f0 509px,#fbff00 517px,#ffd200 519px,#ff7800 523px,#ff6900 525px,#ff8600 527px,#f4ff00 531px,#42ff00 535px,#0f1 537px,#00ffa1 541px,#00ffde 543px,#00f1ff 545px,#00a8ff 549px,#0074ff 553px,#02f 561px,#000cff 565px,#00f 697px)"></i>
<i style="background:linear-gradient(90deg,#00f 0,#00f 40px,#0009ff 48px,#002bff 58px,#009aff 82px,#00c7ff 90px,#00f3ff 96px,#00fff9 98px,#00ffc3 102px,#00ff0c 112px,#17ff00 114px,#3eff00 116px,#f1ff00 124px,#ffe200 126px,#f90 130px,#ff7e00 132px,#ff6100 136px,#ff6200 138px,#ff7300 140px,#ff9000 142px,#ffe600 146px,#e4ff00 148px,#18ff00 156px,#00ff0f 158px,#0fa 166px,#00fffe 172px,#00adff 184px,#002fff 210px,#0013ff 218px,#0007ff 234px,#00f 284px,#0009ff 316px,#002bff 342px,#003dff 344px,#005cff 346px,#00feff 354px,#00ff30 364px,#0f1 366px,#03ff00 368px,#08ff00 370px,#00ff08 372px,#00ff2a 374px,#00ffbc 380px,#00ffe5 382px,#0ff 384px,#00b0ff 396px,#009aff 402px,#0096ff 406px,#0097ff 426px,#00a4ff 441px,#00ceff 471px,#00f9ff 487px,#0fe 491px,#00ffc0 495px,#00ff80 499px,#00ff10 505px,#17ff00 507px,#e2ff00 515px,#ffef00 517px,#ff8f00 521px,#ff6f00 523px,#ff6800 525px,#ff8f00 527px,#ffd000 529px,#e9ff00 531px,#36ff00 535px,#00ff19 537px,#00ffa5 541px,#00ffdf 543px,#00f2ff 545px,#0090ff 551px,#004dff 557px,#0018ff 563px,#000aff 567px,#00f 697px)"></i>
<i style="background:linear-gradient(90deg,#00f 0,#00f 40px,#000cff 48px,#002eff 58px,#009fff 82px,#00cfff 90px,#00feff 96px,#00ffcf 100px,#04ff00 112px,#4cff00 116px,#f0ff00 124px,#ffe800 126px,#ff8e00 132px,#ff7200 136px,#ff7100 138px,#ff7e00 140px,#ff9800 142px,#ffe800 146px,#e5ff00 148px,#4bff00 154px,#1dff00 156px,#00ff09 158px,#00ffc6 168px,#00fffb 172px,#00f2ff 174px,#00a6ff 186px,#0034ff 210px,#01f 220px,#00f 286px,#0009ff 314px,#0029ff 340px,#0032ff 342px,#0048ff 344px,#0ff 354px,#00ff3e 364px,#00ff0e 368px,#00ff0a 370px,#00ff19 372px,#00ff38 374px,#00ffc0 380px,#00ffe6 382px,#0ff 384px,#00b4ff 396px,#009dff 406px,#00a9ff 437px,#00d4ff 469px,#00fdff 485px,#00ffe7 489px,#00ffb9 493px,#00ff12 503px,#13ff00 505px,#fbff00 515px,#ffd800 517px,#ff8100 521px,#ff6900 523px,#ff7000 525px,#ff9e00 527px,#ffe000 529px,#daff00 531px,#2aff00 535px,#00ff21 537px,#00ffa8 541px,#00ffe0 543px,#00f3ff 545px,#0094ff 551px,#0052ff 557px,#001bff 563px,#000bff 567px,#00f 697px)"></i>
<i style="background:linear-gradient(90deg,#00f 0,#0001ff 40px,#000eff 48px,#0032ff 58px,#09f 80px,#00c9ff 88px,#00f8ff 94px,#00fff3 96px,#00ffbc 100px,#00ff0f 110px,#10ff00 112px,#ebff00 124px,#fff100 126px,#ff9f00 132px,#ff8400 136px,#ff8100 138px,#ff8b00 140px,#ffa100 142px,#ffeb00 146px,#e4ff00 148px,#4fff00 154px,#00ff05 158px,#00ffc1 168px,#00fff7 172px,#00f5ff 174px,#00a9ff 186px,#002fff 212px,#0013ff 220px,#0007ff 236px,#00f 286px,#000cff 316px,#002fff 340px,#0054ff 344px,#00fbff 354px,#00ffe3 356px,#00ff52 364px,#00ff25 368px,#00ff1f 370px,#00ff2a 372px,#00ff45 374px,#00ffbe 380px,#00fffb 384px,#00bdff 396px,#00a8ff 406px,#00b2ff 432px,#0df 467px,#00fdff 481px,#00ffeb 485px,#00ffc2 489px,#00ff8a 493px,#00ff07 501px,#1bff00 503px,#f5ff00 513px,#ffe100 515px,#ff8d00 519px,#ff7200 521px,#ff6b00 523px,#f80 525px,#fffa00 529px,#c0ff00 531px,#1aff00 535px,#00ff2b 537px,#0fa 541px,#00ffdf 543px,#00f5ff 545px,#00b4ff 549px,#0083ff 553px,#0030ff 561px,#000cff 567px,#00f 697px)"></i>
<i style="background:linear-gradient(90deg,#00f 0,#00f 38px,#01f 48px,#0036ff 58px,#0094ff 78px,#00fffb 94px,#00ffab 100px,#00ff07 110px,#16ff00 112px,#e4ff00 124px,#fffa00 126px,#ffae00 132px,#ff9400 136px,#ff9000 138px,#ff9800 140px,#ffac00 142px,#fff100 146px,#e0ff00 148px,#50ff00 154px,#00ff02 158px,#0fb 168px,#00fff3 172px,#00f8ff 174px,#00cdff 180px,#00a1ff 188px,#0032ff 212px,#01f 222px,#0006ff 242px,#00f 288px,#000cff 314px,#002fff 338px,#0038ff 340px,#0061ff 344px,#00f6ff 354px,#00ffec 356px,#00ff87 362px,#00ff4f 366px,#00ff37 370px,#00ff3e 372px,#00ff53 374px,#00ffdc 382px,#00fff6 384px,#00faff 386px,#00d0ff 394px,#0bf 400px,#00b5ff 414px,#00e1ff 461px,#0ff 477px,#00ffea 481px,#00ffc3 485px,#00ff90 489px,#00ff16 497px,#09ff00 499px,#f8ff00 511px,#ffe100 513px,#ff9400 517px,#ff7900 519px,#ff7000 521px,#ff8300 523px,#ffe100 527px,#e7ff00 529px,#0aff00 535px,#00ff35 537px,#00ffac 541px,#00ffde 543px,#00f8ff 545px,#00b9ff 549px,#0089ff 553px,#0036ff 561px,#000dff 567px,#00f 697px)"></i>
<i style="background:linear-gradient(90deg,#00f 0,#00f 36px,#000fff 46px,#0032ff 56px,#008fff 76px,#00bfff 84px,#00fdff 92px,#0fb 98px,#00ff05 110px,#35ff00 114px,#fbff00 126px,#ffb900 132px,#ffa000 136px,#ff9c00 138px,#ffa300 140px,#ffb600 142px,#fff900 146px,#daff00 148px,#24ff00 156px,#00ff01 158px,#00ffb6 168px,#0fe 172px,#00fcff 174px,#00cfff 180px,#00a2ff 188px,#0035ff 212px,#0013ff 222px,#0007ff 238px,#00f 286px,#000dff 314px,#0035ff 338px,#006aff 344px,#0ef 354px,#00fff6 356px,#00ff6a 366px,#00ff51 370px,#0f5 372px,#00ff65 374px,#00ffd9 382px,#00feff 386px,#00d1ff 396px,#00c2ff 404px,#00c7ff 422px,#00fdff 471px,#00fff3 475px,#00ffc1 481px,#00ff76 487px,#00ff04 495px,#3eff00 499px,#fcff00 509px,#ffe000 511px,#ff9800 515px,#ff7f00 517px,#ff7600 519px,#ff8200 521px,#ffa300 523px,#fffe00 527px,#c8ff00 529px,#3aff00 533px,#00ff06 535px,#00ffae 541px,#0fd 543px,#00faff 545px,#00a5ff 551px,#003cff 561px,#001aff 565px,#000aff 569px,#00f 697px)"></i>
<i style="background:linear-gradient(90deg,#00f 0,#00f 34px,#000eff 44px,#0030ff 54px,#008cff 74px,#00bcff 82px,#00f8ff 90px,#00fff4 92px,#00ffc7 96px,#00ff05 110px,#3f0 114px,#f4ff00 126px,#fe0 128px,#ffb200 134px,#ffa600 138px,#ffc100 142px,#fcff00 146px,#4cff00 154px,#00ff02 158px,#00ffb1 168px,#00fffe 174px,#00c4ff 182px,#09f 190px,#0037ff 212px,#0015ff 222px,#000aff 230px,#0001ff 272px,#0007ff 306px,#0032ff 336px,#0058ff 342px,#00fdff 356px,#00ff83 366px,#00ff6b 370px,#00ff79 374px,#00ffd9 382px,#00fffd 386px,#00d7ff 396px,#00caff 404px,#00ceff 418px,#0ff 467px,#0fe 471px,#00ffbe 477px,#00ff10 491px,#0aff00 493px,#28ff00 495px,#fcff00 507px,#ffe200 509px,#ff9f00 513px,#ff8600 515px,#ff7a00 517px,#ff8000 519px,#ff9a00 521px,#ffea00 525px,#e7ff00 527px,#24ff00 533px,#00ff16 535px,#00ffb2 541px,#00fcff 545px,#00a9ff 551px,#0040ff 561px,#001cff 565px,#000bff 569px,#00f 697px)"></i>
<i style="background:linear-gradient(90deg,#00f 0,#0001ff 34px,#0013ff 44px,#0038ff 54px,#008bff 72px,#00f5ff 88px,#00fff9 90px,#00ffd1 94px,#00ff05 110px,#31ff00 114px,#efff00 126px,#fff400 128px,#ffba00 134px,#ffaf00 138px,#fc0 142px,#ffe800 144px,#f2ff00 146px,#48ff00 154px,#00ff02 158px,#00ffca 170px,#00fffa 174px,#00f2ff 176px,#00baff 184px,#0090ff 192px,#0038ff 212px,#0013ff 224px,#0007ff 242px,#00f 288px,#000cff 312px,#03f 336px,#0058ff 342px,#00f1ff 356px,#00fff5 358px,#00ff9a 366px,#00ff85 370px,#00ff8f 374px,#00fffe 386px,#00d7ff 396px,#0cf 404px,#00d1ff 416px,#00feff 461px,#00fff3 465px,#0fc 471px,#00ff7e 479px,#00ff08 489px,#10ff00 491px,#f5ff00 505px,#ffec00 507px,#ff9000 513px,#ff7e00 515px,#ff7a00 517px,#ff8b00 519px,#fa0 521px,#fffd00 525px,#cfff00 527px,#0dff00 533px,#00ff27 535px,#00ffb7 541px,#00fcff 545px,#00a9ff 551px,#0040ff 561px,#001dff 565px,#000bff 569px,#00f 697px)"></i>
<i style="background:linear-gradient(90deg,#00f 0,#0001ff 32px,#0013ff 42px,#008bff 70px,#00fffd 88px,#00ffad 96px,#00ff05 110px,#30ff00 114px,#ebff00 126px,#fff900 128px,#ffce00 132px,#ffb900 136px,#ffc200 140px,#fff300 144px,#e8ff00 146px,#45ff00 154px,#00ff03 158px,#00ffc5 170px,#00fff6 174px,#00f6ff 176px,#00bcff 184px,#0090ff 192px,#003aff 212px,#0015ff 224px,#0008ff 238px,#00f 288px,#000dff 312px,#03f 336px,#0056ff 342px,#00f9ff 358px,#00ffef 360px,#00ffb4 366px,#00ffa1 370px,#00ffa9 374px,#00fff8 384px,#00fcff 386px,#00d2ff 396px,#0cf 404px,#0ff 455px,#00ffeb 461px,#00ffc6 467px,#00ff82 475px,#00ff06 487px,#10ff00 489px,#fffb00 505px,#ff9b00 511px,#ff7400 515px,#f70 517px,#ff8e00 519px,#ffe000 523px,#f0ff00 525px,#b4ff00 527px,#28ff00 531px,#00ff10 533px,#00ff72 537px,#00ffc6 541px,#00ffeb 543px,#00f4ff 545px,#00a7ff 551px,#0041ff 561px,#001dff 565px,#000bff 569px,#00f 697px)"></i>
<i style="background:linear-gradient(90deg,#00f 0,#0001ff 30px,#0013ff 40px,#008aff 68px,#00b8ff 76px,#00feff 86px,#00ffb8 94px,#00ff04 110px,#2eff00 114px,#e7ff00 126px,#fffd00 128px,#ffd400 132px,#ffc000 136px,#ffcd00 140px,#fffe00 144px,#41ff00 154px,#00ff03 158px,#00ffbf 170px,#00fff1 174px,#00faff 176px,#00beff 184px,#0087ff 194px,#003cff 212px,#0017ff 224px,#0009ff 236px,#00f 288px,#000fff 314px,#003aff 338px,#0065ff 344px,#00fcff 360px,#00ffcd 366px,#00ffbc 370px,#00ffc3 374px,#00fdff 384px,#00cfff 394px,#0cf 400px,#00fffe 449px,#00ffeb 455px,#00ffbf 463px,#00ff73 473px,#00ff04 485px,#10ff00 487px,#43ff00 491px,#f5ff00 503px,#ffec00 505px,#ff8a00 511px,#ff7300 513px,#ff6900 515px,#ff7300 517px,#ff9200 519px,#ffef00 523px,#d9ff00 525px,#4f0 529px,#03ff00 531px,#00ffb2 539px,#00fff6 543px,#00ecff 545px,#00a5ff 551px,#002eff 563px,#000bff 569px,#00f 697px)"></i>
<i style="background:linear-gradient(90deg,#00f 0,#0001ff 28px,#0013ff 38px,#0089ff 66px,#00f9ff 84px,#00fff6 86px,#00ffaf 94px,#00ff04 110px,#2dff00 114px,#e3ff00 126px,#fdff00 128px,#ffda00 132px,#ffc900 136px,#ffd800 140px,#f6ff00 144px,#3eff00 154px,#00ff04 158px,#00ffb9 170px,#0ff 176px,#00c1ff 184px,#0087ff 194px,#003dff 212px,#0019ff 224px,#000aff 234px,#00f 284px,#000dff 312px,#0039ff 338px,#0061ff 344px,#00fffe 362px,#00ffdf 366px,#00ffcf 370px,#00ffd5 374px,#00fdff 382px,#00cdff 392px,#0cf 398px,#0ff 443px,#00ffe4 451px,#00ffae 461px,#00ff65 471px,#01ff00 483px,#45ff00 489px,#ef0 501px,#fff500 503px,#ff7b00 511px,#ff6a00 513px,#ff6800 515px,#ff7b00 517px,#fbff00 523px,#baff00 525px,#1fff00 529px,#00ff18 531px,#00ff71 535px,#00ffbc 539px,#00fff9 543px,#00eaff 545px,#00a5ff 551px,#002eff 563px,#000bff 569px,#00f 697px)"></i>
<i style="background:linear-gradient(90deg,#00f 0,#00f 26px,#0017ff 38px,#0091ff 66px,#00fffd 84px,#00ffa8 94px,#00ff04 110px,#2cff00 114px,#deff00 126px,#f7ff00 128px,#fff200 130px,#ffd600 134px,#ffd200 136px,#ffd600 138px,#fff700 142px,#ecff00 144px,#cf0 146px,#3aff00 154px,#00ff04 158px,#00ffcd 172px,#00fff9 176px,#00f3ff 178px,#00b6ff 186px,#0087ff 194px,#003eff 212px,#001bff 224px,#000aff 236px,#00f 288px,#000fff 314px,#0038ff 338px,#005dff 344px,#00fff9 364px,#0fd 370px,#00ffe3 374px,#00faff 380px,#00cdff 388px,#00c6ff 394px,#00cdff 404px,#00feff 437px,#00ffe6 445px,#00ffb5 455px,#00ff65 467px,#00ff05 479px,#0dff00 481px,#53ff00 487px,#f4ff00 499px,#fff200 501px,#ff8d00 509px,#ff7600 513px,#ff7f00 515px,#f90 517px,#ffec00 521px,#e0ff00 523px,#46ff00 527px,#04ff00 529px,#00ff2b 531px,#00ff7c 535px,#00ffc0 539px,#00fffa 543px,#00eaff 545px,#00a5ff 551px,#0031ff 563px,#000cff 569px,#00f 697px)"></i>
<i style="background:linear-gradient(90deg,#00f 0,#0001ff 26px,#0014ff 36px,#008cff 64px,#00f8ff 82px,#00fff8 84px,#00ffb6 92px,#00ff04 110px,#2bff00 114px,#d7ff00 126px,#fffa00 130px,#ffe000 134px,#ffdc00 136px,#ffe000 138px,#fcff00 142px,#c3ff00 146px,#18ff00 156px,#00ff04 158px,#00ffc6 172px,#00fff3 176px,#00f9ff 178px,#00b9ff 186px,#0087ff 194px,#0047ff 210px,#001cff 224px,#000bff 236px,#00f 288px,#000eff 314px,#0035ff 338px,#0059ff 344px,#00fcff 364px,#00ffe7 370px,#00fffc 376px,#00c1ff 386px,#00b9ff 392px,#00fcff 430px,#00ffe8 439px,#00ffae 451px,#00ff62 463px,#00ff06 475px,#0bff00 477px,#37ff00 481px,#d6ff00 493px,#ff0 497px,#ffb300 505px,#ff9400 511px,#ff9700 513px,#ffa700 515px,#ffe200 519px,#f8ff00 521px,#bfff00 523px,#27ff00 527px,#00ff0f 529px,#00ff61 533px,#00ffc2 539px,#00fffa 543px,#00eaff 545px,#0090ff 553px,#0035ff 563px,#0018ff 567px,#000aff 571px,#00f 697px)"></i>
<i style="background:linear-gradient(90deg,#00f 0,#0001ff 26px,#0014ff 36px,#008eff 64px,#00fbff 82px,#00ffb3 92px,#00ff03 110px,#2aff00 114px,#cfff00 126px,#f9ff00 130px,#ffe900 136px,#fff900 140px,#d9ff00 144px,#36ff00 154px,#00ff03 158px,#00ffd4 174px,#00fffe 178px,#00efff 180px,#00aeff 188px,#007eff 196px,#0041ff 212px,#001aff 226px,#000aff 238px,#00f 290px,#000dff 314px,#0032ff 338px,#05f 344px,#00fffd 366px,#00fff1 370px,#00feff 374px,#00b4ff 384px,#0af 388px,#00b5ff 396px,#0ff 426px,#00ffda 437px,#00ffa8 447px,#00ff5e 459px,#00ff06 471px,#0bff00 473px,#38ff00 477px,#beff00 487px,#f9ff00 493px,#ffc600 503px,#ffb400 509px,#ffbe00 513px,#fffd00 519px,#deff00 521px,#0fff00 527px,#00ff1e 529px,#00ff69 533px,#00ffc5 539px,#00fffa 543px,#00eaff 545px,#0090ff 553px,#004aff 561px,#001eff 567px,#000dff 571px,#00f 697px)"></i>
<i style="background:linear-gradient(90deg,#00f 0,#0001ff 26px,#0015ff 36px,#0091ff 64px,#00fdff 82px,#00ffaf 92px,#0f0 110px,#c4ff00 126px,#f8ff00 132px,#fffc00 138px,#f7ff00 140px,#b4ff00 146px,#01ff00 158px,#00ffc8 174px,#00f9ff 180px,#00a6ff 190px,#0081ff 196px,#004aff 210px,#0021ff 224px,#000aff 240px,#00f 288px,#000cff 314px,#002fff 338px,#0043ff 342px,#09f 354px,#00edff 364px,#00fffe 368px,#00fbff 372px,#00a7ff 382px,#009dff 386px,#00a7ff 392px,#0ff 422px,#00ffa5 443px,#00ff5d 455px,#00ff06 467px,#0bff00 469px,#d4ff00 485px,#feff00 491px,#ffd500 501px,#ffca00 507px,#ffcf00 511px,#fff900 517px,#f0ff00 519px,#c0ff00 521px,#3f0 525px,#00ff04 527px,#00ff4f 531px,#00ffab 537px,#00fffa 543px,#00ebff 545px,#008fff 553px,#004dff 561px,#02f 567px,#000bff 573px,#00f 697px)"></i>
<i style="background:linear-gradient(90deg,#00f 0,#0001ff 26px,#0015ff 36px,#0092ff 64px,#0ff 82px,#00ffbd 90px,#05ff00 110px,#b8ff00 126px,#daff00 130px,#efff00 134px,#f0ff00 138px,#e8ff00 140px,#adff00 146px,#07ff00 158px,#00ff10 160px,#00ffce 176px,#00fff7 180px,#00f5ff 182px,#00a1ff 192px,#007dff 198px,#0047ff 212px,#001fff 226px,#000bff 240px,#00f 290px,#000dff 316px,#002dff 338px,#0040ff 342px,#0093ff 354px,#00e4ff 364px,#00f5ff 368px,#00f5ff 370px,#00e8ff 372px,#0092ff 382px,#009bff 388px,#00fcff 418px,#00ffa6 439px,#00ff5d 451px,#00ff07 463px,#09ff00 465px,#ceff00 481px,#f9ff00 487px,#ffd800 499px,#ffd000 505px,#ffd500 509px,#fff700 515px,#f7ff00 517px,#d7ff00 519px,#19ff00 525px,#00ff12 527px,#00ff58 531px,#00ffae 537px,#00fffa 543px,#00ebff 545px,#007eff 555px,#0031ff 565px,#000cff 573px,#00f 697px)"></i>
<i style="background:linear-gradient(90deg,#00f 0,#0001ff 26px,#0016ff 36px,#0094ff 64px,#00fffd 82px,#00ffb9 90px,#00ff07 108px,#0aff00 110px,#af0 126px,#daff00 134px,#d7ff00 140px,#a4ff00 146px,#0dff00 158px,#00ff08 160px,#00ffd3 178px,#00fffa 182px,#00f2ff 184px,#00adff 192px,#0084ff 198px,#004cff 212px,#02f 226px,#000bff 242px,#00f 290px,#000dff 316px,#002bff 338px,#004bff 344px,#008eff 354px,#00cfff 362px,#00e5ff 366px,#00e2ff 370px,#0091ff 378px,#0089ff 380px,#0096ff 386px,#0ff 416px,#00ff9c 437px,#00ff07 459px,#09ff00 461px,#c7ff00 477px,#f5ff00 483px,#fff900 487px,#ffdf00 495px,#ffd400 503px,#ffda00 507px,#fff700 513px,#faff00 515px,#e3ff00 517px,#b4ff00 519px,#39ff00 523px,#06ff00 525px,#00ff1e 527px,#00ffb0 537px,#00fffa 543px,#00ebff 545px,#008fff 553px,#0050ff 561px,#001dff 569px,#000bff 575px,#00f 697px)"></i>
<i style="background:linear-gradient(90deg,#00f 0,#0001ff 26px,#0010ff 34px,#0095ff 64px,#00fffc 82px,#00ffc8 88px,#00ff01 108px,#9dff00 126px,#c6ff00 134px,#c5ff00 140px,#9bff00 146px,#00ff01 160px,#00ffea 182px,#00fffc 184px,#00f0ff 186px,#0af 194px,#0082ff 200px,#004aff 214px,#0021ff 228px,#000aff 244px,#00f 290px,#000bff 314px,#0025ff 336px,#003fff 342px,#008cff 354px,#00caff 362px,#00daff 366px,#00d8ff 368px,#00a5ff 374px,#007fff 376px,#0081ff 378px,#00fffe 414px,#00ff95 434px,#00ff09 455px,#07ff00 457px,#bfff00 473px,#f0ff00 479px,#fffe00 483px,#ffe300 491px,#ffd600 499px,#fd0 505px,#fff600 511px,#fcff00 513px,#ecff00 515px,#c7ff00 517px,#2f0 523px,#00ff07 525px,#00ff64 531px,#00ffb2 537px,#00fffa 543px,#00ebff 545px,#007dff 555px,#002aff 567px,#000cff 575px,#00f 697px)"></i>
<i style="background:linear-gradient(90deg,#00f 0,#0001ff 26px,#0010ff 34px,#0096ff 64px,#00f5ff 80px,#00fffa 82px,#00ffd8 86px,#00ff31 102px,#04ff00 108px,#90ff00 126px,#b4ff00 134px,#b8ff00 138px,#acff00 142px,#80ff00 148px,#06ff00 160px,#00ff1f 164px,#0ff 186px,#00a7ff 196px,#007fff 202px,#002aff 226px,#000bff 244px,#00f 286px,#0007ff 310px,#0020ff 334px,#0040ff 342px,#007dff 352px,#00b9ff 360px,#00cbff 364px,#00cbff 366px,#00a2ff 372px,#0076ff 374px,#0082ff 380px,#00fffe 412px,#00ff90 432px,#00ff01 453px,#24ff00 457px,#b3ff00 469px,#dbff00 473px,#f4ff00 477px,#fffa00 481px,#ffe100 489px,#ffd500 497px,#ffdc00 503px,#ff0 511px,#f3ff00 513px,#d8ff00 515px,#0fff00 523px,#00ff14 525px,#00ff6b 531px,#00ffb5 537px,#00fffb 543px,#00ebff 545px,#007dff 555px,#002aff 567px,#000cff 575px,#00f 697px)"></i>
<i style="background:linear-gradient(90deg,#00f 0,#0001ff 26px,#0010ff 34px,#0097ff 64px,#00f7ff 80px,#00fff9 82px,#00ffd6 86px,#00ff3e 100px,#00ff07 106px,#07ff00 108px,#85ff00 126px,#a5ff00 134px,#a9ff00 138px,#a0ff00 142px,#7aff00 148px,#0bff00 160px,#00ff06 162px,#00ffdf 184px,#00fbff 188px,#00a3ff 198px,#007dff 204px,#0027ff 228px,#000cff 244px,#00f 288px,#0008ff 312px,#001fff 334px,#0036ff 340px,#00bcff 362px,#00b4ff 366px,#009aff 370px,#006cff 372px,#006fff 374px,#00fffe 410px,#00ff9a 428px,#04ff00 451px,#bf0 467px,#e0ff00 471px,#f8ff00 475px,#fffe00 477px,#ffd900 487px,#ffce00 495px,#ffd700 501px,#fffa00 509px,#e6ff00 513px,#c1ff00 515px,#28ff00 521px,#0f0 523px,#00ff72 531px,#00fffd 543px,#007dff 555px,#002aff 567px,#000cff 575px,#00f 697px)"></i>
<i style="background:linear-gradient(90deg,#00f 0,#0001ff 26px,#0010ff 34px,#0098ff 64px,#00f8ff 80px,#00fff7 82px,#00ffd4 86px,#00ff3a 100px,#00ff04 106px,#7dff00 126px,#9aff00 134px,#96ff00 142px,#74ff00 148px,#00ff02 162px,#00ffe7 186px,#00f4ff 190px,#00adff 198px,#0083ff 204px,#004aff 218px,#0025ff 230px,#000bff 246px,#00f 290px,#0008ff 312px,#001fff 334px,#0038ff 340px,#00adff 360px,#00a9ff 364px,#0093ff 368px,#0063ff 370px,#06f 372px,#0ff 408px,#0f9 426px,#00ff08 447px,#08ff00 449px,#c0ff00 465px,#e5ff00 469px,#fcff00 473px,#ffd600 483px,#ffc500 491px,#ffcf00 499px,#fff300 507px,#ff0 509px,#f1ff00 511px,#d4ff00 513px,#15ff00 521px,#00ff0d 523px,#00ff79 531px,#00fdff 543px,#00a2ff 551px,#007dff 555px,#002aff 567px,#000cff 575px,#00f 697px)"></i>
<i style="background:linear-gradient(90deg,#00f 0,#0001ff 26px,#01f 34px,#09f 64px,#00f9ff 80px,#00fff6 82px,#00ffd2 86px,#00ff38 100px,#00ff04 106px,#79ff00 126px,#94ff00 134px,#91ff00 142px,#71ff00 148px,#0f0 162px,#00fbff 190px,#00a5ff 200px,#007dff 206px,#0026ff 230px,#000bff 246px,#00f 288px,#0007ff 310px,#001bff 332px,#003aff 340px,#0097ff 356px,#00a1ff 360px,#008dff 366px,#005aff 368px,#005dff 370px,#00fcff 406px,#00ffa6 422px,#00ff07 445px,#0bff00 447px,#c4ff00 463px,#e8ff00 467px,#fffe00 471px,#ffce00 481px,#ffbc00 489px,#ffc700 497px,#fff800 507px,#f8ff00 509px,#e4ff00 511px,#c0ff00 513px,#2eff00 519px,#06ff00 521px,#00ff19 523px,#00ff81 531px,#00f9ff 543px,#007dff 555px,#002aff 567px,#000cff 575px,#00f 697px)"></i>
<i style="background:linear-gradient(90deg,#00f 0,#0001ff 26px,#01f 34px,#009aff 64px,#00faff 80px,#00ffd0 86px,#00ff37 100px,#00ff04 106px,#76ff00 126px,#90ff00 134px,#8dff00 142px,#61ff00 150px,#02ff00 162px,#00ff40 170px,#00fffd 190px,#00f1ff 192px,#00abff 200px,#0081ff 206px,#0047ff 220px,#02f 232px,#000bff 246px,#00f 290px,#0008ff 312px,#001bff 332px,#0059ff 346px,#08f 354px,#0093ff 358px,#08f 364px,#0052ff 366px,#0054ff 368px,#0068ff 374px,#00fffd 406px,#00ff8f 424px,#00ff06 443px,#0bff00 445px,#c7ff00 461px,#f7ff00 467px,#fffc00 469px,#ffc400 481px,#ffb800 489px,#ffc900 497px,#fffe00 507px,#f1ff00 509px,#d6ff00 511px,#1dff00 519px,#00ff06 521px,#00ff87 531px,#00fff2 541px,#00f6ff 543px,#007dff 555px,#002bff 567px,#000cff 575px,#00f 697px)"></i>
<i style="background:linear-gradient(90deg,#00f 0,#0001ff 26px,#01f 34px,#009cff 64px,#00fcff 80px,#00ffcf 86px,#00ff37 100px,#00ff04 106px,#73ff00 126px,#8cff00 134px,#89ff00 142px,#5fff00 150px,#03ff00 162px,#00ff3d 170px,#00fff7 190px,#00f7ff 192px,#0085ff 206px,#0049ff 220px,#02f 232px,#000bff 246px,#00f 290px,#0017ff 330px,#0029ff 336px,#0079ff 352px,#0085ff 356px,#0081ff 362px,#004bff 364px,#0050ff 368px,#00b2ff 390px,#00faff 404px,#00ffae 418px,#00ff08 441px,#0aff00 443px,#c9ff00 459px,#ebff00 463px,#fffc00 467px,#ffc800 479px,#fb0 487px,#ffc900 495px,#fff800 505px,#e7ff00 509px,#c6ff00 511px,#0eff00 519px,#0f1 521px,#00ff8d 531px,#00fff5 541px,#00f4ff 543px,#007dff 555px,#002bff 567px,#000cff 575px,#00f 697px)"></i>
<i style="background:linear-gradient(90deg,#00f 0,#0001ff 26px,#01f 34px,#009dff 64px,#00fdff 80px,#00ffcd 86px,#00ff36 100px,#00ff04 106px,#70ff00 126px,#8f0 134px,#86ff00 142px,#5dff00 150px,#05ff00 162px,#00ff39 170px,#00fcff 192px,#00a7ff 202px,#007fff 208px,#0023ff 232px,#000bff 246px,#00f 288px,#0016ff 330px,#0078ff 354px,#0079ff 360px,#006aff 362px,#0045ff 364px,#0048ff 366px,#005cff 372px,#00a7ff 388px,#00fcff 404px,#0f9 420px,#00ff0a 439px,#08ff00 441px,#c9ff00 457px,#eaff00 461px,#feff00 465px,#ffd200 477px,#ffc500 485px,#ffcd00 493px,#fff600 503px,#fdff00 505px,#dbff00 509px,#b5ff00 511px,#28ff00 517px,#02ff00 519px,#00ff92 531px,#00fff7 541px,#00f2ff 543px,#007dff 555px,#002bff 567px,#000cff 575px,#00f 697px)"></i>
<i style="background:linear-gradient(90deg,#00f 0,#0001ff 26px,#0012ff 34px,#009eff 64px,#00feff 80px,#0fc 86px,#00ff35 100px,#00ff04 106px,#6dff00 126px,#85ff00 134px,#83ff00 142px,#5cff00 150px,#06ff00 162px,#00ff36 170px,#00fffc 192px,#00f1ff 194px,#0082ff 208px,#0046ff 222px,#001fff 234px,#000bff 246px,#00f 290px,#0016ff 330px,#006dff 354px,#0069ff 360px,#003eff 362px,#04f 366px,#00a5ff 388px,#0ff 404px,#00ff91 420px,#05ff00 439px,#c7ff00 455px,#e8ff00 459px,#f9ff00 463px,#ffd800 477px,#ffcf00 485px,#ffd900 493px,#fffe00 503px,#e9ff00 507px,#cdff00 509px,#19ff00 517px,#00ff08 519px,#0f5 525px,#00ff96 531px,#00fffa 541px,#00f0ff 543px,#007dff 555px,#002bff 567px,#000cff 575px,#00f 697px)"></i>
<i style="background:linear-gradient(90deg,#00f 0,#0001ff 26px,#0012ff 34px,#009fff 64px,#0ff 80px,#00ffca 86px,#00ff34 100px,#00ff03 106px,#6bff00 126px,#82ff00 134px,#80ff00 142px,#6f0 148px,#00ff07 164px,#00ff45 172px,#00fff8 192px,#00f6ff 194px,#0086ff 208px,#0048ff 222px,#0020ff 234px,#000bff 246px,#00f 290px,#0012ff 328px,#0020ff 334px,#005bff 350px,#0065ff 356px,#0065ff 358px,#0039ff 362px,#003cff 364px,#004eff 370px,#009aff 386px,#00fffd 404px,#00ff89 420px,#01ff00 437px,#15ff00 439px,#c3ff00 453px,#edff00 459px,#fffc00 465px,#ffe300 475px,#ffda00 485px,#ffe400 493px,#fffd00 501px,#e0ff00 507px,#c0ff00 509px,#0cff00 517px,#0f1 519px,#00ff9b 531px,#00fffc 541px,#0ef 543px,#008cff 553px,#0053ff 561px,#0020ff 569px,#000cff 575px,#00f 697px)"></i>
<i style="background:linear-gradient(90deg,#00f 0,#0001ff 26px,#0012ff 34px,#00a0ff 64px,#00fffe 80px,#00ffc9 86px,#00ff34 100px,#00ff03 106px,#69ff00 126px,#80ff00 134px,#7dff00 142px,#65ff00 148px,#00ff05 164px,#00fbff 194px,#00a7ff 204px,#007fff 210px,#0020ff 234px,#000bff 246px,#00f 288px,#01f 328px,#0053ff 350px,#005cff 356px,#0053ff 358px,#0034ff 360px,#0038ff 364px,#004cff 370px,#009aff 386px,#00f7ff 402px,#00fffa 404px,#00ffb1 414px,#00ff05 434px,#26ff00 439px,#beff00 451px,#eaff00 457px,#fffb00 465px,#ffe000 483px,#ffe700 491px,#fffb00 499px,#ebff00 505px,#d8ff00 507px,#b4ff00 509px,#25ff00 515px,#01ff00 517px,#00ff78 527px,#0ff 541px,#007dff 555px,#002bff 567px,#000cff 575px,#00f 697px)"></i>
<i style="background:linear-gradient(90deg,#00f 0,#0001ff 26px,#0012ff 34px,#00a1ff 64px,#00fffd 80px,#00ffc8 86px,#0f3 100px,#00ff03 106px,#67ff00 126px,#7dff00 134px,#7bff00 142px,#58ff00 150px,#00ff04 164px,#00ff40 172px,#0ff 194px,#0082ff 210px,#0021ff 234px,#000bff 246px,#00f 288px,#01f 328px,#0051ff 354px,#004fff 356px,#002eff 360px,#0035ff 364px,#009bff 386px,#00f9ff 402px,#00ffac 414px,#00ff0b 432px,#08ff00 434px,#36ff00 439px,#b7ff00 449px,#dbff00 453px,#ef0 457px,#ff0 463px,#ffea00 473px,#ffe300 483px,#ffea00 491px,#fffe00 499px,#e8ff00 505px,#d0ff00 507px,#17ff00 515px,#00ff09 517px,#00ff7e 527px,#00fcff 541px,#007dff 555px,#002bff 567px,#000cff 575px,#00f 697px)"></i>
<i style="background:linear-gradient(90deg,#00f 0,#0001ff 26px,#0013ff 34px,#00a2ff 64px,#00fffb 80px,#00ffc6 86px,#0f3 100px,#00ff03 106px,#65ff00 126px,#7bff00 134px,#79ff00 142px,#57ff00 150px,#00ff04 164px,#00ff4e 174px,#00fffc 194px,#00f2ff 196px,#0085ff 210px,#0045ff 224px,#001cff 236px,#000aff 248px,#00f 290px,#0010ff 328px,#0047ff 354px,#003fff 356px,#002bff 358px,#002dff 362px,#0041ff 368px,#009cff 386px,#00fcff 402px,#00ffa5 414px,#01ff00 432px,#c4ff00 449px,#ecff00 455px,#fffd00 463px,#ffe500 481px,#fffb00 497px,#e4ff00 505px,#c7ff00 507px,#0aff00 515px,#00ff13 517px,#00ff85 527px,#00f9ff 541px,#007dff 555px,#002cff 567px,#000cff 575px,#00f 697px)"></i>
<i style="background:linear-gradient(90deg,#00f 0,#00f 24px,#000cff 32px,#002cff 40px,#09f 62px,#00f6ff 78px,#00fffa 80px,#00ffd9 84px,#00ff46 98px,#00ff03 106px,#64ff00 126px,#7aff00 134px,#78ff00 142px,#56ff00 150px,#00ff03 164px,#00ff4d 174px,#00fff9 194px,#00f5ff 196px,#00a3ff 206px,#007dff 212px,#003eff 226px,#001dff 236px,#000aff 248px,#00f 290px,#000fff 328px,#003bff 352px,#003aff 354px,#0024ff 358px,#002aff 362px,#0041ff 368px,#009eff 386px,#0ff 402px,#00ff9f 414px,#00ff07 430px,#0dff00 432px,#bf0 447px,#e8ff00 453px,#feff00 461px,#ffe700 481px,#fffe00 497px,#e0ff00 505px,#bcff00 507px,#23ff00 513px,#00ff02 515px,#00ff78 525px,#00fff5 539px,#00f6ff 541px,#009bff 551px,#0045ff 563px,#0021ff 569px,#000cff 575px,#00f 697px)"></i>
<i style="background:linear-gradient(90deg,#00f 0,#00f 24px,#000dff 32px,#002cff 40px,#09f 62px,#00f6ff 78px,#00fffa 80px,#00ffd8 84px,#00ff45 98px,#00ff03 106px,#63ff00 126px,#79ff00 134px,#7f0 142px,#56ff00 150px,#00ff02 164px,#00ff4b 174px,#00fff7 194px,#00f8ff 196px,#00a6ff 206px,#007fff 212px,#003fff 226px,#001dff 236px,#000aff 248px,#00f 290px,#000eff 328px,#0031ff 352px,#0023ff 356px,#0023ff 360px,#0041ff 368px,#00fffd 402px,#00ffab 412px,#00ff10 428px,#04ff00 430px,#1aff00 432px,#b1ff00 445px,#d7ff00 449px,#ecff00 453px,#fffe00 461px,#ffe900 479px,#fffb00 495px,#ecff00 503px,#daff00 505px,#b1ff00 507px,#13ff00 513px,#00ff0d 515px,#00ff7f 525px,#00fff9 539px,#00f3ff 541px,#009bff 551px,#0046ff 563px,#0021ff 569px,#000cff 575px,#00f 697px)"></i>
<i style="background:linear-gradient(90deg,#00f 0,#00f 24px,#000dff 32px,#002cff 40px,#009aff 62px,#00f7ff 78px,#00fff9 80px,#00ffd7 84px,#00ff45 98px,#00ff03 106px,#63ff00 126px,#78ff00 134px,#76ff00 142px,#5f0 150px,#00ff02 164px,#00ff3a 172px,#00ffe5 192px,#00f9ff 196px,#0081ff 212px,#0040ff 226px,#001dff 236px,#000bff 246px,#00f 288px,#000eff 330px,#0025ff 350px,#001bff 356px,#0020ff 360px,#0042ff 368px,#00f6ff 400px,#00fffa 402px,#00ffca 408px,#00ff06 428px,#26ff00 432px,#bf0 445px,#e8ff00 451px,#fffd00 461px,#ffea00 477px,#fffc00 495px,#eaff00 503px,#d3ff00 505px,#a5ff00 507px,#32ff00 511px,#06ff00 513px,#00ff17 515px,#00ff73 523px,#00fffd 539px,#009aff 551px,#0046ff 563px,#0021ff 569px,#000cff 575px,#00f 697px)"></i>
<i style="background:linear-gradient(90deg,#00f 0,#00f 24px,#000dff 32px,#009bff 62px,#00f8ff 78px,#00fff8 80px,#00ffd6 84px,#0f4 98px,#00ff03 106px,#62ff00 126px,#7f0 134px,#76ff00 142px,#5f0 150px,#00ff02 164px,#00ff3a 172px,#00ffe5 192px,#00faff 196px,#0082ff 212px,#0041ff 226px,#001eff 236px,#000bff 246px,#00f 288px,#0019ff 358px,#0039ff 366px,#00f8ff 400px,#00fff8 402px,#00ffc6 408px,#00ff10 426px,#04ff00 428px,#31ff00 432px,#c2ff00 445px,#eaff00 451px,#feff00 459px,#ffeb00 477px,#fffe00 495px,#e9ff00 503px,#cf0 505px,#20ff00 511px,#00ff06 513px,#00ff3b 517px,#00ff7b 523px,#00fdff 539px,#09f 551px,#0039ff 565px,#0018ff 571px,#000cff 575px,#00f 697px)"></i>
<i style="background:linear-gradient(90deg,#00f 0,#00f 24px,#000dff 32px,#009bff 62px,#00f8ff 78px,#00fff8 80px,#00ffd6 84px,#0f4 98px,#00ff03 106px,#62ff00 126px,#7f0 134px,#76ff00 142px,#5f0 150px,#00ff02 164px,#00ff3a 172px,#00ffe5 192px,#00faff 196px,#0082ff 212px,#0041ff 226px,#001eff 236px,#000bff 246px,#00f 288px,#0019ff 358px,#0039ff 366px,#00f8ff 400px,#00fff8 402px,#00ffc6 408px,#00ff10 426px,#04ff00 428px,#31ff00 432px,#c2ff00 445px,#eaff00 451px,#feff00 459px,#ffeb00 477px,#fffe00 495px,#e9ff00 503px,#cf0 505px,#20ff00 511px,#00ff06 513px,#00ff3b 517px,#00ff7b 523px,#00fdff 539px,#09f 551px,#0039ff 565px,#0018ff 571px,#000cff 575px,#00f 697px)"></i>
<i style="background:linear-gradient(90deg,#00f 0,#00f 24px,#000dff 32px,#009bff 62px,#00f8ff 78px,#00fff8 80px,#00ffd6 84px,#0f4 98px,#00ff03 106px,#62ff00 126px,#7f0 134px,#76ff00 142px,#5f0 150px,#00ff02 164px,#00ff3a 172px,#00ffe5 192px,#00faff 196px,#0082ff 212px,#0041ff 226px,#001eff 236px,#000bff 246px,#00f 288px,#0019ff 358px,#0039ff 366px,#00f8ff 400px,#00fff8 402px,#00ffc6 408px,#00ff10 426px,#04ff00 428px,#31ff00 432px,#c2ff00 445px,#eaff00 451px,#feff00 459px,#ffeb00 477px,#fffe00 495px,#e9ff00 503px,#cf0 505px,#20ff00 511px,#00ff06 513px,#00ff3b 517px,#00ff7b 523px,#00fdff 539px,#09f 551px,#0039ff 565px,#0018ff 571px,#000cff 575px,#00f 697px)"></i>
</div></div>
<div class="m" style="left:1437.1px;top:1889.8px">TM</div>
<div class="pl" style="left:1212.1px;top:1889.7px">(f)</div>
<div class="yt" style="left:1404.6px;top:2516.6px">0</div>
<div class="yt" style="left:1404.6px;top:2383.3px">15</div>
<div class="yt" style="left:1404.6px;top:2250px">30</div>
<div class="yt" style="left:1404.6px;top:2116.6px">45</div>
<div class="yt" style="left:1404.6px;top:1983.3px">60</div>
<div class="yt" style="left:1404.6px;top:1850px">75</div>
<div class="xt" style="left:1523.4px;top:2555.6px">0.5</div>
<div class="xt" style="left:1643.1px;top:2555.6px">1.0</div>
<div class="xt" style="left:1762.8px;top:2555.6px">1.5</div>
<div class="xt" style="left:1882.6px;top:2555.6px">2.0</div>
<div class="xt" style="left:2002.3px;top:2555.6px">2.5</div>
<div class="xt" style="left:2122px;top:2555.6px">3.0</div>
<div class="xl" style="left:1774.1px;top:2597.6px">Frequency (THz)</div>
<div class="yl" style="left:1332.1px;top:2184.8px">Incident angle (deg)</div>
<div class="cb" style="left:2167.2px;top:1868px"></div>
<div class="ct" style="left:2206.2px;top:1868px">1</div>
<div class="ct" style="left:2206.2px;top:2510.5px">0</div>
</body></html>
